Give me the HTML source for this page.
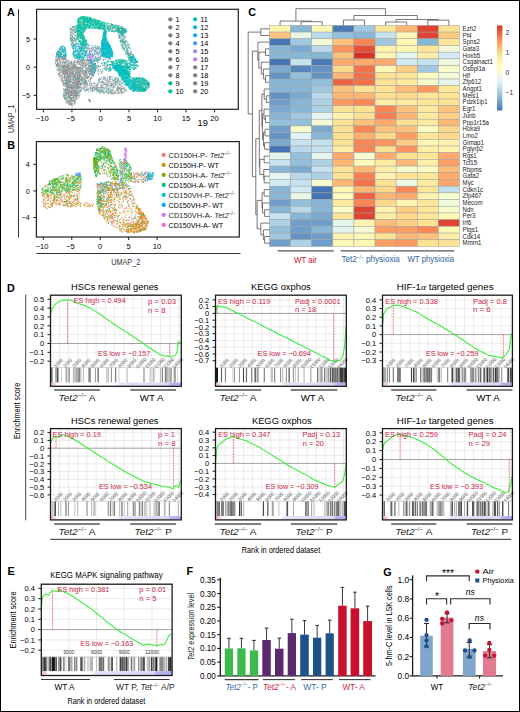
<!DOCTYPE html><html><head><meta charset="utf-8"><style>html,body{margin:0;padding:0;background:#fff;overflow:hidden}svg{display:block}text{font-family:"Liberation Sans",sans-serif}</style></head><body><svg width="520" height="712" viewBox="0 0 520 712"><rect x="0.50" y="0.50" width="519.00" height="711.00" fill="#fff" stroke="#000" stroke-width="1"/>
<text x="7.0" y="15.8" font-size="10.8" fill="#000" font-weight="bold">A</text>
<text x="7.3" y="149.2" font-size="10.8" fill="#000" font-weight="bold">B</text>
<text x="248.2" y="15.6" font-size="10.8" fill="#000" font-weight="bold">C</text>
<text x="7.0" y="291.8" font-size="10.8" fill="#000" font-weight="bold">D</text>
<text x="7.4" y="574.9" font-size="10.8" fill="#000" font-weight="bold">E</text>
<text x="186.4" y="574.7" font-size="10.8" fill="#000" font-weight="bold">F</text>
<text x="383.2" y="575.5" font-size="10.8" fill="#000" font-weight="bold">G</text>
<rect x="36.60" y="9.30" width="201.70" height="100.00" fill="none" stroke="#231f20" stroke-width="1.2"/>
<line x1="33.60" y1="39.00" x2="36.60" y2="39.00" stroke="#231f20" stroke-width="1"/>
<text x="30.0" y="41.6" font-size="7.2" text-anchor="end">5</text>
<line x1="33.60" y1="67.20" x2="36.60" y2="67.20" stroke="#231f20" stroke-width="1"/>
<text x="30.0" y="69.8" font-size="7.2" text-anchor="end">0</text>
<line x1="33.60" y1="95.30" x2="36.60" y2="95.30" stroke="#231f20" stroke-width="1"/>
<text x="30.0" y="97.9" font-size="7.2" text-anchor="end">−5</text>
<line x1="43.40" y1="109.30" x2="43.40" y2="112.30" stroke="#231f20" stroke-width="1"/>
<text x="42.2" y="121.3" font-size="7.6" text-anchor="middle">−10</text>
<line x1="71.93" y1="109.30" x2="71.93" y2="112.30" stroke="#231f20" stroke-width="1"/>
<text x="70.7" y="121.3" font-size="7.6" text-anchor="middle">−5</text>
<line x1="100.46" y1="109.30" x2="100.46" y2="112.30" stroke="#231f20" stroke-width="1"/>
<text x="100.5" y="121.3" font-size="7.6" text-anchor="middle">0</text>
<line x1="128.99" y1="109.30" x2="128.99" y2="112.30" stroke="#231f20" stroke-width="1"/>
<text x="129.0" y="121.3" font-size="7.6" text-anchor="middle">5</text>
<line x1="157.52" y1="109.30" x2="157.52" y2="112.30" stroke="#231f20" stroke-width="1"/>
<text x="157.5" y="121.3" font-size="7.6" text-anchor="middle">10</text>
<line x1="186.05" y1="109.30" x2="186.05" y2="112.30" stroke="#231f20" stroke-width="1"/>
<text x="186.1" y="121.3" font-size="7.6" text-anchor="middle">15</text>
<line x1="214.58" y1="109.30" x2="214.58" y2="112.30" stroke="#231f20" stroke-width="1"/>
<text x="214.6" y="121.3" font-size="7.6" text-anchor="middle">20</text>
<text x="197.6" y="125.9" font-size="9.2">19</text>
<line x1="18.50" y1="9.20" x2="18.50" y2="237.20" stroke="#333" stroke-width="1"/>
<text x="0.0" y="0.0" font-size="8.6" fill="#333" textLength="28.4" lengthAdjust="spacingAndGlyphs" transform="translate(14.3,133) rotate(-90)">UMAP_1</text>
<circle cx="170.3" cy="19.3" r="2.1" fill="#7f7f7f"/>
<text x="175.5" y="21.9" font-size="7.3">1</text>
<circle cx="170.3" cy="27.3" r="2.1" fill="#7f7f7f"/>
<text x="175.5" y="29.9" font-size="7.3">2</text>
<circle cx="170.3" cy="35.3" r="2.1" fill="#7f7f7f"/>
<text x="175.5" y="37.9" font-size="7.3">3</text>
<circle cx="170.3" cy="43.3" r="2.1" fill="#7f7f7f"/>
<text x="175.5" y="45.9" font-size="7.3">4</text>
<circle cx="170.3" cy="51.3" r="2.1" fill="#7f7f7f"/>
<text x="175.5" y="53.9" font-size="7.3">5</text>
<circle cx="170.3" cy="59.3" r="2.1" fill="#7f7f7f"/>
<text x="175.5" y="61.9" font-size="7.3">6</text>
<circle cx="170.3" cy="67.3" r="2.1" fill="#7f7f7f"/>
<text x="175.5" y="69.9" font-size="7.3">7</text>
<circle cx="170.3" cy="75.3" r="2.1" fill="#7f7f7f"/>
<text x="175.5" y="77.9" font-size="7.3">8</text>
<circle cx="170.3" cy="83.3" r="2.1" fill="#00BF7D"/>
<text x="175.5" y="85.9" font-size="7.3">9</text>
<circle cx="170.3" cy="91.3" r="2.1" fill="#00C1A3"/>
<text x="175.5" y="93.9" font-size="7.3">10</text>
<circle cx="195.1" cy="19.3" r="2.1" fill="#00BFC4"/>
<text x="200.3" y="21.9" font-size="7.3">11</text>
<circle cx="195.1" cy="27.3" r="2.1" fill="#00BAE0"/>
<text x="200.3" y="29.9" font-size="7.3">12</text>
<circle cx="195.1" cy="35.3" r="2.1" fill="#00B0F6"/>
<text x="200.3" y="37.9" font-size="7.3">13</text>
<circle cx="195.1" cy="43.3" r="2.1" fill="#35A2FF"/>
<text x="200.3" y="45.9" font-size="7.3">14</text>
<circle cx="195.1" cy="51.3" r="2.1" fill="#9590FF"/>
<text x="200.3" y="53.9" font-size="7.3">15</text>
<circle cx="195.1" cy="59.3" r="2.1" fill="#C77CFF"/>
<text x="200.3" y="61.9" font-size="7.3">16</text>
<circle cx="195.1" cy="67.3" r="2.1" fill="#7f7f7f"/>
<text x="200.3" y="69.9" font-size="7.3">17</text>
<circle cx="195.1" cy="75.3" r="2.1" fill="#7f7f7f"/>
<text x="200.3" y="77.9" font-size="7.3">18</text>
<circle cx="195.1" cy="83.3" r="2.1" fill="#7f7f7f"/>
<text x="200.3" y="85.9" font-size="7.3">19</text>
<circle cx="195.1" cy="91.3" r="2.1" fill="#7f7f7f"/>
<text x="200.3" y="93.9" font-size="7.3">20</text>
<rect x="36.40" y="141.60" width="202.90" height="95.40" fill="none" stroke="#231f20" stroke-width="1.2"/>
<line x1="33.40" y1="164.30" x2="36.40" y2="164.30" stroke="#231f20" stroke-width="1"/>
<text x="29.8" y="166.9" font-size="7.2" text-anchor="end">4</text>
<line x1="33.40" y1="190.90" x2="36.40" y2="190.90" stroke="#231f20" stroke-width="1"/>
<text x="29.8" y="193.5" font-size="7.2" text-anchor="end">0</text>
<line x1="33.40" y1="217.50" x2="36.40" y2="217.50" stroke="#231f20" stroke-width="1"/>
<text x="29.8" y="220.1" font-size="7.2" text-anchor="end">−4</text>
<line x1="43.30" y1="237.00" x2="43.30" y2="240.00" stroke="#231f20" stroke-width="1"/>
<text x="42.1" y="249.3" font-size="7.6" text-anchor="middle">−10</text>
<line x1="71.75" y1="237.00" x2="71.75" y2="240.00" stroke="#231f20" stroke-width="1"/>
<text x="70.5" y="249.3" font-size="7.6" text-anchor="middle">−5</text>
<line x1="100.20" y1="237.00" x2="100.20" y2="240.00" stroke="#231f20" stroke-width="1"/>
<text x="100.2" y="249.3" font-size="7.6" text-anchor="middle">0</text>
<line x1="128.65" y1="237.00" x2="128.65" y2="240.00" stroke="#231f20" stroke-width="1"/>
<text x="128.6" y="249.3" font-size="7.6" text-anchor="middle">5</text>
<line x1="157.10" y1="237.00" x2="157.10" y2="240.00" stroke="#231f20" stroke-width="1"/>
<text x="157.1" y="249.3" font-size="7.6" text-anchor="middle">10</text>
<line x1="36.30" y1="253.50" x2="240.50" y2="253.50" stroke="#333" stroke-width="1"/>
<text x="111.2" y="265.2" font-size="8.6" fill="#333" textLength="29" lengthAdjust="spacingAndGlyphs">UMAP_2</text>
<circle cx="163.7" cy="154.9" r="2.1" fill="#F8766D"/>
<text x="168.5" y="158.0" font-size="7.6" fill="#231f20" textLength="62.6" lengthAdjust="spacingAndGlyphs">CD150H-P- <tspan font-style="italic">Tet2</tspan><tspan font-size="4.8" dy="-3.0">−/−</tspan></text>
<circle cx="163.7" cy="164.9" r="2.1" fill="#CD9600"/>
<text x="168.5" y="168.0" font-size="7.6" textLength="50.4" lengthAdjust="spacingAndGlyphs">CD150H-P- WT</text>
<circle cx="163.7" cy="174.9" r="2.1" fill="#7CAE00"/>
<text x="168.5" y="178.0" font-size="7.6" fill="#231f20" textLength="63.0" lengthAdjust="spacingAndGlyphs">CD150H-A- <tspan font-style="italic">Tet2</tspan><tspan font-size="4.8" dy="-3.0">−/−</tspan></text>
<circle cx="163.7" cy="184.9" r="2.1" fill="#00BE67"/>
<text x="168.5" y="188.0" font-size="7.6" textLength="50.7" lengthAdjust="spacingAndGlyphs">CD150H-A- WT</text>
<circle cx="163.7" cy="194.9" r="2.1" fill="#00BFC4"/>
<text x="168.5" y="198.0" font-size="7.6" fill="#231f20" textLength="66.9" lengthAdjust="spacingAndGlyphs">CD150VH-P- <tspan font-style="italic">Tet2</tspan><tspan font-size="4.8" dy="-3.0">−/−</tspan></text>
<circle cx="163.7" cy="204.9" r="2.1" fill="#00A9FF"/>
<text x="168.5" y="208.0" font-size="7.6" textLength="54.9" lengthAdjust="spacingAndGlyphs">CD150VH-P- WT</text>
<circle cx="163.7" cy="214.9" r="2.1" fill="#C77CFF"/>
<text x="168.5" y="218.0" font-size="7.6" fill="#231f20" textLength="66.9" lengthAdjust="spacingAndGlyphs">CD150VH-A- <tspan font-style="italic">Tet2</tspan><tspan font-size="4.8" dy="-3.0">−/−</tspan></text>
<circle cx="163.7" cy="224.9" r="2.1" fill="#FF61CC"/>
<text x="168.5" y="228.0" font-size="7.6" textLength="54.6" lengthAdjust="spacingAndGlyphs">CD150VH-A- WT</text>
<rect x="269.50" y="25.40" width="21.11" height="6.70" fill="#fff3ad" stroke="#a0a0a0" stroke-width="0.5"/>
<rect x="290.61" y="25.40" width="21.11" height="6.70" fill="#87b6d6" stroke="#a0a0a0" stroke-width="0.5"/>
<rect x="311.72" y="25.40" width="21.11" height="6.70" fill="#fff8b4" stroke="#a0a0a0" stroke-width="0.5"/>
<rect x="332.83" y="25.40" width="21.11" height="6.70" fill="#4b7bb7" stroke="#a0a0a0" stroke-width="0.5"/>
<rect x="353.94" y="25.40" width="21.11" height="6.70" fill="#a0c9e1" stroke="#a0a0a0" stroke-width="0.5"/>
<rect x="375.05" y="25.40" width="21.11" height="6.70" fill="#fee699" stroke="#a0a0a0" stroke-width="0.5"/>
<rect x="396.16" y="25.40" width="21.11" height="6.70" fill="#fdb674" stroke="#a0a0a0" stroke-width="0.5"/>
<rect x="417.27" y="25.40" width="21.11" height="6.70" fill="#df4432" stroke="#a0a0a0" stroke-width="0.5"/>
<rect x="438.38" y="25.40" width="21.11" height="6.70" fill="#fee293" stroke="#a0a0a0" stroke-width="0.5"/>
<rect x="269.50" y="32.10" width="21.11" height="6.70" fill="#fdc27c" stroke="#a0a0a0" stroke-width="0.5"/>
<rect x="290.61" y="32.10" width="21.11" height="6.70" fill="#e9f7e7" stroke="#a0a0a0" stroke-width="0.5"/>
<rect x="311.72" y="32.10" width="21.11" height="6.70" fill="#b9d9ea" stroke="#a0a0a0" stroke-width="0.5"/>
<rect x="332.83" y="32.10" width="21.11" height="6.70" fill="#93c1dc" stroke="#a0a0a0" stroke-width="0.5"/>
<rect x="353.94" y="32.10" width="21.11" height="6.70" fill="#87b6d6" stroke="#a0a0a0" stroke-width="0.5"/>
<rect x="375.05" y="32.10" width="21.11" height="6.70" fill="#c6e2ee" stroke="#a0a0a0" stroke-width="0.5"/>
<rect x="396.16" y="32.10" width="21.11" height="6.70" fill="#fffab7" stroke="#a0a0a0" stroke-width="0.5"/>
<rect x="417.27" y="32.10" width="21.11" height="6.70" fill="#df4432" stroke="#a0a0a0" stroke-width="0.5"/>
<rect x="438.38" y="32.10" width="21.11" height="6.70" fill="#fecd84" stroke="#a0a0a0" stroke-width="0.5"/>
<rect x="269.50" y="38.80" width="21.11" height="6.70" fill="#4575b4" stroke="#a0a0a0" stroke-width="0.5"/>
<rect x="290.61" y="38.80" width="21.11" height="6.70" fill="#a0c9e1" stroke="#a0a0a0" stroke-width="0.5"/>
<rect x="311.72" y="38.80" width="21.11" height="6.70" fill="#f3fad5" stroke="#a0a0a0" stroke-width="0.5"/>
<rect x="332.83" y="38.80" width="21.11" height="6.70" fill="#fdc27c" stroke="#a0a0a0" stroke-width="0.5"/>
<rect x="353.94" y="38.80" width="21.11" height="6.70" fill="#f98655" stroke="#a0a0a0" stroke-width="0.5"/>
<rect x="375.05" y="38.80" width="21.11" height="6.70" fill="#a0c9e1" stroke="#a0a0a0" stroke-width="0.5"/>
<rect x="396.16" y="38.80" width="21.11" height="6.70" fill="#fff8b4" stroke="#a0a0a0" stroke-width="0.5"/>
<rect x="417.27" y="38.80" width="21.11" height="6.70" fill="#87b6d6" stroke="#a0a0a0" stroke-width="0.5"/>
<rect x="438.38" y="38.80" width="21.11" height="6.70" fill="#fee699" stroke="#a0a0a0" stroke-width="0.5"/>
<rect x="269.50" y="45.50" width="21.11" height="6.70" fill="#87b6d6" stroke="#a0a0a0" stroke-width="0.5"/>
<rect x="290.61" y="45.50" width="21.11" height="6.70" fill="#7baad0" stroke="#a0a0a0" stroke-width="0.5"/>
<rect x="311.72" y="45.50" width="21.11" height="6.70" fill="#b9d9ea" stroke="#a0a0a0" stroke-width="0.5"/>
<rect x="332.83" y="45.50" width="21.11" height="6.70" fill="#fc925d" stroke="#a0a0a0" stroke-width="0.5"/>
<rect x="353.94" y="45.50" width="21.11" height="6.70" fill="#e45139" stroke="#a0a0a0" stroke-width="0.5"/>
<rect x="375.05" y="45.50" width="21.11" height="6.70" fill="#fff3ad" stroke="#a0a0a0" stroke-width="0.5"/>
<rect x="396.16" y="45.50" width="21.11" height="6.70" fill="#fff8b4" stroke="#a0a0a0" stroke-width="0.5"/>
<rect x="417.27" y="45.50" width="21.11" height="6.70" fill="#fee699" stroke="#a0a0a0" stroke-width="0.5"/>
<rect x="438.38" y="45.50" width="21.11" height="6.70" fill="#f3fad5" stroke="#a0a0a0" stroke-width="0.5"/>
<rect x="269.50" y="52.20" width="21.11" height="6.70" fill="#87b6d6" stroke="#a0a0a0" stroke-width="0.5"/>
<rect x="290.61" y="52.20" width="21.11" height="6.70" fill="#87b6d6" stroke="#a0a0a0" stroke-width="0.5"/>
<rect x="311.72" y="52.20" width="21.11" height="6.70" fill="#87b6d6" stroke="#a0a0a0" stroke-width="0.5"/>
<rect x="332.83" y="52.20" width="21.11" height="6.70" fill="#fdc27c" stroke="#a0a0a0" stroke-width="0.5"/>
<rect x="353.94" y="52.20" width="21.11" height="6.70" fill="#d73027" stroke="#a0a0a0" stroke-width="0.5"/>
<rect x="375.05" y="52.20" width="21.11" height="6.70" fill="#fff8b4" stroke="#a0a0a0" stroke-width="0.5"/>
<rect x="396.16" y="52.20" width="21.11" height="6.70" fill="#e4f5f0" stroke="#a0a0a0" stroke-width="0.5"/>
<rect x="417.27" y="52.20" width="21.11" height="6.70" fill="#feefa7" stroke="#a0a0a0" stroke-width="0.5"/>
<rect x="438.38" y="52.20" width="21.11" height="6.70" fill="#d2eaf3" stroke="#a0a0a0" stroke-width="0.5"/>
<rect x="269.50" y="58.90" width="21.11" height="6.70" fill="#4575b4" stroke="#a0a0a0" stroke-width="0.5"/>
<rect x="290.61" y="58.90" width="21.11" height="6.70" fill="#c6e2ee" stroke="#a0a0a0" stroke-width="0.5"/>
<rect x="311.72" y="58.90" width="21.11" height="6.70" fill="#4b7bb7" stroke="#a0a0a0" stroke-width="0.5"/>
<rect x="332.83" y="58.90" width="21.11" height="6.70" fill="#fdaa6c" stroke="#a0a0a0" stroke-width="0.5"/>
<rect x="353.94" y="58.90" width="21.11" height="6.70" fill="#fdaa6c" stroke="#a0a0a0" stroke-width="0.5"/>
<rect x="375.05" y="58.90" width="21.11" height="6.70" fill="#fdaa6c" stroke="#a0a0a0" stroke-width="0.5"/>
<rect x="396.16" y="58.90" width="21.11" height="6.70" fill="#d2eaf3" stroke="#a0a0a0" stroke-width="0.5"/>
<rect x="417.27" y="58.90" width="21.11" height="6.70" fill="#c6e2ee" stroke="#a0a0a0" stroke-width="0.5"/>
<rect x="438.38" y="58.90" width="21.11" height="6.70" fill="#eef9de" stroke="#a0a0a0" stroke-width="0.5"/>
<rect x="269.50" y="65.60" width="21.11" height="6.70" fill="#7baad0" stroke="#a0a0a0" stroke-width="0.5"/>
<rect x="290.61" y="65.60" width="21.11" height="6.70" fill="#5786bd" stroke="#a0a0a0" stroke-width="0.5"/>
<rect x="311.72" y="65.60" width="21.11" height="6.70" fill="#6392c3" stroke="#a0a0a0" stroke-width="0.5"/>
<rect x="332.83" y="65.60" width="21.11" height="6.70" fill="#fed98b" stroke="#a0a0a0" stroke-width="0.5"/>
<rect x="353.94" y="65.60" width="21.11" height="6.70" fill="#f1724b" stroke="#a0a0a0" stroke-width="0.5"/>
<rect x="375.05" y="65.60" width="21.11" height="6.70" fill="#fff8b4" stroke="#a0a0a0" stroke-width="0.5"/>
<rect x="396.16" y="65.60" width="21.11" height="6.70" fill="#fecd84" stroke="#a0a0a0" stroke-width="0.5"/>
<rect x="417.27" y="65.60" width="21.11" height="6.70" fill="#a0c9e1" stroke="#a0a0a0" stroke-width="0.5"/>
<rect x="438.38" y="65.60" width="21.11" height="6.70" fill="#f8fccb" stroke="#a0a0a0" stroke-width="0.5"/>
<rect x="269.50" y="72.30" width="21.11" height="6.70" fill="#6392c3" stroke="#a0a0a0" stroke-width="0.5"/>
<rect x="290.61" y="72.30" width="21.11" height="6.70" fill="#93c1dc" stroke="#a0a0a0" stroke-width="0.5"/>
<rect x="311.72" y="72.30" width="21.11" height="6.70" fill="#6392c3" stroke="#a0a0a0" stroke-width="0.5"/>
<rect x="332.83" y="72.30" width="21.11" height="6.70" fill="#fdb674" stroke="#a0a0a0" stroke-width="0.5"/>
<rect x="353.94" y="72.30" width="21.11" height="6.70" fill="#f1724b" stroke="#a0a0a0" stroke-width="0.5"/>
<rect x="375.05" y="72.30" width="21.11" height="6.70" fill="#fee293" stroke="#a0a0a0" stroke-width="0.5"/>
<rect x="396.16" y="72.30" width="21.11" height="6.70" fill="#fee699" stroke="#a0a0a0" stroke-width="0.5"/>
<rect x="417.27" y="72.30" width="21.11" height="6.70" fill="#fdfec2" stroke="#a0a0a0" stroke-width="0.5"/>
<rect x="438.38" y="72.30" width="21.11" height="6.70" fill="#f3fad5" stroke="#a0a0a0" stroke-width="0.5"/>
<rect x="269.50" y="79.00" width="21.11" height="6.70" fill="#87b6d6" stroke="#a0a0a0" stroke-width="0.5"/>
<rect x="290.61" y="79.00" width="21.11" height="6.70" fill="#87b6d6" stroke="#a0a0a0" stroke-width="0.5"/>
<rect x="311.72" y="79.00" width="21.11" height="6.70" fill="#93c1dc" stroke="#a0a0a0" stroke-width="0.5"/>
<rect x="332.83" y="79.00" width="21.11" height="6.70" fill="#ec6543" stroke="#a0a0a0" stroke-width="0.5"/>
<rect x="353.94" y="79.00" width="21.11" height="6.70" fill="#f1724b" stroke="#a0a0a0" stroke-width="0.5"/>
<rect x="375.05" y="79.00" width="21.11" height="6.70" fill="#fee293" stroke="#a0a0a0" stroke-width="0.5"/>
<rect x="396.16" y="79.00" width="21.11" height="6.70" fill="#feeba0" stroke="#a0a0a0" stroke-width="0.5"/>
<rect x="417.27" y="79.00" width="21.11" height="6.70" fill="#f8fccb" stroke="#a0a0a0" stroke-width="0.5"/>
<rect x="438.38" y="79.00" width="21.11" height="6.70" fill="#e4f5f0" stroke="#a0a0a0" stroke-width="0.5"/>
<rect x="269.50" y="85.70" width="21.11" height="6.70" fill="#87b6d6" stroke="#a0a0a0" stroke-width="0.5"/>
<rect x="290.61" y="85.70" width="21.11" height="6.70" fill="#87b6d6" stroke="#a0a0a0" stroke-width="0.5"/>
<rect x="311.72" y="85.70" width="21.11" height="6.70" fill="#a0c9e1" stroke="#a0a0a0" stroke-width="0.5"/>
<rect x="332.83" y="85.70" width="21.11" height="6.70" fill="#fdc27c" stroke="#a0a0a0" stroke-width="0.5"/>
<rect x="353.94" y="85.70" width="21.11" height="6.70" fill="#fee293" stroke="#a0a0a0" stroke-width="0.5"/>
<rect x="375.05" y="85.70" width="21.11" height="6.70" fill="#fee293" stroke="#a0a0a0" stroke-width="0.5"/>
<rect x="396.16" y="85.70" width="21.11" height="6.70" fill="#fdbc78" stroke="#a0a0a0" stroke-width="0.5"/>
<rect x="417.27" y="85.70" width="21.11" height="6.70" fill="#fc9860" stroke="#a0a0a0" stroke-width="0.5"/>
<rect x="438.38" y="85.70" width="21.11" height="6.70" fill="#fee699" stroke="#a0a0a0" stroke-width="0.5"/>
<rect x="269.50" y="92.40" width="21.11" height="6.70" fill="#6392c3" stroke="#a0a0a0" stroke-width="0.5"/>
<rect x="290.61" y="92.40" width="21.11" height="6.70" fill="#7baad0" stroke="#a0a0a0" stroke-width="0.5"/>
<rect x="311.72" y="92.40" width="21.11" height="6.70" fill="#b9d9ea" stroke="#a0a0a0" stroke-width="0.5"/>
<rect x="332.83" y="92.40" width="21.11" height="6.70" fill="#fdb674" stroke="#a0a0a0" stroke-width="0.5"/>
<rect x="353.94" y="92.40" width="21.11" height="6.70" fill="#fdb674" stroke="#a0a0a0" stroke-width="0.5"/>
<rect x="375.05" y="92.40" width="21.11" height="6.70" fill="#fee293" stroke="#a0a0a0" stroke-width="0.5"/>
<rect x="396.16" y="92.40" width="21.11" height="6.70" fill="#fed98b" stroke="#a0a0a0" stroke-width="0.5"/>
<rect x="417.27" y="92.40" width="21.11" height="6.70" fill="#fee699" stroke="#a0a0a0" stroke-width="0.5"/>
<rect x="438.38" y="92.40" width="21.11" height="6.70" fill="#fee293" stroke="#a0a0a0" stroke-width="0.5"/>
<rect x="269.50" y="99.10" width="21.11" height="6.70" fill="#6f9eca" stroke="#a0a0a0" stroke-width="0.5"/>
<rect x="290.61" y="99.10" width="21.11" height="6.70" fill="#87b6d6" stroke="#a0a0a0" stroke-width="0.5"/>
<rect x="311.72" y="99.10" width="21.11" height="6.70" fill="#add1e5" stroke="#a0a0a0" stroke-width="0.5"/>
<rect x="332.83" y="99.10" width="21.11" height="6.70" fill="#fc9860" stroke="#a0a0a0" stroke-width="0.5"/>
<rect x="353.94" y="99.10" width="21.11" height="6.70" fill="#f98655" stroke="#a0a0a0" stroke-width="0.5"/>
<rect x="375.05" y="99.10" width="21.11" height="6.70" fill="#feefa7" stroke="#a0a0a0" stroke-width="0.5"/>
<rect x="396.16" y="99.10" width="21.11" height="6.70" fill="#feeba0" stroke="#a0a0a0" stroke-width="0.5"/>
<rect x="417.27" y="99.10" width="21.11" height="6.70" fill="#fee699" stroke="#a0a0a0" stroke-width="0.5"/>
<rect x="438.38" y="99.10" width="21.11" height="6.70" fill="#fee293" stroke="#a0a0a0" stroke-width="0.5"/>
<rect x="269.50" y="105.80" width="21.11" height="6.70" fill="#7baad0" stroke="#a0a0a0" stroke-width="0.5"/>
<rect x="290.61" y="105.80" width="21.11" height="6.70" fill="#87b6d6" stroke="#a0a0a0" stroke-width="0.5"/>
<rect x="311.72" y="105.80" width="21.11" height="6.70" fill="#add1e5" stroke="#a0a0a0" stroke-width="0.5"/>
<rect x="332.83" y="105.80" width="21.11" height="6.70" fill="#fee293" stroke="#a0a0a0" stroke-width="0.5"/>
<rect x="353.94" y="105.80" width="21.11" height="6.70" fill="#fee293" stroke="#a0a0a0" stroke-width="0.5"/>
<rect x="375.05" y="105.80" width="21.11" height="6.70" fill="#f98655" stroke="#a0a0a0" stroke-width="0.5"/>
<rect x="396.16" y="105.80" width="21.11" height="6.70" fill="#fdc27c" stroke="#a0a0a0" stroke-width="0.5"/>
<rect x="417.27" y="105.80" width="21.11" height="6.70" fill="#feeba0" stroke="#a0a0a0" stroke-width="0.5"/>
<rect x="438.38" y="105.80" width="21.11" height="6.70" fill="#fdc27c" stroke="#a0a0a0" stroke-width="0.5"/>
<rect x="269.50" y="112.50" width="21.11" height="6.70" fill="#87b6d6" stroke="#a0a0a0" stroke-width="0.5"/>
<rect x="290.61" y="112.50" width="21.11" height="6.70" fill="#a0c9e1" stroke="#a0a0a0" stroke-width="0.5"/>
<rect x="311.72" y="112.50" width="21.11" height="6.70" fill="#e4f5f0" stroke="#a0a0a0" stroke-width="0.5"/>
<rect x="332.83" y="112.50" width="21.11" height="6.70" fill="#fff3ad" stroke="#a0a0a0" stroke-width="0.5"/>
<rect x="353.94" y="112.50" width="21.11" height="6.70" fill="#fee293" stroke="#a0a0a0" stroke-width="0.5"/>
<rect x="375.05" y="112.50" width="21.11" height="6.70" fill="#f77f52" stroke="#a0a0a0" stroke-width="0.5"/>
<rect x="396.16" y="112.50" width="21.11" height="6.70" fill="#fdb674" stroke="#a0a0a0" stroke-width="0.5"/>
<rect x="417.27" y="112.50" width="21.11" height="6.70" fill="#feeba0" stroke="#a0a0a0" stroke-width="0.5"/>
<rect x="438.38" y="112.50" width="21.11" height="6.70" fill="#fecd84" stroke="#a0a0a0" stroke-width="0.5"/>
<rect x="269.50" y="119.20" width="21.11" height="6.70" fill="#93c1dc" stroke="#a0a0a0" stroke-width="0.5"/>
<rect x="290.61" y="119.20" width="21.11" height="6.70" fill="#93c1dc" stroke="#a0a0a0" stroke-width="0.5"/>
<rect x="311.72" y="119.20" width="21.11" height="6.70" fill="#f3fad5" stroke="#a0a0a0" stroke-width="0.5"/>
<rect x="332.83" y="119.20" width="21.11" height="6.70" fill="#fee293" stroke="#a0a0a0" stroke-width="0.5"/>
<rect x="353.94" y="119.20" width="21.11" height="6.70" fill="#fdc27c" stroke="#a0a0a0" stroke-width="0.5"/>
<rect x="375.05" y="119.20" width="21.11" height="6.70" fill="#fdaa6c" stroke="#a0a0a0" stroke-width="0.5"/>
<rect x="396.16" y="119.20" width="21.11" height="6.70" fill="#fee293" stroke="#a0a0a0" stroke-width="0.5"/>
<rect x="417.27" y="119.20" width="21.11" height="6.70" fill="#feeba0" stroke="#a0a0a0" stroke-width="0.5"/>
<rect x="438.38" y="119.20" width="21.11" height="6.70" fill="#fdb674" stroke="#a0a0a0" stroke-width="0.5"/>
<rect x="269.50" y="125.90" width="21.11" height="6.70" fill="#6f9eca" stroke="#a0a0a0" stroke-width="0.5"/>
<rect x="290.61" y="125.90" width="21.11" height="6.70" fill="#f8fccb" stroke="#a0a0a0" stroke-width="0.5"/>
<rect x="311.72" y="125.90" width="21.11" height="6.70" fill="#7baad0" stroke="#a0a0a0" stroke-width="0.5"/>
<rect x="332.83" y="125.90" width="21.11" height="6.70" fill="#fee293" stroke="#a0a0a0" stroke-width="0.5"/>
<rect x="353.94" y="125.90" width="21.11" height="6.70" fill="#f98655" stroke="#a0a0a0" stroke-width="0.5"/>
<rect x="375.05" y="125.90" width="21.11" height="6.70" fill="#fdc27c" stroke="#a0a0a0" stroke-width="0.5"/>
<rect x="396.16" y="125.90" width="21.11" height="6.70" fill="#fdc27c" stroke="#a0a0a0" stroke-width="0.5"/>
<rect x="417.27" y="125.90" width="21.11" height="6.70" fill="#fdfec2" stroke="#a0a0a0" stroke-width="0.5"/>
<rect x="438.38" y="125.90" width="21.11" height="6.70" fill="#fed98b" stroke="#a0a0a0" stroke-width="0.5"/>
<rect x="269.50" y="132.60" width="21.11" height="6.70" fill="#6392c3" stroke="#a0a0a0" stroke-width="0.5"/>
<rect x="290.61" y="132.60" width="21.11" height="6.70" fill="#dff2f8" stroke="#a0a0a0" stroke-width="0.5"/>
<rect x="311.72" y="132.60" width="21.11" height="6.70" fill="#87b6d6" stroke="#a0a0a0" stroke-width="0.5"/>
<rect x="332.83" y="132.60" width="21.11" height="6.70" fill="#fedf8f" stroke="#a0a0a0" stroke-width="0.5"/>
<rect x="353.94" y="132.60" width="21.11" height="6.70" fill="#fdb070" stroke="#a0a0a0" stroke-width="0.5"/>
<rect x="375.05" y="132.60" width="21.11" height="6.70" fill="#fed98b" stroke="#a0a0a0" stroke-width="0.5"/>
<rect x="396.16" y="132.60" width="21.11" height="6.70" fill="#fc9e64" stroke="#a0a0a0" stroke-width="0.5"/>
<rect x="417.27" y="132.60" width="21.11" height="6.70" fill="#fee699" stroke="#a0a0a0" stroke-width="0.5"/>
<rect x="438.38" y="132.60" width="21.11" height="6.70" fill="#fed98b" stroke="#a0a0a0" stroke-width="0.5"/>
<rect x="269.50" y="139.30" width="21.11" height="6.70" fill="#7baad0" stroke="#a0a0a0" stroke-width="0.5"/>
<rect x="290.61" y="139.30" width="21.11" height="6.70" fill="#c6e2ee" stroke="#a0a0a0" stroke-width="0.5"/>
<rect x="311.72" y="139.30" width="21.11" height="6.70" fill="#c6e2ee" stroke="#a0a0a0" stroke-width="0.5"/>
<rect x="332.83" y="139.30" width="21.11" height="6.70" fill="#fee293" stroke="#a0a0a0" stroke-width="0.5"/>
<rect x="353.94" y="139.30" width="21.11" height="6.70" fill="#f98655" stroke="#a0a0a0" stroke-width="0.5"/>
<rect x="375.05" y="139.30" width="21.11" height="6.70" fill="#fc925d" stroke="#a0a0a0" stroke-width="0.5"/>
<rect x="396.16" y="139.30" width="21.11" height="6.70" fill="#fecd84" stroke="#a0a0a0" stroke-width="0.5"/>
<rect x="417.27" y="139.30" width="21.11" height="6.70" fill="#fff8b4" stroke="#a0a0a0" stroke-width="0.5"/>
<rect x="438.38" y="139.30" width="21.11" height="6.70" fill="#fff3ad" stroke="#a0a0a0" stroke-width="0.5"/>
<rect x="269.50" y="146.00" width="21.11" height="6.70" fill="#4575b4" stroke="#a0a0a0" stroke-width="0.5"/>
<rect x="290.61" y="146.00" width="21.11" height="6.70" fill="#b9d9ea" stroke="#a0a0a0" stroke-width="0.5"/>
<rect x="311.72" y="146.00" width="21.11" height="6.70" fill="#c6e2ee" stroke="#a0a0a0" stroke-width="0.5"/>
<rect x="332.83" y="146.00" width="21.11" height="6.70" fill="#feefa7" stroke="#a0a0a0" stroke-width="0.5"/>
<rect x="353.94" y="146.00" width="21.11" height="6.70" fill="#f98655" stroke="#a0a0a0" stroke-width="0.5"/>
<rect x="375.05" y="146.00" width="21.11" height="6.70" fill="#fee293" stroke="#a0a0a0" stroke-width="0.5"/>
<rect x="396.16" y="146.00" width="21.11" height="6.70" fill="#fc925d" stroke="#a0a0a0" stroke-width="0.5"/>
<rect x="417.27" y="146.00" width="21.11" height="6.70" fill="#feefa7" stroke="#a0a0a0" stroke-width="0.5"/>
<rect x="438.38" y="146.00" width="21.11" height="6.70" fill="#fff3ad" stroke="#a0a0a0" stroke-width="0.5"/>
<rect x="269.50" y="152.70" width="21.11" height="6.70" fill="#e4f5f0" stroke="#a0a0a0" stroke-width="0.5"/>
<rect x="290.61" y="152.70" width="21.11" height="6.70" fill="#93c1dc" stroke="#a0a0a0" stroke-width="0.5"/>
<rect x="311.72" y="152.70" width="21.11" height="6.70" fill="#e4f5f0" stroke="#a0a0a0" stroke-width="0.5"/>
<rect x="332.83" y="152.70" width="21.11" height="6.70" fill="#fdaa6c" stroke="#a0a0a0" stroke-width="0.5"/>
<rect x="353.94" y="152.70" width="21.11" height="6.70" fill="#f6fbd0" stroke="#a0a0a0" stroke-width="0.5"/>
<rect x="375.05" y="152.70" width="21.11" height="6.70" fill="#fdaa6c" stroke="#a0a0a0" stroke-width="0.5"/>
<rect x="396.16" y="152.70" width="21.11" height="6.70" fill="#fee293" stroke="#a0a0a0" stroke-width="0.5"/>
<rect x="417.27" y="152.70" width="21.11" height="6.70" fill="#fee699" stroke="#a0a0a0" stroke-width="0.5"/>
<rect x="438.38" y="152.70" width="21.11" height="6.70" fill="#fdaa6c" stroke="#a0a0a0" stroke-width="0.5"/>
<rect x="269.50" y="159.40" width="21.11" height="6.70" fill="#c6e2ee" stroke="#a0a0a0" stroke-width="0.5"/>
<rect x="290.61" y="159.40" width="21.11" height="6.70" fill="#93c1dc" stroke="#a0a0a0" stroke-width="0.5"/>
<rect x="311.72" y="159.40" width="21.11" height="6.70" fill="#add1e5" stroke="#a0a0a0" stroke-width="0.5"/>
<rect x="332.83" y="159.40" width="21.11" height="6.70" fill="#fdb674" stroke="#a0a0a0" stroke-width="0.5"/>
<rect x="353.94" y="159.40" width="21.11" height="6.70" fill="#fffcbb" stroke="#a0a0a0" stroke-width="0.5"/>
<rect x="375.05" y="159.40" width="21.11" height="6.70" fill="#feeba0" stroke="#a0a0a0" stroke-width="0.5"/>
<rect x="396.16" y="159.40" width="21.11" height="6.70" fill="#fdb674" stroke="#a0a0a0" stroke-width="0.5"/>
<rect x="417.27" y="159.40" width="21.11" height="6.70" fill="#fff1aa" stroke="#a0a0a0" stroke-width="0.5"/>
<rect x="438.38" y="159.40" width="21.11" height="6.70" fill="#fc9e64" stroke="#a0a0a0" stroke-width="0.5"/>
<rect x="269.50" y="166.10" width="21.11" height="6.70" fill="#87b6d6" stroke="#a0a0a0" stroke-width="0.5"/>
<rect x="290.61" y="166.10" width="21.11" height="6.70" fill="#7baad0" stroke="#a0a0a0" stroke-width="0.5"/>
<rect x="311.72" y="166.10" width="21.11" height="6.70" fill="#c6e2ee" stroke="#a0a0a0" stroke-width="0.5"/>
<rect x="332.83" y="166.10" width="21.11" height="6.70" fill="#fee293" stroke="#a0a0a0" stroke-width="0.5"/>
<rect x="353.94" y="166.10" width="21.11" height="6.70" fill="#fdb674" stroke="#a0a0a0" stroke-width="0.5"/>
<rect x="375.05" y="166.10" width="21.11" height="6.70" fill="#feefa7" stroke="#a0a0a0" stroke-width="0.5"/>
<rect x="396.16" y="166.10" width="21.11" height="6.70" fill="#f8fccb" stroke="#a0a0a0" stroke-width="0.5"/>
<rect x="417.27" y="166.10" width="21.11" height="6.70" fill="#fdfec2" stroke="#a0a0a0" stroke-width="0.5"/>
<rect x="438.38" y="166.10" width="21.11" height="6.70" fill="#fdbc78" stroke="#a0a0a0" stroke-width="0.5"/>
<rect x="269.50" y="172.80" width="21.11" height="6.70" fill="#e4f5f0" stroke="#a0a0a0" stroke-width="0.5"/>
<rect x="290.61" y="172.80" width="21.11" height="6.70" fill="#b9d9ea" stroke="#a0a0a0" stroke-width="0.5"/>
<rect x="311.72" y="172.80" width="21.11" height="6.70" fill="#add1e5" stroke="#a0a0a0" stroke-width="0.5"/>
<rect x="332.83" y="172.80" width="21.11" height="6.70" fill="#fee293" stroke="#a0a0a0" stroke-width="0.5"/>
<rect x="353.94" y="172.80" width="21.11" height="6.70" fill="#f77f52" stroke="#a0a0a0" stroke-width="0.5"/>
<rect x="375.05" y="172.80" width="21.11" height="6.70" fill="#fff3ad" stroke="#a0a0a0" stroke-width="0.5"/>
<rect x="396.16" y="172.80" width="21.11" height="6.70" fill="#fee293" stroke="#a0a0a0" stroke-width="0.5"/>
<rect x="417.27" y="172.80" width="21.11" height="6.70" fill="#fee699" stroke="#a0a0a0" stroke-width="0.5"/>
<rect x="438.38" y="172.80" width="21.11" height="6.70" fill="#fdaa6c" stroke="#a0a0a0" stroke-width="0.5"/>
<rect x="269.50" y="179.50" width="21.11" height="6.70" fill="#d2eaf3" stroke="#a0a0a0" stroke-width="0.5"/>
<rect x="290.61" y="179.50" width="21.11" height="6.70" fill="#c6e2ee" stroke="#a0a0a0" stroke-width="0.5"/>
<rect x="311.72" y="179.50" width="21.11" height="6.70" fill="#f6fbd0" stroke="#a0a0a0" stroke-width="0.5"/>
<rect x="332.83" y="179.50" width="21.11" height="6.70" fill="#fdb674" stroke="#a0a0a0" stroke-width="0.5"/>
<rect x="353.94" y="179.50" width="21.11" height="6.70" fill="#f1724b" stroke="#a0a0a0" stroke-width="0.5"/>
<rect x="375.05" y="179.50" width="21.11" height="6.70" fill="#fee293" stroke="#a0a0a0" stroke-width="0.5"/>
<rect x="396.16" y="179.50" width="21.11" height="6.70" fill="#ecf8e2" stroke="#a0a0a0" stroke-width="0.5"/>
<rect x="417.27" y="179.50" width="21.11" height="6.70" fill="#feeba0" stroke="#a0a0a0" stroke-width="0.5"/>
<rect x="438.38" y="179.50" width="21.11" height="6.70" fill="#fda468" stroke="#a0a0a0" stroke-width="0.5"/>
<rect x="269.50" y="186.20" width="21.11" height="6.70" fill="#87b6d6" stroke="#a0a0a0" stroke-width="0.5"/>
<rect x="290.61" y="186.20" width="21.11" height="6.70" fill="#d2eaf3" stroke="#a0a0a0" stroke-width="0.5"/>
<rect x="311.72" y="186.20" width="21.11" height="6.70" fill="#4575b4" stroke="#a0a0a0" stroke-width="0.5"/>
<rect x="332.83" y="186.20" width="21.11" height="6.70" fill="#fff6b1" stroke="#a0a0a0" stroke-width="0.5"/>
<rect x="353.94" y="186.20" width="21.11" height="6.70" fill="#fdb674" stroke="#a0a0a0" stroke-width="0.5"/>
<rect x="375.05" y="186.20" width="21.11" height="6.70" fill="#fed98b" stroke="#a0a0a0" stroke-width="0.5"/>
<rect x="396.16" y="186.20" width="21.11" height="6.70" fill="#f98655" stroke="#a0a0a0" stroke-width="0.5"/>
<rect x="417.27" y="186.20" width="21.11" height="6.70" fill="#fee699" stroke="#a0a0a0" stroke-width="0.5"/>
<rect x="438.38" y="186.20" width="21.11" height="6.70" fill="#bfdeec" stroke="#a0a0a0" stroke-width="0.5"/>
<rect x="269.50" y="192.90" width="21.11" height="6.70" fill="#87b6d6" stroke="#a0a0a0" stroke-width="0.5"/>
<rect x="290.61" y="192.90" width="21.11" height="6.70" fill="#e9f7e7" stroke="#a0a0a0" stroke-width="0.5"/>
<rect x="311.72" y="192.90" width="21.11" height="6.70" fill="#4575b4" stroke="#a0a0a0" stroke-width="0.5"/>
<rect x="332.83" y="192.90" width="21.11" height="6.70" fill="#fffcbb" stroke="#a0a0a0" stroke-width="0.5"/>
<rect x="353.94" y="192.90" width="21.11" height="6.70" fill="#ec6543" stroke="#a0a0a0" stroke-width="0.5"/>
<rect x="375.05" y="192.90" width="21.11" height="6.70" fill="#fdb674" stroke="#a0a0a0" stroke-width="0.5"/>
<rect x="396.16" y="192.90" width="21.11" height="6.70" fill="#fdaa6c" stroke="#a0a0a0" stroke-width="0.5"/>
<rect x="417.27" y="192.90" width="21.11" height="6.70" fill="#fff3ad" stroke="#a0a0a0" stroke-width="0.5"/>
<rect x="438.38" y="192.90" width="21.11" height="6.70" fill="#f6fbd0" stroke="#a0a0a0" stroke-width="0.5"/>
<rect x="269.50" y="199.60" width="21.11" height="6.70" fill="#6f9eca" stroke="#a0a0a0" stroke-width="0.5"/>
<rect x="290.61" y="199.60" width="21.11" height="6.70" fill="#93c1dc" stroke="#a0a0a0" stroke-width="0.5"/>
<rect x="311.72" y="199.60" width="21.11" height="6.70" fill="#87b6d6" stroke="#a0a0a0" stroke-width="0.5"/>
<rect x="332.83" y="199.60" width="21.11" height="6.70" fill="#feeba0" stroke="#a0a0a0" stroke-width="0.5"/>
<rect x="353.94" y="199.60" width="21.11" height="6.70" fill="#f98655" stroke="#a0a0a0" stroke-width="0.5"/>
<rect x="375.05" y="199.60" width="21.11" height="6.70" fill="#fed98b" stroke="#a0a0a0" stroke-width="0.5"/>
<rect x="396.16" y="199.60" width="21.11" height="6.70" fill="#fff8b4" stroke="#a0a0a0" stroke-width="0.5"/>
<rect x="417.27" y="199.60" width="21.11" height="6.70" fill="#fee699" stroke="#a0a0a0" stroke-width="0.5"/>
<rect x="438.38" y="199.60" width="21.11" height="6.70" fill="#f1fad9" stroke="#a0a0a0" stroke-width="0.5"/>
<rect x="269.50" y="206.30" width="21.11" height="6.70" fill="#87b6d6" stroke="#a0a0a0" stroke-width="0.5"/>
<rect x="290.61" y="206.30" width="21.11" height="6.70" fill="#b9d9ea" stroke="#a0a0a0" stroke-width="0.5"/>
<rect x="311.72" y="206.30" width="21.11" height="6.70" fill="#87b6d6" stroke="#a0a0a0" stroke-width="0.5"/>
<rect x="332.83" y="206.30" width="21.11" height="6.70" fill="#fbfdc7" stroke="#a0a0a0" stroke-width="0.5"/>
<rect x="353.94" y="206.30" width="21.11" height="6.70" fill="#df4432" stroke="#a0a0a0" stroke-width="0.5"/>
<rect x="375.05" y="206.30" width="21.11" height="6.70" fill="#fff3ad" stroke="#a0a0a0" stroke-width="0.5"/>
<rect x="396.16" y="206.30" width="21.11" height="6.70" fill="#fecd84" stroke="#a0a0a0" stroke-width="0.5"/>
<rect x="417.27" y="206.30" width="21.11" height="6.70" fill="#fee699" stroke="#a0a0a0" stroke-width="0.5"/>
<rect x="438.38" y="206.30" width="21.11" height="6.70" fill="#f8fccb" stroke="#a0a0a0" stroke-width="0.5"/>
<rect x="269.50" y="213.00" width="21.11" height="6.70" fill="#c6e2ee" stroke="#a0a0a0" stroke-width="0.5"/>
<rect x="290.61" y="213.00" width="21.11" height="6.70" fill="#87b6d6" stroke="#a0a0a0" stroke-width="0.5"/>
<rect x="311.72" y="213.00" width="21.11" height="6.70" fill="#7baad0" stroke="#a0a0a0" stroke-width="0.5"/>
<rect x="332.83" y="213.00" width="21.11" height="6.70" fill="#fee699" stroke="#a0a0a0" stroke-width="0.5"/>
<rect x="353.94" y="213.00" width="21.11" height="6.70" fill="#df4432" stroke="#a0a0a0" stroke-width="0.5"/>
<rect x="375.05" y="213.00" width="21.11" height="6.70" fill="#feefa7" stroke="#a0a0a0" stroke-width="0.5"/>
<rect x="396.16" y="213.00" width="21.11" height="6.70" fill="#fed98b" stroke="#a0a0a0" stroke-width="0.5"/>
<rect x="417.27" y="213.00" width="21.11" height="6.70" fill="#fee699" stroke="#a0a0a0" stroke-width="0.5"/>
<rect x="438.38" y="213.00" width="21.11" height="6.70" fill="#fff8b4" stroke="#a0a0a0" stroke-width="0.5"/>
<rect x="269.50" y="219.70" width="21.11" height="6.70" fill="#add1e5" stroke="#a0a0a0" stroke-width="0.5"/>
<rect x="290.61" y="219.70" width="21.11" height="6.70" fill="#6f9eca" stroke="#a0a0a0" stroke-width="0.5"/>
<rect x="311.72" y="219.70" width="21.11" height="6.70" fill="#6f9eca" stroke="#a0a0a0" stroke-width="0.5"/>
<rect x="332.83" y="219.70" width="21.11" height="6.70" fill="#e7f6eb" stroke="#a0a0a0" stroke-width="0.5"/>
<rect x="353.94" y="219.70" width="21.11" height="6.70" fill="#fff3ad" stroke="#a0a0a0" stroke-width="0.5"/>
<rect x="375.05" y="219.70" width="21.11" height="6.70" fill="#fdbc78" stroke="#a0a0a0" stroke-width="0.5"/>
<rect x="396.16" y="219.70" width="21.11" height="6.70" fill="#fecd84" stroke="#a0a0a0" stroke-width="0.5"/>
<rect x="417.27" y="219.70" width="21.11" height="6.70" fill="#fee293" stroke="#a0a0a0" stroke-width="0.5"/>
<rect x="438.38" y="219.70" width="21.11" height="6.70" fill="#df4432" stroke="#a0a0a0" stroke-width="0.5"/>
<rect x="269.50" y="226.40" width="21.11" height="6.70" fill="#93c1dc" stroke="#a0a0a0" stroke-width="0.5"/>
<rect x="290.61" y="226.40" width="21.11" height="6.70" fill="#6f9eca" stroke="#a0a0a0" stroke-width="0.5"/>
<rect x="311.72" y="226.40" width="21.11" height="6.70" fill="#87b6d6" stroke="#a0a0a0" stroke-width="0.5"/>
<rect x="332.83" y="226.40" width="21.11" height="6.70" fill="#e4f5f0" stroke="#a0a0a0" stroke-width="0.5"/>
<rect x="353.94" y="226.40" width="21.11" height="6.70" fill="#f3fad5" stroke="#a0a0a0" stroke-width="0.5"/>
<rect x="375.05" y="226.40" width="21.11" height="6.70" fill="#fc9e64" stroke="#a0a0a0" stroke-width="0.5"/>
<rect x="396.16" y="226.40" width="21.11" height="6.70" fill="#fc9e64" stroke="#a0a0a0" stroke-width="0.5"/>
<rect x="417.27" y="226.40" width="21.11" height="6.70" fill="#f98655" stroke="#a0a0a0" stroke-width="0.5"/>
<rect x="438.38" y="226.40" width="21.11" height="6.70" fill="#fff8b4" stroke="#a0a0a0" stroke-width="0.5"/>
<rect x="269.50" y="233.10" width="21.11" height="6.70" fill="#a0c9e1" stroke="#a0a0a0" stroke-width="0.5"/>
<rect x="290.61" y="233.10" width="21.11" height="6.70" fill="#6392c3" stroke="#a0a0a0" stroke-width="0.5"/>
<rect x="311.72" y="233.10" width="21.11" height="6.70" fill="#6f9eca" stroke="#a0a0a0" stroke-width="0.5"/>
<rect x="332.83" y="233.10" width="21.11" height="6.70" fill="#fff3ad" stroke="#a0a0a0" stroke-width="0.5"/>
<rect x="353.94" y="233.10" width="21.11" height="6.70" fill="#fff8b4" stroke="#a0a0a0" stroke-width="0.5"/>
<rect x="375.05" y="233.10" width="21.11" height="6.70" fill="#fee293" stroke="#a0a0a0" stroke-width="0.5"/>
<rect x="396.16" y="233.10" width="21.11" height="6.70" fill="#fdb674" stroke="#a0a0a0" stroke-width="0.5"/>
<rect x="417.27" y="233.10" width="21.11" height="6.70" fill="#fdc27c" stroke="#a0a0a0" stroke-width="0.5"/>
<rect x="438.38" y="233.10" width="21.11" height="6.70" fill="#feefa7" stroke="#a0a0a0" stroke-width="0.5"/>
<rect x="269.50" y="239.80" width="21.11" height="6.70" fill="#6f9eca" stroke="#a0a0a0" stroke-width="0.5"/>
<rect x="290.61" y="239.80" width="21.11" height="6.70" fill="#add1e5" stroke="#a0a0a0" stroke-width="0.5"/>
<rect x="311.72" y="239.80" width="21.11" height="6.70" fill="#6f9eca" stroke="#a0a0a0" stroke-width="0.5"/>
<rect x="332.83" y="239.80" width="21.11" height="6.70" fill="#fffab7" stroke="#a0a0a0" stroke-width="0.5"/>
<rect x="353.94" y="239.80" width="21.11" height="6.70" fill="#fff8b4" stroke="#a0a0a0" stroke-width="0.5"/>
<rect x="375.05" y="239.80" width="21.11" height="6.70" fill="#fc9e64" stroke="#a0a0a0" stroke-width="0.5"/>
<rect x="396.16" y="239.80" width="21.11" height="6.70" fill="#fc9860" stroke="#a0a0a0" stroke-width="0.5"/>
<rect x="417.27" y="239.80" width="21.11" height="6.70" fill="#fee293" stroke="#a0a0a0" stroke-width="0.5"/>
<rect x="438.38" y="239.80" width="21.11" height="6.70" fill="#fee293" stroke="#a0a0a0" stroke-width="0.5"/>
<text x="462.6" y="30.8" font-size="6.9" fill="#1a1a1a" textLength="13.8225" lengthAdjust="spacingAndGlyphs">Ezh2</text>
<text x="462.6" y="37.5" font-size="6.9" fill="#1a1a1a" textLength="9.1083" lengthAdjust="spacingAndGlyphs">Pf4</text>
<text x="462.6" y="44.1" font-size="6.9" fill="#1a1a1a" textLength="17.1981" lengthAdjust="spacingAndGlyphs">Spns2</text>
<text x="462.6" y="50.9" font-size="6.9" fill="#1a1a1a" textLength="16.5191" lengthAdjust="spacingAndGlyphs">Gata3</text>
<text x="462.6" y="57.6" font-size="6.9" fill="#1a1a1a" textLength="17.537599999999998" lengthAdjust="spacingAndGlyphs">Hoxb5</text>
<text x="462.6" y="64.2" font-size="6.9" fill="#1a1a1a" textLength="30.3416" lengthAdjust="spacingAndGlyphs">Csgalnact1</text>
<text x="462.6" y="70.9" font-size="6.9" fill="#1a1a1a" textLength="22.5816" lengthAdjust="spacingAndGlyphs">Osbpl1a</text>
<text x="462.6" y="77.6" font-size="6.9" fill="#1a1a1a" textLength="7.410799999999999" lengthAdjust="spacingAndGlyphs">Hlf</text>
<text x="462.6" y="84.3" font-size="6.9" fill="#1a1a1a" textLength="18.8859" lengthAdjust="spacingAndGlyphs">Zfp612</text>
<text x="462.6" y="91.0" font-size="6.9" fill="#1a1a1a" textLength="19.2157" lengthAdjust="spacingAndGlyphs">Angpt1</text>
<text x="462.6" y="97.8" font-size="6.9" fill="#1a1a1a" textLength="16.169900000000002" lengthAdjust="spacingAndGlyphs">Meis1</text>
<text x="462.6" y="104.4" font-size="6.9" fill="#1a1a1a" textLength="24.9484" lengthAdjust="spacingAndGlyphs">Pdzk1ip1</text>
<text x="462.6" y="111.2" font-size="6.9" fill="#1a1a1a" textLength="12.803999999999998" lengthAdjust="spacingAndGlyphs">Egr1</text>
<text x="462.6" y="117.8" font-size="6.9" fill="#1a1a1a" textLength="13.1532" lengthAdjust="spacingAndGlyphs">Junb</text>
<text x="462.6" y="124.5" font-size="6.9" fill="#1a1a1a" textLength="26.296699999999998" lengthAdjust="spacingAndGlyphs">Ppp1r15a</text>
<text x="462.6" y="131.2" font-size="6.9" fill="#1a1a1a" textLength="17.537599999999998" lengthAdjust="spacingAndGlyphs">Hoxa9</text>
<text x="462.6" y="137.9" font-size="6.9" fill="#1a1a1a" textLength="15.1708" lengthAdjust="spacingAndGlyphs">Lmo2</text>
<text x="462.6" y="144.7" font-size="6.9" fill="#1a1a1a" textLength="21.2333" lengthAdjust="spacingAndGlyphs">Gimap1</text>
<text x="462.6" y="151.3" font-size="6.9" fill="#1a1a1a" textLength="20.564" lengthAdjust="spacingAndGlyphs">Pglyrp2</text>
<text x="462.6" y="158.0" font-size="6.9" fill="#1a1a1a" textLength="14.1523" lengthAdjust="spacingAndGlyphs">Rgs1</text>
<text x="462.6" y="164.8" font-size="6.9" fill="#1a1a1a" textLength="14.501499999999998" lengthAdjust="spacingAndGlyphs">Tcf15</text>
<text x="462.6" y="171.5" font-size="6.9" fill="#1a1a1a" textLength="19.206" lengthAdjust="spacingAndGlyphs">Rbpms</text>
<text x="462.6" y="178.2" font-size="6.9" fill="#1a1a1a" textLength="16.5191" lengthAdjust="spacingAndGlyphs">Gata2</text>
<text x="462.6" y="184.8" font-size="6.9" fill="#1a1a1a" textLength="11.1259" lengthAdjust="spacingAndGlyphs">Myc</text>
<text x="462.6" y="191.6" font-size="6.9" fill="#1a1a1a" textLength="20.564" lengthAdjust="spacingAndGlyphs">Cdkn1c</text>
<text x="462.6" y="198.2" font-size="6.9" fill="#1a1a1a" textLength="18.8859" lengthAdjust="spacingAndGlyphs">Zfp467</text>
<text x="462.6" y="205.0" font-size="6.9" fill="#1a1a1a" textLength="19.884999999999998" lengthAdjust="spacingAndGlyphs">Mecom</text>
<text x="462.6" y="211.7" font-size="6.9" fill="#1a1a1a" textLength="11.1259" lengthAdjust="spacingAndGlyphs">Ndn</text>
<text x="462.6" y="218.3" font-size="6.9" fill="#1a1a1a" textLength="12.803999999999998" lengthAdjust="spacingAndGlyphs">Per3</text>
<text x="462.6" y="225.1" font-size="6.9" fill="#1a1a1a" textLength="8.759099999999998" lengthAdjust="spacingAndGlyphs">Irf6</text>
<text x="462.6" y="231.8" font-size="6.9" fill="#1a1a1a" textLength="15.5006" lengthAdjust="spacingAndGlyphs">Ptgs1</text>
<text x="462.6" y="238.5" font-size="6.9" fill="#1a1a1a" textLength="17.537599999999998" lengthAdjust="spacingAndGlyphs">Cdk14</text>
<text x="462.6" y="245.2" font-size="6.9" fill="#1a1a1a" textLength="18.8665" lengthAdjust="spacingAndGlyphs">Mmrn1</text>
<defs><linearGradient id="lg" x1="0" y1="1" x2="0" y2="0"><stop offset="0.000" stop-color="#4575b4"/><stop offset="0.167" stop-color="#91bfdb"/><stop offset="0.333" stop-color="#e0f3f8"/><stop offset="0.500" stop-color="#ffffbf"/><stop offset="0.667" stop-color="#fee090"/><stop offset="0.833" stop-color="#fc8d59"/><stop offset="1.000" stop-color="#d73027"/></linearGradient></defs>
<rect x="497.00" y="25.50" width="5.40" height="85.00" fill="url(#lg)"/>
<text x="505.5" y="35.0" font-size="6.8" fill="#333">2</text>
<text x="505.5" y="55.0" font-size="6.8" fill="#333">1</text>
<text x="505.5" y="75.0" font-size="6.8" fill="#333">0</text>
<text x="505.5" y="95.4" font-size="6.8" fill="#333">−1</text>
<polyline fill="none" stroke="#555" stroke-width="0.8" points="301.2,25.4 301.2,21.7 322.3,21.7 322.3,25.4"/>
<polyline fill="none" stroke="#555" stroke-width="0.8" points="280.1,25.4 280.1,21.1 311.7,21.1 311.7,21.7"/>
<polyline fill="none" stroke="#555" stroke-width="0.8" points="343.4,25.4 343.4,20.0 364.5,20.0 364.5,25.4"/>
<polyline fill="none" stroke="#555" stroke-width="0.8" points="385.6,25.4 385.6,22.0 406.7,22.0 406.7,25.4"/>
<polyline fill="none" stroke="#555" stroke-width="0.8" points="427.8,25.4 427.8,20.2 448.9,20.2 448.9,25.4"/>
<polyline fill="none" stroke="#555" stroke-width="0.8" points="396.2,22.0 396.2,19.5 438.4,19.5 438.4,20.2"/>
<polyline fill="none" stroke="#555" stroke-width="0.8" points="353.9,20.0 353.9,15.5 417.3,15.5 417.3,19.5"/>
<polyline fill="none" stroke="#555" stroke-width="0.8" points="295.9,21.1 295.9,8.7 385.6,8.7 385.6,15.5"/>
<line x1="277.70" y1="250.80" x2="333.80" y2="250.80" stroke="#555" stroke-width="1.2"/>
<line x1="340.80" y1="250.80" x2="454.20" y2="250.80" stroke="#555" stroke-width="1.2"/>
<text x="294.0" y="263.3" font-size="8.6" fill="#c8102e" textLength="23" lengthAdjust="spacingAndGlyphs">WT air</text>
<text x="341.5" y="262.3" font-size="8.6" fill="#2f65a0" textLength="58.3" lengthAdjust="spacingAndGlyphs">Tet2<tspan font-size="5" dy="-3.2">−/−</tspan><tspan dy="3.2"> physioxia</tspan></text>
<text x="407.5" y="262.3" font-size="8.6" fill="#2f65a0" textLength="46.7" lengthAdjust="spacingAndGlyphs">WT physioxia</text>
<polyline fill="none" stroke="#555" stroke-width="0.8" points="269.5,28.8 260.8,28.8 260.8,35.5 269.5,35.5"/>
<polyline fill="none" stroke="#555" stroke-width="0.8" points="269.5,48.8 265.5,48.8 265.5,55.5 269.5,55.5"/>
<polyline fill="none" stroke="#555" stroke-width="0.8" points="269.5,75.7 265.5,75.7 265.5,82.3 269.5,82.3"/>
<polyline fill="none" stroke="#555" stroke-width="0.8" points="269.5,69.0 263.4,69.0 263.4,79.0 265.5,79.0"/>
<polyline fill="none" stroke="#555" stroke-width="0.8" points="269.5,62.2 261.3,62.2 261.3,74.0 263.4,74.0"/>
<polyline fill="none" stroke="#555" stroke-width="0.8" points="265.5,52.2 258.8,52.2 258.8,68.1 261.3,68.1"/>
<polyline fill="none" stroke="#555" stroke-width="0.8" points="269.5,42.1 257.9,42.1 257.9,60.2 258.8,60.2"/>
<polyline fill="none" stroke="#555" stroke-width="0.8" points="269.5,95.8 266.3,95.8 266.3,102.4 269.5,102.4"/>
<polyline fill="none" stroke="#555" stroke-width="0.8" points="269.5,89.0 264.2,89.0 264.2,99.1 266.3,99.1"/>
<polyline fill="none" stroke="#555" stroke-width="0.8" points="269.5,115.8 265.5,115.8 265.5,122.6 269.5,122.6"/>
<polyline fill="none" stroke="#555" stroke-width="0.8" points="269.5,109.2 264.0,109.2 264.0,119.2 265.5,119.2"/>
<polyline fill="none" stroke="#555" stroke-width="0.8" points="269.5,129.2 265.0,129.2 265.0,135.9 269.5,135.9"/>
<polyline fill="none" stroke="#555" stroke-width="0.8" points="269.5,142.7 264.6,142.7 264.6,149.3 269.5,149.3"/>
<polyline fill="none" stroke="#555" stroke-width="0.8" points="265.0,132.6 263.5,132.6 263.5,146.0 264.6,146.0"/>
<polyline fill="none" stroke="#555" stroke-width="0.8" points="264.0,114.2 262.4,114.2 262.4,139.3 263.5,139.3"/>
<polyline fill="none" stroke="#555" stroke-width="0.8" points="264.2,94.1 261.9,94.1 261.9,126.7 262.4,126.7"/>
<polyline fill="none" stroke="#555" stroke-width="0.8" points="269.5,156.1 264.2,156.1 264.2,162.8 269.5,162.8"/>
<polyline fill="none" stroke="#555" stroke-width="0.8" points="269.5,176.2 264.2,176.2 264.2,182.9 269.5,182.9"/>
<polyline fill="none" stroke="#555" stroke-width="0.8" points="269.5,169.5 263.8,169.5 263.8,179.5 264.2,179.5"/>
<polyline fill="none" stroke="#555" stroke-width="0.8" points="264.2,159.4 259.8,159.4 259.8,174.5 263.8,174.5"/>
<polyline fill="none" stroke="#555" stroke-width="0.8" points="261.9,110.4 259.3,110.4 259.3,166.9 259.8,166.9"/>
<polyline fill="none" stroke="#555" stroke-width="0.8" points="269.5,189.6 264.2,189.6 264.2,196.2 269.5,196.2"/>
<polyline fill="none" stroke="#555" stroke-width="0.8" points="269.5,209.7 264.6,209.7 264.6,216.4 269.5,216.4"/>
<polyline fill="none" stroke="#555" stroke-width="0.8" points="269.5,203.0 262.5,203.0 262.5,213.0 264.6,213.0"/>
<polyline fill="none" stroke="#555" stroke-width="0.8" points="264.2,192.9 262.1,192.9 262.1,208.0 262.5,208.0"/>
<polyline fill="none" stroke="#555" stroke-width="0.8" points="269.5,236.5 264.6,236.5 264.6,243.2 269.5,243.2"/>
<polyline fill="none" stroke="#555" stroke-width="0.8" points="269.5,229.8 263.4,229.8 263.4,239.8 264.6,239.8"/>
<polyline fill="none" stroke="#555" stroke-width="0.8" points="269.5,223.1 260.8,223.1 260.8,234.8 263.4,234.8"/>
<polyline fill="none" stroke="#555" stroke-width="0.8" points="262.1,200.4 257.1,200.4 257.1,228.9 260.8,228.9"/>
<polyline fill="none" stroke="#555" stroke-width="0.8" points="259.3,138.7 255.8,138.7 255.8,214.7 257.1,214.7"/>
<polyline fill="none" stroke="#555" stroke-width="0.8" points="257.9,51.2 252.4,51.2 252.4,176.7 255.8,176.7"/>
<polyline fill="none" stroke="#555" stroke-width="0.8" points="260.8,32.1 248.2,32.1 248.2,113.9 252.4,113.9"/>
<defs><linearGradient id="strip" x1="0" y1="0" x2="1" y2="0"><stop offset="0" stop-color="#f4b0bc"/><stop offset="0.035" stop-color="#f9d5dc"/><stop offset="0.05" stop-color="#ffffff"/><stop offset="0.5" stop-color="#ffffff"/><stop offset="0.53" stop-color="#e2e2fa"/><stop offset="0.9" stop-color="#d8d8f8"/><stop offset="0.92" stop-color="#b4b4f0"/><stop offset="1" stop-color="#a8a8ee"/></linearGradient></defs>
<path d="M59.40 295.2V367.6M68.60 295.2V367.6M77.80 295.2V367.6M87.00 295.2V367.6M96.20 295.2V367.6M105.40 295.2V367.6M114.60 295.2V367.6M123.80 295.2V367.6M133.00 295.2V367.6M142.20 295.2V367.6M151.40 295.2V367.6M160.60 295.2V367.6M169.80 295.2V367.6M179.00 295.2V367.6M50.5 299.25H181.3M50.5 308.10H181.3M50.5 316.95H181.3M50.5 325.80H181.3M50.5 334.65H181.3M50.5 352.35H181.3M50.5 361.20H181.3" stroke="#e3e3e3" stroke-width="0.7" fill="none"/>
<line x1="50.50" y1="343.50" x2="181.30" y2="343.50" stroke="#8c8c8c" stroke-width="0.8"/>
<line x1="52.48" y1="367.6" x2="52.48" y2="382.6" stroke="#555" stroke-width="0.7"/><line x1="52.30" y1="367.6" x2="52.30" y2="382.6" stroke="#bbb" stroke-width="0.8"/><line x1="58.17" y1="367.6" x2="58.17" y2="382.6" stroke="#777" stroke-width="0.5"/><line x1="56.37" y1="367.6" x2="56.37" y2="382.6" stroke="#aaa" stroke-width="0.8"/><line x1="57.68" y1="367.6" x2="57.68" y2="382.6" stroke="#333" stroke-width="1.0"/><line x1="55.90" y1="367.6" x2="55.90" y2="382.6" stroke="#777" stroke-width="0.9"/><line x1="61.40" y1="367.6" x2="61.40" y2="382.6" stroke="#999" stroke-width="0.5"/><line x1="51.25" y1="367.6" x2="51.25" y2="382.6" stroke="#333" stroke-width="0.8"/><line x1="58.55" y1="367.6" x2="58.55" y2="382.6" stroke="#aaa" stroke-width="1.0"/><line x1="51.32" y1="367.6" x2="51.32" y2="382.6" stroke="#777" stroke-width="0.8"/><line x1="78.91" y1="367.6" x2="78.91" y2="382.6" stroke="#777" stroke-width="0.7"/><line x1="66.16" y1="367.6" x2="66.16" y2="382.6" stroke="#777" stroke-width="0.8"/><line x1="79.14" y1="367.6" x2="79.14" y2="382.6" stroke="#333" stroke-width="0.8"/><line x1="77.08" y1="367.6" x2="77.08" y2="382.6" stroke="#555" stroke-width="0.6"/><line x1="73.33" y1="367.6" x2="73.33" y2="382.6" stroke="#888" stroke-width="0.5"/><line x1="75.38" y1="367.6" x2="75.38" y2="382.6" stroke="#aaa" stroke-width="0.9"/><line x1="76.94" y1="367.6" x2="76.94" y2="382.6" stroke="#777" stroke-width="0.7"/><line x1="67.11" y1="367.6" x2="67.11" y2="382.6" stroke="#bbb" stroke-width="0.9"/><line x1="69.08" y1="367.6" x2="69.08" y2="382.6" stroke="#333" stroke-width="0.8"/><line x1="66.37" y1="367.6" x2="66.37" y2="382.6" stroke="#aaa" stroke-width="0.8"/><line x1="73.97" y1="367.6" x2="73.97" y2="382.6" stroke="#999" stroke-width="0.9"/><line x1="97.65" y1="367.6" x2="97.65" y2="382.6" stroke="#999" stroke-width="0.5"/><line x1="88.78" y1="367.6" x2="88.78" y2="382.6" stroke="#555" stroke-width="0.6"/><line x1="90.42" y1="367.6" x2="90.42" y2="382.6" stroke="#aaa" stroke-width="0.7"/><line x1="89.79" y1="367.6" x2="89.79" y2="382.6" stroke="#333" stroke-width="0.8"/><line x1="80.87" y1="367.6" x2="80.87" y2="382.6" stroke="#aaa" stroke-width="1.0"/><line x1="83.41" y1="367.6" x2="83.41" y2="382.6" stroke="#777" stroke-width="0.5"/><line x1="95.41" y1="367.6" x2="95.41" y2="382.6" stroke="#777" stroke-width="0.8"/><line x1="90.28" y1="367.6" x2="90.28" y2="382.6" stroke="#999" stroke-width="0.8"/><line x1="98.20" y1="367.6" x2="98.20" y2="382.6" stroke="#333" stroke-width="0.8"/><line x1="115.67" y1="367.6" x2="115.67" y2="382.6" stroke="#666" stroke-width="0.9"/><line x1="115.55" y1="367.6" x2="115.55" y2="382.6" stroke="#777" stroke-width="0.8"/><line x1="118.99" y1="367.6" x2="118.99" y2="382.6" stroke="#bbb" stroke-width="0.7"/><line x1="111.40" y1="367.6" x2="111.40" y2="382.6" stroke="#777" stroke-width="0.9"/><line x1="108.27" y1="367.6" x2="108.27" y2="382.6" stroke="#999" stroke-width="0.8"/><line x1="106.92" y1="367.6" x2="106.92" y2="382.6" stroke="#999" stroke-width="0.8"/><line x1="143.99" y1="367.6" x2="143.99" y2="382.6" stroke="#777" stroke-width="1.0"/><line x1="127.09" y1="367.6" x2="127.09" y2="382.6" stroke="#666" stroke-width="0.5"/><line x1="151.94" y1="367.6" x2="151.94" y2="382.6" stroke="#888" stroke-width="0.5"/><line x1="153.67" y1="367.6" x2="153.67" y2="382.6" stroke="#555" stroke-width="0.5"/><line x1="154.72" y1="367.6" x2="154.72" y2="382.6" stroke="#bbb" stroke-width="0.5"/><line x1="150.17" y1="367.6" x2="150.17" y2="382.6" stroke="#888" stroke-width="0.6"/><line x1="165.64" y1="367.6" x2="165.64" y2="382.6" stroke="#666" stroke-width="0.7"/><line x1="166.10" y1="367.6" x2="166.10" y2="382.6" stroke="#666" stroke-width="0.6"/><line x1="165.36" y1="367.6" x2="165.36" y2="382.6" stroke="#666" stroke-width="1.0"/><line x1="165.73" y1="367.6" x2="165.73" y2="382.6" stroke="#888" stroke-width="0.8"/><line x1="174.76" y1="367.6" x2="174.76" y2="382.6" stroke="#bbb" stroke-width="0.8"/><line x1="162.40" y1="367.6" x2="162.40" y2="382.6" stroke="#888" stroke-width="0.8"/><line x1="167.21" y1="367.6" x2="167.21" y2="382.6" stroke="#777" stroke-width="0.7"/><line x1="162.28" y1="367.6" x2="162.28" y2="382.6" stroke="#777" stroke-width="0.9"/><line x1="169.06" y1="367.6" x2="169.06" y2="382.6" stroke="#333" stroke-width="0.6"/><line x1="160.38" y1="367.6" x2="160.38" y2="382.6" stroke="#666" stroke-width="0.5"/><line x1="175.10" y1="367.6" x2="175.10" y2="382.6" stroke="#666" stroke-width="0.8"/><line x1="174.80" y1="367.6" x2="174.80" y2="382.6" stroke="#aaa" stroke-width="0.9"/><line x1="177.48" y1="367.6" x2="177.48" y2="382.6" stroke="#bbb" stroke-width="0.6"/><line x1="171.00" y1="367.6" x2="171.00" y2="382.6" stroke="#333" stroke-width="0.8"/><line x1="174.17" y1="367.6" x2="174.17" y2="382.6" stroke="#999" stroke-width="1.0"/>
<line x1="50.50" y1="367.60" x2="181.30" y2="367.60" stroke="#bdbdbd" stroke-width="0.6"/>
<rect x="50.50" y="382.60" width="130.80" height="3.10" fill="url(#strip)"/>
<text font-size="4.7" fill="#4a4a4a" text-anchor="middle" transform="translate(59.40,364.20) rotate(-45)">1000</text>
<text font-size="4.7" fill="#4a4a4a" text-anchor="middle" transform="translate(68.60,364.20) rotate(-45)">2000</text>
<text font-size="4.7" fill="#4a4a4a" text-anchor="middle" transform="translate(77.80,364.20) rotate(-45)">3000</text>
<text font-size="4.7" fill="#4a4a4a" text-anchor="middle" transform="translate(87.00,364.20) rotate(-45)">4000</text>
<text font-size="4.7" fill="#4a4a4a" text-anchor="middle" transform="translate(96.20,364.20) rotate(-45)">5000</text>
<text font-size="4.7" fill="#4a4a4a" text-anchor="middle" transform="translate(105.40,364.20) rotate(-45)">6000</text>
<text font-size="4.7" fill="#4a4a4a" text-anchor="middle" transform="translate(114.60,364.20) rotate(-45)">7000</text>
<text font-size="4.7" fill="#4a4a4a" text-anchor="middle" transform="translate(123.80,364.20) rotate(-45)">8000</text>
<text font-size="4.7" fill="#4a4a4a" text-anchor="middle" transform="translate(133.00,364.20) rotate(-45)">9000</text>
<text font-size="4.7" fill="#4a4a4a" text-anchor="middle" transform="translate(142.20,364.20) rotate(-45)">10000</text>
<text font-size="4.7" fill="#4a4a4a" text-anchor="middle" transform="translate(151.40,364.20) rotate(-45)">11000</text>
<text font-size="4.7" fill="#4a4a4a" text-anchor="middle" transform="translate(160.60,364.20) rotate(-45)">12000</text>
<text font-size="4.7" fill="#4a4a4a" text-anchor="middle" transform="translate(169.80,364.20) rotate(-45)">13000</text>
<text font-size="4.7" fill="#4a4a4a" text-anchor="middle" transform="translate(179.00,364.20) rotate(-45)">14000</text>
<line x1="67.50" y1="343.50" x2="67.50" y2="300.20" stroke="#f0606e" stroke-width="0.8" stroke-dasharray="2,0.8"/>
<line x1="169.70" y1="343.50" x2="169.70" y2="357.00" stroke="#f0606e" stroke-width="0.8" stroke-dasharray="2,0.8"/>
<polyline points="50.60,313.50 51.40,310.50 52.70,307.50 54.70,304.80 56.50,303.20 58.80,301.40 60.13,300.91 61.47,300.87 62.80,300.30 64.37,300.04 65.93,300.19 67.50,300.00 69.07,300.05 70.63,300.36 72.20,300.70 73.58,301.62 74.95,301.97 76.33,302.86 77.70,303.50 79.23,303.82 80.77,304.15 82.30,304.50 83.85,305.20 85.40,305.76 86.95,306.75 88.50,307.30 90.04,307.98 91.58,308.90 93.12,309.67 94.66,310.64 96.20,311.60 97.54,312.52 98.88,313.70 100.21,314.43 101.55,315.28 102.89,316.31 104.23,317.59 105.56,318.15 106.90,319.30 108.27,320.28 109.63,321.09 111.00,322.14 112.37,322.92 113.73,324.00 115.10,324.83 116.47,325.82 117.83,326.85 119.20,327.60 120.57,328.49 121.93,329.15 123.30,329.97 124.67,331.22 126.03,331.87 127.40,332.60 128.77,333.79 130.13,334.48 131.50,335.30 132.87,336.36 134.23,337.38 135.60,338.07 136.97,339.06 138.33,340.24 139.70,340.87 141.07,342.11 142.43,342.77 143.80,343.90 145.35,345.01 146.90,346.04 148.45,347.17 150.00,348.00 151.67,349.25 153.33,350.20 155.00,351.30 156.37,352.17 157.73,353.15 159.10,354.30 160.40,354.69 161.70,355.05 163.00,355.24 164.30,355.80 165.85,355.98 167.40,355.80 170.00,356.90 172.60,356.30 175.20,355.30 176.70,353.20 177.80,347.00 178.30,341.80 179.80,342.30 180.90,343.40" fill="none" stroke="#33ee33" stroke-width="1.05" stroke-linejoin="round"/>
<rect x="50.50" y="295.20" width="130.80" height="91.10" fill="none" stroke="#1a1a1a" stroke-width="1.3"/>
<line x1="47.50" y1="299.25" x2="50.50" y2="299.25" stroke="#1a1a1a" stroke-width="1"/>
<text x="44.1" y="301.9" font-size="7.5" text-anchor="end">0.5</text>
<line x1="47.50" y1="308.10" x2="50.50" y2="308.10" stroke="#1a1a1a" stroke-width="1"/>
<text x="44.1" y="310.8" font-size="7.5" text-anchor="end">0.4</text>
<line x1="47.50" y1="316.95" x2="50.50" y2="316.95" stroke="#1a1a1a" stroke-width="1"/>
<text x="44.1" y="319.6" font-size="7.5" text-anchor="end">0.3</text>
<line x1="47.50" y1="325.80" x2="50.50" y2="325.80" stroke="#1a1a1a" stroke-width="1"/>
<text x="44.1" y="328.5" font-size="7.5" text-anchor="end">0.2</text>
<line x1="47.50" y1="334.65" x2="50.50" y2="334.65" stroke="#1a1a1a" stroke-width="1"/>
<text x="44.1" y="337.3" font-size="7.5" text-anchor="end">0.1</text>
<line x1="47.50" y1="343.50" x2="50.50" y2="343.50" stroke="#1a1a1a" stroke-width="1"/>
<text x="44.1" y="346.2" font-size="7.5" text-anchor="end">0</text>
<line x1="47.50" y1="352.35" x2="50.50" y2="352.35" stroke="#1a1a1a" stroke-width="1"/>
<text x="44.1" y="355.1" font-size="7.5" text-anchor="end">−0.1</text>
<line x1="47.50" y1="361.20" x2="50.50" y2="361.20" stroke="#1a1a1a" stroke-width="1"/>
<text x="44.1" y="363.9" font-size="7.5" text-anchor="end">−0.2</text>
<text x="73.7" y="302.9" font-size="7.3" fill="#cc2444" textLength="52" lengthAdjust="spacingAndGlyphs">ES high = 0.494</text>
<text x="150.3" y="356.0" font-size="7.3" text-anchor="end" fill="#cc2444" textLength="52.4" lengthAdjust="spacingAndGlyphs">ES low = −0.157</text>
<text x="148.1" y="304.2" font-size="7.3" fill="#cc2444" textLength="28" lengthAdjust="spacingAndGlyphs">p = 0.03</text>
<text x="148.1" y="312.7" font-size="7.3" fill="#cc2444" textLength="17.5" lengthAdjust="spacingAndGlyphs">n = 8</text>
<text x="71.0" y="289.6" font-size="9.2" textLength="87.5" lengthAdjust="spacingAndGlyphs">HSCs renewal genes</text>
<path d="M225.30 295.2V367.6M234.40 295.2V367.6M243.50 295.2V367.6M252.60 295.2V367.6M261.70 295.2V367.6M270.80 295.2V367.6M279.90 295.2V367.6M289.00 295.2V367.6M298.10 295.2V367.6M307.20 295.2V367.6M316.30 295.2V367.6M325.40 295.2V367.6M334.50 295.2V367.6M343.60 295.2V367.6M215.5 299.88H346.3M215.5 306.64H346.3M215.5 320.16H346.3M215.5 326.92H346.3M215.5 333.68H346.3M215.5 340.44H346.3M215.5 347.20H346.3M215.5 353.96H346.3M215.5 360.72H346.3" stroke="#e3e3e3" stroke-width="0.7" fill="none"/>
<line x1="215.50" y1="313.40" x2="346.30" y2="313.40" stroke="#8c8c8c" stroke-width="0.8"/>
<line x1="258.15" y1="367.6" x2="258.15" y2="382.6" stroke="#222" stroke-width="0.5"/><line x1="221.56" y1="367.6" x2="221.56" y2="382.6" stroke="#555" stroke-width="1.0"/><line x1="251.98" y1="367.6" x2="251.98" y2="382.6" stroke="#777" stroke-width="0.7"/><line x1="243.45" y1="367.6" x2="243.45" y2="382.6" stroke="#222" stroke-width="0.9"/><line x1="246.61" y1="367.6" x2="246.61" y2="382.6" stroke="#999" stroke-width="1.0"/><line x1="234.53" y1="367.6" x2="234.53" y2="382.6" stroke="#888" stroke-width="0.9"/><line x1="257.30" y1="367.6" x2="257.30" y2="382.6" stroke="#777" stroke-width="0.5"/><line x1="254.58" y1="367.6" x2="254.58" y2="382.6" stroke="#888" stroke-width="0.8"/><line x1="257.14" y1="367.6" x2="257.14" y2="382.6" stroke="#999" stroke-width="0.8"/><line x1="255.46" y1="367.6" x2="255.46" y2="382.6" stroke="#555" stroke-width="0.9"/><line x1="225.45" y1="367.6" x2="225.45" y2="382.6" stroke="#666" stroke-width="0.5"/><line x1="225.42" y1="367.6" x2="225.42" y2="382.6" stroke="#555" stroke-width="0.6"/><line x1="239.43" y1="367.6" x2="239.43" y2="382.6" stroke="#888" stroke-width="0.9"/><line x1="246.33" y1="367.6" x2="246.33" y2="382.6" stroke="#555" stroke-width="0.8"/><line x1="251.46" y1="367.6" x2="251.46" y2="382.6" stroke="#888" stroke-width="0.9"/><line x1="232.86" y1="367.6" x2="232.86" y2="382.6" stroke="#aaa" stroke-width="0.6"/><line x1="298.20" y1="367.6" x2="298.20" y2="382.6" stroke="#999" stroke-width="1.0"/><line x1="289.54" y1="367.6" x2="289.54" y2="382.6" stroke="#666" stroke-width="0.8"/><line x1="271.16" y1="367.6" x2="271.16" y2="382.6" stroke="#aaa" stroke-width="0.9"/><line x1="280.62" y1="367.6" x2="280.62" y2="382.6" stroke="#888" stroke-width="1.0"/><line x1="295.31" y1="367.6" x2="295.31" y2="382.6" stroke="#aaa" stroke-width="0.7"/><line x1="282.71" y1="367.6" x2="282.71" y2="382.6" stroke="#aaa" stroke-width="0.8"/><line x1="286.36" y1="367.6" x2="286.36" y2="382.6" stroke="#888" stroke-width="1.0"/><line x1="293.40" y1="367.6" x2="293.40" y2="382.6" stroke="#777" stroke-width="0.8"/><line x1="272.38" y1="367.6" x2="272.38" y2="382.6" stroke="#999" stroke-width="0.7"/><line x1="289.24" y1="367.6" x2="289.24" y2="382.6" stroke="#aaa" stroke-width="0.9"/><line x1="274.66" y1="367.6" x2="274.66" y2="382.6" stroke="#333" stroke-width="0.7"/><line x1="289.04" y1="367.6" x2="289.04" y2="382.6" stroke="#666" stroke-width="1.0"/><line x1="264.25" y1="367.6" x2="264.25" y2="382.6" stroke="#222" stroke-width="0.7"/><line x1="317.75" y1="367.6" x2="317.75" y2="382.6" stroke="#333" stroke-width="0.9"/><line x1="304.09" y1="367.6" x2="304.09" y2="382.6" stroke="#777" stroke-width="0.6"/><line x1="324.74" y1="367.6" x2="324.74" y2="382.6" stroke="#222" stroke-width="0.8"/><line x1="326.94" y1="367.6" x2="326.94" y2="382.6" stroke="#222" stroke-width="0.5"/><line x1="310.87" y1="367.6" x2="310.87" y2="382.6" stroke="#555" stroke-width="0.6"/><line x1="320.18" y1="367.6" x2="320.18" y2="382.6" stroke="#333" stroke-width="0.5"/><line x1="328.64" y1="367.6" x2="328.64" y2="382.6" stroke="#222" stroke-width="0.5"/><line x1="321.88" y1="367.6" x2="321.88" y2="382.6" stroke="#222" stroke-width="0.7"/><line x1="334.09" y1="367.6" x2="334.09" y2="382.6" stroke="#555" stroke-width="1.0"/><line x1="332.94" y1="367.6" x2="332.94" y2="382.6" stroke="#222" stroke-width="0.8"/><line x1="339.43" y1="367.6" x2="339.43" y2="382.6" stroke="#666" stroke-width="0.6"/><line x1="345.53" y1="367.6" x2="345.53" y2="382.6" stroke="#222" stroke-width="0.7"/><line x1="345.02" y1="367.6" x2="345.02" y2="382.6" stroke="#333" stroke-width="0.7"/><line x1="335.40" y1="367.6" x2="335.40" y2="382.6" stroke="#222" stroke-width="0.7"/><line x1="337.18" y1="367.6" x2="337.18" y2="382.6" stroke="#222" stroke-width="0.7"/><line x1="342.09" y1="367.6" x2="342.09" y2="382.6" stroke="#555" stroke-width="0.8"/><line x1="345.34" y1="367.6" x2="345.34" y2="382.6" stroke="#333" stroke-width="1.0"/><line x1="341.00" y1="367.6" x2="341.00" y2="382.6" stroke="#333" stroke-width="0.5"/><line x1="337.17" y1="367.6" x2="337.17" y2="382.6" stroke="#555" stroke-width="0.9"/><line x1="339.36" y1="367.6" x2="339.36" y2="382.6" stroke="#999" stroke-width="0.8"/><line x1="338.24" y1="367.6" x2="338.24" y2="382.6" stroke="#555" stroke-width="0.7"/><line x1="334.15" y1="367.6" x2="334.15" y2="382.6" stroke="#999" stroke-width="1.0"/><line x1="330.29" y1="367.6" x2="330.29" y2="382.6" stroke="#555" stroke-width="1.0"/><line x1="330.91" y1="367.6" x2="330.91" y2="382.6" stroke="#222" stroke-width="0.6"/><line x1="332.58" y1="367.6" x2="332.58" y2="382.6" stroke="#333" stroke-width="0.8"/><line x1="340.16" y1="367.6" x2="340.16" y2="382.6" stroke="#222" stroke-width="0.6"/><line x1="333.72" y1="367.6" x2="333.72" y2="382.6" stroke="#aaa" stroke-width="0.5"/><line x1="334.01" y1="367.6" x2="334.01" y2="382.6" stroke="#666" stroke-width="0.9"/><line x1="342.67" y1="367.6" x2="342.67" y2="382.6" stroke="#888" stroke-width="0.7"/><line x1="340.95" y1="367.6" x2="340.95" y2="382.6" stroke="#777" stroke-width="0.9"/><line x1="342.01" y1="367.6" x2="342.01" y2="382.6" stroke="#555" stroke-width="0.5"/><line x1="336.16" y1="367.6" x2="336.16" y2="382.6" stroke="#555" stroke-width="0.5"/>
<rect x="215.90" y="367.60" width="2.10" height="15.00" fill="#000" fill-opacity="0.9"/>
<rect x="340.00" y="367.60" width="6.00" height="15.00" fill="#000" fill-opacity="0.55"/>
<line x1="215.50" y1="367.60" x2="346.30" y2="367.60" stroke="#bdbdbd" stroke-width="0.6"/>
<rect x="215.50" y="382.60" width="130.80" height="3.10" fill="url(#strip)"/>
<text font-size="4.7" fill="#4a4a4a" text-anchor="middle" transform="translate(225.30,364.20) rotate(-45)">1000</text>
<text font-size="4.7" fill="#4a4a4a" text-anchor="middle" transform="translate(234.40,364.20) rotate(-45)">2000</text>
<text font-size="4.7" fill="#4a4a4a" text-anchor="middle" transform="translate(243.50,364.20) rotate(-45)">3000</text>
<text font-size="4.7" fill="#4a4a4a" text-anchor="middle" transform="translate(252.60,364.20) rotate(-45)">4000</text>
<text font-size="4.7" fill="#4a4a4a" text-anchor="middle" transform="translate(261.70,364.20) rotate(-45)">5000</text>
<text font-size="4.7" fill="#4a4a4a" text-anchor="middle" transform="translate(270.80,364.20) rotate(-45)">6000</text>
<text font-size="4.7" fill="#4a4a4a" text-anchor="middle" transform="translate(279.90,364.20) rotate(-45)">7000</text>
<text font-size="4.7" fill="#4a4a4a" text-anchor="middle" transform="translate(289.00,364.20) rotate(-45)">8000</text>
<text font-size="4.7" fill="#4a4a4a" text-anchor="middle" transform="translate(298.10,364.20) rotate(-45)">9000</text>
<text font-size="4.7" fill="#4a4a4a" text-anchor="middle" transform="translate(307.20,364.20) rotate(-45)">10000</text>
<text font-size="4.7" fill="#4a4a4a" text-anchor="middle" transform="translate(316.30,364.20) rotate(-45)">11000</text>
<text font-size="4.7" fill="#4a4a4a" text-anchor="middle" transform="translate(325.40,364.20) rotate(-45)">12000</text>
<text font-size="4.7" fill="#4a4a4a" text-anchor="middle" transform="translate(334.50,364.20) rotate(-45)">13000</text>
<text font-size="4.7" fill="#4a4a4a" text-anchor="middle" transform="translate(343.60,364.20) rotate(-45)">14000</text>
<line x1="217.30" y1="313.40" x2="217.30" y2="305.40" stroke="#f0606e" stroke-width="0.8" stroke-dasharray="2,0.8"/>
<line x1="333.60" y1="313.40" x2="333.60" y2="361.30" stroke="#f0606e" stroke-width="0.8" stroke-dasharray="2,0.8"/>
<polyline points="215.80,313.50 216.30,309.00 217.30,305.30 218.85,306.20 220.40,306.70 222.03,306.65 223.67,307.14 225.30,307.20 226.64,307.65 227.98,308.61 229.32,308.79 230.66,309.77 232.00,310.20 233.35,310.99 234.70,311.78 236.05,312.55 237.40,312.93 238.75,313.75 240.06,314.34 241.38,315.17 242.69,315.65 244.01,316.31 245.32,316.96 246.63,317.90 247.95,318.57 249.26,319.20 250.58,319.62 251.89,320.59 253.21,321.07 254.52,321.62 255.83,322.38 257.15,323.03 258.46,323.55 259.78,324.42 261.09,325.00 262.40,325.76 263.72,326.58 265.03,327.12 266.35,327.68 267.66,328.55 268.97,329.27 270.29,329.71 271.60,330.58 272.92,330.84 274.23,331.56 275.54,332.24 276.86,333.24 278.17,333.80 279.49,334.47 280.80,334.95 282.12,335.71 283.43,336.54 284.74,336.86 286.06,337.53 287.37,338.17 288.69,339.02 290.00,339.70 291.35,340.53 292.69,341.09 294.04,341.71 295.38,342.44 296.73,342.98 298.08,344.00 299.42,344.43 300.77,345.06 302.12,345.78 303.46,346.69 304.81,347.15 306.15,348.09 307.50,348.53 308.85,349.26 310.19,349.78 311.54,350.83 312.88,351.47 314.23,352.01 315.58,352.54 316.92,353.39 318.27,354.02 319.62,354.91 320.96,355.63 322.31,356.24 323.65,356.72 325.00,357.50 326.67,358.20 328.33,359.47 330.00,360.20 331.43,360.80 332.87,360.85 334.30,361.40 335.65,361.35 337.00,361.30 338.50,360.79 340.00,360.30 341.45,358.36 342.90,356.00 344.60,346.00 345.70,331.80 346.10,327.00" fill="none" stroke="#33ee33" stroke-width="1.05" stroke-linejoin="round"/>
<rect x="215.50" y="295.20" width="130.80" height="91.10" fill="none" stroke="#1a1a1a" stroke-width="1.3"/>
<line x1="212.50" y1="299.88" x2="215.50" y2="299.88" stroke="#1a1a1a" stroke-width="1"/>
<text x="209.1" y="302.6" font-size="7.5" text-anchor="end">0.2</text>
<line x1="212.50" y1="306.64" x2="215.50" y2="306.64" stroke="#1a1a1a" stroke-width="1"/>
<text x="209.1" y="309.3" font-size="7.5" text-anchor="end">0.1</text>
<line x1="212.50" y1="313.40" x2="215.50" y2="313.40" stroke="#1a1a1a" stroke-width="1"/>
<text x="209.1" y="316.1" font-size="7.5" text-anchor="end">0</text>
<line x1="212.50" y1="320.16" x2="215.50" y2="320.16" stroke="#1a1a1a" stroke-width="1"/>
<text x="209.1" y="322.9" font-size="7.5" text-anchor="end">−0.1</text>
<line x1="212.50" y1="326.92" x2="215.50" y2="326.92" stroke="#1a1a1a" stroke-width="1"/>
<text x="209.1" y="329.6" font-size="7.5" text-anchor="end">−0.2</text>
<line x1="212.50" y1="333.68" x2="215.50" y2="333.68" stroke="#1a1a1a" stroke-width="1"/>
<text x="209.1" y="336.4" font-size="7.5" text-anchor="end">−0.3</text>
<line x1="212.50" y1="340.44" x2="215.50" y2="340.44" stroke="#1a1a1a" stroke-width="1"/>
<text x="209.1" y="343.1" font-size="7.5" text-anchor="end">−0.4</text>
<line x1="212.50" y1="347.20" x2="215.50" y2="347.20" stroke="#1a1a1a" stroke-width="1"/>
<text x="209.1" y="349.9" font-size="7.5" text-anchor="end">−0.5</text>
<line x1="212.50" y1="353.96" x2="215.50" y2="353.96" stroke="#1a1a1a" stroke-width="1"/>
<text x="209.1" y="356.7" font-size="7.5" text-anchor="end">−0.6</text>
<line x1="212.50" y1="360.72" x2="215.50" y2="360.72" stroke="#1a1a1a" stroke-width="1"/>
<text x="209.1" y="363.4" font-size="7.5" text-anchor="end">−0.7</text>
<text x="217.9" y="304.0" font-size="7.3" fill="#cc2444" textLength="52.4" lengthAdjust="spacingAndGlyphs">ES high = 0.119</text>
<text x="310.8" y="356.1" font-size="7.3" text-anchor="end" fill="#cc2444" textLength="53.2" lengthAdjust="spacingAndGlyphs">ES low = −0.694</text>
<text x="294.9" y="303.9" font-size="7.3" fill="#cc2444" textLength="45.8" lengthAdjust="spacingAndGlyphs">Padj = 0.0001</text>
<text x="294.9" y="312.0" font-size="7.3" fill="#cc2444" textLength="21.5" lengthAdjust="spacingAndGlyphs">n = 18</text>
<text x="251.0" y="289.6" font-size="9.2" textLength="59.8" lengthAdjust="spacingAndGlyphs">KEGG oxphos</text>
<path d="M391.80 295.2V367.6M400.90 295.2V367.6M410.00 295.2V367.6M419.10 295.2V367.6M428.20 295.2V367.6M437.30 295.2V367.6M446.40 295.2V367.6M455.50 295.2V367.6M464.60 295.2V367.6M473.70 295.2V367.6M482.80 295.2V367.6M491.90 295.2V367.6M501.00 295.2V367.6M510.10 295.2V367.6M382.5 299.80H512.4M382.5 308.50H512.4M382.5 317.20H512.4M382.5 325.90H512.4M382.5 343.30H512.4M382.5 352.00H512.4M382.5 360.70H512.4" stroke="#e3e3e3" stroke-width="0.7" fill="none"/>
<line x1="382.50" y1="334.60" x2="512.40" y2="334.60" stroke="#8c8c8c" stroke-width="0.8"/>
<line x1="413.70" y1="367.6" x2="413.70" y2="382.6" stroke="#aaa" stroke-width="0.6"/><line x1="430.72" y1="367.6" x2="430.72" y2="382.6" stroke="#999" stroke-width="1.0"/><line x1="457.93" y1="367.6" x2="457.93" y2="382.6" stroke="#111" stroke-width="0.8"/><line x1="416.46" y1="367.6" x2="416.46" y2="382.6" stroke="#555" stroke-width="0.6"/><line x1="511.44" y1="367.6" x2="511.44" y2="382.6" stroke="#999" stroke-width="0.9"/><line x1="490.90" y1="367.6" x2="490.90" y2="382.6" stroke="#999" stroke-width="0.8"/><line x1="465.44" y1="367.6" x2="465.44" y2="382.6" stroke="#333" stroke-width="0.6"/><line x1="464.90" y1="367.6" x2="464.90" y2="382.6" stroke="#aaa" stroke-width="0.8"/><line x1="478.62" y1="367.6" x2="478.62" y2="382.6" stroke="#222" stroke-width="0.6"/><line x1="480.81" y1="367.6" x2="480.81" y2="382.6" stroke="#111" stroke-width="0.7"/><line x1="483.63" y1="367.6" x2="483.63" y2="382.6" stroke="#666" stroke-width="0.8"/><line x1="459.72" y1="367.6" x2="459.72" y2="382.6" stroke="#888" stroke-width="1.0"/><line x1="484.67" y1="367.6" x2="484.67" y2="382.6" stroke="#888" stroke-width="0.8"/><line x1="476.93" y1="367.6" x2="476.93" y2="382.6" stroke="#999" stroke-width="0.6"/><line x1="496.37" y1="367.6" x2="496.37" y2="382.6" stroke="#222" stroke-width="0.5"/><line x1="400.54" y1="367.6" x2="400.54" y2="382.6" stroke="#555" stroke-width="0.7"/><line x1="507.55" y1="367.6" x2="507.55" y2="382.6" stroke="#888" stroke-width="1.0"/><line x1="493.32" y1="367.6" x2="493.32" y2="382.6" stroke="#888" stroke-width="0.9"/><line x1="490.52" y1="367.6" x2="490.52" y2="382.6" stroke="#777" stroke-width="0.9"/><line x1="458.47" y1="367.6" x2="458.47" y2="382.6" stroke="#555" stroke-width="0.7"/><line x1="470.98" y1="367.6" x2="470.98" y2="382.6" stroke="#111" stroke-width="0.7"/><line x1="510.84" y1="367.6" x2="510.84" y2="382.6" stroke="#333" stroke-width="1.0"/><line x1="494.02" y1="367.6" x2="494.02" y2="382.6" stroke="#aaa" stroke-width="0.9"/><line x1="456.41" y1="367.6" x2="456.41" y2="382.6" stroke="#555" stroke-width="1.0"/><line x1="490.28" y1="367.6" x2="490.28" y2="382.6" stroke="#666" stroke-width="0.7"/><line x1="399.05" y1="367.6" x2="399.05" y2="382.6" stroke="#999" stroke-width="1.0"/><line x1="510.68" y1="367.6" x2="510.68" y2="382.6" stroke="#222" stroke-width="0.7"/><line x1="486.28" y1="367.6" x2="486.28" y2="382.6" stroke="#888" stroke-width="0.6"/><line x1="385.60" y1="367.6" x2="385.60" y2="382.6" stroke="#888" stroke-width="0.8"/><line x1="495.59" y1="367.6" x2="495.59" y2="382.6" stroke="#111" stroke-width="0.9"/><line x1="462.27" y1="367.6" x2="462.27" y2="382.6" stroke="#111" stroke-width="0.8"/><line x1="475.68" y1="367.6" x2="475.68" y2="382.6" stroke="#777" stroke-width="0.9"/><line x1="496.64" y1="367.6" x2="496.64" y2="382.6" stroke="#666" stroke-width="0.9"/><line x1="413.44" y1="367.6" x2="413.44" y2="382.6" stroke="#111" stroke-width="0.7"/><line x1="383.93" y1="367.6" x2="383.93" y2="382.6" stroke="#222" stroke-width="0.9"/><line x1="452.09" y1="367.6" x2="452.09" y2="382.6" stroke="#555" stroke-width="0.8"/><line x1="420.62" y1="367.6" x2="420.62" y2="382.6" stroke="#666" stroke-width="0.6"/><line x1="471.98" y1="367.6" x2="471.98" y2="382.6" stroke="#777" stroke-width="0.7"/><line x1="429.47" y1="367.6" x2="429.47" y2="382.6" stroke="#333" stroke-width="0.8"/><line x1="431.60" y1="367.6" x2="431.60" y2="382.6" stroke="#aaa" stroke-width="0.8"/><line x1="466.06" y1="367.6" x2="466.06" y2="382.6" stroke="#aaa" stroke-width="0.5"/><line x1="463.00" y1="367.6" x2="463.00" y2="382.6" stroke="#aaa" stroke-width="0.7"/><line x1="438.62" y1="367.6" x2="438.62" y2="382.6" stroke="#555" stroke-width="0.7"/><line x1="439.43" y1="367.6" x2="439.43" y2="382.6" stroke="#666" stroke-width="0.9"/><line x1="422.09" y1="367.6" x2="422.09" y2="382.6" stroke="#777" stroke-width="0.5"/><line x1="484.70" y1="367.6" x2="484.70" y2="382.6" stroke="#777" stroke-width="0.5"/><line x1="431.57" y1="367.6" x2="431.57" y2="382.6" stroke="#333" stroke-width="0.5"/><line x1="464.73" y1="367.6" x2="464.73" y2="382.6" stroke="#777" stroke-width="0.8"/><line x1="428.53" y1="367.6" x2="428.53" y2="382.6" stroke="#777" stroke-width="0.9"/><line x1="474.20" y1="367.6" x2="474.20" y2="382.6" stroke="#999" stroke-width="0.5"/><line x1="459.03" y1="367.6" x2="459.03" y2="382.6" stroke="#111" stroke-width="0.7"/><line x1="415.39" y1="367.6" x2="415.39" y2="382.6" stroke="#999" stroke-width="0.7"/><line x1="459.45" y1="367.6" x2="459.45" y2="382.6" stroke="#777" stroke-width="0.6"/><line x1="429.95" y1="367.6" x2="429.95" y2="382.6" stroke="#777" stroke-width="0.7"/><line x1="491.86" y1="367.6" x2="491.86" y2="382.6" stroke="#666" stroke-width="0.7"/><line x1="484.56" y1="367.6" x2="484.56" y2="382.6" stroke="#222" stroke-width="0.5"/><line x1="508.31" y1="367.6" x2="508.31" y2="382.6" stroke="#333" stroke-width="0.7"/><line x1="447.50" y1="367.6" x2="447.50" y2="382.6" stroke="#666" stroke-width="0.6"/><line x1="425.28" y1="367.6" x2="425.28" y2="382.6" stroke="#888" stroke-width="1.0"/><line x1="473.05" y1="367.6" x2="473.05" y2="382.6" stroke="#222" stroke-width="0.9"/><line x1="424.53" y1="367.6" x2="424.53" y2="382.6" stroke="#777" stroke-width="1.0"/><line x1="490.53" y1="367.6" x2="490.53" y2="382.6" stroke="#999" stroke-width="0.6"/><line x1="393.31" y1="367.6" x2="393.31" y2="382.6" stroke="#555" stroke-width="0.9"/><line x1="441.19" y1="367.6" x2="441.19" y2="382.6" stroke="#555" stroke-width="0.5"/><line x1="387.37" y1="367.6" x2="387.37" y2="382.6" stroke="#555" stroke-width="0.7"/><line x1="487.07" y1="367.6" x2="487.07" y2="382.6" stroke="#333" stroke-width="0.7"/><line x1="426.87" y1="367.6" x2="426.87" y2="382.6" stroke="#222" stroke-width="0.9"/><line x1="427.54" y1="367.6" x2="427.54" y2="382.6" stroke="#333" stroke-width="0.8"/><line x1="420.66" y1="367.6" x2="420.66" y2="382.6" stroke="#666" stroke-width="0.8"/><line x1="427.68" y1="367.6" x2="427.68" y2="382.6" stroke="#888" stroke-width="0.7"/><line x1="437.15" y1="367.6" x2="437.15" y2="382.6" stroke="#888" stroke-width="0.5"/><line x1="501.76" y1="367.6" x2="501.76" y2="382.6" stroke="#333" stroke-width="0.6"/><line x1="383.60" y1="367.6" x2="383.60" y2="382.6" stroke="#aaa" stroke-width="0.8"/><line x1="455.09" y1="367.6" x2="455.09" y2="382.6" stroke="#555" stroke-width="0.5"/><line x1="479.17" y1="367.6" x2="479.17" y2="382.6" stroke="#aaa" stroke-width="0.7"/><line x1="453.16" y1="367.6" x2="453.16" y2="382.6" stroke="#555" stroke-width="0.5"/><line x1="493.68" y1="367.6" x2="493.68" y2="382.6" stroke="#666" stroke-width="0.5"/><line x1="487.51" y1="367.6" x2="487.51" y2="382.6" stroke="#111" stroke-width="0.5"/><line x1="499.57" y1="367.6" x2="499.57" y2="382.6" stroke="#aaa" stroke-width="0.6"/><line x1="498.66" y1="367.6" x2="498.66" y2="382.6" stroke="#888" stroke-width="0.9"/><line x1="389.37" y1="367.6" x2="389.37" y2="382.6" stroke="#999" stroke-width="1.0"/><line x1="398.58" y1="367.6" x2="398.58" y2="382.6" stroke="#aaa" stroke-width="0.7"/><line x1="413.84" y1="367.6" x2="413.84" y2="382.6" stroke="#111" stroke-width="0.9"/><line x1="452.27" y1="367.6" x2="452.27" y2="382.6" stroke="#111" stroke-width="0.9"/><line x1="397.65" y1="367.6" x2="397.65" y2="382.6" stroke="#333" stroke-width="0.7"/><line x1="508.39" y1="367.6" x2="508.39" y2="382.6" stroke="#aaa" stroke-width="0.8"/><line x1="487.69" y1="367.6" x2="487.69" y2="382.6" stroke="#111" stroke-width="0.7"/><line x1="411.48" y1="367.6" x2="411.48" y2="382.6" stroke="#222" stroke-width="0.9"/><line x1="497.51" y1="367.6" x2="497.51" y2="382.6" stroke="#222" stroke-width="0.6"/><line x1="413.89" y1="367.6" x2="413.89" y2="382.6" stroke="#666" stroke-width="0.6"/><line x1="489.23" y1="367.6" x2="489.23" y2="382.6" stroke="#111" stroke-width="0.8"/><line x1="464.09" y1="367.6" x2="464.09" y2="382.6" stroke="#888" stroke-width="0.5"/><line x1="480.59" y1="367.6" x2="480.59" y2="382.6" stroke="#555" stroke-width="0.7"/><line x1="462.73" y1="367.6" x2="462.73" y2="382.6" stroke="#aaa" stroke-width="0.8"/><line x1="389.58" y1="367.6" x2="389.58" y2="382.6" stroke="#777" stroke-width="0.5"/><line x1="493.56" y1="367.6" x2="493.56" y2="382.6" stroke="#333" stroke-width="0.5"/><line x1="399.08" y1="367.6" x2="399.08" y2="382.6" stroke="#222" stroke-width="0.8"/><line x1="508.74" y1="367.6" x2="508.74" y2="382.6" stroke="#222" stroke-width="0.9"/><line x1="447.77" y1="367.6" x2="447.77" y2="382.6" stroke="#777" stroke-width="0.6"/><line x1="423.58" y1="367.6" x2="423.58" y2="382.6" stroke="#777" stroke-width="0.8"/>
<line x1="382.50" y1="367.60" x2="512.40" y2="367.60" stroke="#bdbdbd" stroke-width="0.6"/>
<rect x="382.50" y="382.60" width="129.90" height="3.10" fill="url(#strip)"/>
<text font-size="4.7" fill="#4a4a4a" text-anchor="middle" transform="translate(391.80,364.20) rotate(-45)">1000</text>
<text font-size="4.7" fill="#4a4a4a" text-anchor="middle" transform="translate(400.90,364.20) rotate(-45)">2000</text>
<text font-size="4.7" fill="#4a4a4a" text-anchor="middle" transform="translate(410.00,364.20) rotate(-45)">3000</text>
<text font-size="4.7" fill="#4a4a4a" text-anchor="middle" transform="translate(419.10,364.20) rotate(-45)">4000</text>
<text font-size="4.7" fill="#4a4a4a" text-anchor="middle" transform="translate(428.20,364.20) rotate(-45)">5000</text>
<text font-size="4.7" fill="#4a4a4a" text-anchor="middle" transform="translate(437.30,364.20) rotate(-45)">6000</text>
<text font-size="4.7" fill="#4a4a4a" text-anchor="middle" transform="translate(446.40,364.20) rotate(-45)">7000</text>
<text font-size="4.7" fill="#4a4a4a" text-anchor="middle" transform="translate(455.50,364.20) rotate(-45)">8000</text>
<text font-size="4.7" fill="#4a4a4a" text-anchor="middle" transform="translate(464.60,364.20) rotate(-45)">9000</text>
<text font-size="4.7" fill="#4a4a4a" text-anchor="middle" transform="translate(473.70,364.20) rotate(-45)">10000</text>
<text font-size="4.7" fill="#4a4a4a" text-anchor="middle" transform="translate(482.80,364.20) rotate(-45)">11000</text>
<text font-size="4.7" fill="#4a4a4a" text-anchor="middle" transform="translate(491.90,364.20) rotate(-45)">12000</text>
<text font-size="4.7" fill="#4a4a4a" text-anchor="middle" transform="translate(501.00,364.20) rotate(-45)">13000</text>
<text font-size="4.7" fill="#4a4a4a" text-anchor="middle" transform="translate(510.10,364.20) rotate(-45)">14000</text>
<line x1="393.30" y1="334.60" x2="393.30" y2="305.30" stroke="#f0606e" stroke-width="0.8" stroke-dasharray="2,0.8"/>
<line x1="503.40" y1="334.60" x2="503.40" y2="357.30" stroke="#f0606e" stroke-width="0.8" stroke-dasharray="2,0.8"/>
<polyline points="382.80,324.00 383.40,314.60 385.70,310.70 387.50,308.50 388.90,307.50 391.00,307.00 393.30,305.20 394.70,305.40 396.10,305.04 397.50,305.20 399.45,305.39 401.40,306.00 402.97,306.79 404.55,307.01 406.12,307.56 407.70,308.30 409.06,308.92 410.41,309.35 411.77,310.14 413.13,310.41 414.49,311.29 415.84,311.56 417.20,312.20 418.59,313.12 419.98,314.15 421.37,314.91 422.76,315.90 424.14,316.68 425.53,317.27 426.92,318.51 428.31,319.26 429.70,320.10 431.17,320.79 432.64,321.51 434.11,322.57 435.59,323.22 437.06,324.15 438.53,324.85 440.00,325.50 441.42,326.57 442.84,327.27 444.26,328.20 445.68,329.03 447.10,329.74 448.52,330.92 449.94,331.51 451.36,332.58 452.78,333.53 454.20,334.20 455.61,335.22 457.02,335.94 458.43,337.19 459.84,338.07 461.25,338.81 462.66,339.70 464.07,340.86 465.48,341.59 466.89,342.94 468.30,343.70 469.68,344.59 471.05,345.48 472.43,346.32 473.80,347.32 475.18,348.32 476.55,348.94 477.93,349.86 479.30,350.80 480.64,351.46 481.99,351.97 483.33,352.73 484.67,353.33 486.01,353.91 487.36,354.65 488.70,355.20 490.02,355.46 491.33,355.52 492.65,356.17 493.97,356.14 495.28,356.42 496.60,356.70 498.18,356.83 499.75,357.24 501.32,357.42 502.90,357.40 504.45,356.06 506.00,354.70 507.60,351.91 509.20,349.20 511.50,334.20 512.10,333.50" fill="none" stroke="#33ee33" stroke-width="1.05" stroke-linejoin="round"/>
<rect x="382.50" y="295.20" width="129.90" height="91.10" fill="none" stroke="#1a1a1a" stroke-width="1.3"/>
<line x1="379.50" y1="299.80" x2="382.50" y2="299.80" stroke="#1a1a1a" stroke-width="1"/>
<text x="376.1" y="302.5" font-size="7.5" text-anchor="end">0.4</text>
<line x1="379.50" y1="308.50" x2="382.50" y2="308.50" stroke="#1a1a1a" stroke-width="1"/>
<text x="376.1" y="311.2" font-size="7.5" text-anchor="end">0.3</text>
<line x1="379.50" y1="317.20" x2="382.50" y2="317.20" stroke="#1a1a1a" stroke-width="1"/>
<text x="376.1" y="319.9" font-size="7.5" text-anchor="end">0.2</text>
<line x1="379.50" y1="325.90" x2="382.50" y2="325.90" stroke="#1a1a1a" stroke-width="1"/>
<text x="376.1" y="328.6" font-size="7.5" text-anchor="end">0.1</text>
<line x1="379.50" y1="334.60" x2="382.50" y2="334.60" stroke="#1a1a1a" stroke-width="1"/>
<text x="376.1" y="337.3" font-size="7.5" text-anchor="end">0</text>
<line x1="379.50" y1="343.30" x2="382.50" y2="343.30" stroke="#1a1a1a" stroke-width="1"/>
<text x="376.1" y="346.0" font-size="7.5" text-anchor="end">−0.1</text>
<line x1="379.50" y1="352.00" x2="382.50" y2="352.00" stroke="#1a1a1a" stroke-width="1"/>
<text x="376.1" y="354.7" font-size="7.5" text-anchor="end">−0.2</text>
<line x1="379.50" y1="360.70" x2="382.50" y2="360.70" stroke="#1a1a1a" stroke-width="1"/>
<text x="376.1" y="363.4" font-size="7.5" text-anchor="end">−0.3</text>
<text x="385.3" y="304.1" font-size="7.3" fill="#cc2444" textLength="52.6" lengthAdjust="spacingAndGlyphs">ES high = 0.338</text>
<text x="478.5" y="356.0" font-size="7.3" text-anchor="end" fill="#cc2444" textLength="52.6" lengthAdjust="spacingAndGlyphs">ES low = −0.259</text>
<text x="473.0" y="304.1" font-size="7.3" fill="#cc2444" textLength="33.8" lengthAdjust="spacingAndGlyphs">Padj = 0.8</text>
<text x="473.0" y="312.2" font-size="7.3" fill="#cc2444" textLength="17.5" lengthAdjust="spacingAndGlyphs">n = 6</text>
<text x="396.7" y="289.6" font-size="9.2" textLength="96.8" lengthAdjust="spacingAndGlyphs">HIF-1<tspan font-family="Liberation Serif" font-style="italic">α</tspan> targeted genes</text>
<path d="M59.40 428.6V501.2M68.60 428.6V501.2M77.80 428.6V501.2M87.00 428.6V501.2M96.20 428.6V501.2M105.40 428.6V501.2M114.60 428.6V501.2M123.80 428.6V501.2M133.00 428.6V501.2M142.20 428.6V501.2M151.40 428.6V501.2M160.60 428.6V501.2M169.80 428.6V501.2M179.00 428.6V501.2M50.5 432.64H181.3M50.5 440.42H181.3M50.5 455.98H181.3M50.5 463.76H181.3M50.5 471.54H181.3M50.5 479.32H181.3M50.5 487.10H181.3M50.5 494.88H181.3" stroke="#e3e3e3" stroke-width="0.7" fill="none"/>
<line x1="50.50" y1="448.20" x2="181.30" y2="448.20" stroke="#8c8c8c" stroke-width="0.8"/>
<line x1="55.48" y1="501.2" x2="55.48" y2="516.1" stroke="#555" stroke-width="1.0"/><line x1="58.53" y1="501.2" x2="58.53" y2="516.1" stroke="#666" stroke-width="0.5"/><line x1="52.26" y1="501.2" x2="52.26" y2="516.1" stroke="#aaa" stroke-width="0.9"/><line x1="68.44" y1="501.2" x2="68.44" y2="516.1" stroke="#444" stroke-width="0.6"/><line x1="60.89" y1="501.2" x2="60.89" y2="516.1" stroke="#999" stroke-width="0.7"/><line x1="65.82" y1="501.2" x2="65.82" y2="516.1" stroke="#555" stroke-width="0.7"/><line x1="55.07" y1="501.2" x2="55.07" y2="516.1" stroke="#444" stroke-width="1.0"/><line x1="66.33" y1="501.2" x2="66.33" y2="516.1" stroke="#888" stroke-width="0.6"/><line x1="54.13" y1="501.2" x2="54.13" y2="516.1" stroke="#888" stroke-width="1.0"/><line x1="87.35" y1="501.2" x2="87.35" y2="516.1" stroke="#999" stroke-width="0.5"/><line x1="86.90" y1="501.2" x2="86.90" y2="516.1" stroke="#999" stroke-width="1.0"/><line x1="77.76" y1="501.2" x2="77.76" y2="516.1" stroke="#777" stroke-width="0.6"/><line x1="74.95" y1="501.2" x2="74.95" y2="516.1" stroke="#888" stroke-width="0.5"/><line x1="108.89" y1="501.2" x2="108.89" y2="516.1" stroke="#888" stroke-width="0.5"/><line x1="108.18" y1="501.2" x2="108.18" y2="516.1" stroke="#888" stroke-width="0.9"/><line x1="93.90" y1="501.2" x2="93.90" y2="516.1" stroke="#aaa" stroke-width="0.9"/><line x1="95.76" y1="501.2" x2="95.76" y2="516.1" stroke="#bbb" stroke-width="0.6"/><line x1="94.66" y1="501.2" x2="94.66" y2="516.1" stroke="#888" stroke-width="0.5"/><line x1="91.62" y1="501.2" x2="91.62" y2="516.1" stroke="#bbb" stroke-width="1.0"/><line x1="146.84" y1="501.2" x2="146.84" y2="516.1" stroke="#bbb" stroke-width="1.0"/><line x1="134.34" y1="501.2" x2="134.34" y2="516.1" stroke="#777" stroke-width="0.5"/><line x1="139.31" y1="501.2" x2="139.31" y2="516.1" stroke="#777" stroke-width="1.0"/><line x1="154.92" y1="501.2" x2="154.92" y2="516.1" stroke="#888" stroke-width="0.6"/><line x1="135.26" y1="501.2" x2="135.26" y2="516.1" stroke="#999" stroke-width="1.0"/><line x1="149.66" y1="501.2" x2="149.66" y2="516.1" stroke="#999" stroke-width="0.5"/><line x1="169.60" y1="501.2" x2="169.60" y2="516.1" stroke="#777" stroke-width="0.7"/><line x1="164.33" y1="501.2" x2="164.33" y2="516.1" stroke="#777" stroke-width="0.5"/><line x1="133.51" y1="501.2" x2="133.51" y2="516.1" stroke="#666" stroke-width="0.7"/><line x1="142.59" y1="501.2" x2="142.59" y2="516.1" stroke="#444" stroke-width="0.7"/><line x1="159.51" y1="501.2" x2="159.51" y2="516.1" stroke="#888" stroke-width="1.0"/><line x1="157.94" y1="501.2" x2="157.94" y2="516.1" stroke="#999" stroke-width="0.5"/><line x1="132.92" y1="501.2" x2="132.92" y2="516.1" stroke="#999" stroke-width="0.6"/><line x1="165.04" y1="501.2" x2="165.04" y2="516.1" stroke="#aaa" stroke-width="0.9"/><line x1="158.28" y1="501.2" x2="158.28" y2="516.1" stroke="#555" stroke-width="0.7"/><line x1="153.86" y1="501.2" x2="153.86" y2="516.1" stroke="#bbb" stroke-width="0.7"/><line x1="119.69" y1="501.2" x2="119.69" y2="516.1" stroke="#aaa" stroke-width="0.9"/><line x1="178.29" y1="501.2" x2="178.29" y2="516.1" stroke="#999" stroke-width="0.9"/><line x1="110.67" y1="501.2" x2="110.67" y2="516.1" stroke="#444" stroke-width="0.8"/><line x1="122.04" y1="501.2" x2="122.04" y2="516.1" stroke="#999" stroke-width="0.7"/><line x1="150.57" y1="501.2" x2="150.57" y2="516.1" stroke="#bbb" stroke-width="0.6"/><line x1="140.10" y1="501.2" x2="140.10" y2="516.1" stroke="#777" stroke-width="0.5"/><line x1="114.21" y1="501.2" x2="114.21" y2="516.1" stroke="#444" stroke-width="1.0"/><line x1="121.98" y1="501.2" x2="121.98" y2="516.1" stroke="#666" stroke-width="0.9"/><line x1="112.90" y1="501.2" x2="112.90" y2="516.1" stroke="#bbb" stroke-width="0.9"/><line x1="127.68" y1="501.2" x2="127.68" y2="516.1" stroke="#444" stroke-width="0.5"/><line x1="169.27" y1="501.2" x2="169.27" y2="516.1" stroke="#888" stroke-width="0.8"/><line x1="156.26" y1="501.2" x2="156.26" y2="516.1" stroke="#777" stroke-width="0.8"/><line x1="124.33" y1="501.2" x2="124.33" y2="516.1" stroke="#bbb" stroke-width="0.8"/><line x1="144.93" y1="501.2" x2="144.93" y2="516.1" stroke="#777" stroke-width="0.8"/><line x1="141.49" y1="501.2" x2="141.49" y2="516.1" stroke="#aaa" stroke-width="0.6"/>
<line x1="50.50" y1="501.20" x2="181.30" y2="501.20" stroke="#bdbdbd" stroke-width="0.6"/>
<rect x="50.50" y="516.10" width="130.80" height="3.20" fill="url(#strip)"/>
<text font-size="4.7" fill="#4a4a4a" text-anchor="middle" transform="translate(59.40,497.80) rotate(-45)">1000</text>
<text font-size="4.7" fill="#4a4a4a" text-anchor="middle" transform="translate(68.60,497.80) rotate(-45)">2000</text>
<text font-size="4.7" fill="#4a4a4a" text-anchor="middle" transform="translate(77.80,497.80) rotate(-45)">3000</text>
<text font-size="4.7" fill="#4a4a4a" text-anchor="middle" transform="translate(87.00,497.80) rotate(-45)">4000</text>
<text font-size="4.7" fill="#4a4a4a" text-anchor="middle" transform="translate(96.20,497.80) rotate(-45)">5000</text>
<text font-size="4.7" fill="#4a4a4a" text-anchor="middle" transform="translate(105.40,497.80) rotate(-45)">6000</text>
<text font-size="4.7" fill="#4a4a4a" text-anchor="middle" transform="translate(114.60,497.80) rotate(-45)">7000</text>
<text font-size="4.7" fill="#4a4a4a" text-anchor="middle" transform="translate(123.80,497.80) rotate(-45)">8000</text>
<text font-size="4.7" fill="#4a4a4a" text-anchor="middle" transform="translate(133.00,497.80) rotate(-45)">9000</text>
<text font-size="4.7" fill="#4a4a4a" text-anchor="middle" transform="translate(142.20,497.80) rotate(-45)">10000</text>
<text font-size="4.7" fill="#4a4a4a" text-anchor="middle" transform="translate(151.40,497.80) rotate(-45)">11000</text>
<text font-size="4.7" fill="#4a4a4a" text-anchor="middle" transform="translate(160.60,497.80) rotate(-45)">12000</text>
<text font-size="4.7" fill="#4a4a4a" text-anchor="middle" transform="translate(169.80,497.80) rotate(-45)">13000</text>
<text font-size="4.7" fill="#4a4a4a" text-anchor="middle" transform="translate(179.00,497.80) rotate(-45)">14000</text>
<line x1="56.00" y1="448.20" x2="56.00" y2="435.80" stroke="#f0606e" stroke-width="0.8" stroke-dasharray="2,0.8"/>
<line x1="173.50" y1="448.20" x2="173.50" y2="489.00" stroke="#f0606e" stroke-width="0.8" stroke-dasharray="2,0.8"/>
<polyline points="50.60,442.80 52.60,438.20 54.15,437.42 55.70,436.60 58.00,437.40 60.40,435.10 61.95,435.03 63.50,435.10 65.03,435.70 66.55,435.91 68.07,436.45 69.60,436.90 71.00,437.65 72.40,438.50 73.80,439.56 75.20,439.99 76.60,440.96 78.00,441.80 79.36,442.56 80.71,443.51 82.07,444.68 83.43,445.27 84.79,446.28 86.14,447.08 87.50,448.00 88.82,448.95 90.14,449.68 91.46,450.40 92.79,451.37 94.11,452.21 95.43,453.23 96.75,453.98 98.07,454.67 99.39,455.73 100.71,456.41 102.04,457.36 103.36,458.08 104.68,459.01 106.00,459.90 107.36,460.87 108.71,461.60 110.07,462.55 111.43,463.40 112.79,464.17 114.14,465.04 115.50,465.78 116.86,466.72 118.21,467.64 119.57,468.19 120.93,469.40 122.29,470.00 123.64,470.74 125.00,471.75 126.33,472.26 127.67,473.01 129.00,473.56 130.33,474.37 131.67,475.05 133.00,475.82 134.33,476.40 135.67,477.27 137.00,477.82 138.33,478.34 139.67,479.25 141.00,479.84 142.33,480.62 143.67,481.19 145.00,481.75 146.39,482.32 147.78,482.34 149.17,482.74 150.56,483.40 151.94,483.35 153.33,484.10 154.72,484.46 156.11,484.48 157.50,485.00 158.89,485.12 160.28,485.74 161.67,486.04 163.06,486.27 164.44,486.49 165.83,486.78 167.22,486.86 168.61,487.01 170.00,487.50 171.65,488.36 173.30,489.10 175.00,486.00 176.10,485.30 178.50,487.30 180.60,480.70" fill="none" stroke="#33ee33" stroke-width="1.05" stroke-linejoin="round"/>
<rect x="50.50" y="428.60" width="130.80" height="91.30" fill="none" stroke="#1a1a1a" stroke-width="1.3"/>
<line x1="47.50" y1="432.64" x2="50.50" y2="432.64" stroke="#1a1a1a" stroke-width="1"/>
<text x="44.1" y="435.3" font-size="7.5" text-anchor="end">0.2</text>
<line x1="47.50" y1="440.42" x2="50.50" y2="440.42" stroke="#1a1a1a" stroke-width="1"/>
<text x="44.1" y="443.1" font-size="7.5" text-anchor="end">0.1</text>
<line x1="47.50" y1="448.20" x2="50.50" y2="448.20" stroke="#1a1a1a" stroke-width="1"/>
<text x="44.1" y="450.9" font-size="7.5" text-anchor="end">0</text>
<line x1="47.50" y1="455.98" x2="50.50" y2="455.98" stroke="#1a1a1a" stroke-width="1"/>
<text x="44.1" y="458.7" font-size="7.5" text-anchor="end">−0.1</text>
<line x1="47.50" y1="463.76" x2="50.50" y2="463.76" stroke="#1a1a1a" stroke-width="1"/>
<text x="44.1" y="466.5" font-size="7.5" text-anchor="end">−0.2</text>
<line x1="47.50" y1="471.54" x2="50.50" y2="471.54" stroke="#1a1a1a" stroke-width="1"/>
<text x="44.1" y="474.2" font-size="7.5" text-anchor="end">−0.3</text>
<line x1="47.50" y1="479.32" x2="50.50" y2="479.32" stroke="#1a1a1a" stroke-width="1"/>
<text x="44.1" y="482.0" font-size="7.5" text-anchor="end">−0.4</text>
<line x1="47.50" y1="487.10" x2="50.50" y2="487.10" stroke="#1a1a1a" stroke-width="1"/>
<text x="44.1" y="489.8" font-size="7.5" text-anchor="end">−0.5</text>
<line x1="47.50" y1="494.88" x2="50.50" y2="494.88" stroke="#1a1a1a" stroke-width="1"/>
<text x="44.1" y="497.6" font-size="7.5" text-anchor="end">−0.6</text>
<text x="52.6" y="437.1" font-size="7.3" fill="#cc2444" textLength="48.3" lengthAdjust="spacingAndGlyphs">ES high = 0.19</text>
<text x="151.9" y="489.2" font-size="7.3" text-anchor="end" fill="#cc2444" textLength="52.9" lengthAdjust="spacingAndGlyphs">ES low = −0.534</text>
<text x="158.0" y="437.1" font-size="7.3" fill="#cc2444" textLength="17" lengthAdjust="spacingAndGlyphs">p = 1</text>
<text x="158.0" y="445.5" font-size="7.3" fill="#cc2444" textLength="17.5" lengthAdjust="spacingAndGlyphs">n = 8</text>
<text x="71.0" y="423.5" font-size="9.2" textLength="87.5" lengthAdjust="spacingAndGlyphs">HSCs renewal genes</text>
<path d="M225.30 428.6V501.2M234.40 428.6V501.2M243.50 428.6V501.2M252.60 428.6V501.2M261.70 428.6V501.2M270.80 428.6V501.2M279.90 428.6V501.2M289.00 428.6V501.2M298.10 428.6V501.2M307.20 428.6V501.2M316.30 428.6V501.2M325.40 428.6V501.2M334.50 428.6V501.2M343.60 428.6V501.2M215.5 432.20H346.3M215.5 440.00H346.3M215.5 447.80H346.3M215.5 455.60H346.3M215.5 471.20H346.3M215.5 479.00H346.3M215.5 486.80H346.3M215.5 494.60H346.3" stroke="#e3e3e3" stroke-width="0.7" fill="none"/>
<line x1="215.50" y1="463.40" x2="346.30" y2="463.40" stroke="#8c8c8c" stroke-width="0.8"/>
<line x1="228.46" y1="501.2" x2="228.46" y2="516.1" stroke="#777" stroke-width="1.0"/><line x1="234.85" y1="501.2" x2="234.85" y2="516.1" stroke="#aaa" stroke-width="0.5"/><line x1="232.81" y1="501.2" x2="232.81" y2="516.1" stroke="#555" stroke-width="1.0"/><line x1="217.04" y1="501.2" x2="217.04" y2="516.1" stroke="#444" stroke-width="0.5"/><line x1="223.44" y1="501.2" x2="223.44" y2="516.1" stroke="#555" stroke-width="0.8"/><line x1="226.88" y1="501.2" x2="226.88" y2="516.1" stroke="#555" stroke-width="0.5"/><line x1="230.62" y1="501.2" x2="230.62" y2="516.1" stroke="#888" stroke-width="0.7"/><line x1="219.64" y1="501.2" x2="219.64" y2="516.1" stroke="#888" stroke-width="0.6"/><line x1="231.24" y1="501.2" x2="231.24" y2="516.1" stroke="#333" stroke-width="0.6"/><line x1="228.36" y1="501.2" x2="228.36" y2="516.1" stroke="#999" stroke-width="0.6"/><line x1="218.64" y1="501.2" x2="218.64" y2="516.1" stroke="#222" stroke-width="0.6"/><line x1="231.47" y1="501.2" x2="231.47" y2="516.1" stroke="#444" stroke-width="0.6"/><line x1="221.79" y1="501.2" x2="221.79" y2="516.1" stroke="#555" stroke-width="0.9"/><line x1="233.52" y1="501.2" x2="233.52" y2="516.1" stroke="#555" stroke-width="0.6"/><line x1="234.82" y1="501.2" x2="234.82" y2="516.1" stroke="#555" stroke-width="0.8"/><line x1="221.98" y1="501.2" x2="221.98" y2="516.1" stroke="#777" stroke-width="0.8"/><line x1="219.32" y1="501.2" x2="219.32" y2="516.1" stroke="#444" stroke-width="0.7"/><line x1="217.30" y1="501.2" x2="217.30" y2="516.1" stroke="#666" stroke-width="0.9"/><line x1="227.72" y1="501.2" x2="227.72" y2="516.1" stroke="#777" stroke-width="0.5"/><line x1="222.20" y1="501.2" x2="222.20" y2="516.1" stroke="#666" stroke-width="0.8"/><line x1="229.93" y1="501.2" x2="229.93" y2="516.1" stroke="#444" stroke-width="0.8"/><line x1="225.45" y1="501.2" x2="225.45" y2="516.1" stroke="#444" stroke-width="0.5"/><line x1="239.59" y1="501.2" x2="239.59" y2="516.1" stroke="#222" stroke-width="1.0"/><line x1="241.01" y1="501.2" x2="241.01" y2="516.1" stroke="#888" stroke-width="0.5"/><line x1="243.69" y1="501.2" x2="243.69" y2="516.1" stroke="#888" stroke-width="0.7"/><line x1="241.27" y1="501.2" x2="241.27" y2="516.1" stroke="#222" stroke-width="0.8"/><line x1="263.54" y1="501.2" x2="263.54" y2="516.1" stroke="#444" stroke-width="0.9"/><line x1="293.52" y1="501.2" x2="293.52" y2="516.1" stroke="#555" stroke-width="0.5"/><line x1="286.94" y1="501.2" x2="286.94" y2="516.1" stroke="#999" stroke-width="0.7"/><line x1="278.91" y1="501.2" x2="278.91" y2="516.1" stroke="#aaa" stroke-width="0.7"/><line x1="287.59" y1="501.2" x2="287.59" y2="516.1" stroke="#333" stroke-width="0.9"/><line x1="286.70" y1="501.2" x2="286.70" y2="516.1" stroke="#777" stroke-width="0.7"/><line x1="263.21" y1="501.2" x2="263.21" y2="516.1" stroke="#333" stroke-width="0.6"/><line x1="273.24" y1="501.2" x2="273.24" y2="516.1" stroke="#777" stroke-width="0.6"/><line x1="273.22" y1="501.2" x2="273.22" y2="516.1" stroke="#aaa" stroke-width="0.5"/><line x1="272.31" y1="501.2" x2="272.31" y2="516.1" stroke="#777" stroke-width="0.7"/><line x1="267.86" y1="501.2" x2="267.86" y2="516.1" stroke="#333" stroke-width="1.0"/><line x1="307.98" y1="501.2" x2="307.98" y2="516.1" stroke="#666" stroke-width="0.8"/><line x1="308.23" y1="501.2" x2="308.23" y2="516.1" stroke="#222" stroke-width="0.5"/><line x1="324.73" y1="501.2" x2="324.73" y2="516.1" stroke="#aaa" stroke-width="0.8"/><line x1="305.64" y1="501.2" x2="305.64" y2="516.1" stroke="#777" stroke-width="0.7"/><line x1="314.11" y1="501.2" x2="314.11" y2="516.1" stroke="#888" stroke-width="0.6"/><line x1="306.11" y1="501.2" x2="306.11" y2="516.1" stroke="#222" stroke-width="0.8"/><line x1="311.68" y1="501.2" x2="311.68" y2="516.1" stroke="#555" stroke-width="0.6"/><line x1="345.61" y1="501.2" x2="345.61" y2="516.1" stroke="#444" stroke-width="1.0"/><line x1="343.83" y1="501.2" x2="343.83" y2="516.1" stroke="#888" stroke-width="0.5"/><line x1="328.55" y1="501.2" x2="328.55" y2="516.1" stroke="#777" stroke-width="0.6"/><line x1="326.23" y1="501.2" x2="326.23" y2="516.1" stroke="#888" stroke-width="0.7"/><line x1="327.97" y1="501.2" x2="327.97" y2="516.1" stroke="#444" stroke-width="0.9"/><line x1="334.52" y1="501.2" x2="334.52" y2="516.1" stroke="#999" stroke-width="1.0"/><line x1="340.32" y1="501.2" x2="340.32" y2="516.1" stroke="#999" stroke-width="0.7"/><line x1="331.11" y1="501.2" x2="331.11" y2="516.1" stroke="#888" stroke-width="0.6"/><line x1="327.36" y1="501.2" x2="327.36" y2="516.1" stroke="#aaa" stroke-width="0.6"/><line x1="338.17" y1="501.2" x2="338.17" y2="516.1" stroke="#999" stroke-width="0.7"/><line x1="328.78" y1="501.2" x2="328.78" y2="516.1" stroke="#999" stroke-width="0.7"/><line x1="335.82" y1="501.2" x2="335.82" y2="516.1" stroke="#aaa" stroke-width="0.9"/><line x1="332.59" y1="501.2" x2="332.59" y2="516.1" stroke="#777" stroke-width="1.0"/><line x1="337.34" y1="501.2" x2="337.34" y2="516.1" stroke="#222" stroke-width="0.7"/><line x1="332.63" y1="501.2" x2="332.63" y2="516.1" stroke="#666" stroke-width="0.8"/><line x1="330.56" y1="501.2" x2="330.56" y2="516.1" stroke="#666" stroke-width="0.7"/><line x1="338.64" y1="501.2" x2="338.64" y2="516.1" stroke="#222" stroke-width="0.8"/><line x1="336.49" y1="501.2" x2="336.49" y2="516.1" stroke="#666" stroke-width="0.7"/><line x1="339.10" y1="501.2" x2="339.10" y2="516.1" stroke="#999" stroke-width="0.7"/><line x1="342.15" y1="501.2" x2="342.15" y2="516.1" stroke="#777" stroke-width="0.7"/><line x1="330.75" y1="501.2" x2="330.75" y2="516.1" stroke="#777" stroke-width="1.0"/><line x1="344.69" y1="501.2" x2="344.69" y2="516.1" stroke="#888" stroke-width="0.7"/><line x1="344.37" y1="501.2" x2="344.37" y2="516.1" stroke="#444" stroke-width="1.0"/><line x1="334.45" y1="501.2" x2="334.45" y2="516.1" stroke="#777" stroke-width="0.7"/>
<line x1="215.50" y1="501.20" x2="346.30" y2="501.20" stroke="#bdbdbd" stroke-width="0.6"/>
<rect x="215.50" y="516.10" width="130.80" height="3.20" fill="url(#strip)"/>
<text font-size="4.7" fill="#4a4a4a" text-anchor="middle" transform="translate(225.30,497.80) rotate(-45)">1000</text>
<text font-size="4.7" fill="#4a4a4a" text-anchor="middle" transform="translate(234.40,497.80) rotate(-45)">2000</text>
<text font-size="4.7" fill="#4a4a4a" text-anchor="middle" transform="translate(243.50,497.80) rotate(-45)">3000</text>
<text font-size="4.7" fill="#4a4a4a" text-anchor="middle" transform="translate(252.60,497.80) rotate(-45)">4000</text>
<text font-size="4.7" fill="#4a4a4a" text-anchor="middle" transform="translate(261.70,497.80) rotate(-45)">5000</text>
<text font-size="4.7" fill="#4a4a4a" text-anchor="middle" transform="translate(270.80,497.80) rotate(-45)">6000</text>
<text font-size="4.7" fill="#4a4a4a" text-anchor="middle" transform="translate(279.90,497.80) rotate(-45)">7000</text>
<text font-size="4.7" fill="#4a4a4a" text-anchor="middle" transform="translate(289.00,497.80) rotate(-45)">8000</text>
<text font-size="4.7" fill="#4a4a4a" text-anchor="middle" transform="translate(298.10,497.80) rotate(-45)">9000</text>
<text font-size="4.7" fill="#4a4a4a" text-anchor="middle" transform="translate(307.20,497.80) rotate(-45)">10000</text>
<text font-size="4.7" fill="#4a4a4a" text-anchor="middle" transform="translate(316.30,497.80) rotate(-45)">11000</text>
<text font-size="4.7" fill="#4a4a4a" text-anchor="middle" transform="translate(325.40,497.80) rotate(-45)">12000</text>
<text font-size="4.7" fill="#4a4a4a" text-anchor="middle" transform="translate(334.50,497.80) rotate(-45)">13000</text>
<text font-size="4.7" fill="#4a4a4a" text-anchor="middle" transform="translate(343.60,497.80) rotate(-45)">14000</text>
<line x1="233.30" y1="463.40" x2="233.30" y2="436.80" stroke="#f0606e" stroke-width="0.8" stroke-dasharray="2,0.8"/>
<line x1="334.70" y1="463.40" x2="334.70" y2="487.30" stroke="#f0606e" stroke-width="0.8" stroke-dasharray="2,0.8"/>
<polyline points="215.60,462.90 216.60,450.50 218.20,445.10 219.75,443.87 221.30,442.80 222.83,441.75 224.37,440.47 225.90,439.00 227.30,438.70 228.70,438.17 230.10,437.73 231.50,436.86 232.90,436.60 234.80,437.06 236.70,437.40 238.25,438.09 239.80,439.00 241.35,439.48 242.90,439.72 244.45,440.15 246.00,440.50 247.38,441.21 248.76,441.91 250.13,442.71 251.51,443.47 252.89,443.88 254.27,444.77 255.64,445.49 257.02,445.96 258.40,446.70 259.77,447.39 261.13,448.41 262.50,449.38 263.87,450.13 265.23,450.84 266.60,451.92 267.97,452.61 269.33,453.71 270.70,454.40 272.11,455.13 273.52,456.19 274.94,456.97 276.35,458.11 277.76,458.62 279.18,459.82 280.59,460.49 282.00,461.40 283.65,462.49 285.30,463.70 286.69,464.34 288.08,465.24 289.47,466.20 290.86,467.00 292.25,467.74 293.64,468.37 295.03,468.97 296.42,469.86 297.81,470.70 299.20,471.40 300.60,472.08 302.00,473.16 303.40,473.54 304.80,474.37 306.20,475.13 307.60,475.89 309.00,476.62 310.40,477.47 311.80,478.30 313.20,479.32 314.60,479.90 315.98,480.52 317.36,481.15 318.73,481.63 320.11,482.15 321.49,482.93 322.87,483.60 324.24,483.92 325.62,484.77 327.00,485.30 328.54,485.57 330.08,486.18 331.62,486.44 333.16,486.74 334.70,487.30 336.25,485.79 337.80,484.60 339.37,483.70 340.93,482.55 342.50,481.50 344.80,473.70 345.90,464.50" fill="none" stroke="#33ee33" stroke-width="1.05" stroke-linejoin="round"/>
<rect x="215.50" y="428.60" width="130.80" height="91.30" fill="none" stroke="#1a1a1a" stroke-width="1.3"/>
<line x1="212.50" y1="432.20" x2="215.50" y2="432.20" stroke="#1a1a1a" stroke-width="1"/>
<text x="209.1" y="434.9" font-size="7.5" text-anchor="end">0.4</text>
<line x1="212.50" y1="440.00" x2="215.50" y2="440.00" stroke="#1a1a1a" stroke-width="1"/>
<text x="209.1" y="442.7" font-size="7.5" text-anchor="end">0.3</text>
<line x1="212.50" y1="447.80" x2="215.50" y2="447.80" stroke="#1a1a1a" stroke-width="1"/>
<text x="209.1" y="450.5" font-size="7.5" text-anchor="end">0.2</text>
<line x1="212.50" y1="455.60" x2="215.50" y2="455.60" stroke="#1a1a1a" stroke-width="1"/>
<text x="209.1" y="458.3" font-size="7.5" text-anchor="end">0.1</text>
<line x1="212.50" y1="463.40" x2="215.50" y2="463.40" stroke="#1a1a1a" stroke-width="1"/>
<text x="209.1" y="466.1" font-size="7.5" text-anchor="end">0</text>
<line x1="212.50" y1="471.20" x2="215.50" y2="471.20" stroke="#1a1a1a" stroke-width="1"/>
<text x="209.1" y="473.9" font-size="7.5" text-anchor="end">−0.1</text>
<line x1="212.50" y1="479.00" x2="215.50" y2="479.00" stroke="#1a1a1a" stroke-width="1"/>
<text x="209.1" y="481.7" font-size="7.5" text-anchor="end">−0.2</text>
<line x1="212.50" y1="486.80" x2="215.50" y2="486.80" stroke="#1a1a1a" stroke-width="1"/>
<text x="209.1" y="489.5" font-size="7.5" text-anchor="end">−0.3</text>
<line x1="212.50" y1="494.60" x2="215.50" y2="494.60" stroke="#1a1a1a" stroke-width="1"/>
<text x="209.1" y="497.3" font-size="7.5" text-anchor="end">−0.4</text>
<text x="218.2" y="437.1" font-size="7.3" fill="#cc2444" textLength="52.2" lengthAdjust="spacingAndGlyphs">ES high = 0.347</text>
<text x="318.5" y="489.2" font-size="7.3" text-anchor="end" fill="#cc2444" textLength="52.8" lengthAdjust="spacingAndGlyphs">ES low = −0.309</text>
<text x="302.6" y="437.1" font-size="7.3" fill="#cc2444" textLength="37.5" lengthAdjust="spacingAndGlyphs">Padj = 0.13</text>
<text x="302.6" y="445.5" font-size="7.3" fill="#cc2444" textLength="21.5" lengthAdjust="spacingAndGlyphs">n = 20</text>
<text x="251.9" y="423.5" font-size="9.2" textLength="59.8" lengthAdjust="spacingAndGlyphs">KEGG oxphos</text>
<path d="M391.80 428.6V501.2M400.90 428.6V501.2M410.00 428.6V501.2M419.10 428.6V501.2M428.20 428.6V501.2M437.30 428.6V501.2M446.40 428.6V501.2M455.50 428.6V501.2M464.60 428.6V501.2M473.70 428.6V501.2M482.80 428.6V501.2M491.90 428.6V501.2M501.00 428.6V501.2M510.10 428.6V501.2M382.5 432.80H512.4M382.5 441.70H512.4M382.5 450.60H512.4M382.5 468.40H512.4M382.5 477.30H512.4M382.5 486.20H512.4M382.5 495.10H512.4" stroke="#e3e3e3" stroke-width="0.7" fill="none"/>
<line x1="382.50" y1="459.50" x2="512.40" y2="459.50" stroke="#8c8c8c" stroke-width="0.8"/>
<line x1="432.19" y1="501.2" x2="432.19" y2="516.1" stroke="#333" stroke-width="0.8"/><line x1="430.26" y1="501.2" x2="430.26" y2="516.1" stroke="#222" stroke-width="0.5"/><line x1="392.03" y1="501.2" x2="392.03" y2="516.1" stroke="#999" stroke-width="1.0"/><line x1="406.14" y1="501.2" x2="406.14" y2="516.1" stroke="#222" stroke-width="0.7"/><line x1="413.31" y1="501.2" x2="413.31" y2="516.1" stroke="#555" stroke-width="1.0"/><line x1="437.10" y1="501.2" x2="437.10" y2="516.1" stroke="#aaa" stroke-width="0.9"/><line x1="425.29" y1="501.2" x2="425.29" y2="516.1" stroke="#555" stroke-width="0.9"/><line x1="417.32" y1="501.2" x2="417.32" y2="516.1" stroke="#666" stroke-width="1.0"/><line x1="432.81" y1="501.2" x2="432.81" y2="516.1" stroke="#333" stroke-width="0.8"/><line x1="403.81" y1="501.2" x2="403.81" y2="516.1" stroke="#333" stroke-width="0.7"/><line x1="432.62" y1="501.2" x2="432.62" y2="516.1" stroke="#666" stroke-width="0.8"/><line x1="426.38" y1="501.2" x2="426.38" y2="516.1" stroke="#555" stroke-width="1.0"/><line x1="422.36" y1="501.2" x2="422.36" y2="516.1" stroke="#666" stroke-width="0.5"/><line x1="441.99" y1="501.2" x2="441.99" y2="516.1" stroke="#555" stroke-width="1.0"/><line x1="439.59" y1="501.2" x2="439.59" y2="516.1" stroke="#999" stroke-width="0.6"/><line x1="414.91" y1="501.2" x2="414.91" y2="516.1" stroke="#aaa" stroke-width="0.5"/><line x1="422.28" y1="501.2" x2="422.28" y2="516.1" stroke="#555" stroke-width="0.9"/><line x1="409.64" y1="501.2" x2="409.64" y2="516.1" stroke="#777" stroke-width="0.9"/><line x1="390.41" y1="501.2" x2="390.41" y2="516.1" stroke="#aaa" stroke-width="1.0"/><line x1="415.57" y1="501.2" x2="415.57" y2="516.1" stroke="#333" stroke-width="0.9"/><line x1="424.09" y1="501.2" x2="424.09" y2="516.1" stroke="#666" stroke-width="1.0"/><line x1="395.17" y1="501.2" x2="395.17" y2="516.1" stroke="#999" stroke-width="0.6"/><line x1="391.56" y1="501.2" x2="391.56" y2="516.1" stroke="#555" stroke-width="1.0"/><line x1="415.37" y1="501.2" x2="415.37" y2="516.1" stroke="#555" stroke-width="0.6"/><line x1="384.06" y1="501.2" x2="384.06" y2="516.1" stroke="#777" stroke-width="0.9"/><line x1="439.08" y1="501.2" x2="439.08" y2="516.1" stroke="#666" stroke-width="0.7"/><line x1="406.40" y1="501.2" x2="406.40" y2="516.1" stroke="#888" stroke-width="0.7"/><line x1="390.86" y1="501.2" x2="390.86" y2="516.1" stroke="#999" stroke-width="0.5"/><line x1="394.49" y1="501.2" x2="394.49" y2="516.1" stroke="#888" stroke-width="0.5"/><line x1="443.82" y1="501.2" x2="443.82" y2="516.1" stroke="#555" stroke-width="0.5"/><line x1="438.32" y1="501.2" x2="438.32" y2="516.1" stroke="#999" stroke-width="0.8"/><line x1="431.60" y1="501.2" x2="431.60" y2="516.1" stroke="#888" stroke-width="0.5"/><line x1="415.03" y1="501.2" x2="415.03" y2="516.1" stroke="#999" stroke-width="0.7"/><line x1="426.75" y1="501.2" x2="426.75" y2="516.1" stroke="#888" stroke-width="0.5"/><line x1="394.91" y1="501.2" x2="394.91" y2="516.1" stroke="#666" stroke-width="0.8"/><line x1="413.24" y1="501.2" x2="413.24" y2="516.1" stroke="#444" stroke-width="0.5"/><line x1="384.36" y1="501.2" x2="384.36" y2="516.1" stroke="#333" stroke-width="0.7"/><line x1="419.54" y1="501.2" x2="419.54" y2="516.1" stroke="#777" stroke-width="0.6"/><line x1="398.89" y1="501.2" x2="398.89" y2="516.1" stroke="#999" stroke-width="0.7"/><line x1="440.51" y1="501.2" x2="440.51" y2="516.1" stroke="#666" stroke-width="0.8"/><line x1="440.47" y1="501.2" x2="440.47" y2="516.1" stroke="#888" stroke-width="0.9"/><line x1="413.10" y1="501.2" x2="413.10" y2="516.1" stroke="#999" stroke-width="1.0"/><line x1="412.67" y1="501.2" x2="412.67" y2="516.1" stroke="#444" stroke-width="1.0"/><line x1="406.40" y1="501.2" x2="406.40" y2="516.1" stroke="#666" stroke-width="1.0"/><line x1="432.89" y1="501.2" x2="432.89" y2="516.1" stroke="#777" stroke-width="0.7"/><line x1="423.87" y1="501.2" x2="423.87" y2="516.1" stroke="#888" stroke-width="1.0"/><line x1="420.39" y1="501.2" x2="420.39" y2="516.1" stroke="#777" stroke-width="1.0"/><line x1="407.69" y1="501.2" x2="407.69" y2="516.1" stroke="#999" stroke-width="1.0"/><line x1="499.19" y1="501.2" x2="499.19" y2="516.1" stroke="#666" stroke-width="0.9"/><line x1="450.38" y1="501.2" x2="450.38" y2="516.1" stroke="#999" stroke-width="0.5"/><line x1="461.32" y1="501.2" x2="461.32" y2="516.1" stroke="#333" stroke-width="1.0"/><line x1="494.55" y1="501.2" x2="494.55" y2="516.1" stroke="#777" stroke-width="0.8"/><line x1="502.92" y1="501.2" x2="502.92" y2="516.1" stroke="#222" stroke-width="0.6"/><line x1="459.57" y1="501.2" x2="459.57" y2="516.1" stroke="#666" stroke-width="0.9"/><line x1="450.92" y1="501.2" x2="450.92" y2="516.1" stroke="#aaa" stroke-width="0.8"/><line x1="454.70" y1="501.2" x2="454.70" y2="516.1" stroke="#555" stroke-width="0.5"/><line x1="473.00" y1="501.2" x2="473.00" y2="516.1" stroke="#444" stroke-width="1.0"/><line x1="488.79" y1="501.2" x2="488.79" y2="516.1" stroke="#777" stroke-width="0.6"/><line x1="452.34" y1="501.2" x2="452.34" y2="516.1" stroke="#333" stroke-width="1.0"/><line x1="456.54" y1="501.2" x2="456.54" y2="516.1" stroke="#999" stroke-width="0.8"/><line x1="494.89" y1="501.2" x2="494.89" y2="516.1" stroke="#333" stroke-width="1.0"/><line x1="451.91" y1="501.2" x2="451.91" y2="516.1" stroke="#aaa" stroke-width="0.6"/><line x1="488.23" y1="501.2" x2="488.23" y2="516.1" stroke="#333" stroke-width="0.6"/><line x1="488.32" y1="501.2" x2="488.32" y2="516.1" stroke="#666" stroke-width="1.0"/><line x1="478.02" y1="501.2" x2="478.02" y2="516.1" stroke="#222" stroke-width="1.0"/><line x1="458.50" y1="501.2" x2="458.50" y2="516.1" stroke="#555" stroke-width="0.8"/><line x1="479.71" y1="501.2" x2="479.71" y2="516.1" stroke="#999" stroke-width="0.8"/><line x1="484.63" y1="501.2" x2="484.63" y2="516.1" stroke="#999" stroke-width="1.0"/><line x1="485.92" y1="501.2" x2="485.92" y2="516.1" stroke="#666" stroke-width="0.7"/><line x1="467.74" y1="501.2" x2="467.74" y2="516.1" stroke="#222" stroke-width="0.5"/><line x1="481.15" y1="501.2" x2="481.15" y2="516.1" stroke="#666" stroke-width="0.7"/><line x1="467.00" y1="501.2" x2="467.00" y2="516.1" stroke="#999" stroke-width="0.8"/><line x1="477.54" y1="501.2" x2="477.54" y2="516.1" stroke="#777" stroke-width="0.5"/><line x1="494.25" y1="501.2" x2="494.25" y2="516.1" stroke="#555" stroke-width="0.9"/><line x1="489.59" y1="501.2" x2="489.59" y2="516.1" stroke="#aaa" stroke-width="1.0"/><line x1="452.03" y1="501.2" x2="452.03" y2="516.1" stroke="#444" stroke-width="0.7"/><line x1="472.97" y1="501.2" x2="472.97" y2="516.1" stroke="#222" stroke-width="1.0"/><line x1="497.44" y1="501.2" x2="497.44" y2="516.1" stroke="#555" stroke-width="1.0"/><line x1="476.85" y1="501.2" x2="476.85" y2="516.1" stroke="#333" stroke-width="0.6"/><line x1="495.35" y1="501.2" x2="495.35" y2="516.1" stroke="#333" stroke-width="0.8"/><line x1="483.92" y1="501.2" x2="483.92" y2="516.1" stroke="#999" stroke-width="1.0"/><line x1="480.66" y1="501.2" x2="480.66" y2="516.1" stroke="#333" stroke-width="0.6"/><line x1="454.59" y1="501.2" x2="454.59" y2="516.1" stroke="#aaa" stroke-width="0.5"/><line x1="461.51" y1="501.2" x2="461.51" y2="516.1" stroke="#444" stroke-width="0.6"/><line x1="467.47" y1="501.2" x2="467.47" y2="516.1" stroke="#444" stroke-width="0.9"/><line x1="485.24" y1="501.2" x2="485.24" y2="516.1" stroke="#888" stroke-width="0.6"/><line x1="508.59" y1="501.2" x2="508.59" y2="516.1" stroke="#444" stroke-width="0.8"/><line x1="492.83" y1="501.2" x2="492.83" y2="516.1" stroke="#777" stroke-width="0.6"/><line x1="484.78" y1="501.2" x2="484.78" y2="516.1" stroke="#222" stroke-width="0.9"/><line x1="473.97" y1="501.2" x2="473.97" y2="516.1" stroke="#777" stroke-width="0.8"/><line x1="482.63" y1="501.2" x2="482.63" y2="516.1" stroke="#222" stroke-width="0.8"/><line x1="502.38" y1="501.2" x2="502.38" y2="516.1" stroke="#aaa" stroke-width="0.9"/><line x1="502.70" y1="501.2" x2="502.70" y2="516.1" stroke="#444" stroke-width="1.0"/><line x1="464.49" y1="501.2" x2="464.49" y2="516.1" stroke="#aaa" stroke-width="1.0"/><line x1="473.08" y1="501.2" x2="473.08" y2="516.1" stroke="#444" stroke-width="0.6"/><line x1="460.18" y1="501.2" x2="460.18" y2="516.1" stroke="#444" stroke-width="0.8"/>
<line x1="382.50" y1="501.20" x2="512.40" y2="501.20" stroke="#bdbdbd" stroke-width="0.6"/>
<rect x="382.50" y="516.10" width="129.90" height="3.20" fill="url(#strip)"/>
<text font-size="4.7" fill="#4a4a4a" text-anchor="middle" transform="translate(391.80,497.80) rotate(-45)">1000</text>
<text font-size="4.7" fill="#4a4a4a" text-anchor="middle" transform="translate(400.90,497.80) rotate(-45)">2000</text>
<text font-size="4.7" fill="#4a4a4a" text-anchor="middle" transform="translate(410.00,497.80) rotate(-45)">3000</text>
<text font-size="4.7" fill="#4a4a4a" text-anchor="middle" transform="translate(419.10,497.80) rotate(-45)">4000</text>
<text font-size="4.7" fill="#4a4a4a" text-anchor="middle" transform="translate(428.20,497.80) rotate(-45)">5000</text>
<text font-size="4.7" fill="#4a4a4a" text-anchor="middle" transform="translate(437.30,497.80) rotate(-45)">6000</text>
<text font-size="4.7" fill="#4a4a4a" text-anchor="middle" transform="translate(446.40,497.80) rotate(-45)">7000</text>
<text font-size="4.7" fill="#4a4a4a" text-anchor="middle" transform="translate(455.50,497.80) rotate(-45)">8000</text>
<text font-size="4.7" fill="#4a4a4a" text-anchor="middle" transform="translate(464.60,497.80) rotate(-45)">9000</text>
<text font-size="4.7" fill="#4a4a4a" text-anchor="middle" transform="translate(473.70,497.80) rotate(-45)">10000</text>
<text font-size="4.7" fill="#4a4a4a" text-anchor="middle" transform="translate(482.80,497.80) rotate(-45)">11000</text>
<text font-size="4.7" fill="#4a4a4a" text-anchor="middle" transform="translate(491.90,497.80) rotate(-45)">12000</text>
<text font-size="4.7" fill="#4a4a4a" text-anchor="middle" transform="translate(501.00,497.80) rotate(-45)">13000</text>
<text font-size="4.7" fill="#4a4a4a" text-anchor="middle" transform="translate(510.10,497.80) rotate(-45)">14000</text>
<line x1="400.10" y1="459.50" x2="400.10" y2="434.90" stroke="#f0606e" stroke-width="0.8" stroke-dasharray="2,0.8"/>
<line x1="509.20" y1="459.50" x2="509.20" y2="493.00" stroke="#f0606e" stroke-width="0.8" stroke-dasharray="2,0.8"/>
<polyline points="382.60,450.50 383.50,445.50 384.50,443.00 386.50,441.50 388.00,440.17 389.50,439.25 392.00,437.00 394.50,435.50 397.00,434.60 399.50,434.25 401.25,434.71 403.00,435.00 404.33,435.18 405.67,435.65 407.00,436.00 408.50,436.58 410.00,437.13 411.50,437.48 413.00,438.00 414.30,438.50 415.60,438.79 416.90,439.47 418.20,439.94 419.50,440.50 420.80,441.36 422.10,441.92 423.40,442.71 424.70,443.27 426.00,444.00 427.50,444.86 429.00,446.15 430.50,447.14 432.00,448.00 433.33,448.95 434.67,449.82 436.00,451.01 437.33,452.00 438.67,453.12 440.00,454.00 441.40,455.34 442.80,456.60 444.20,457.93 445.60,459.15 447.00,460.50 448.43,461.32 449.86,462.34 451.29,463.74 452.71,464.71 454.14,465.48 455.57,466.76 457.00,467.60 458.43,468.56 459.86,469.33 461.29,470.61 462.71,471.44 464.14,472.54 465.57,473.38 467.00,474.25 468.43,474.82 469.86,475.80 471.29,476.63 472.71,477.43 474.14,477.93 475.57,478.76 477.00,479.50 478.43,480.27 479.86,480.71 481.29,481.69 482.71,482.34 484.14,482.69 485.57,483.61 487.00,484.25 488.50,484.95 490.00,485.64 491.50,486.58 493.00,487.30 494.30,488.05 495.60,488.40 496.90,488.75 498.20,489.46 499.50,490.00 501.25,490.87 503.00,491.50 504.38,492.20 505.75,492.50 508.25,491.75 510.75,484.25 512.10,476.00" fill="none" stroke="#33ee33" stroke-width="1.05" stroke-linejoin="round"/>
<rect x="382.50" y="428.60" width="129.90" height="91.30" fill="none" stroke="#1a1a1a" stroke-width="1.3"/>
<line x1="379.50" y1="432.80" x2="382.50" y2="432.80" stroke="#1a1a1a" stroke-width="1"/>
<text x="376.1" y="435.5" font-size="7.5" text-anchor="end">0.3</text>
<line x1="379.50" y1="441.70" x2="382.50" y2="441.70" stroke="#1a1a1a" stroke-width="1"/>
<text x="376.1" y="444.4" font-size="7.5" text-anchor="end">0.2</text>
<line x1="379.50" y1="450.60" x2="382.50" y2="450.60" stroke="#1a1a1a" stroke-width="1"/>
<text x="376.1" y="453.3" font-size="7.5" text-anchor="end">0.1</text>
<line x1="379.50" y1="459.50" x2="382.50" y2="459.50" stroke="#1a1a1a" stroke-width="1"/>
<text x="376.1" y="462.2" font-size="7.5" text-anchor="end">0</text>
<line x1="379.50" y1="468.40" x2="382.50" y2="468.40" stroke="#1a1a1a" stroke-width="1"/>
<text x="376.1" y="471.1" font-size="7.5" text-anchor="end">−0.1</text>
<line x1="379.50" y1="477.30" x2="382.50" y2="477.30" stroke="#1a1a1a" stroke-width="1"/>
<text x="376.1" y="480.0" font-size="7.5" text-anchor="end">−0.2</text>
<line x1="379.50" y1="486.20" x2="382.50" y2="486.20" stroke="#1a1a1a" stroke-width="1"/>
<text x="376.1" y="488.9" font-size="7.5" text-anchor="end">−0.3</text>
<line x1="379.50" y1="495.10" x2="382.50" y2="495.10" stroke="#1a1a1a" stroke-width="1"/>
<text x="376.1" y="497.8" font-size="7.5" text-anchor="end">−0.4</text>
<text x="385.1" y="437.4" font-size="7.3" fill="#cc2444" textLength="52.9" lengthAdjust="spacingAndGlyphs">ES high = 0.259</text>
<text x="483.0" y="489.2" font-size="7.3" text-anchor="end" fill="#cc2444" textLength="52.9" lengthAdjust="spacingAndGlyphs">ES low = −0.393</text>
<text x="468.6" y="437.1" font-size="7.3" fill="#cc2444" textLength="37.9" lengthAdjust="spacingAndGlyphs">Padj = 0.24</text>
<text x="468.6" y="445.5" font-size="7.3" fill="#cc2444" textLength="21.5" lengthAdjust="spacingAndGlyphs">n = 29</text>
<text x="396.7" y="423.5" font-size="9.2" textLength="96.8" lengthAdjust="spacingAndGlyphs">HIF-1<tspan font-family="Liberation Serif" font-style="italic">α</tspan> targeted genes</text>
<line x1="54.20" y1="390.00" x2="99.80" y2="390.00" stroke="#555" stroke-width="1.35"/>
<line x1="130.30" y1="390.00" x2="176.00" y2="390.00" stroke="#555" stroke-width="1.35"/>
<text x="77.0" y="400.9" font-size="9.8" fill="#231f20" text-anchor="middle" textLength="37.2" lengthAdjust="spacingAndGlyphs"><tspan font-style="italic">Tet2</tspan><tspan font-size="5.9" dy="-3.7">−/−</tspan><tspan dy="3.7"> A</tspan></text>
<text x="151.6" y="400.9" font-size="9.8" text-anchor="middle" textLength="23.5" lengthAdjust="spacingAndGlyphs">WT A</text>
<line x1="214.80" y1="390.00" x2="261.20" y2="390.00" stroke="#555" stroke-width="1.35"/>
<line x1="290.80" y1="390.00" x2="337.30" y2="390.00" stroke="#555" stroke-width="1.35"/>
<text x="238.0" y="400.9" font-size="9.8" fill="#231f20" text-anchor="middle" textLength="37.2" lengthAdjust="spacingAndGlyphs"><tspan font-style="italic">Tet2</tspan><tspan font-size="5.9" dy="-3.7">−/−</tspan><tspan dy="3.7"> A</tspan></text>
<text x="312.4" y="400.9" font-size="9.8" text-anchor="middle" textLength="23.5" lengthAdjust="spacingAndGlyphs">WT A</text>
<line x1="391.20" y1="390.00" x2="436.40" y2="390.00" stroke="#555" stroke-width="1.35"/>
<line x1="466.60" y1="390.00" x2="512.40" y2="390.00" stroke="#555" stroke-width="1.35"/>
<text x="413.8" y="400.9" font-size="9.8" fill="#231f20" text-anchor="middle" textLength="37.2" lengthAdjust="spacingAndGlyphs"><tspan font-style="italic">Tet2</tspan><tspan font-size="5.9" dy="-3.7">−/−</tspan><tspan dy="3.7"> A</tspan></text>
<text x="487.9" y="400.9" font-size="9.8" text-anchor="middle" textLength="23.5" lengthAdjust="spacingAndGlyphs">WT A</text>
<line x1="54.20" y1="524.00" x2="99.80" y2="524.00" stroke="#555" stroke-width="1.35"/>
<line x1="130.30" y1="524.00" x2="176.00" y2="524.00" stroke="#555" stroke-width="1.35"/>
<text x="77.0" y="534.7" font-size="9.8" fill="#231f20" text-anchor="middle" textLength="37.2" lengthAdjust="spacingAndGlyphs"><tspan font-style="italic">Tet2</tspan><tspan font-size="5.9" dy="-3.7">−/−</tspan><tspan dy="3.7"> A</tspan></text>
<text x="153.2" y="534.7" font-size="9.8" fill="#231f20" text-anchor="middle" textLength="37.2" lengthAdjust="spacingAndGlyphs"><tspan font-style="italic">Tet2</tspan><tspan font-size="5.9" dy="-3.7">−/−</tspan><tspan dy="3.7"> P</tspan></text>
<line x1="214.80" y1="524.00" x2="261.20" y2="524.00" stroke="#555" stroke-width="1.35"/>
<line x1="290.80" y1="524.00" x2="337.30" y2="524.00" stroke="#555" stroke-width="1.35"/>
<text x="238.0" y="534.7" font-size="9.8" fill="#231f20" text-anchor="middle" textLength="37.2" lengthAdjust="spacingAndGlyphs"><tspan font-style="italic">Tet2</tspan><tspan font-size="5.9" dy="-3.7">−/−</tspan><tspan dy="3.7"> A</tspan></text>
<text x="314.1" y="534.7" font-size="9.8" fill="#231f20" text-anchor="middle" textLength="37.2" lengthAdjust="spacingAndGlyphs"><tspan font-style="italic">Tet2</tspan><tspan font-size="5.9" dy="-3.7">−/−</tspan><tspan dy="3.7"> P</tspan></text>
<line x1="391.20" y1="524.00" x2="436.40" y2="524.00" stroke="#555" stroke-width="1.35"/>
<line x1="466.60" y1="524.00" x2="512.40" y2="524.00" stroke="#555" stroke-width="1.35"/>
<text x="413.8" y="534.7" font-size="9.8" fill="#231f20" text-anchor="middle" textLength="37.2" lengthAdjust="spacingAndGlyphs"><tspan font-style="italic">Tet2</tspan><tspan font-size="5.9" dy="-3.7">−/−</tspan><tspan dy="3.7"> A</tspan></text>
<text x="489.5" y="534.7" font-size="9.8" fill="#231f20" text-anchor="middle" textLength="37.2" lengthAdjust="spacingAndGlyphs"><tspan font-style="italic">Tet2</tspan><tspan font-size="5.9" dy="-3.7">−/−</tspan><tspan dy="3.7"> P</tspan></text>
<line x1="50.30" y1="539.30" x2="511.20" y2="539.30" stroke="#555" stroke-width="1.2"/>
<text x="241.7" y="552.9" font-size="9.6" textLength="78.5" lengthAdjust="spacingAndGlyphs">Rank in ordered dataset</text>
<line x1="25.70" y1="294.60" x2="25.70" y2="520.30" stroke="#444" stroke-width="1"/>
<text x="0.0" y="0.0" font-size="9.6" textLength="56.2" lengthAdjust="spacingAndGlyphs" transform="translate(20.4,439) rotate(-90)">Enrichment score</text>
<defs><linearGradient id="stripE" x1="0" y1="0" x2="1" y2="0"><stop offset="0" stop-color="#f4b0bc"/><stop offset="0.035" stop-color="#f9d5dc"/><stop offset="0.05" stop-color="#ffffff"/><stop offset="0.38" stop-color="#ffffff"/><stop offset="0.42" stop-color="#e2e2fa"/><stop offset="0.86" stop-color="#d8d8f8"/><stop offset="0.88" stop-color="#b4b4f0"/><stop offset="1" stop-color="#a8a8ee"/></linearGradient></defs>
<path d="M68.75 584.2V656.9M96.50 584.2V656.9M124.25 584.2V656.9M152.00 584.2V656.9M41.3 588.40H172.1M41.3 598.70H172.1M41.3 609.00H172.1M41.3 619.30H172.1M41.3 639.90H172.1M41.3 650.20H172.1" stroke="#e3e3e3" stroke-width="0.7" fill="none"/>
<line x1="41.30" y1="629.60" x2="172.10" y2="629.60" stroke="#8c8c8c" stroke-width="0.8"/>
<line x1="100.84" y1="656.9" x2="100.84" y2="671.2" stroke="#bbb" stroke-width="0.8"/><line x1="100.77" y1="656.9" x2="100.77" y2="671.2" stroke="#666" stroke-width="0.6"/><line x1="147.34" y1="656.9" x2="147.34" y2="671.2" stroke="#aaa" stroke-width="1.0"/><line x1="122.21" y1="656.9" x2="122.21" y2="671.2" stroke="#555" stroke-width="0.5"/><line x1="100.07" y1="656.9" x2="100.07" y2="671.2" stroke="#555" stroke-width="0.5"/><line x1="112.26" y1="656.9" x2="112.26" y2="671.2" stroke="#111" stroke-width="0.9"/><line x1="170.92" y1="656.9" x2="170.92" y2="671.2" stroke="#aaa" stroke-width="1.0"/><line x1="138.74" y1="656.9" x2="138.74" y2="671.2" stroke="#555" stroke-width="0.9"/><line x1="42.98" y1="656.9" x2="42.98" y2="671.2" stroke="#bbb" stroke-width="0.5"/><line x1="48.88" y1="656.9" x2="48.88" y2="671.2" stroke="#666" stroke-width="0.6"/><line x1="120.31" y1="656.9" x2="120.31" y2="671.2" stroke="#aaa" stroke-width="0.7"/><line x1="99.27" y1="656.9" x2="99.27" y2="671.2" stroke="#666" stroke-width="0.9"/><line x1="71.91" y1="656.9" x2="71.91" y2="671.2" stroke="#777" stroke-width="0.8"/><line x1="52.24" y1="656.9" x2="52.24" y2="671.2" stroke="#777" stroke-width="0.8"/><line x1="152.14" y1="656.9" x2="152.14" y2="671.2" stroke="#777" stroke-width="0.7"/><line x1="141.26" y1="656.9" x2="141.26" y2="671.2" stroke="#bbb" stroke-width="0.7"/><line x1="44.94" y1="656.9" x2="44.94" y2="671.2" stroke="#333" stroke-width="0.8"/><line x1="55.26" y1="656.9" x2="55.26" y2="671.2" stroke="#777" stroke-width="0.8"/><line x1="49.84" y1="656.9" x2="49.84" y2="671.2" stroke="#111" stroke-width="1.0"/><line x1="68.74" y1="656.9" x2="68.74" y2="671.2" stroke="#111" stroke-width="0.8"/><line x1="90.66" y1="656.9" x2="90.66" y2="671.2" stroke="#999" stroke-width="0.8"/><line x1="50.66" y1="656.9" x2="50.66" y2="671.2" stroke="#666" stroke-width="1.0"/><line x1="76.68" y1="656.9" x2="76.68" y2="671.2" stroke="#333" stroke-width="0.7"/><line x1="84.99" y1="656.9" x2="84.99" y2="671.2" stroke="#999" stroke-width="0.5"/><line x1="58.80" y1="656.9" x2="58.80" y2="671.2" stroke="#333" stroke-width="0.5"/><line x1="48.92" y1="656.9" x2="48.92" y2="671.2" stroke="#aaa" stroke-width="0.6"/><line x1="131.22" y1="656.9" x2="131.22" y2="671.2" stroke="#666" stroke-width="0.8"/><line x1="108.31" y1="656.9" x2="108.31" y2="671.2" stroke="#555" stroke-width="0.8"/><line x1="126.15" y1="656.9" x2="126.15" y2="671.2" stroke="#333" stroke-width="0.8"/><line x1="96.66" y1="656.9" x2="96.66" y2="671.2" stroke="#666" stroke-width="0.5"/><line x1="76.69" y1="656.9" x2="76.69" y2="671.2" stroke="#777" stroke-width="0.5"/><line x1="68.87" y1="656.9" x2="68.87" y2="671.2" stroke="#999" stroke-width="0.9"/><line x1="125.90" y1="656.9" x2="125.90" y2="671.2" stroke="#333" stroke-width="0.5"/><line x1="69.21" y1="656.9" x2="69.21" y2="671.2" stroke="#777" stroke-width="0.5"/><line x1="143.21" y1="656.9" x2="143.21" y2="671.2" stroke="#888" stroke-width="0.7"/><line x1="92.08" y1="656.9" x2="92.08" y2="671.2" stroke="#333" stroke-width="0.5"/><line x1="68.61" y1="656.9" x2="68.61" y2="671.2" stroke="#666" stroke-width="0.5"/><line x1="120.53" y1="656.9" x2="120.53" y2="671.2" stroke="#888" stroke-width="0.9"/><line x1="100.95" y1="656.9" x2="100.95" y2="671.2" stroke="#aaa" stroke-width="0.9"/><line x1="58.95" y1="656.9" x2="58.95" y2="671.2" stroke="#999" stroke-width="0.6"/><line x1="123.97" y1="656.9" x2="123.97" y2="671.2" stroke="#777" stroke-width="0.6"/><line x1="149.17" y1="656.9" x2="149.17" y2="671.2" stroke="#666" stroke-width="1.0"/><line x1="66.11" y1="656.9" x2="66.11" y2="671.2" stroke="#bbb" stroke-width="0.6"/><line x1="131.87" y1="656.9" x2="131.87" y2="671.2" stroke="#999" stroke-width="0.8"/><line x1="120.83" y1="656.9" x2="120.83" y2="671.2" stroke="#999" stroke-width="0.5"/><line x1="54.74" y1="656.9" x2="54.74" y2="671.2" stroke="#111" stroke-width="0.9"/><line x1="168.34" y1="656.9" x2="168.34" y2="671.2" stroke="#666" stroke-width="1.0"/><line x1="134.20" y1="656.9" x2="134.20" y2="671.2" stroke="#777" stroke-width="0.8"/><line x1="149.96" y1="656.9" x2="149.96" y2="671.2" stroke="#aaa" stroke-width="0.7"/><line x1="109.79" y1="656.9" x2="109.79" y2="671.2" stroke="#333" stroke-width="0.6"/><line x1="71.21" y1="656.9" x2="71.21" y2="671.2" stroke="#bbb" stroke-width="1.0"/><line x1="153.75" y1="656.9" x2="153.75" y2="671.2" stroke="#333" stroke-width="0.7"/><line x1="69.10" y1="656.9" x2="69.10" y2="671.2" stroke="#666" stroke-width="1.0"/><line x1="43.19" y1="656.9" x2="43.19" y2="671.2" stroke="#777" stroke-width="0.8"/><line x1="99.96" y1="656.9" x2="99.96" y2="671.2" stroke="#111" stroke-width="0.5"/><line x1="64.31" y1="656.9" x2="64.31" y2="671.2" stroke="#888" stroke-width="0.9"/><line x1="116.68" y1="656.9" x2="116.68" y2="671.2" stroke="#555" stroke-width="0.5"/><line x1="88.90" y1="656.9" x2="88.90" y2="671.2" stroke="#aaa" stroke-width="0.7"/><line x1="127.90" y1="656.9" x2="127.90" y2="671.2" stroke="#bbb" stroke-width="0.9"/><line x1="166.25" y1="656.9" x2="166.25" y2="671.2" stroke="#111" stroke-width="0.5"/><line x1="103.80" y1="656.9" x2="103.80" y2="671.2" stroke="#888" stroke-width="1.0"/><line x1="82.24" y1="656.9" x2="82.24" y2="671.2" stroke="#111" stroke-width="0.5"/><line x1="120.15" y1="656.9" x2="120.15" y2="671.2" stroke="#333" stroke-width="0.8"/><line x1="49.90" y1="656.9" x2="49.90" y2="671.2" stroke="#777" stroke-width="0.7"/><line x1="59.07" y1="656.9" x2="59.07" y2="671.2" stroke="#333" stroke-width="0.5"/><line x1="100.93" y1="656.9" x2="100.93" y2="671.2" stroke="#888" stroke-width="1.0"/><line x1="46.88" y1="656.9" x2="46.88" y2="671.2" stroke="#555" stroke-width="0.7"/><line x1="87.54" y1="656.9" x2="87.54" y2="671.2" stroke="#aaa" stroke-width="0.5"/><line x1="156.22" y1="656.9" x2="156.22" y2="671.2" stroke="#999" stroke-width="0.5"/><line x1="155.22" y1="656.9" x2="155.22" y2="671.2" stroke="#111" stroke-width="0.9"/><line x1="128.60" y1="656.9" x2="128.60" y2="671.2" stroke="#999" stroke-width="0.9"/><line x1="42.65" y1="656.9" x2="42.65" y2="671.2" stroke="#333" stroke-width="0.5"/><line x1="52.99" y1="656.9" x2="52.99" y2="671.2" stroke="#333" stroke-width="0.7"/><line x1="157.37" y1="656.9" x2="157.37" y2="671.2" stroke="#888" stroke-width="0.8"/><line x1="164.58" y1="656.9" x2="164.58" y2="671.2" stroke="#aaa" stroke-width="0.8"/><line x1="102.19" y1="656.9" x2="102.19" y2="671.2" stroke="#bbb" stroke-width="0.5"/><line x1="109.61" y1="656.9" x2="109.61" y2="671.2" stroke="#bbb" stroke-width="0.5"/><line x1="82.04" y1="656.9" x2="82.04" y2="671.2" stroke="#333" stroke-width="0.8"/><line x1="43.95" y1="656.9" x2="43.95" y2="671.2" stroke="#333" stroke-width="0.8"/><line x1="144.17" y1="656.9" x2="144.17" y2="671.2" stroke="#aaa" stroke-width="0.7"/><line x1="159.57" y1="656.9" x2="159.57" y2="671.2" stroke="#888" stroke-width="0.7"/><line x1="59.94" y1="656.9" x2="59.94" y2="671.2" stroke="#666" stroke-width="0.9"/><line x1="63.43" y1="656.9" x2="63.43" y2="671.2" stroke="#888" stroke-width="1.0"/><line x1="164.06" y1="656.9" x2="164.06" y2="671.2" stroke="#aaa" stroke-width="0.6"/><line x1="84.25" y1="656.9" x2="84.25" y2="671.2" stroke="#777" stroke-width="0.6"/><line x1="124.89" y1="656.9" x2="124.89" y2="671.2" stroke="#666" stroke-width="0.6"/><line x1="91.85" y1="656.9" x2="91.85" y2="671.2" stroke="#888" stroke-width="0.6"/><line x1="59.01" y1="656.9" x2="59.01" y2="671.2" stroke="#aaa" stroke-width="0.7"/><line x1="151.73" y1="656.9" x2="151.73" y2="671.2" stroke="#111" stroke-width="1.0"/><line x1="49.48" y1="656.9" x2="49.48" y2="671.2" stroke="#777" stroke-width="0.6"/><line x1="55.92" y1="656.9" x2="55.92" y2="671.2" stroke="#aaa" stroke-width="0.7"/><line x1="163.45" y1="656.9" x2="163.45" y2="671.2" stroke="#999" stroke-width="0.8"/><line x1="123.77" y1="656.9" x2="123.77" y2="671.2" stroke="#aaa" stroke-width="1.0"/><line x1="82.72" y1="656.9" x2="82.72" y2="671.2" stroke="#aaa" stroke-width="0.7"/><line x1="50.88" y1="656.9" x2="50.88" y2="671.2" stroke="#111" stroke-width="0.7"/><line x1="156.45" y1="656.9" x2="156.45" y2="671.2" stroke="#111" stroke-width="1.0"/><line x1="134.73" y1="656.9" x2="134.73" y2="671.2" stroke="#888" stroke-width="0.7"/><line x1="126.88" y1="656.9" x2="126.88" y2="671.2" stroke="#111" stroke-width="1.0"/><line x1="58.97" y1="656.9" x2="58.97" y2="671.2" stroke="#aaa" stroke-width="0.6"/><line x1="44.27" y1="656.9" x2="44.27" y2="671.2" stroke="#777" stroke-width="0.6"/><line x1="144.08" y1="656.9" x2="144.08" y2="671.2" stroke="#111" stroke-width="1.0"/><line x1="56.25" y1="656.9" x2="56.25" y2="671.2" stroke="#333" stroke-width="1.0"/><line x1="111.82" y1="656.9" x2="111.82" y2="671.2" stroke="#888" stroke-width="0.5"/><line x1="131.54" y1="656.9" x2="131.54" y2="671.2" stroke="#666" stroke-width="0.8"/><line x1="74.87" y1="656.9" x2="74.87" y2="671.2" stroke="#111" stroke-width="0.8"/><line x1="111.75" y1="656.9" x2="111.75" y2="671.2" stroke="#111" stroke-width="0.6"/><line x1="70.95" y1="656.9" x2="70.95" y2="671.2" stroke="#888" stroke-width="0.9"/><line x1="133.24" y1="656.9" x2="133.24" y2="671.2" stroke="#bbb" stroke-width="0.9"/><line x1="122.28" y1="656.9" x2="122.28" y2="671.2" stroke="#555" stroke-width="0.8"/><line x1="153.27" y1="656.9" x2="153.27" y2="671.2" stroke="#666" stroke-width="0.5"/>
<rect x="44.00" y="656.90" width="2.50" height="14.30" fill="#000" fill-opacity="0.55"/>
<rect x="52.00" y="656.90" width="2.50" height="14.30" fill="#000" fill-opacity="0.9"/>
<rect x="60.00" y="656.90" width="1.50" height="14.30" fill="#000" fill-opacity="0.6"/>
<rect x="80.00" y="656.90" width="2.00" height="14.30" fill="#000" fill-opacity="0.5"/>
<rect x="101.00" y="656.90" width="3.00" height="14.30" fill="#000" fill-opacity="0.35"/>
<rect x="120.00" y="656.90" width="5.00" height="14.30" fill="#000" fill-opacity="0.35"/>
<rect x="140.00" y="656.90" width="4.00" height="14.30" fill="#000" fill-opacity="0.35"/>
<rect x="160.00" y="656.90" width="3.00" height="14.30" fill="#000" fill-opacity="0.45"/>
<rect x="168.50" y="656.90" width="3.00" height="14.30" fill="#000" fill-opacity="0.75"/>
<line x1="41.30" y1="656.90" x2="172.10" y2="656.90" stroke="#bdbdbd" stroke-width="0.6"/>
<rect x="41.30" y="671.20" width="130.80" height="3.70" fill="url(#stripE)"/>
<text x="68.8" y="654.4" font-size="5.0" text-anchor="middle" fill="#333">3000</text>
<text x="96.5" y="654.4" font-size="5.0" text-anchor="middle" fill="#333">6000</text>
<text x="124.2" y="654.4" font-size="5.0" text-anchor="middle" fill="#333">9000</text>
<text x="152.0" y="654.4" font-size="5.0" text-anchor="middle" fill="#333">12000</text>
<line x1="52.50" y1="629.60" x2="52.50" y2="590.30" stroke="#f0606e" stroke-width="0.8" stroke-dasharray="2,0.8"/>
<line x1="156.90" y1="629.60" x2="156.90" y2="646.00" stroke="#f0606e" stroke-width="0.8" stroke-dasharray="2,0.8"/>
<polyline points="41.40,608.00 42.30,597.90 44.00,595.50 46.00,594.00 47.30,594.79 48.60,595.30 50.50,592.50 52.30,590.30 54.00,591.00 56.10,591.60 58.00,590.80 59.90,590.30 61.45,590.62 63.00,591.30 64.60,592.24 66.20,592.80 67.65,593.70 69.10,594.29 70.55,595.17 72.00,596.00 73.36,596.68 74.72,597.60 76.08,598.71 77.44,599.64 78.80,600.40 80.35,601.31 81.90,602.59 83.45,603.50 85.00,604.60 86.60,605.77 88.20,607.05 89.80,607.93 91.40,609.20 92.72,610.08 94.04,611.21 95.36,612.47 96.68,613.24 98.00,614.30 99.50,615.70 101.00,616.66 102.50,618.16 104.00,619.30 105.50,620.71 107.00,621.74 108.50,622.92 110.00,624.30 111.32,625.12 112.64,626.14 113.96,627.21 115.28,628.34 116.60,629.30 118.20,630.49 119.80,631.24 121.40,632.56 123.00,633.40 124.55,634.13 126.10,635.15 127.65,636.13 129.20,636.90 130.65,637.98 132.10,638.88 133.55,639.80 135.00,640.50 136.33,641.15 137.67,642.33 139.00,643.00 140.40,643.53 141.80,644.50 144.00,645.50 146.00,644.30 147.65,644.13 149.30,644.00 150.65,644.44 152.00,645.00 153.50,645.12 155.00,645.30 156.90,646.10 159.00,644.80 161.00,644.30 163.00,645.20 164.40,644.50 166.00,642.00 168.20,636.90 170.00,634.70 171.90,634.20" fill="none" stroke="#33ee33" stroke-width="1.05" stroke-linejoin="round"/>
<rect x="41.30" y="584.20" width="130.80" height="91.30" fill="none" stroke="#1a1a1a" stroke-width="1.3"/>
<line x1="38.30" y1="588.40" x2="41.30" y2="588.40" stroke="#1a1a1a" stroke-width="1"/>
<text x="34.9" y="591.1" font-size="7.5" text-anchor="end">0.4</text>
<line x1="38.30" y1="598.70" x2="41.30" y2="598.70" stroke="#1a1a1a" stroke-width="1"/>
<text x="34.9" y="601.4" font-size="7.5" text-anchor="end">0.3</text>
<line x1="38.30" y1="609.00" x2="41.30" y2="609.00" stroke="#1a1a1a" stroke-width="1"/>
<text x="34.9" y="611.7" font-size="7.5" text-anchor="end">0.2</text>
<line x1="38.30" y1="619.30" x2="41.30" y2="619.30" stroke="#1a1a1a" stroke-width="1"/>
<text x="34.9" y="622.0" font-size="7.5" text-anchor="end">0.1</text>
<line x1="38.30" y1="629.60" x2="41.30" y2="629.60" stroke="#1a1a1a" stroke-width="1"/>
<text x="34.9" y="632.3" font-size="7.5" text-anchor="end">0</text>
<line x1="38.30" y1="639.90" x2="41.30" y2="639.90" stroke="#1a1a1a" stroke-width="1"/>
<text x="34.9" y="642.6" font-size="7.5" text-anchor="end">−0.1</text>
<line x1="38.30" y1="650.20" x2="41.30" y2="650.20" stroke="#1a1a1a" stroke-width="1"/>
<text x="34.9" y="652.9" font-size="7.5" text-anchor="end">−0.2</text>
<text x="57.6" y="592.0" font-size="7.3" fill="#cc2444" textLength="51.6" lengthAdjust="spacingAndGlyphs">ES high = 0.381</text>
<text x="133.2" y="645.8" font-size="7.3" text-anchor="end" fill="#cc2444" textLength="52.9" lengthAdjust="spacingAndGlyphs">ES low = −0.163</text>
<text x="139.2" y="592.3" font-size="7.3" fill="#cc2444" textLength="27" lengthAdjust="spacingAndGlyphs">p = 0.01</text>
<text x="139.2" y="600.9" font-size="7.3" fill="#cc2444" textLength="17.5" lengthAdjust="spacingAndGlyphs">n = 5</text>
<text x="50.2" y="578.0" font-size="8.6" textLength="112.4" lengthAdjust="spacingAndGlyphs">KEGG MAPK signaling pathway</text>
<line x1="41.00" y1="679.50" x2="90.00" y2="679.50" stroke="#333" stroke-width="1.2"/>
<line x1="114.00" y1="679.50" x2="169.60" y2="679.50" stroke="#333" stroke-width="1.2"/>
<text x="54.6" y="689.7" font-size="8.4" textLength="20" lengthAdjust="spacingAndGlyphs">WT A</text>
<text x="116" y="689.8" font-size="8.4" fill="#231f20" textLength="58.7" lengthAdjust="spacingAndGlyphs">WT P, <tspan font-style="italic">Tet</tspan><tspan font-size="5" dy="-3">−/−</tspan><tspan dy="3"> A/P</tspan></text>
<text x="67.4" y="704.4" font-size="9.6" textLength="77.9" lengthAdjust="spacingAndGlyphs">Rank in ordered dataset</text>
<text x="0.0" y="0.0" font-size="9.6" textLength="57" lengthAdjust="spacingAndGlyphs" transform="translate(15.6,648.4) rotate(-90)">Enrichment score</text>
<line x1="220.30" y1="577.70" x2="220.30" y2="676.40" stroke="#1a1a1a" stroke-width="1.3"/>
<line x1="217.20" y1="675.90" x2="220.30" y2="675.90" stroke="#1a1a1a" stroke-width="1.1"/>
<text x="215.8" y="678.9" font-size="8.4" text-anchor="end" textLength="15.8" lengthAdjust="spacingAndGlyphs">0.00</text>
<line x1="217.20" y1="662.17" x2="220.30" y2="662.17" stroke="#1a1a1a" stroke-width="1.1"/>
<text x="215.8" y="665.2" font-size="8.4" text-anchor="end" textLength="15.8" lengthAdjust="spacingAndGlyphs">0.05</text>
<line x1="217.20" y1="648.44" x2="220.30" y2="648.44" stroke="#1a1a1a" stroke-width="1.1"/>
<text x="215.8" y="651.4" font-size="8.4" text-anchor="end" textLength="15.8" lengthAdjust="spacingAndGlyphs">0.10</text>
<line x1="217.20" y1="634.71" x2="220.30" y2="634.71" stroke="#1a1a1a" stroke-width="1.1"/>
<text x="215.8" y="637.7" font-size="8.4" text-anchor="end" textLength="15.8" lengthAdjust="spacingAndGlyphs">0.15</text>
<line x1="217.20" y1="620.98" x2="220.30" y2="620.98" stroke="#1a1a1a" stroke-width="1.1"/>
<text x="215.8" y="624.0" font-size="8.4" text-anchor="end" textLength="15.8" lengthAdjust="spacingAndGlyphs">0.20</text>
<line x1="217.20" y1="607.25" x2="220.30" y2="607.25" stroke="#1a1a1a" stroke-width="1.1"/>
<text x="215.8" y="610.2" font-size="8.4" text-anchor="end" textLength="15.8" lengthAdjust="spacingAndGlyphs">0.25</text>
<line x1="217.20" y1="593.52" x2="220.30" y2="593.52" stroke="#1a1a1a" stroke-width="1.1"/>
<text x="215.8" y="596.5" font-size="8.4" text-anchor="end" textLength="15.8" lengthAdjust="spacingAndGlyphs">0.30</text>
<line x1="217.20" y1="579.79" x2="220.30" y2="579.79" stroke="#1a1a1a" stroke-width="1.1"/>
<text x="215.8" y="582.8" font-size="8.4" text-anchor="end" textLength="15.8" lengthAdjust="spacingAndGlyphs">0.35</text>
<line x1="220.30" y1="675.90" x2="375.60" y2="675.90" stroke="#1a1a1a" stroke-width="1.3"/>
<line x1="228.95" y1="648.50" x2="228.95" y2="638.30" stroke="#3a3a3a" stroke-width="1.0"/>
<line x1="227.15" y1="638.30" x2="230.75" y2="638.30" stroke="#3a3a3a" stroke-width="1.1"/>
<rect x="224.80" y="648.50" width="8.30" height="27.40" fill="#3dba4c"/>
<line x1="241.45" y1="648.30" x2="241.45" y2="638.30" stroke="#3a3a3a" stroke-width="1.0"/>
<line x1="239.65" y1="638.30" x2="243.25" y2="638.30" stroke="#3a3a3a" stroke-width="1.1"/>
<rect x="237.30" y="648.30" width="8.30" height="27.60" fill="#3dba4c"/>
<line x1="253.95" y1="650.40" x2="253.95" y2="640.40" stroke="#3a3a3a" stroke-width="1.0"/>
<line x1="252.15" y1="640.40" x2="255.75" y2="640.40" stroke="#3a3a3a" stroke-width="1.1"/>
<rect x="249.80" y="650.40" width="8.30" height="25.50" fill="#3dba4c"/>
<line x1="266.55" y1="640.00" x2="266.55" y2="628.10" stroke="#3a3a3a" stroke-width="1.0"/>
<line x1="264.75" y1="628.10" x2="268.35" y2="628.10" stroke="#3a3a3a" stroke-width="1.1"/>
<rect x="262.30" y="640.00" width="8.50" height="35.90" fill="#5a2a6e"/>
<line x1="279.25" y1="648.70" x2="279.25" y2="638.10" stroke="#3a3a3a" stroke-width="1.0"/>
<line x1="277.45" y1="638.10" x2="281.05" y2="638.10" stroke="#3a3a3a" stroke-width="1.1"/>
<rect x="275.00" y="648.70" width="8.50" height="27.20" fill="#5a2a6e"/>
<line x1="291.85" y1="633.10" x2="291.85" y2="619.20" stroke="#3a3a3a" stroke-width="1.0"/>
<line x1="290.05" y1="619.20" x2="293.65" y2="619.20" stroke="#3a3a3a" stroke-width="1.1"/>
<rect x="287.70" y="633.10" width="8.30" height="42.80" fill="#5a2a6e"/>
<line x1="304.50" y1="634.60" x2="304.50" y2="620.60" stroke="#3a3a3a" stroke-width="1.0"/>
<line x1="302.70" y1="620.60" x2="306.30" y2="620.60" stroke="#3a3a3a" stroke-width="1.1"/>
<rect x="300.20" y="634.60" width="8.60" height="41.30" fill="#1d5189"/>
<line x1="317.15" y1="637.70" x2="317.15" y2="625.40" stroke="#3a3a3a" stroke-width="1.0"/>
<line x1="315.35" y1="625.40" x2="318.95" y2="625.40" stroke="#3a3a3a" stroke-width="1.1"/>
<rect x="313.00" y="637.70" width="8.30" height="38.20" fill="#1d5189"/>
<line x1="329.70" y1="633.30" x2="329.70" y2="620.20" stroke="#3a3a3a" stroke-width="1.0"/>
<line x1="327.90" y1="620.20" x2="331.50" y2="620.20" stroke="#3a3a3a" stroke-width="1.1"/>
<rect x="325.60" y="633.30" width="8.20" height="42.60" fill="#1d5189"/>
<line x1="342.45" y1="605.70" x2="342.45" y2="587.40" stroke="#3a3a3a" stroke-width="1.0"/>
<line x1="340.65" y1="587.40" x2="344.25" y2="587.40" stroke="#3a3a3a" stroke-width="1.1"/>
<rect x="338.20" y="605.70" width="8.50" height="70.20" fill="#c8102e"/>
<line x1="354.90" y1="608.30" x2="354.90" y2="592.20" stroke="#3a3a3a" stroke-width="1.0"/>
<line x1="353.10" y1="592.20" x2="356.70" y2="592.20" stroke="#3a3a3a" stroke-width="1.1"/>
<rect x="350.60" y="608.30" width="8.60" height="67.60" fill="#c8102e"/>
<line x1="367.60" y1="621.10" x2="367.60" y2="606.20" stroke="#3a3a3a" stroke-width="1.0"/>
<line x1="365.80" y1="606.20" x2="369.40" y2="606.20" stroke="#3a3a3a" stroke-width="1.1"/>
<rect x="363.20" y="621.10" width="8.80" height="54.80" fill="#c8102e"/>
<line x1="224.80" y1="679.60" x2="258.50" y2="679.60" stroke="#3a3a3a" stroke-width="1.1"/>
<line x1="263.00" y1="679.60" x2="295.00" y2="679.60" stroke="#3a3a3a" stroke-width="1.1"/>
<line x1="301.20" y1="679.60" x2="332.90" y2="679.60" stroke="#3a3a3a" stroke-width="1.1"/>
<line x1="339.00" y1="679.60" x2="370.50" y2="679.60" stroke="#3a3a3a" stroke-width="1.1"/>
<text x="225.4" y="689.6" font-size="8.4" fill="#3a6ea8" textLength="32.6" lengthAdjust="spacingAndGlyphs"><tspan font-style="italic">Tet2</tspan><tspan font-size="5.0" dy="-3.2">−/−</tspan><tspan dy="3.2">- P</tspan></text>
<text x="263.0" y="689.6" font-size="8.4" fill="#cc1f3e" textLength="33" lengthAdjust="spacingAndGlyphs"><tspan font-style="italic">Tet2</tspan><tspan font-size="5.0" dy="-3.2">−/−</tspan><tspan dy="3.2">- A</tspan></text>
<text x="303.2" y="689.6" font-size="8.4" fill="#3a6ea8" textLength="23.6" lengthAdjust="spacingAndGlyphs">WT- P</text>
<text x="342.4" y="689.6" font-size="8.4" fill="#cc1f3e" textLength="22.3" lengthAdjust="spacingAndGlyphs">WT- A</text>
<text font-size="9.4" fill="#231f20" transform="translate(194.2,660.4) rotate(-90)" textLength="67.5" lengthAdjust="spacingAndGlyphs"><tspan font-style="italic">Tet2</tspan> expression level</text>
<line x1="412.60" y1="575.40" x2="412.60" y2="676.40" stroke="#1a1a1a" stroke-width="1.3"/>
<line x1="409.60" y1="675.90" x2="412.60" y2="675.90" stroke="#1a1a1a" stroke-width="1.1"/>
<text x="409.2" y="678.9" font-size="8.4" text-anchor="end" textLength="11.6" lengthAdjust="spacingAndGlyphs">0.0</text>
<line x1="409.60" y1="656.66" x2="412.60" y2="656.66" stroke="#1a1a1a" stroke-width="1.1"/>
<text x="409.2" y="659.7" font-size="8.4" text-anchor="end" textLength="11.6" lengthAdjust="spacingAndGlyphs">0.2</text>
<line x1="409.60" y1="637.42" x2="412.60" y2="637.42" stroke="#1a1a1a" stroke-width="1.1"/>
<text x="409.2" y="640.4" font-size="8.4" text-anchor="end" textLength="11.6" lengthAdjust="spacingAndGlyphs">0.4</text>
<line x1="409.60" y1="618.18" x2="412.60" y2="618.18" stroke="#1a1a1a" stroke-width="1.1"/>
<text x="409.2" y="621.2" font-size="8.4" text-anchor="end" textLength="11.6" lengthAdjust="spacingAndGlyphs">0.6</text>
<line x1="409.60" y1="598.94" x2="412.60" y2="598.94" stroke="#1a1a1a" stroke-width="1.1"/>
<text x="409.2" y="601.9" font-size="8.4" text-anchor="end" textLength="11.6" lengthAdjust="spacingAndGlyphs">0.8</text>
<line x1="409.60" y1="579.70" x2="412.60" y2="579.70" stroke="#1a1a1a" stroke-width="1.1"/>
<text x="409.2" y="582.7" font-size="8.4" text-anchor="end" textLength="11.6" lengthAdjust="spacingAndGlyphs">1.0</text>
<line x1="412.60" y1="675.90" x2="503.00" y2="675.90" stroke="#1a1a1a" stroke-width="1.3"/>
<line x1="437.00" y1="675.90" x2="437.00" y2="678.60" stroke="#1a1a1a" stroke-width="1"/>
<line x1="479.60" y1="675.90" x2="479.60" y2="678.60" stroke="#1a1a1a" stroke-width="1"/>
<rect x="420.20" y="635.70" width="12.60" height="40.20" fill="#7fa7cc"/>
<line x1="426.50" y1="623.50" x2="426.50" y2="646.70" stroke="#2a2a2a" stroke-width="1.0"/>
<line x1="423.90" y1="623.50" x2="429.10" y2="623.50" stroke="#2a2a2a" stroke-width="1.1"/>
<line x1="423.90" y1="646.70" x2="429.10" y2="646.70" stroke="#2a2a2a" stroke-width="1.1"/>
<circle cx="426.5" cy="619.9" r="2.15" fill="#1d4f8c"/>
<circle cx="426.5" cy="635.1" r="2.15" fill="#1d4f8c"/>
<circle cx="426.5" cy="640.4" r="2.15" fill="#1d4f8c"/>
<circle cx="426.5" cy="646.3" r="2.15" fill="#1d4f8c"/>
<rect x="440.70" y="617.60" width="12.70" height="58.30" fill="#e27b91"/>
<line x1="447.05" y1="613.80" x2="447.05" y2="622.80" stroke="#2a2a2a" stroke-width="1.0"/>
<line x1="444.45" y1="613.80" x2="449.65" y2="613.80" stroke="#2a2a2a" stroke-width="1.1"/>
<line x1="444.45" y1="622.80" x2="449.65" y2="622.80" stroke="#2a2a2a" stroke-width="1.1"/>
<circle cx="447" cy="612.5" r="2.15" fill="#c8102e"/>
<circle cx="442.2" cy="618.8" r="2.15" fill="#c8102e"/>
<circle cx="451.3" cy="620.3" r="2.15" fill="#c8102e"/>
<circle cx="442.2" cy="623.5" r="2.15" fill="#c8102e"/>
<rect x="462.90" y="648.90" width="12.70" height="27.00" fill="#7fa7cc"/>
<line x1="469.25" y1="642.50" x2="469.25" y2="657.30" stroke="#2a2a2a" stroke-width="1.0"/>
<line x1="466.65" y1="642.50" x2="471.85" y2="642.50" stroke="#2a2a2a" stroke-width="1.1"/>
<line x1="466.65" y1="657.30" x2="471.85" y2="657.30" stroke="#2a2a2a" stroke-width="1.1"/>
<circle cx="469.7" cy="640.4" r="2.15" fill="#1d4f8c"/>
<circle cx="465" cy="650.5" r="2.15" fill="#1d4f8c"/>
<circle cx="474.5" cy="650.5" r="2.15" fill="#1d4f8c"/>
<circle cx="469.7" cy="656.9" r="2.15" fill="#1d4f8c"/>
<rect x="483.00" y="651.00" width="13.10" height="24.90" fill="#e27b91"/>
<line x1="489.55" y1="644.60" x2="489.55" y2="657.70" stroke="#2a2a2a" stroke-width="1.0"/>
<line x1="486.95" y1="644.60" x2="492.15" y2="644.60" stroke="#2a2a2a" stroke-width="1.1"/>
<line x1="486.95" y1="657.70" x2="492.15" y2="657.70" stroke="#2a2a2a" stroke-width="1.1"/>
<circle cx="489.3" cy="643" r="2.15" fill="#c8102e"/>
<circle cx="489.3" cy="649.9" r="2.15" fill="#c8102e"/>
<circle cx="485.1" cy="655.6" r="2.15" fill="#c8102e"/>
<circle cx="494.2" cy="655.6" r="2.15" fill="#c8102e"/>
<polyline points="426.5,581.1999999999999 426.5,575.9 469.2,575.9 469.2,581.1999999999999" fill="none" stroke="#2a2a2a" stroke-width="1.1"/>
<polyline points="426.5,604.4000000000001 426.5,598.7 446.6,598.7 446.6,604.4000000000001" fill="none" stroke="#2a2a2a" stroke-width="1.1"/>
<polyline points="450.6,604.4000000000001 450.6,598.7 490.0,598.7 490.0,604.4000000000001" fill="none" stroke="#2a2a2a" stroke-width="1.1"/>
<polyline points="469.2,629.4 469.2,623.5 490.0,623.5 490.0,629.4" fill="none" stroke="#2a2a2a" stroke-width="1.1"/>
<text x="448.0" y="577.0" font-size="10.5" text-anchor="middle" textLength="12" lengthAdjust="spacingAndGlyphs">***</text>
<text x="437.1" y="599.8" font-size="10.5" text-anchor="middle">*</text>
<text x="470.3" y="594.9" font-size="8.6" text-anchor="middle" font-style="italic">ns</text>
<text x="479.4" y="620.7" font-size="8.6" text-anchor="middle" font-style="italic">ns</text>
<circle cx="477.3" cy="571.6" r="2.2" fill="#c8102e"/>
<rect x="475.30" y="578.50" width="4.00" height="4.00" fill="#1d4f8c"/>
<text x="482.6" y="573.8" font-size="7.6" textLength="11.5" lengthAdjust="spacingAndGlyphs">Air</text>
<text x="482.6" y="582.6" font-size="7.6" textLength="31.1" lengthAdjust="spacingAndGlyphs">Physioxia</text>
<text x="437.0" y="689.6" font-size="8.4" text-anchor="middle" textLength="12.5" lengthAdjust="spacingAndGlyphs">WT</text>
<text x="468.0" y="689.6" font-size="8.4" fill="#231f20" textLength="24.5" lengthAdjust="spacingAndGlyphs"><tspan font-style="italic">Tet2</tspan><tspan font-size="5.0" dy="-3.2">−/−</tspan><tspan dy="3.2"></tspan></text>
<text x="0.0" y="0.0" font-size="8.6" textLength="80.4" lengthAdjust="spacingAndGlyphs" transform="translate(392,665.9) rotate(-90)">5-hm-C level in LSK cells</text>
<path d="M83.4 17.6h0M82.5 44.6h0M103.4 28.8h0M84.1 28.8h0M95.8 23.8h0M89.7 19.6h0M84.6 27.9h0M94.8 21.3h0M82.5 42.3h0M88.4 20.1h0M85.3 26.1h0M77.9 31.6h0M90.2 26.4h0M101.2 23.9h0M86.0 28.0h0M80.2 25.3h0M82.4 36.9h0M78.6 37.1h0M89.3 28.7h0M93.0 24.6h0M95.1 23.2h0M94.5 22.5h0M78.2 31.1h0M87.4 18.6h0M82.7 37.6h0M97.1 20.3h0M80.7 22.6h0M83.3 31.7h0M81.0 23.8h0M77.8 20.2h0M93.2 25.7h0M97.4 28.3h0M99.1 25.0h0M101.6 22.0h0M78.7 28.8h0M79.0 18.0h0M80.4 37.0h0M84.4 41.5h0M95.6 20.0h0M100.1 27.2h0M79.8 26.5h0M83.0 35.9h0M83.8 27.7h0M101.2 28.3h0M84.7 24.2h0M79.3 30.6h0M91.0 26.8h0M77.5 22.0h0M82.8 22.6h0M80.3 36.5h0M82.2 27.9h0M80.4 38.3h0M85.1 26.1h0M77.8 36.7h0M80.5 38.2h0M83.7 25.2h0M78.1 33.4h0M87.3 21.6h0M78.1 27.9h0M83.7 44.1h0M77.7 34.0h0M83.2 42.3h0M92.6 19.6h0M86.2 29.3h0M85.0 20.3h0M102.5 23.1h0M92.3 28.0h0M96.7 24.9h0M78.5 28.5h0M83.4 22.9h0M87.2 24.1h0M95.9 26.5h0M99.9 28.9h0M95.7 24.1h0M86.9 25.6h0M90.0 22.0h0M90.0 23.5h0M99.6 27.2h0M97.4 28.4h0M104.3 29.5h0M78.9 31.3h0M80.0 40.8h0M101.4 28.3h0M86.3 46.1h0M99.0 28.5h0M83.1 18.7h0M83.2 21.2h0M101.3 28.8h0M84.7 30.9h0M94.0 23.1h0M85.3 18.4h0M103.6 28.9h0M85.6 42.5h0M95.8 21.6h0M100.7 26.7h0M125.8 31.9h0M121.4 31.8h0M108.7 28.6h0M123.5 30.2h0M111.1 23.9h0M114.8 27.6h0M108.0 29.4h0M119.3 32.2h0M118.4 28.0h0M113.2 30.5h0M117.7 29.5h0M115.5 25.3h0M121.4 33.0h0M107.3 28.5h0M108.5 26.3h0M111.0 26.9h0M117.0 25.5h0M116.1 26.2h0M111.8 24.0h0M112.0 24.7h0M122.1 26.8h0M116.6 30.5h0M125.2 31.9h0M114.3 31.5h0M111.0 25.8h0M109.3 29.5h0M118.9 29.3h0M107.8 29.2h0M110.4 27.7h0M114.7 28.7h0M116.4 25.1h0M113.8 28.1h0M115.9 29.5h0M115.4 26.4h0M120.2 29.1h0M123.8 31.7h0M108.1 27.4h0M112.5 28.2h0M121.5 29.3h0M105.1 28.2h0M105.2 28.6h0M109.3 31.0h0M108.7 31.1h0M113.8 32.0h0M125.2 30.3h0M113.2 30.2h0M117.5 27.0h0M122.1 31.0h0M105.7 26.1h0M105.5 26.6h0M121.0 33.1h0M118.5 25.8h0M125.0 31.7h0M126.6 31.5h0M109.2 27.7h0M107.0 24.9h0M107.0 23.3h0M124.3 29.3h0M122.3 33.3h0M112.6 30.8h0M121.2 30.6h0M120.4 32.2h0M124.6 28.6h0M112.4 27.0h0M119.4 28.5h0M105.0 26.8h0M110.5 26.7h0M111.2 25.4h0M115.3 31.6h0M121.6 28.7h0M104.8 26.0h0M112.4 29.8h0M125.0 30.1h0M76.5 27.4h0M71.2 29.5h0M72.9 36.9h0M73.9 26.7h0M71.5 38.1h0M76.1 39.3h0M70.5 39.9h0M72.3 38.9h0M73.4 30.0h0M76.3 30.0h0M70.0 37.9h0M76.1 44.2h0M73.4 44.0h0M73.7 43.9h0M70.4 28.7h0M73.2 38.9h0M74.9 28.0h0M70.8 38.5h0M71.3 35.0h0M71.6 40.4h0M74.4 38.1h0M72.2 30.9h0M77.0 34.5h0M75.2 35.5h0M71.9 43.7h0M71.7 32.0h0M71.8 39.3h0M71.6 28.8h0M75.2 44.7h0M72.2 41.6h0M74.5 38.7h0M73.0 30.1h0M75.6 35.3h0M75.1 32.5h0M73.5 33.7h0M76.2 26.4h0M70.7 38.7h0M72.4 33.0h0M70.4 35.6h0M72.7 27.4h0M71.8 43.4h0M73.4 30.5h0M73.2 45.3h0M74.0 31.5h0M71.3 34.8h0M72.9 42.3h0M73.9 30.4h0M77.1 39.8h0M74.7 32.6h0M72.6 43.1h0M70.8 38.9h0M74.2 42.1h0M73.6 45.9h0M75.1 32.1h0M70.9 38.9h0M75.8 36.0h0M76.9 39.0h0M76.8 38.8h0M72.7 37.5h0M76.2 38.5h0M75.0 29.3h0M75.4 39.9h0M75.7 32.6h0M71.7 38.2h0M75.5 31.8h0M70.6 28.7h0M72.3 29.7h0M75.4 41.3h0M71.9 44.9h0M76.0 36.4h0M72.3 45.7h0M73.7 33.9h0M71.2 40.7h0M71.0 37.3h0M72.4 36.6h0M71.6 29.2h0M73.4 28.8h0M71.3 44.4h0M70.5 41.1h0M73.0 27.4h0M82.5 57.3h0M76.9 43.7h0M76.7 57.3h0M79.1 57.3h0M81.5 46.7h0M74.9 50.6h0M76.5 57.2h0M77.4 44.0h0M81.8 45.0h0M82.4 48.0h0M78.8 53.0h0M82.3 58.0h0M83.4 48.3h0M74.4 57.3h0M72.5 48.0h0M80.8 59.5h0M78.8 56.9h0M78.9 55.1h0M77.5 50.4h0M79.0 52.2h0M85.1 55.1h0M79.1 52.9h0M73.4 55.0h0M74.2 46.0h0M79.4 48.4h0M73.8 55.4h0M76.9 54.6h0M80.0 59.1h0M75.5 50.8h0M82.7 54.1h0M80.0 57.1h0M77.7 54.8h0M83.1 49.0h0M82.3 47.6h0M73.8 55.9h0M84.4 52.0h0M78.9 57.4h0M82.6 50.6h0M121.4 28.8h0M117.9 27.0h0M118.1 28.0h0M119.4 28.6h0M117.1 30.7h0M120.9 32.5h0M122.7 32.2h0M124.3 29.1h0M121.5 29.0h0M124.9 29.2h0M121.4 32.8h0M121.4 27.6h0M122.9 29.2h0M121.6 33.1h0M121.6 32.8h0M118.6 29.7h0M126.5 31.0h0M118.3 27.2h0M119.6 29.1h0M122.1 29.2h0M124.8 31.4h0M123.8 33.6h0M126.0 30.6h0M122.8 28.2h0M118.1 27.8h0M119.9 28.2h0M123.0 28.5h0M120.4 28.5h0M122.2 33.4h0M123.1 33.0h0M125.6 30.5h0M122.8 31.8h0M125.5 31.9h0M122.1 31.4h0M119.1 30.1h0M124.4 30.3h0M121.4 29.2h0M121.4 29.9h0M119.3 30.4h0M124.7 33.1h0M120.6 33.1h0M122.7 31.3h0M120.7 27.6h0M122.5 28.9h0M118.7 31.1h0M117.9 28.5h0M122.7 30.2h0M120.5 32.6h0M121.4 30.5h0M119.4 32.3h0M125.6 31.0h0M104.5 55.7h0M105.0 41.4h0M105.5 37.1h0M106.2 31.6h0M103.2 51.0h0M112.1 51.7h0M106.4 46.3h0M111.1 55.1h0M107.4 56.8h0M105.0 32.6h0M105.0 38.9h0M111.2 53.0h0M108.7 52.8h0M103.3 38.6h0M105.3 39.4h0M111.7 54.8h0M108.9 54.1h0M104.0 49.5h0M111.0 51.2h0M108.8 54.3h0M101.9 50.6h0M103.5 44.2h0M103.8 46.9h0M104.0 50.5h0M104.9 38.5h0M104.2 54.7h0M103.5 43.6h0M106.2 45.1h0M104.7 42.0h0M103.4 47.2h0M107.7 56.9h0M105.4 48.3h0M104.3 40.6h0M112.2 56.5h0M104.5 49.1h0M106.7 57.5h0M107.8 44.9h0M112.2 55.9h0M109.2 50.8h0M107.0 53.2h0M101.9 51.6h0M104.0 54.6h0M107.5 44.9h0M111.6 48.9h0M103.5 47.5h0M106.2 44.1h0M110.6 46.9h0M103.1 52.7h0M101.9 41.2h0M104.4 49.9h0M106.2 51.5h0M110.4 46.5h0M105.5 55.9h0M107.6 48.4h0M111.7 50.5h0M104.6 30.3h0M102.5 39.5h0M103.8 32.7h0M112.8 51.8h0M109.3 46.9h0M104.4 42.0h0M122.1 46.5h0M124.0 42.0h0M122.8 40.3h0M124.8 36.6h0M129.4 56.9h0M128.0 45.9h0M123.2 49.0h0M128.9 54.0h0M131.1 52.4h0M130.5 53.0h0M127.7 53.8h0M125.5 42.7h0M125.8 40.5h0M130.1 55.3h0M132.7 56.0h0M131.8 53.8h0M129.6 55.7h0M118.9 30.3h0M128.7 52.2h0M122.6 45.5h0M127.0 50.0h0M129.1 53.3h0M128.1 47.8h0M118.9 36.9h0M121.9 46.4h0M123.3 42.0h0M132.4 58.7h0M126.4 50.9h0M133.0 63.7h0M124.3 47.3h0M133.2 54.5h0M118.6 30.3h0M124.2 39.1h0M125.3 41.4h0M124.6 48.7h0M126.4 50.9h0M122.5 36.9h0M130.5 54.4h0M127.3 44.2h0M122.5 40.1h0M132.4 61.9h0M134.2 57.7h0M129.1 57.4h0M122.6 46.0h0M120.0 40.9h0M118.8 32.3h0M123.7 48.2h0M124.8 36.4h0M124.3 35.8h0M121.5 34.6h0M129.3 58.4h0M122.2 34.5h0M122.9 35.7h0M129.9 60.9h0M122.0 36.6h0M124.0 36.0h0M123.7 39.7h0M120.7 42.0h0M130.0 56.2h0M124.1 45.0h0M119.0 38.0h0M121.7 33.9h0M124.4 51.0h0M126.1 46.0h0M130.1 59.0h0M123.3 42.6h0M118.3 31.4h0M120.3 40.3h0M126.6 49.1h0M121.2 41.9h0M121.9 35.2h0M128.8 45.2h0M128.6 44.8h0M131.8 59.1h0M123.1 39.8h0M135.9 60.7h0M121.0 44.8h0M124.4 49.2h0M128.7 54.1h0M126.1 48.6h0M125.0 37.7h0M125.7 41.7h0M130.4 56.9h0M126.0 51.0h0M131.5 54.8h0M124.8 43.3h0M127.7 52.3h0M118.4 31.6h0M133.4 55.9h0M126.1 51.6h0M123.4 43.2h0M128.3 55.2h0M129.5 46.8h0M127.1 51.8h0M122.0 35.0h0M125.7 53.7h0M129.9 53.2h0M122.5 41.7h0M125.8 46.8h0M130.0 54.4h0M119.4 37.9h0M122.8 39.4h0M129.7 59.1h0M125.5 44.7h0M122.4 44.0h0M124.2 41.0h0M119.6 34.5h0M100.4 53.9h0M98.5 59.4h0M89.5 51.2h0M89.0 53.4h0M95.6 59.4h0M87.8 54.3h0M86.2 47.7h0M97.4 53.8h0M93.3 55.9h0M91.4 51.4h0M101.0 55.2h0M98.8 46.9h0M86.4 50.2h0M87.8 59.5h0M89.3 48.9h0M92.9 57.1h0M87.2 55.0h0M88.9 57.1h0M95.5 46.9h0M88.9 55.0h0M98.7 47.1h0M87.6 48.9h0M100.0 48.1h0M98.9 57.1h0M100.8 50.9h0M88.5 48.1h0M93.7 48.7h0M93.3 55.6h0M98.7 48.5h0M93.4 60.8h0M98.2 46.6h0M97.1 52.9h0M100.1 49.4h0M87.0 56.5h0M100.6 49.5h0M89.4 55.5h0M87.6 47.6h0M100.5 56.2h0M90.3 50.3h0M100.4 55.8h0M95.1 51.8h0M92.9 55.2h0M94.2 47.4h0M93.8 59.8h0M94.2 54.4h0M95.1 51.6h0M96.6 52.5h0M91.3 61.0h0M87.7 50.4h0M96.9 58.2h0M98.8 49.0h0M98.2 55.2h0M96.9 59.8h0M91.4 48.7h0M92.8 47.8h0M98.5 60.4h0M98.9 59.9h0M87.4 55.0h0M88.3 44.6h0M95.4 54.9h0M99.5 47.6h0M86.9 50.5h0M90.6 59.8h0M87.0 48.7h0M101.6 53.2h0M95.5 57.0h0M88.3 60.3h0M100.2 52.2h0M89.5 58.0h0M91.5 48.6h0M92.1 58.9h0M99.7 48.9h0M89.6 54.4h0M91.8 51.2h0M90.1 52.4h0M91.1 59.7h0M95.7 56.6h0M91.1 51.5h0M97.4 48.5h0M87.2 57.5h0M101.7 52.1h0M96.3 49.8h0M95.4 45.9h0M94.1 60.4h0M59.2 49.6h0M60.1 53.0h0M63.8 56.1h0M65.5 53.2h0M59.2 52.3h0M64.2 48.8h0M60.8 48.8h0M62.0 46.6h0M64.3 47.5h0M62.0 56.6h0M59.5 51.9h0M61.4 53.3h0M60.2 55.0h0M58.9 52.1h0M64.7 47.5h0M57.3 54.0h0M58.3 53.7h0M64.1 55.8h0M61.4 51.7h0M63.1 56.8h0M60.1 47.8h0M60.9 56.1h0M59.3 48.8h0M59.9 53.7h0M60.7 48.1h0M61.1 50.3h0M62.0 54.2h0M65.1 48.3h0M58.3 52.1h0M64.9 56.0h0M61.6 48.8h0M58.8 52.5h0M61.2 53.2h0M60.3 54.3h0M65.4 56.2h0M61.5 54.7h0M59.9 52.3h0M57.8 52.4h0M64.3 56.8h0M65.5 56.2h0M58.2 50.9h0M61.5 53.9h0M60.8 46.5h0M63.4 50.7h0M64.9 56.5h0M58.0 55.1h0M66.6 61.8h0M74.2 66.5h0M57.1 64.2h0M81.1 69.2h0M67.2 65.6h0M62.2 68.6h0M73.6 62.9h0M77.0 84.1h0M78.2 67.1h0M77.8 75.5h0M73.5 82.5h0M73.1 101.3h0M66.0 59.3h0M56.7 55.5h0M77.4 67.2h0M82.6 78.9h0M69.9 87.2h0M77.4 95.6h0M60.1 74.6h0M82.9 63.8h0M58.3 68.7h0M79.9 87.5h0M80.1 80.4h0M85.0 59.8h0M70.0 82.2h0M78.1 99.0h0M84.8 75.4h0M71.7 104.0h0M78.4 71.9h0M81.9 61.8h0M66.7 78.5h0M83.8 63.3h0M66.0 74.2h0M88.3 76.3h0M92.8 74.6h0M74.4 80.7h0M64.9 95.5h0M88.6 77.0h0M70.3 100.7h0M73.9 79.8h0M82.0 77.3h0M76.7 94.8h0M59.2 60.8h0M88.7 81.1h0M66.0 89.3h0M68.7 102.5h0M89.6 69.4h0M85.6 82.9h0M81.9 79.4h0M65.4 59.3h0M57.2 62.1h0M81.5 84.5h0M68.8 60.4h0M80.6 61.7h0M64.2 65.0h0M76.5 79.7h0M94.1 72.4h0M82.6 65.4h0M76.0 88.3h0M57.9 54.1h0M74.4 96.2h0M69.6 78.4h0M65.7 98.0h0M71.6 91.0h0M74.7 61.3h0M90.2 80.1h0M83.5 62.9h0M73.2 91.1h0M70.3 93.7h0M74.1 76.7h0M72.9 100.5h0M58.3 63.1h0M75.7 66.5h0M76.8 77.8h0M70.3 73.0h0M95.1 64.8h0M66.7 68.5h0M80.8 75.9h0M80.7 83.9h0M83.1 82.8h0M63.7 58.4h0M80.9 61.6h0M88.1 70.7h0M70.0 68.8h0M65.4 83.5h0M65.9 93.1h0M84.9 79.5h0M72.0 79.1h0M56.5 66.0h0M71.7 73.5h0M76.3 72.2h0M69.4 104.9h0M68.2 85.3h0M84.7 86.2h0M67.1 92.7h0M67.1 85.2h0M72.2 93.3h0M69.7 95.1h0M77.5 85.4h0M61.2 80.2h0M86.1 63.1h0M63.9 59.2h0M69.4 71.9h0M65.4 71.8h0M75.8 93.6h0M68.3 84.1h0M69.3 81.6h0M73.4 84.0h0M65.7 67.3h0M75.3 94.4h0M74.9 74.1h0M58.3 57.1h0M78.5 87.8h0M72.1 89.1h0M83.9 70.9h0M80.9 85.3h0M61.8 81.5h0M62.8 82.5h0M74.2 67.8h0M57.6 63.1h0M85.5 72.6h0M70.3 69.3h0M67.1 72.7h0M79.2 68.3h0M65.3 82.6h0M81.8 60.6h0M67.1 66.1h0M69.0 101.3h0M71.2 105.1h0M85.1 66.0h0M74.4 98.7h0M60.0 63.3h0M75.8 94.3h0M75.8 92.6h0M59.3 64.6h0M75.8 66.6h0M91.6 67.2h0M86.1 64.2h0M74.5 60.8h0M81.5 63.6h0M66.7 57.9h0M66.4 60.6h0M76.5 91.8h0M74.5 100.9h0M76.9 88.2h0M88.9 66.5h0M75.7 64.6h0M69.0 96.5h0M65.5 94.9h0M65.3 84.8h0M80.7 83.3h0M75.5 100.8h0M65.9 68.7h0M75.5 72.4h0M63.8 89.2h0M82.0 81.3h0M74.7 67.1h0M77.3 88.5h0M89.9 60.8h0M63.5 72.7h0M74.9 76.1h0M92.5 63.0h0M73.3 68.1h0M63.9 96.1h0M87.2 60.6h0M63.3 84.0h0M79.2 86.7h0M64.9 71.4h0M59.7 58.3h0M59.9 55.7h0M91.2 71.4h0M64.6 93.9h0M73.2 74.3h0M78.0 79.8h0M64.6 74.8h0M70.5 84.1h0M62.4 81.0h0M82.5 65.5h0M73.5 88.4h0M70.5 72.0h0M89.3 71.7h0M85.9 68.4h0M74.6 101.7h0M73.3 82.9h0M68.2 69.4h0M84.7 61.8h0M69.4 72.7h0M70.5 103.6h0M87.0 74.4h0M76.1 63.8h0M83.8 72.1h0M88.2 60.5h0M72.3 68.0h0M70.7 93.2h0M68.1 87.5h0M81.7 77.0h0M76.4 96.4h0M65.6 98.4h0M63.3 84.7h0M59.4 59.4h0M78.6 60.6h0M60.4 72.8h0M64.1 66.2h0M71.7 93.4h0M78.7 80.8h0M88.9 66.5h0M59.8 72.0h0M74.7 68.4h0M72.1 100.1h0M79.6 78.6h0M64.4 75.4h0M76.7 81.1h0M57.9 65.9h0M64.9 69.6h0M75.8 78.9h0M57.8 58.3h0M89.2 63.1h0M85.3 79.8h0M65.1 59.0h0M90.0 62.9h0M79.2 71.8h0M78.4 80.2h0M86.0 65.4h0M84.5 84.2h0M80.4 73.3h0M71.6 104.2h0M64.9 70.2h0M64.4 77.0h0M91.5 78.2h0M84.0 75.2h0M83.8 63.3h0M84.7 63.6h0M65.7 80.5h0M68.5 77.7h0M74.9 67.7h0M69.7 74.8h0M59.9 55.6h0M86.2 82.2h0M73.0 69.4h0M78.5 62.2h0M66.7 65.3h0M68.3 64.5h0M70.9 81.5h0M66.0 86.4h0M82.3 82.3h0M92.6 71.8h0M69.3 90.2h0M86.8 77.3h0M81.9 68.4h0M73.1 68.3h0M90.5 65.7h0M83.9 78.1h0M57.7 64.8h0M69.5 80.8h0M65.9 100.9h0M68.1 93.3h0M73.9 76.6h0M63.7 95.2h0M71.3 100.5h0M86.4 61.0h0M71.6 104.0h0M73.7 100.9h0M72.3 100.1h0M88.7 70.2h0M88.0 68.5h0M59.4 70.5h0M80.2 67.2h0M66.1 67.9h0M72.0 95.6h0M80.8 66.4h0M76.8 82.7h0M57.3 62.0h0M76.5 99.5h0M77.7 86.1h0M74.5 77.7h0M63.0 65.8h0M61.1 78.3h0M72.8 73.4h0M77.2 87.0h0M91.8 68.7h0M90.1 71.7h0M73.0 97.3h0M63.8 61.5h0M68.1 90.4h0M67.1 103.5h0M62.0 72.1h0M65.0 73.4h0M73.5 65.5h0M70.6 104.1h0M74.3 61.5h0M87.4 78.7h0M77.1 98.1h0M64.0 66.4h0M86.1 68.2h0M62.3 57.5h0M61.8 78.4h0M90.1 65.9h0M57.2 68.2h0M89.0 61.2h0M63.8 67.0h0M81.4 83.8h0M69.1 77.6h0M69.5 65.8h0M67.3 98.7h0M78.4 91.1h0M65.8 56.2h0M76.7 88.5h0M62.2 76.0h0M77.9 78.0h0M89.1 64.2h0M82.2 83.9h0M79.0 74.8h0M74.5 61.3h0M92.7 69.0h0M77.2 85.4h0M70.9 62.2h0M86.2 77.7h0M56.5 52.9h0M75.1 98.2h0M77.1 84.8h0M57.3 59.5h0M91.5 71.6h0M78.4 77.8h0M95.2 68.1h0M64.7 63.8h0M65.8 94.3h0M65.5 67.4h0M76.9 92.6h0M75.8 73.5h0M65.2 92.7h0M65.7 84.1h0M89.2 71.6h0M73.1 85.9h0M80.9 89.5h0M89.4 60.2h0M88.8 77.2h0M64.0 71.8h0M76.9 74.7h0M71.0 92.4h0M74.3 100.7h0M64.3 83.3h0M86.7 78.5h0M84.6 73.2h0M69.7 97.5h0M75.0 75.8h0M75.2 83.5h0M64.8 80.4h0M82.4 64.0h0M73.4 98.0h0M95.3 65.7h0M83.8 84.5h0M92.4 62.8h0M84.8 67.0h0M71.9 98.8h0M62.4 58.4h0M88.2 65.2h0M82.6 61.4h0M95.7 70.8h0M59.2 56.9h0M77.3 77.2h0M65.5 58.2h0M90.6 66.1h0M70.0 95.6h0M64.6 58.3h0M84.5 60.7h0M64.5 63.1h0M60.5 70.2h0M66.5 89.1h0M76.5 88.2h0M69.5 97.9h0M69.8 88.4h0M91.5 74.1h0M65.5 83.3h0M60.9 64.4h0M72.5 74.2h0M71.9 103.0h0M78.4 75.7h0M56.0 56.4h0M79.1 91.9h0M87.8 61.7h0M71.1 77.2h0M71.8 100.7h0M80.0 90.6h0M67.3 73.4h0M68.2 87.0h0M72.6 87.5h0M89.4 63.0h0M63.0 73.9h0M74.2 100.5h0M64.0 84.3h0M78.7 95.5h0M65.2 84.3h0M82.9 69.2h0M78.3 69.5h0M56.4 57.9h0M71.8 62.9h0M71.5 62.1h0M89.4 75.3h0M77.5 62.5h0M63.3 67.5h0M87.1 63.1h0M78.4 92.0h0M89.7 68.4h0M67.1 79.0h0M60.8 64.3h0M71.8 73.3h0M94.4 69.4h0M61.0 79.0h0M56.3 65.8h0M78.4 86.0h0M71.5 94.0h0M65.6 90.5h0M82.4 73.5h0M66.5 94.0h0M59.8 75.1h0M55.4 61.8h0M74.0 78.2h0M65.8 86.7h0M87.5 77.7h0M80.4 69.1h0M62.3 58.7h0M77.9 61.4h0M67.5 70.4h0M84.3 80.8h0M75.8 78.7h0M59.1 73.7h0M75.7 93.4h0M76.9 67.0h0M62.8 66.1h0M82.0 62.5h0M71.6 98.9h0M72.3 93.0h0M60.8 68.8h0M67.1 75.9h0M70.8 72.9h0M84.5 71.2h0M74.6 74.7h0M77.1 89.2h0M67.1 80.6h0M69.0 77.5h0M74.2 100.4h0M75.3 89.5h0M69.0 62.3h0M74.4 68.0h0M76.0 92.0h0M72.2 106.6h0M70.0 75.0h0M71.3 86.4h0M72.5 74.6h0M92.1 76.6h0M64.3 96.2h0M65.6 91.2h0M82.4 68.1h0M88.2 71.3h0M57.8 64.5h0M81.4 89.3h0M74.6 63.2h0M67.7 62.3h0M84.4 72.4h0M79.7 77.9h0M66.1 93.6h0M62.9 67.8h0M82.8 88.0h0M85.1 65.1h0M76.5 96.6h0M93.1 75.4h0M89.6 73.7h0M95.3 66.6h0M66.6 101.4h0M67.3 75.6h0M67.7 87.2h0M87.4 76.5h0M66.1 67.9h0M83.8 59.3h0M65.4 71.5h0M70.1 77.8h0M87.3 78.1h0M67.0 91.2h0M59.5 59.0h0M82.5 79.6h0M59.5 56.4h0M64.2 66.7h0M78.6 72.2h0M61.8 69.5h0M96.0 67.3h0M55.7 58.9h0M84.9 73.7h0M75.5 97.3h0M69.5 91.1h0M83.8 59.8h0M74.9 102.4h0M58.1 70.6h0M80.1 79.3h0M80.5 75.6h0M91.4 63.1h0M86.1 69.0h0M57.1 59.6h0M94.7 72.3h0M66.8 71.0h0M63.5 69.1h0M72.5 70.0h0M74.9 103.2h0M61.0 56.5h0M63.9 71.0h0M67.2 66.5h0M68.2 101.2h0M73.3 67.9h0M79.7 81.1h0M78.5 69.7h0M57.3 60.5h0M76.2 95.8h0M72.6 71.6h0M91.5 74.9h0M58.7 55.2h0M75.8 80.2h0M79.3 82.1h0M74.1 93.1h0M72.3 67.0h0M92.4 71.8h0M93.4 76.0h0M79.1 84.5h0M67.2 69.9h0M79.8 86.9h0M88.2 63.4h0M59.9 60.8h0M85.3 66.8h0M89.5 74.3h0M73.1 78.9h0M76.5 96.1h0M79.8 83.7h0M69.9 69.1h0M65.2 74.7h0M95.0 65.3h0M56.8 64.4h0M76.0 92.3h0M74.6 91.7h0M91.1 72.9h0M77.3 89.5h0M84.8 75.8h0M59.7 65.3h0M58.0 65.6h0M63.4 70.4h0M61.0 72.5h0M64.6 74.9h0M75.2 89.9h0M66.0 67.9h0M70.4 104.9h0M79.1 93.4h0M92.1 61.6h0M82.8 72.6h0M78.7 79.7h0M63.0 71.2h0M84.6 82.7h0M76.2 62.5h0M67.4 87.3h0M73.7 94.1h0M62.4 69.0h0M70.7 87.1h0M61.4 61.4h0M78.2 68.2h0M72.5 72.1h0M55.6 59.4h0M62.5 62.4h0M58.3 69.5h0M90.5 69.1h0M71.5 87.1h0M63.0 71.3h0M94.5 73.3h0M65.7 83.1h0M60.3 69.5h0M85.9 65.2h0M64.5 66.1h0M65.2 66.3h0M93.4 65.3h0M72.8 67.1h0M93.7 72.6h0M76.8 94.8h0M90.5 73.9h0M76.9 75.4h0M74.0 82.9h0M75.8 87.6h0M57.6 62.4h0M66.3 70.6h0M71.5 67.9h0M69.9 98.9h0M64.1 63.6h0M88.0 72.8h0M69.4 92.8h0M65.5 77.2h0M63.2 73.2h0M77.5 87.9h0M69.4 87.2h0M85.6 80.7h0M64.3 58.3h0M76.2 84.5h0M90.0 66.1h0M75.9 91.8h0M59.8 67.0h0M68.0 84.5h0M68.4 80.3h0M69.1 91.2h0M77.8 61.7h0M79.1 61.7h0M58.0 59.8h0M80.8 64.4h0M78.0 91.0h0M76.0 62.3h0M83.2 66.0h0M73.5 73.4h0M79.8 83.4h0M67.1 83.6h0M66.5 92.3h0M79.5 79.1h0M78.2 63.9h0M69.7 87.5h0M85.7 70.6h0M72.8 71.0h0M72.6 83.4h0M68.5 62.9h0M62.4 66.7h0M59.5 65.3h0M66.3 82.7h0M59.7 59.2h0M94.3 71.1h0M72.2 84.6h0M63.2 58.9h0M76.5 97.1h0M71.5 98.5h0M56.8 64.5h0M78.9 97.5h0M77.6 62.3h0M64.4 78.3h0M82.8 82.6h0M77.0 95.7h0M90.8 72.3h0M89.3 77.1h0M82.9 76.8h0M86.4 68.1h0M85.8 64.9h0M82.0 60.7h0M77.5 71.1h0M73.8 86.4h0M82.4 59.5h0M64.9 77.0h0M79.5 77.6h0M62.7 62.5h0M95.0 70.6h0M93.1 64.5h0M84.7 77.6h0M80.1 91.4h0M63.8 97.3h0M66.5 70.7h0M95.6 66.5h0M74.8 83.4h0M73.5 96.6h0M88.4 68.4h0M79.0 72.2h0M58.7 75.2h0M81.4 71.2h0M82.2 78.8h0M71.0 68.5h0M83.6 78.8h0M65.2 58.7h0M58.9 73.0h0M70.3 82.0h0M57.0 70.2h0M65.9 65.0h0M61.6 58.7h0M90.6 60.6h0M69.6 86.8h0M75.9 100.5h0M76.9 69.2h0M67.1 100.8h0M76.5 70.0h0M78.5 70.4h0M77.9 87.4h0M81.6 71.6h0M81.3 80.3h0M74.3 90.7h0M90.4 78.3h0M59.8 58.2h0M55.8 61.2h0M81.3 79.4h0M82.1 59.5h0M85.7 81.0h0M94.5 64.1h0M81.6 88.6h0M77.5 75.1h0M66.6 78.9h0M59.1 75.9h0M82.0 87.7h0M62.7 59.2h0M77.6 75.1h0M75.4 64.9h0M88.5 80.1h0M91.9 66.9h0M85.0 74.7h0M76.8 88.9h0M81.1 74.3h0M62.1 72.3h0M85.6 77.0h0M62.6 64.9h0M70.6 79.4h0M70.1 98.2h0M62.2 72.1h0M56.8 65.4h0M65.4 90.2h0M59.4 66.7h0M80.3 68.3h0M76.1 78.5h0M55.7 63.8h0M90.3 68.3h0M61.3 75.2h0M76.0 98.9h0M63.9 67.2h0M82.0 62.8h0M57.8 56.6h0M77.0 84.7h0M84.1 79.9h0M75.8 81.9h0M66.4 95.1h0M83.4 64.9h0M67.7 82.6h0M86.4 73.0h0M65.8 83.6h0M66.6 73.1h0M85.0 75.9h0M71.2 67.7h0M86.5 75.4h0M64.3 66.2h0M68.1 69.7h0M70.1 94.0h0M67.3 72.8h0M62.4 74.2h0M89.9 74.1h0M64.1 84.6h0M79.4 64.0h0M71.9 93.3h0M69.6 74.5h0M58.9 56.2h0M58.6 69.0h0M70.9 66.8h0M64.9 89.9h0M60.3 66.5h0M69.9 91.0h0M90.9 78.5h0M66.2 68.7h0M80.5 70.6h0M66.7 97.3h0M66.8 80.2h0M68.2 76.4h0M68.9 92.1h0M73.7 74.7h0M73.8 80.7h0M79.3 73.0h0M68.2 69.7h0M64.2 66.4h0M74.3 64.5h0M82.1 66.0h0M56.2 60.2h0M80.4 61.3h0M63.6 80.8h0M84.2 72.8h0M77.0 93.8h0M70.6 69.6h0M82.6 80.3h0M70.7 104.5h0M61.5 57.7h0M91.9 77.8h0M90.3 68.6h0M86.1 70.6h0M78.3 81.3h0M75.1 60.5h0M73.3 77.4h0M84.8 83.1h0M77.3 74.0h0M75.9 82.4h0M62.0 76.0h0M74.9 66.4h0M92.2 68.3h0M92.0 72.5h0M79.3 92.4h0M83.4 82.1h0M78.3 85.1h0M69.5 81.7h0M58.6 59.9h0M85.4 78.0h0M72.6 88.6h0M83.4 74.1h0M71.9 87.9h0M68.1 85.8h0M60.2 77.4h0M66.8 92.4h0M65.2 61.8h0M95.9 68.2h0M77.5 81.4h0M71.6 95.5h0M72.5 92.8h0M79.0 95.6h0M76.9 84.7h0M64.5 62.3h0M92.2 64.4h0M62.4 58.2h0M77.1 83.2h0M67.5 93.6h0M75.5 81.9h0M77.8 78.3h0M63.1 59.5h0M95.8 65.9h0M74.5 85.2h0M60.4 61.6h0M68.7 103.0h0M68.1 68.6h0M71.5 62.1h0M63.3 73.5h0M75.5 77.8h0M89.6 65.5h0M74.1 95.6h0M85.6 71.6h0M67.6 92.5h0M65.6 82.5h0M71.4 71.9h0M67.5 61.4h0M71.0 90.6h0M67.3 81.0h0M76.7 91.8h0M74.1 90.8h0M86.5 73.7h0M64.6 76.1h0M74.1 96.1h0M82.5 71.5h0M77.7 62.3h0M64.5 99.1h0M82.2 70.6h0M78.0 79.2h0M64.4 98.2h0M89.2 70.7h0M77.1 69.1h0M86.1 72.9h0M83.0 67.4h0M63.8 66.6h0M92.0 69.2h0M88.4 67.3h0M86.8 60.0h0M73.6 97.9h0M65.7 56.6h0M81.4 69.0h0M93.6 63.8h0M72.5 76.1h0M79.5 81.5h0M73.9 88.7h0M83.8 63.5h0M78.4 68.1h0M60.0 57.2h0M76.1 65.5h0M94.6 63.7h0M68.5 63.0h0M70.3 100.1h0M86.6 65.0h0M65.6 80.3h0M85.8 72.7h0M91.4 75.3h0M60.7 63.7h0M94.5 72.7h0M89.8 65.5h0M80.4 87.6h0M80.2 93.6h0M75.8 69.0h0M85.6 82.5h0M69.7 90.4h0M66.1 92.3h0M76.9 81.1h0M56.3 56.2h0M56.1 59.6h0M80.3 71.8h0M66.1 80.2h0M58.6 65.3h0M70.1 84.3h0M73.6 94.1h0M83.0 67.1h0M71.6 62.2h0M77.1 87.3h0M86.6 76.7h0M74.6 62.2h0M67.2 70.7h0M65.2 89.4h0M69.1 101.2h0M88.4 61.0h0M59.4 68.9h0M62.2 57.9h0M64.7 71.7h0M63.7 60.3h0M70.9 91.8h0M65.4 90.0h0M85.7 81.2h0M90.0 60.4h0M77.1 94.8h0M66.8 89.1h0M72.7 85.9h0M73.8 77.4h0M76.5 71.9h0M93.9 66.7h0M71.5 72.7h0M70.9 88.5h0M72.4 85.5h0M64.2 72.2h0M62.5 63.7h0M90.9 66.0h0M64.6 90.0h0M88.5 72.3h0M78.3 67.3h0M81.2 72.9h0M82.4 79.4h0M73.5 65.1h0M77.6 86.8h0M77.2 78.3h0M64.6 59.4h0M71.5 86.5h0M78.5 73.1h0M81.1 89.6h0M69.2 81.6h0M84.8 61.9h0M95.7 64.9h0M58.6 54.4h0M63.9 69.7h0M78.3 64.4h0M95.4 63.4h0M79.6 82.8h0M81.9 72.1h0M68.2 73.6h0M89.9 60.7h0M62.2 71.6h0M68.4 101.6h0M86.2 81.0h0M65.0 67.1h0M62.6 66.6h0M66.9 88.2h0M79.3 63.4h0M58.7 58.5h0M72.1 105.5h0M65.0 63.2h0M86.9 68.5h0M68.6 68.0h0M63.7 89.0h0M78.2 94.5h0M69.9 102.3h0M66.7 77.0h0M66.5 67.5h0M95.6 66.0h0M86.0 68.8h0M90.4 65.0h0M80.4 84.7h0M87.0 77.3h0M74.5 61.5h0M70.6 101.3h0M83.9 77.3h0M79.4 73.3h0M94.4 71.2h0M63.9 80.8h0M92.0 64.5h0M72.2 89.0h0M77.4 93.5h0M59.8 68.0h0M67.4 90.9h0M62.1 71.2h0M67.9 84.8h0M63.9 70.9h0M72.7 86.1h0M84.1 60.7h0M73.2 95.4h0M72.2 65.2h0M81.6 59.5h0M83.4 66.2h0M64.8 74.1h0M91.9 66.7h0M61.0 75.6h0M62.6 70.8h0M77.4 67.8h0M92.9 72.2h0M73.8 96.7h0M78.6 87.4h0M74.2 62.4h0M66.1 95.8h0M71.1 79.9h0M83.0 70.5h0M67.0 82.5h0M69.3 66.7h0M73.1 64.9h0M66.5 68.1h0M71.6 64.5h0M95.5 68.1h0M84.4 75.8h0M63.5 82.6h0M80.6 70.3h0M57.9 66.2h0M74.5 91.3h0M64.9 71.8h0M66.9 72.7h0M79.1 85.9h0M67.6 63.9h0M85.3 80.1h0M81.0 67.7h0M83.0 70.6h0M61.4 59.0h0M56.3 65.2h0M85.1 71.4h0M62.8 76.8h0M80.4 85.0h0M70.1 91.4h0M65.6 90.2h0M66.1 99.3h0M65.9 84.7h0M95.8 69.2h0M68.9 91.8h0M76.9 62.3h0M78.3 69.9h0M71.6 87.6h0M94.1 72.3h0M86.5 83.2h0M65.3 74.8h0M59.9 61.9h0M78.0 60.7h0M90.4 66.9h0M66.0 98.5h0M79.3 77.2h0M92.5 75.0h0M70.2 95.2h0M57.4 63.5h0M67.5 89.6h0M79.7 61.9h0M56.5 60.5h0M69.9 102.3h0M95.6 65.8h0M64.7 72.9h0M73.0 88.3h0M74.9 69.2h0M86.3 72.2h0M67.5 79.1h0M82.9 74.7h0M92.2 68.0h0M84.3 81.2h0M77.4 76.4h0M76.1 92.2h0M63.5 60.9h0M66.6 64.4h0M84.0 74.2h0M74.4 64.3h0M83.9 61.2h0M84.3 82.3h0M68.0 93.6h0M86.8 64.5h0M80.3 62.9h0M70.3 61.8h0M73.4 67.7h0M75.2 90.9h0M65.7 70.0h0M58.5 73.5h0M88.9 60.7h0M67.6 71.5h0M65.7 98.0h0M70.6 99.8h0M71.4 90.1h0M63.8 73.5h0M72.9 72.2h0M81.3 65.0h0M63.2 74.2h0M68.8 104.5h0M69.3 90.3h0M78.2 69.1h0M84.1 84.6h0M92.0 70.0h0M65.2 98.4h0M79.1 89.0h0M74.8 95.5h0M63.9 91.8h0M66.4 67.2h0M72.7 73.4h0M76.2 72.3h0M73.4 69.4h0M71.2 63.4h0M72.9 63.6h0M92.1 64.9h0M84.3 83.2h0M80.8 68.4h0M70.7 69.8h0M79.7 64.8h0M87.6 70.3h0M80.6 87.4h0M70.7 99.6h0M90.8 67.8h0M63.0 66.6h0M65.1 61.8h0M64.8 86.3h0M85.8 73.6h0M80.8 90.9h0M89.2 60.2h0M66.3 95.7h0M78.8 76.6h0M80.7 76.7h0M65.4 70.4h0M64.1 77.5h0M82.5 69.1h0M67.4 72.3h0M73.6 91.7h0M62.0 59.0h0M77.4 84.2h0M79.4 67.7h0M69.9 100.9h0M84.6 82.6h0M90.6 62.3h0M86.6 70.2h0M79.1 73.1h0M88.3 66.9h0M84.2 60.5h0M86.7 73.1h0M68.8 102.6h0M80.1 75.5h0M78.1 92.0h0M68.6 68.7h0M80.3 60.8h0M93.1 71.2h0M66.2 79.3h0M62.8 83.2h0M85.7 65.6h0M78.2 83.1h0M84.3 78.9h0M66.8 96.1h0M95.0 70.3h0M81.5 79.7h0M71.4 91.3h0M63.7 58.3h0M66.3 92.4h0M72.0 73.1h0M83.3 63.4h0M81.9 60.5h0M74.2 103.0h0M71.4 68.7h0M71.3 64.8h0M68.1 100.7h0M60.6 70.9h0M88.7 76.6h0M64.1 95.3h0M79.0 75.8h0M61.4 65.6h0M66.2 82.6h0M68.6 80.3h0M72.6 90.0h0M70.2 95.4h0M74.2 91.2h0M73.5 90.5h0M71.7 64.7h0M80.7 74.6h0M76.3 80.7h0M74.8 75.6h0M79.2 80.8h0M74.9 75.6h0M70.7 80.7h0M71.4 97.9h0M64.3 75.8h0M68.0 89.9h0M77.3 82.9h0M81.3 76.9h0M69.5 92.4h0M75.0 68.4h0M70.7 82.3h0M70.2 92.6h0M67.1 65.5h0M74.1 95.5h0M66.7 69.6h0M68.2 95.8h0M68.8 79.7h0M69.9 69.5h0M67.5 86.8h0M78.8 81.0h0M75.9 93.3h0M73.2 94.3h0M67.3 76.8h0M69.1 69.4h0M69.6 74.2h0M76.0 68.9h0M70.3 87.2h0M76.0 75.6h0M68.0 90.7h0M80.2 74.4h0M64.5 76.7h0M65.7 73.3h0M75.5 87.6h0M68.6 67.0h0M70.0 87.6h0M70.2 70.6h0M74.2 86.6h0M79.3 81.2h0M66.8 73.7h0M68.5 68.1h0M64.7 78.2h0M77.9 72.7h0M68.6 86.1h0M74.3 82.4h0M71.6 90.7h0M77.4 67.5h0M81.0 79.2h0M78.2 70.6h0M63.8 69.7h0M74.2 85.9h0M72.7 85.7h0M68.8 69.6h0M78.1 75.5h0M66.3 81.0h0M68.9 84.6h0M69.2 91.9h0M68.1 94.5h0M71.7 72.8h0M69.8 79.3h0M67.6 75.5h0M66.3 66.3h0M67.3 93.5h0M71.9 72.5h0M67.6 81.7h0M73.3 79.7h0M67.6 81.5h0M69.1 88.6h0M76.8 86.0h0M69.1 96.1h0M77.2 88.1h0M70.9 76.2h0M63.9 65.7h0M68.8 76.3h0M77.3 90.1h0M70.3 67.0h0M66.6 85.5h0M76.2 82.8h0M71.6 70.6h0M69.9 77.1h0M65.2 71.6h0M78.2 76.8h0M76.5 67.1h0M73.7 69.4h0M64.0 68.9h0M67.8 77.6h0M76.6 87.9h0M69.7 73.6h0M70.5 93.7h0M65.4 84.3h0M79.5 76.6h0M67.8 70.2h0M75.0 95.1h0M81.4 79.7h0M78.3 86.1h0M75.6 66.9h0M65.6 73.3h0M79.8 81.8h0M72.0 75.1h0M66.6 89.7h0M76.7 81.9h0M73.5 77.4h0M69.0 82.2h0M69.7 95.4h0M79.4 68.4h0M64.7 74.0h0M76.5 91.4h0M76.9 79.4h0M68.7 64.7h0M72.2 79.9h0M74.6 68.5h0M74.1 81.0h0M76.4 69.5h0M73.8 88.0h0M77.2 75.2h0M78.9 89.0h0M74.3 76.2h0M72.2 94.5h0M73.5 88.4h0M71.0 67.9h0M74.7 87.6h0M72.8 96.0h0M76.2 90.4h0M69.5 75.1h0M67.8 79.4h0M65.2 69.6h0M68.2 76.4h0M71.8 94.2h0M70.5 69.9h0M69.8 71.8h0M71.3 98.3h0M72.1 97.6h0M64.5 71.4h0M64.4 78.0h0M67.8 72.2h0M66.8 68.6h0M67.3 72.9h0M70.7 91.9h0M78.4 82.8h0M72.6 92.4h0M69.6 88.4h0M66.3 73.7h0M75.4 76.2h0M74.6 80.6h0M77.2 72.6h0M72.1 90.4h0M72.7 82.3h0M79.5 69.7h0M80.0 81.3h0M66.0 74.3h0M66.2 81.7h0M69.9 96.5h0M67.2 73.7h0M72.3 87.4h0M70.9 85.5h0M70.7 94.9h0M67.8 75.8h0M69.8 73.3h0M72.9 92.5h0M77.9 81.4h0M74.4 84.4h0M68.4 93.0h0M73.8 71.4h0M69.4 76.0h0M71.4 87.0h0M66.7 72.2h0M73.2 77.2h0M76.9 80.0h0M76.3 85.7h0M71.1 73.1h0M75.3 85.9h0M79.2 84.0h0M62.8 69.4h0M77.4 70.5h0M73.2 73.9h0M78.0 76.5h0M69.9 74.9h0M73.7 90.2h0M64.6 67.9h0M70.0 78.0h0M71.5 88.5h0M72.6 67.2h0M74.4 66.6h0M78.7 86.9h0M70.8 85.1h0M68.7 96.6h0M65.3 73.2h0M73.4 76.8h0M66.8 67.7h0M72.0 69.3h0M72.9 82.2h0M67.6 93.7h0M68.6 82.5h0M68.2 80.6h0M67.0 85.3h0M76.1 83.4h0M79.4 78.1h0M67.9 87.9h0M65.6 74.5h0M75.0 74.3h0M72.0 94.4h0M67.7 89.4h0M63.0 66.0h0M67.8 76.5h0M76.2 84.1h0M71.0 98.7h0M70.4 83.3h0M68.4 84.1h0M63.6 69.6h0M75.1 90.8h0M75.5 70.1h0M73.4 93.6h0M73.6 88.6h0M79.2 73.2h0M66.6 79.1h0M79.4 76.0h0M68.8 89.9h0M67.7 83.7h0M79.8 72.0h0M68.2 67.1h0M76.0 73.7h0M79.5 74.1h0M69.1 71.9h0M67.3 67.1h0M70.8 92.0h0M72.2 76.2h0M71.6 89.3h0M73.6 79.2h0M74.1 67.0h0M73.9 87.3h0M81.0 79.5h0M75.1 90.6h0M66.8 89.2h0M74.9 84.4h0M65.4 74.0h0M79.9 74.3h0M78.5 82.9h0M68.8 71.4h0M70.2 87.4h0M78.4 71.8h0M71.8 94.9h0M74.4 65.8h0M64.5 75.9h0M81.1 79.2h0M76.6 81.6h0M77.8 67.9h0M70.4 97.8h0M65.9 81.1h0M71.4 76.0h0M66.3 86.7h0M74.7 86.0h0M70.8 79.5h0M67.9 75.3h0M70.2 95.9h0M71.1 75.8h0M71.2 85.0h0M78.2 79.2h0M68.2 79.7h0M70.6 68.8h0M66.6 90.4h0M69.5 68.9h0M62.9 70.5h0M77.8 70.3h0M69.0 65.8h0M73.3 66.5h0M79.4 87.6h0M63.5 67.3h0M66.7 85.2h0M77.1 84.6h0M71.6 81.4h0M74.6 93.4h0M79.2 87.6h0M67.6 66.0h0M73.8 92.7h0M69.0 96.5h0M68.2 68.8h0M65.8 77.6h0M76.6 71.7h0M77.7 81.9h0M75.1 95.3h0M71.4 95.7h0M72.6 83.8h0M66.0 82.5h0M75.6 85.9h0M64.8 79.9h0M77.9 73.7h0M67.6 77.8h0M65.3 72.0h0M71.7 94.9h0M66.5 86.8h0M76.3 93.1h0M77.3 73.2h0M74.5 70.9h0M71.1 72.8h0M77.1 70.1h0M66.0 73.1h0M73.6 74.1h0M66.3 88.4h0M67.3 84.3h0M68.4 77.3h0M70.1 65.0h0M68.0 78.2h0M74.3 82.4h0M68.5 94.5h0M75.2 95.0h0M68.1 74.6h0M66.9 83.5h0M69.6 92.4h0M78.6 82.1h0M71.7 92.1h0M69.6 66.7h0M76.3 79.0h0M68.0 74.0h0M75.1 95.6h0M74.2 74.9h0M78.1 82.1h0M68.3 89.4h0M65.9 84.2h0M65.9 73.3h0M73.3 90.4h0M78.6 78.2h0M71.9 91.7h0M64.4 71.5h0M73.0 93.3h0M63.5 66.4h0M69.0 82.7h0M72.3 97.8h0M78.0 73.8h0M75.7 66.0h0M74.7 71.0h0M68.4 82.1h0M75.0 66.8h0M68.6 64.9h0M70.4 97.4h0M71.6 68.5h0M74.2 87.3h0M69.1 69.1h0M80.4 84.8h0M67.8 84.1h0M68.4 79.0h0M67.1 66.4h0M79.2 71.7h0M75.4 79.2h0M77.9 68.1h0M69.6 75.5h0M63.2 66.2h0M80.2 84.3h0M77.0 83.8h0M73.7 65.5h0M79.2 87.1h0M71.1 92.3h0M71.7 70.6h0M76.8 84.9h0M76.4 68.3h0M78.7 72.6h0M78.8 82.9h0M71.7 68.2h0M63.6 66.7h0M72.9 72.8h0M68.2 80.1h0M66.6 85.6h0M69.5 85.7h0M67.6 66.4h0M72.7 65.2h0M79.2 67.7h0M74.0 68.2h0M68.5 94.9h0M71.7 72.9h0M71.9 68.1h0M75.6 94.1h0M74.5 88.0h0M69.2 83.0h0M73.3 83.0h0M75.3 90.9h0M68.4 93.1h0M70.1 96.1h0M70.7 67.0h0M72.4 92.7h0M67.8 86.7h0M77.5 83.2h0M75.7 77.2h0M93.4 69.8h0M92.5 67.6h0M94.5 69.2h0M93.5 66.6h0M90.8 73.2h0M94.3 71.8h0M94.1 70.5h0M91.7 74.4h0M92.6 69.6h0M90.6 71.0h0M91.6 61.3h0M93.7 74.8h0M92.4 62.6h0M91.1 63.0h0M95.5 63.5h0M94.2 64.2h0M91.2 66.8h0M91.3 62.0h0M90.9 63.1h0M96.0 65.9h0M93.6 65.2h0M92.6 67.2h0M90.9 69.1h0M91.1 73.2h0M93.4 64.2h0M93.0 71.7h0M99.8 82.2h0M117.4 82.6h0M118.4 92.3h0M109.5 78.4h0M113.3 80.5h0M102.1 90.2h0M122.3 87.0h0M109.1 81.5h0M102.5 90.4h0M102.2 84.8h0M119.5 84.9h0M98.2 88.9h0M101.2 90.4h0M124.0 88.5h0M116.5 93.0h0M111.3 93.3h0M117.6 88.4h0M107.9 90.2h0M103.9 92.3h0M103.8 91.1h0M123.8 90.2h0M115.6 91.4h0M107.0 83.8h0M109.9 82.6h0M108.5 80.1h0M115.3 81.5h0M115.1 92.2h0M100.3 87.8h0M118.1 87.3h0M125.0 89.8h0M101.8 85.5h0M104.4 77.9h0M124.5 90.3h0M113.2 93.4h0M105.7 84.3h0M109.0 84.9h0M110.2 87.0h0M97.3 90.3h0M97.3 88.9h0M118.4 91.2h0M110.7 79.4h0M100.8 79.2h0M100.0 80.2h0M98.4 87.2h0M119.0 81.5h0M111.4 85.6h0M102.8 86.7h0M122.5 83.1h0M110.9 84.2h0M96.7 86.9h0M97.7 83.5h0M108.8 80.3h0M120.5 89.5h0M112.1 93.0h0M107.8 78.0h0M119.5 88.6h0M106.5 88.9h0M118.1 85.8h0M113.4 86.0h0M102.1 90.8h0M118.2 88.8h0M102.9 82.0h0M111.5 84.9h0M99.1 89.9h0M115.2 83.9h0M104.6 84.3h0M112.4 90.8h0M100.3 93.2h0M113.8 80.9h0M121.8 89.0h0M105.3 84.4h0M121.5 88.7h0M112.2 91.7h0M112.1 77.0h0M117.9 81.2h0M104.6 78.7h0M105.0 88.0h0M101.3 86.9h0M124.0 88.0h0M106.0 87.6h0M97.8 87.7h0M119.7 93.2h0M115.6 77.5h0M102.9 78.8h0M117.5 80.1h0M107.9 80.3h0M105.2 84.2h0M103.2 91.0h0M110.2 76.6h0M100.6 86.1h0M102.5 87.7h0M114.6 83.9h0M115.4 85.3h0M120.2 80.8h0M111.7 93.4h0M110.2 91.9h0M121.6 90.5h0M103.3 79.5h0M109.0 93.5h0M99.2 82.6h0M109.6 77.7h0M117.7 90.4h0M103.7 92.6h0M126.0 91.1h0M115.4 82.3h0M122.1 82.8h0M109.3 91.4h0M121.9 88.2h0M119.0 88.5h0M121.0 89.6h0M123.7 92.7h0M110.3 79.5h0M121.7 92.7h0M111.6 83.8h0M105.8 82.5h0M107.3 83.8h0M111.5 92.2h0M121.3 81.7h0M121.0 89.2h0M120.2 85.9h0M99.4 87.5h0M117.6 84.3h0M117.6 87.2h0M117.0 89.6h0M100.1 82.3h0M96.7 88.3h0M102.5 81.9h0M122.9 83.5h0M103.2 81.8h0M121.8 86.3h0M112.9 88.8h0M116.8 78.1h0M119.4 81.1h0M109.6 77.6h0M125.0 91.9h0M113.0 83.0h0M110.7 85.9h0M112.5 87.2h0M122.1 91.5h0M108.4 91.1h0M106.8 92.0h0M116.3 84.3h0M109.8 78.9h0M101.4 87.6h0M104.2 92.2h0M116.3 81.4h0M98.5 89.7h0M121.5 93.3h0M101.4 77.4h0M103.4 76.7h0M114.0 93.1h0M121.0 84.0h0M120.5 87.8h0M98.5 79.2h0M120.5 91.8h0M102.3 90.7h0M111.7 90.9h0M117.0 89.4h0M106.0 85.8h0M108.3 81.5h0M100.0 82.3h0M100.6 78.9h0M114.1 86.0h0M110.8 81.7h0M104.0 82.9h0M99.5 92.4h0M98.3 91.2h0M118.6 79.8h0M115.1 83.3h0M108.0 88.1h0M122.1 92.5h0M109.6 88.8h0M116.7 90.3h0M110.6 91.5h0M116.7 88.3h0M104.9 89.6h0M112.4 80.6h0M116.2 78.9h0M108.1 88.5h0M114.4 93.4h0M100.3 78.9h0M112.5 84.0h0M108.4 83.0h0M118.3 92.2h0M106.4 92.7h0M120.1 90.1h0M115.2 80.9h0M98.0 84.4h0M118.2 79.0h0M102.3 81.9h0M118.5 93.0h0M115.3 81.5h0M105.8 80.0h0M117.9 89.1h0M119.3 87.5h0M124.2 87.8h0M112.7 79.8h0M112.0 93.6h0M103.6 83.0h0M103.4 87.5h0M117.9 86.8h0M110.0 92.7h0M117.3 90.4h0M126.9 90.7h0M106.7 80.5h0M110.5 90.5h0M107.6 83.0h0M99.0 89.4h0M106.7 85.7h0M101.4 84.9h0M112.9 89.4h0M122.7 88.5h0M113.7 82.8h0M107.2 85.6h0M117.9 93.8h0M102.9 88.5h0M113.7 93.8h0M111.0 86.6h0M121.6 89.8h0M101.0 91.3h0M90.7 87.0h0M92.2 90.3h0M93.0 87.9h0M90.7 81.5h0M92.0 85.8h0M97.3 90.3h0M91.7 83.7h0M97.5 90.9h0M93.9 90.6h0M91.8 89.0h0M96.0 89.5h0M83.7 90.2h0M87.3 85.4h0M87.4 84.9h0M92.8 87.6h0M96.4 87.8h0M89.2 88.4h0M89.7 85.5h0M85.7 90.9h0M86.4 89.3h0M92.5 90.9h0M87.2 89.6h0M84.3 87.7h0M96.2 89.8h0M89.5 84.0h0M94.2 87.7h0M93.1 84.0h0M95.8 88.0h0M93.3 87.2h0M87.5 89.9h0M92.3 89.7h0M84.2 86.3h0M92.5 90.8h0M86.2 83.9h0M94.4 88.8h0M96.1 87.2h0M85.9 91.0h0M95.0 83.3h0M91.2 86.4h0M87.1 83.2h0M84.9 84.8h0M86.4 83.1h0M94.3 88.0h0M86.9 84.7h0M94.2 90.4h0M85.2 90.2h0M93.1 87.5h0M89.9 83.5h0M93.9 82.9h0M88.3 90.5h0M87.0 84.6h0M96.8 85.2h0M94.4 85.6h0M86.7 90.1h0M95.1 88.2h0M84.3 90.2h0M96.9 84.5h0M91.9 84.6h0M85.4 86.5h0M87.7 89.7h0M90.8 88.4h0M107.0 68.1h0M108.6 69.0h0M103.9 68.6h0M107.4 64.2h0M105.9 67.3h0M110.8 70.5h0M110.4 67.9h0M111.4 65.4h0M111.8 64.3h0M107.2 65.3h0M105.7 69.6h0M111.2 69.9h0M103.7 65.1h0M104.6 68.6h0M110.0 65.3h0M107.6 67.1h0M104.7 65.0h0M109.8 70.2h0M112.6 67.3h0M110.9 65.1h0M110.1 68.6h0M110.3 67.7h0M108.3 64.8h0M98.3 74.2h0M100.4 66.3h0M101.8 73.5h0M97.8 67.1h0M98.7 70.5h0M97.9 67.4h0M100.6 66.6h0M102.4 71.3h0M97.4 69.0h0M101.3 73.0h0M98.4 69.5h0M97.9 65.8h0M102.5 65.4h0M98.4 65.2h0M101.4 63.3h0M101.1 71.4h0M98.1 73.6h0M120.8 61.5h0M126.6 70.6h0M123.1 60.0h0M129.3 73.7h0M123.5 70.6h0M128.1 66.1h0M122.0 68.9h0M118.9 70.0h0M124.2 62.9h0M129.7 67.1h0M128.5 73.6h0M123.0 73.6h0M129.5 67.4h0M122.1 66.7h0M120.7 64.9h0M120.2 59.4h0M125.5 74.2h0M117.7 63.1h0M123.7 63.7h0M122.4 59.7h0M123.6 69.7h0M122.5 67.5h0M117.2 70.5h0M120.0 66.8h0M123.2 72.6h0M127.3 68.6h0M121.8 61.5h0M116.3 63.1h0M121.3 65.9h0M116.6 66.4h0M121.4 62.2h0M117.9 70.6h0M126.2 67.7h0M127.1 72.9h0M113.9 66.5h0M117.8 62.3h0M125.9 63.2h0M112.6 64.2h0M123.0 66.0h0M117.9 65.1h0M114.1 63.6h0M120.2 64.2h0M127.1 61.0h0M123.0 65.1h0M120.9 66.6h0M122.6 59.9h0M114.0 66.0h0M129.1 67.6h0M117.7 69.0h0M127.1 67.3h0M125.6 73.1h0M124.3 60.8h0M127.4 71.4h0M120.6 61.8h0M116.4 66.6h0M123.8 70.6h0M125.5 70.3h0M121.9 67.0h0M112.6 65.3h0M128.0 65.4h0M127.6 64.6h0M115.3 65.4h0M118.2 69.8h0M119.1 69.6h0M128.0 63.6h0M124.8 72.8h0M127.1 72.5h0M113.2 63.8h0M119.0 65.1h0M122.9 67.2h0M117.6 68.7h0M132.8 57.3h0M133.7 62.7h0M137.0 62.0h0M134.4 66.5h0M137.9 66.6h0M129.2 60.3h0M131.5 64.5h0M131.6 67.6h0M135.0 59.6h0M134.1 64.9h0M134.8 61.6h0M135.0 60.1h0M136.6 64.6h0M135.3 65.4h0M134.2 59.2h0M132.5 65.5h0M134.5 64.0h0M131.5 57.6h0M118.8 68.7h0M124.6 72.7h0M122.5 76.9h0M123.2 75.6h0M121.3 70.6h0M120.1 66.6h0M124.8 74.7h0M125.6 72.7h0M126.3 70.9h0M125.1 69.3h0M126.3 79.7h0M126.2 71.6h0M122.9 72.3h0M116.0 67.0h0M125.9 76.3h0M117.7 69.4h0M130.0 76.2h0M126.9 70.5h0M133.3 88.8h0M122.7 69.9h0M133.0 90.5h0M135.6 86.1h0M117.4 66.5h0M121.3 76.5h0M130.9 81.4h0M131.8 86.1h0M118.6 70.1h0M123.5 77.8h0M126.3 73.6h0M127.0 81.7h0M121.1 73.2h0M129.8 81.7h0M120.6 68.0h0M124.0 77.2h0M129.2 85.3h0M118.7 66.7h0M132.4 86.5h0M115.2 68.3h0M128.4 79.6h0M120.4 74.4h0M125.9 73.9h0M118.4 66.6h0M133.4 90.7h0M132.3 85.7h0M121.4 78.7h0M127.5 83.6h0M120.2 68.1h0M133.8 83.8h0M126.5 77.5h0M131.8 87.9h0M126.6 82.4h0M129.9 86.8h0M130.5 80.7h0M130.1 77.6h0M133.9 88.5h0M131.6 83.3h0M121.5 72.2h0M122.9 69.9h0M124.4 80.6h0M120.8 72.4h0M132.5 88.0h0M132.3 87.1h0M129.0 86.9h0M116.8 68.5h0M120.6 70.1h0M143.7 78.4h0M135.1 83.8h0M144.3 90.9h0M148.9 84.1h0M138.9 91.7h0M144.5 88.1h0M148.6 87.7h0M144.1 83.4h0M139.9 87.4h0M143.1 87.6h0M134.5 79.9h0M134.6 88.6h0M143.6 80.4h0M139.3 88.4h0M137.1 85.4h0M138.3 84.2h0M133.9 78.2h0M133.8 87.9h0M137.1 80.4h0M145.8 90.0h0M142.6 80.3h0M145.7 88.2h0M138.3 89.5h0M144.6 80.9h0M144.3 81.0h0M145.5 89.2h0M135.5 86.3h0M140.2 87.5h0M145.9 85.1h0M149.0 85.1h0M140.0 87.9h0M144.5 90.6h0M132.4 78.3h0M138.4 87.9h0M141.5 83.0h0M141.5 89.4h0M141.3 85.6h0M143.4 89.6h0M140.7 78.3h0M136.3 82.2h0M148.4 84.4h0M141.1 85.7h0M138.9 91.3h0M148.4 83.7h0M137.8 80.6h0M140.8 82.7h0M137.3 84.9h0M142.0 87.6h0M136.3 81.7h0M140.1 85.1h0M142.4 81.7h0M147.1 83.3h0M147.0 84.8h0M140.8 91.6h0M137.2 80.6h0M148.9 85.8h0M138.4 84.0h0M146.3 89.7h0M134.3 79.5h0M134.8 83.7h0M138.5 82.4h0M136.3 87.3h0M140.1 81.3h0M139.3 89.9h0M148.3 84.4h0M140.0 79.0h0M144.9 83.8h0M144.5 89.0h0M147.5 82.2h0M145.9 80.3h0M136.1 90.1h0M139.1 77.2h0M136.4 82.0h0M144.7 88.6h0M147.4 83.1h0M141.9 89.5h0M139.9 79.4h0M138.3 84.4h0M141.6 78.2h0M138.0 90.8h0M136.1 87.2h0M146.9 80.7h0M145.1 89.3h0M136.1 87.7h0M144.3 82.5h0M135.9 84.0h0M135.7 86.0h0M133.8 81.7h0M143.3 89.7h0M134.1 85.5h0M132.1 78.1h0M145.1 85.0h0M145.9 88.2h0M144.8 88.7h0M147.6 86.8h0M144.9 80.3h0M135.6 84.9h0M141.7 78.9h0M136.9 81.9h0M143.7 91.4h0M134.3 88.3h0M143.7 88.4h0M141.2 90.9h0M142.2 91.3h0M145.2 89.1h0M138.8 86.5h0M136.8 86.8h0M138.1 88.9h0M146.7 87.6h0M141.5 86.6h0M147.7 84.5h0M138.3 87.1h0M138.1 90.8h0M144.3 89.1h0M140.0 89.1h0M143.3 89.5h0M139.1 77.8h0M138.5 85.0h0M140.1 86.8h0M141.2 88.4h0M137.9 78.7h0M143.4 82.5h0M146.2 82.7h0M137.0 87.3h0M144.3 84.2h0M140.6 88.0h0M139.7 82.8h0M146.1 85.0h0M141.9 84.0h0M133.5 78.9h0M139.5 81.8h0M145.9 80.1h0M137.1 91.1h0M138.7 81.5h0M136.8 79.2h0M145.6 90.1h0M146.4 89.7h0M138.5 84.5h0M138.4 83.2h0M133.7 83.8h0M137.6 78.3h0M141.5 88.0h0M97.7 62.3h0M103.8 60.5h0M107.5 61.6h0M103.9 62.3h0M110.9 58.9h0M108.7 61.6h0M103.1 57.1h0M98.8 60.2h0M110.7 59.2h0M100.1 58.8h0M102.1 63.0h0M103.5 59.5h0M100.2 58.6h0M108.7 59.1h0M110.8 61.2h0M104.8 62.6h0M97.8 59.3h0M99.5 58.3h0M98.4 59.7h0M109.0 58.7h0M105.0 58.5h0M108.0 62.0h0M108.5 58.4h0M90.2 101.0h0M89.5 100.8h0M89.3 100.5h0M90.5 101.4h0M88.7 99.4h0M89.8 101.8h0M89.7 100.2h0M90.3 101.1h0M89.1 100.2h0M89.3 99.4h0" stroke="#808080" stroke-width="0.75" stroke-linecap="square" fill="none"/>
<path d="M121.9 30.2h0M117.7 29.7h0M120.4 31.2h0M105.4 27.0h0M111.8 24.6h0M121.0 32.1h0M122.1 26.7h0M112.2 26.3h0M115.0 32.0h0M104.7 29.2h0M104.0 27.6h0M112.9 27.0h0M112.0 25.5h0M104.9 26.3h0M125.6 32.4h0M112.2 31.0h0M120.6 26.5h0M117.1 27.8h0M121.5 29.7h0M111.4 31.3h0M115.2 25.4h0M119.2 32.6h0M113.0 27.6h0M118.0 32.6h0M72.0 34.3h0M73.9 39.0h0M70.5 37.6h0M76.3 41.9h0M76.2 38.7h0M72.1 29.7h0M70.8 38.5h0M76.7 36.8h0M75.5 25.9h0M72.3 42.2h0M70.7 33.6h0M72.6 43.2h0M74.6 37.3h0M74.9 39.0h0M75.6 29.3h0M71.1 37.0h0M70.1 37.5h0M74.6 38.6h0M71.2 33.2h0M73.9 26.5h0M72.8 41.2h0M74.7 30.8h0M76.5 28.5h0M71.1 31.0h0M75.9 44.5h0M76.9 28.1h0M73.2 33.8h0M74.6 29.0h0M76.3 41.9h0M76.6 40.1h0M75.2 43.9h0M75.0 25.9h0M71.7 32.1h0M73.5 44.6h0M72.8 27.6h0M70.5 32.9h0M74.1 31.0h0M75.3 40.6h0M76.2 37.6h0M76.6 38.6h0M75.4 31.3h0M72.4 26.5h0M75.4 26.2h0M72.0 31.7h0M74.9 30.5h0M71.1 42.7h0M74.2 27.6h0M71.1 34.9h0M76.6 29.2h0M75.0 40.8h0M76.8 27.1h0M73.8 29.1h0M76.9 36.5h0M74.2 45.4h0M73.3 33.9h0M127.1 41.8h0M126.9 42.3h0M127.5 53.1h0M124.8 43.3h0M121.1 39.5h0M126.4 53.3h0M134.2 62.8h0M134.2 61.7h0M131.9 61.8h0M118.7 33.0h0M135.6 61.1h0M119.5 37.5h0M128.0 52.0h0M119.5 35.9h0M124.9 36.5h0M127.1 45.4h0M126.1 41.5h0M127.3 51.0h0M128.2 47.9h0M128.2 47.4h0M122.7 39.6h0M124.3 48.8h0M134.6 62.8h0M122.0 32.6h0M121.3 37.6h0M120.2 37.9h0M132.3 61.2h0M124.1 43.3h0M127.4 50.6h0M131.5 52.7h0M126.1 54.4h0M124.6 42.6h0M124.1 44.3h0M132.0 57.8h0M124.4 46.7h0M131.4 54.4h0M133.6 56.7h0M131.4 61.1h0M125.7 47.9h0M122.8 37.2h0M128.6 59.0h0M128.8 47.7h0M126.0 52.2h0M126.6 50.8h0M129.8 47.8h0M134.8 62.4h0M130.4 59.2h0M132.9 62.4h0M134.2 55.6h0M120.6 37.7h0M127.3 51.3h0M100.4 50.1h0M88.8 44.9h0M90.8 58.8h0M90.9 49.7h0M100.4 57.2h0M97.9 49.6h0M97.0 47.2h0M88.5 59.6h0M95.3 50.3h0M93.9 55.7h0M88.9 57.6h0M95.6 48.7h0M89.5 50.6h0M101.1 56.6h0M93.5 56.8h0M97.6 53.4h0M96.0 60.8h0M97.3 57.8h0M97.6 54.1h0M96.0 49.7h0M89.6 50.8h0M94.8 61.1h0M94.6 60.9h0M101.1 53.1h0M92.0 55.5h0M88.2 47.1h0M89.2 60.9h0M98.9 54.2h0M91.0 54.6h0M91.7 60.2h0M100.6 54.4h0M86.7 51.6h0M90.6 57.8h0M99.1 52.1h0M89.2 57.8h0M92.1 49.9h0M97.7 48.4h0M88.0 55.3h0M96.6 49.4h0M96.6 60.6h0M93.7 55.6h0M91.0 48.5h0M88.3 45.0h0M75.3 75.0h0M79.7 90.7h0M56.7 59.5h0M72.6 85.6h0M70.5 86.9h0M59.2 67.6h0M64.0 80.3h0M72.6 68.2h0M72.2 84.5h0M73.7 94.4h0M66.2 62.4h0M72.5 80.7h0M64.3 57.4h0M64.3 92.4h0M69.0 91.1h0M95.8 66.8h0M79.4 72.1h0M92.3 74.9h0M78.4 62.6h0M83.1 83.7h0M81.6 59.7h0M89.3 68.6h0M67.2 89.6h0M60.0 76.5h0M71.5 73.1h0M70.4 84.3h0M69.0 94.0h0M68.2 74.4h0M62.6 71.4h0M73.5 81.6h0M71.4 66.7h0M69.6 85.6h0M69.7 90.2h0M84.6 84.8h0M73.2 101.9h0M65.1 57.9h0M81.7 68.4h0M88.8 62.1h0M59.7 65.1h0M65.1 91.2h0M65.7 101.3h0M68.2 102.1h0M79.9 82.2h0M76.0 97.2h0M56.4 53.8h0M87.3 76.6h0M63.3 69.2h0M80.3 89.6h0M91.8 68.9h0M69.7 103.6h0M79.2 80.0h0M71.3 76.0h0M77.9 88.7h0M80.2 86.2h0M71.1 73.1h0M94.5 66.5h0M71.0 75.4h0M68.3 70.6h0M65.1 76.8h0M76.2 69.3h0M69.2 97.1h0M66.0 82.0h0M76.1 98.8h0M57.2 68.9h0M70.6 94.7h0M59.2 65.7h0M80.6 79.5h0M67.4 69.5h0M72.0 72.5h0M66.9 67.1h0M76.4 75.3h0M70.4 62.8h0M80.5 64.6h0M70.0 76.9h0M58.8 67.5h0M68.0 88.8h0M66.1 63.5h0M65.7 99.9h0M74.7 98.0h0M93.9 64.6h0M71.5 102.2h0M61.0 70.2h0M65.6 91.6h0M70.0 66.2h0M71.9 85.4h0M70.2 65.5h0M55.2 63.3h0M74.7 87.3h0M65.9 58.6h0M81.7 84.0h0M67.9 78.9h0M71.1 68.1h0M71.2 67.4h0M79.4 96.7h0M58.6 63.2h0M72.1 98.1h0M72.5 80.1h0M80.9 71.8h0M86.7 68.8h0M93.4 67.9h0M70.3 81.4h0M69.6 77.4h0M79.4 82.3h0M72.2 98.1h0M84.0 80.4h0M68.5 98.6h0M88.3 62.9h0M72.2 69.0h0M69.2 84.0h0M70.6 102.6h0M67.4 68.5h0M58.0 60.0h0M81.8 59.8h0M67.5 77.9h0M73.7 78.5h0M82.6 69.6h0M68.5 65.6h0M62.6 58.9h0M59.3 59.4h0M83.0 71.7h0M94.6 71.0h0M94.1 64.1h0M61.5 76.5h0M68.6 95.2h0M74.7 103.8h0M68.6 71.1h0M75.0 88.7h0M65.0 82.9h0M87.6 64.5h0M76.2 97.7h0M73.4 99.6h0M77.4 75.7h0M66.0 63.2h0M78.9 70.5h0M94.2 67.2h0M64.0 67.5h0M75.0 62.7h0M94.9 64.0h0M73.5 95.8h0M69.4 63.0h0M72.7 94.3h0M92.4 61.4h0M64.0 89.4h0M69.0 92.5h0M76.1 70.8h0M73.6 72.6h0M77.5 96.6h0M80.6 77.5h0M63.5 85.7h0M62.6 59.1h0M62.0 58.5h0M67.6 69.8h0M66.1 84.4h0M90.6 69.2h0M76.2 83.9h0M66.6 89.0h0M71.9 76.4h0M68.0 82.2h0M64.0 89.5h0M62.6 61.7h0M67.7 76.0h0M95.9 68.5h0M84.5 61.2h0M89.3 80.0h0M74.9 92.4h0M74.8 65.4h0M73.1 73.4h0M85.7 62.3h0M83.1 81.7h0M69.0 86.1h0M75.4 64.9h0M66.0 58.9h0M74.4 75.8h0M79.0 64.4h0M90.9 68.1h0M82.3 80.1h0M83.6 87.3h0M90.8 78.3h0M72.5 64.1h0M78.5 69.2h0M75.0 86.0h0M68.7 73.4h0M69.6 104.0h0M68.2 85.0h0M79.2 84.3h0M86.1 67.0h0M64.5 74.1h0M61.7 79.7h0M69.6 62.9h0M79.9 62.3h0M64.7 76.7h0M80.4 90.9h0M93.8 70.3h0M73.4 96.1h0M65.2 79.8h0M64.4 56.7h0M78.0 61.0h0M63.4 67.4h0M65.1 60.0h0M70.1 67.7h0M85.0 83.6h0M64.4 75.6h0M89.5 73.3h0M59.8 66.6h0M92.7 73.4h0M65.4 72.6h0M83.4 66.7h0M85.5 72.9h0M59.6 69.6h0M74.1 76.6h0M59.5 73.1h0M86.4 80.5h0M72.3 70.6h0M81.2 76.6h0M57.8 61.1h0M78.5 93.6h0M75.3 65.7h0M66.4 74.5h0M70.8 78.7h0M78.5 92.5h0M67.8 100.1h0M90.4 79.4h0M69.9 69.5h0M78.1 83.2h0M81.2 78.7h0M64.2 89.2h0M72.4 104.4h0M71.8 67.6h0M67.8 69.1h0M64.8 67.9h0M68.4 66.9h0M61.6 68.1h0M67.8 97.1h0M79.7 91.2h0M62.0 78.3h0M73.2 92.7h0M93.6 69.6h0M69.7 68.6h0M56.9 57.6h0M73.3 92.9h0M92.5 61.6h0M66.8 96.1h0M80.0 87.7h0M58.6 66.3h0M73.3 69.5h0M78.2 84.0h0M66.4 102.3h0M83.7 66.0h0M79.6 63.1h0M76.1 79.8h0M66.2 86.2h0M74.0 104.5h0M77.6 91.4h0M87.5 75.8h0M72.3 61.9h0M69.5 95.2h0M72.0 70.9h0M60.5 61.7h0M74.5 92.7h0M91.7 70.9h0M74.5 83.7h0M92.3 72.0h0M57.6 62.9h0M65.7 92.5h0M73.6 75.4h0M80.3 90.3h0M71.5 92.3h0M86.4 77.6h0M95.5 64.0h0M71.0 75.8h0M92.7 65.0h0M70.7 77.6h0M59.2 74.2h0M72.7 76.5h0M85.9 59.9h0M75.5 78.3h0M64.6 76.6h0M75.0 96.8h0M92.2 76.6h0M84.6 84.4h0M76.1 70.8h0M73.4 83.0h0M65.1 68.7h0M76.5 87.8h0M72.4 63.3h0M62.3 67.9h0M68.4 80.3h0M78.1 67.9h0M61.7 66.9h0M86.3 74.3h0M72.0 68.8h0M70.1 80.3h0M87.1 81.3h0M90.5 77.7h0M64.4 85.8h0M85.4 68.1h0M62.6 79.8h0M77.1 68.5h0M77.4 76.0h0M57.6 63.9h0M91.2 74.3h0M73.8 99.6h0M71.3 101.7h0M67.8 98.8h0M87.8 77.5h0M86.8 71.4h0M68.7 103.7h0M89.1 70.3h0M78.0 80.3h0M68.9 96.5h0M64.1 92.5h0M71.5 61.4h0M77.7 60.4h0M73.9 67.8h0M66.0 82.7h0M91.3 63.2h0M61.6 61.2h0M75.5 86.3h0M88.2 69.8h0M63.4 62.5h0M73.4 85.6h0M85.8 59.4h0M85.0 73.9h0M83.0 77.9h0M89.0 77.8h0M79.0 64.3h0M65.4 82.6h0M89.5 63.7h0M65.3 68.0h0M87.1 71.2h0M69.4 104.2h0M74.7 68.1h0M66.8 60.8h0M64.5 72.0h0M67.7 91.9h0M78.0 80.2h0M56.9 61.7h0M70.1 92.6h0M76.4 75.4h0M64.4 91.8h0M68.4 79.7h0M92.8 74.4h0M63.8 88.6h0M59.2 55.8h0M82.1 71.7h0M77.3 74.7h0M75.5 94.5h0M94.4 72.0h0M63.8 71.0h0M59.1 74.8h0M70.6 72.5h0M73.8 85.8h0M81.9 77.8h0M68.3 78.0h0M86.5 65.9h0M66.4 74.0h0M73.5 91.2h0M67.3 94.1h0M83.3 75.8h0M75.7 74.2h0M59.5 61.4h0M64.0 78.3h0M65.9 65.4h0M63.6 92.0h0M92.8 66.9h0M69.1 60.6h0M62.9 71.8h0M66.4 68.6h0M88.9 68.1h0M74.7 75.8h0M78.5 73.2h0M84.3 84.7h0M69.2 75.6h0M79.0 71.4h0M68.9 66.2h0M64.5 80.8h0M65.2 78.7h0M79.1 70.3h0M90.5 79.5h0M80.2 77.5h0M60.1 76.6h0M80.9 64.9h0M67.5 79.5h0M63.8 64.0h0M72.9 92.7h0M84.0 85.0h0M62.6 65.9h0M71.0 84.6h0M91.5 61.5h0M73.7 78.0h0M89.1 66.9h0M91.9 68.4h0M74.2 103.6h0M59.2 66.5h0M76.3 70.4h0M72.3 68.4h0M86.7 63.2h0M73.9 89.9h0M57.6 62.8h0M77.4 96.3h0M75.0 86.9h0M84.8 63.8h0M86.5 81.3h0M75.1 89.5h0M62.6 67.7h0M67.9 89.6h0M65.0 73.3h0M63.3 85.5h0M76.9 79.1h0M58.6 56.6h0M82.7 67.9h0M81.0 82.5h0M83.0 68.8h0M79.9 74.3h0M83.3 72.0h0M82.0 86.4h0M85.7 75.6h0M58.2 70.6h0M82.1 88.9h0M85.9 83.7h0M89.2 60.9h0M62.8 69.5h0M79.4 76.2h0M83.7 63.8h0M74.2 78.4h0M60.4 71.1h0M75.7 100.0h0M87.1 74.9h0M76.9 76.3h0M75.8 94.7h0M67.2 94.0h0M68.3 87.4h0M59.9 67.3h0M76.9 88.6h0M72.9 72.3h0M71.4 83.4h0M74.6 76.2h0M76.0 96.9h0M77.6 61.1h0M82.5 83.2h0M75.0 94.9h0M78.0 80.9h0M89.1 71.4h0M73.6 101.2h0M66.4 101.8h0M61.0 71.2h0M76.4 93.9h0M63.8 58.1h0M73.7 67.8h0M67.1 97.9h0M86.4 81.3h0M64.9 74.5h0M89.1 65.2h0M72.3 80.5h0M86.3 84.4h0M89.2 68.1h0M70.0 69.1h0M74.8 68.7h0M86.5 76.0h0M64.2 94.0h0M91.7 66.2h0M94.0 74.3h0M69.5 75.7h0M65.3 80.6h0M80.3 85.0h0M67.1 102.5h0M75.4 89.8h0M57.2 57.7h0M73.5 67.7h0M63.9 57.6h0M65.2 58.0h0M90.5 65.4h0M64.5 73.5h0M61.2 56.9h0M71.7 86.2h0M56.4 55.4h0M81.7 66.0h0M67.3 78.1h0M75.7 102.5h0M60.0 58.5h0M79.4 76.9h0M60.8 65.6h0M94.2 72.8h0M55.0 63.1h0M78.0 88.4h0M59.2 70.1h0M59.8 66.0h0M66.9 99.1h0M77.2 88.6h0M68.2 95.3h0M84.7 83.8h0M86.3 71.6h0M90.1 68.0h0M75.2 80.6h0M74.7 88.2h0M87.6 73.6h0M74.9 94.5h0M77.3 69.6h0M59.1 63.9h0M66.3 74.6h0M62.5 70.5h0M66.4 101.9h0M83.5 81.8h0M83.2 72.4h0M66.0 65.9h0M64.1 94.3h0M65.1 62.2h0M65.4 75.6h0M80.4 75.8h0M70.4 96.5h0M95.5 65.1h0M87.3 68.4h0M80.4 65.8h0M80.0 74.9h0M63.8 96.1h0M94.3 72.7h0M72.7 94.5h0M61.3 59.7h0M67.4 98.3h0M75.6 97.9h0M76.9 97.9h0M71.3 63.5h0M77.9 90.1h0M58.3 65.5h0M68.9 80.2h0M56.1 66.7h0M62.5 79.1h0M83.3 64.2h0M72.3 92.1h0M76.8 67.8h0M75.6 84.6h0M67.4 67.8h0M91.8 74.6h0M66.6 76.4h0M67.5 86.2h0M64.8 96.6h0M69.4 63.2h0M95.1 65.1h0M73.1 88.1h0M68.8 91.9h0M80.0 60.0h0M71.5 99.3h0M78.4 60.0h0M65.5 64.7h0M61.9 78.7h0M78.0 75.7h0M58.7 55.6h0M66.5 59.5h0M76.4 97.9h0M65.5 74.1h0M82.5 62.0h0M77.7 70.4h0M79.1 84.0h0M57.1 53.9h0M68.3 96.3h0M77.5 71.2h0M82.6 72.7h0M85.0 69.6h0M69.1 82.2h0M63.2 81.2h0M72.4 102.0h0M68.7 98.3h0M64.7 84.2h0M70.3 77.0h0M86.5 63.4h0M72.7 103.4h0M67.8 81.1h0M84.9 64.8h0M83.4 72.8h0M87.1 67.3h0M67.6 74.7h0M78.1 78.3h0M62.0 63.1h0M61.7 67.5h0M58.7 71.1h0M87.8 69.0h0M65.6 84.1h0M79.3 73.5h0M71.9 73.4h0M67.5 80.7h0M65.6 74.0h0M72.2 86.3h0M78.7 87.4h0M71.2 71.3h0M67.7 79.0h0M71.6 74.8h0M72.5 74.3h0M74.9 92.6h0M69.4 72.1h0M70.7 86.0h0M79.4 87.6h0M77.2 73.8h0M67.4 78.7h0M77.7 79.2h0M67.4 74.0h0M69.9 72.3h0M69.9 72.1h0M70.8 77.5h0M71.4 74.8h0M74.7 73.9h0M75.4 66.7h0M72.0 93.4h0M72.0 80.3h0M65.9 80.3h0M72.7 69.8h0M69.4 82.4h0M67.5 82.2h0M69.7 95.6h0M65.4 75.9h0M67.2 67.6h0M67.2 65.6h0M73.2 94.7h0M69.8 70.8h0M64.4 73.6h0M72.1 89.1h0M71.2 68.6h0M72.0 76.2h0M73.0 77.6h0M71.8 94.1h0M69.7 93.4h0M70.7 94.0h0M66.7 70.1h0M71.8 64.3h0M70.2 71.1h0M67.8 84.3h0M76.9 81.5h0M73.0 72.8h0M77.3 68.8h0M69.9 77.2h0M73.4 65.9h0M67.8 85.2h0M71.6 90.6h0M117.2 93.7h0M99.1 89.7h0M101.4 86.7h0M119.8 90.4h0M108.4 90.6h0M106.7 91.2h0M104.4 77.7h0M104.9 82.3h0M122.8 91.9h0M117.5 89.9h0M106.7 81.9h0M119.1 82.6h0M121.7 86.4h0M101.4 86.5h0M110.1 90.3h0M113.7 91.2h0M120.4 84.8h0M112.2 87.3h0M115.2 92.5h0M103.8 83.0h0M110.9 85.4h0M102.2 83.7h0M114.5 81.0h0M97.7 86.1h0M100.0 89.7h0M109.1 85.8h0M111.0 85.0h0M99.8 79.3h0M108.0 85.2h0M115.0 87.2h0M114.0 92.8h0M97.4 86.4h0M98.6 81.0h0M101.9 92.9h0M115.1 77.8h0M100.7 93.1h0M112.8 93.9h0M99.4 89.6h0M99.9 78.0h0M123.0 88.1h0M99.1 80.7h0M118.0 87.9h0M121.8 90.4h0M118.9 89.6h0M120.8 88.8h0M111.8 77.0h0M109.7 76.1h0M101.4 85.5h0M117.9 88.5h0M102.6 91.2h0M98.9 80.1h0M114.0 87.4h0M102.6 91.6h0M101.8 88.9h0M115.9 78.7h0M104.2 88.1h0M120.4 81.8h0M101.7 90.1h0M124.0 88.4h0M100.4 90.5h0M118.4 78.5h0M102.9 92.7h0M113.6 83.6h0M109.8 88.0h0M122.6 92.8h0M122.7 91.9h0M107.1 84.8h0M100.4 91.5h0M103.8 76.6h0M106.4 86.7h0M112.2 85.1h0M118.7 87.6h0M108.7 90.1h0M96.8 87.1h0M118.3 78.5h0M100.7 91.9h0M107.6 79.0h0M124.1 85.5h0M106.8 84.2h0M117.2 81.8h0M116.4 91.1h0M108.9 80.8h0M114.6 87.3h0M103.9 88.0h0M112.4 80.0h0M115.4 84.4h0M119.9 84.9h0M107.4 76.8h0M104.9 89.1h0M119.5 81.7h0M101.8 81.5h0M109.7 79.4h0M118.2 89.3h0M115.8 82.0h0M107.9 81.7h0M106.7 90.4h0M110.2 81.5h0M109.9 92.8h0M113.5 82.7h0M107.7 92.5h0M108.9 89.7h0M119.2 89.0h0M98.9 88.0h0M104.6 92.7h0M126.0 90.0h0M113.9 78.1h0M102.2 88.1h0M112.0 77.9h0M112.7 92.9h0M109.8 83.1h0M109.5 91.6h0M117.9 78.1h0M99.3 90.3h0M102.1 85.2h0M119.6 93.5h0M102.3 80.6h0M111.1 91.1h0M115.2 85.4h0M100.8 85.5h0M114.5 87.8h0M118.3 79.7h0M108.0 93.3h0M114.2 86.1h0M99.0 89.7h0M105.9 78.8h0M101.3 82.3h0M105.3 80.0h0M113.4 85.0h0M111.9 88.1h0M104.7 79.2h0M114.7 87.1h0M110.9 89.6h0M119.3 92.9h0M97.9 92.2h0M118.7 83.4h0M90.8 86.9h0M97.8 91.0h0M87.1 82.3h0M97.2 89.6h0M85.0 89.3h0M86.6 84.1h0M93.4 90.7h0M90.2 89.2h0M92.3 91.4h0M94.7 86.7h0M89.9 84.3h0M84.1 83.8h0M86.5 88.6h0M84.0 85.1h0M94.3 87.9h0M86.1 84.5h0M96.1 85.6h0M90.6 90.0h0M91.1 83.1h0M85.2 90.3h0M88.5 90.0h0M87.1 83.6h0M90.2 87.3h0M88.0 85.3h0M92.1 87.9h0M90.5 86.5h0M90.8 89.4h0M93.8 86.9h0M89.4 84.6h0M93.3 89.1h0M97.0 92.1h0M86.7 86.1h0M92.6 87.8h0M95.2 89.2h0M87.9 88.2h0M89.6 83.2h0M96.1 87.1h0M95.1 85.4h0M91.0 83.1h0M89.8 90.0h0M89.6 82.3h0M90.5 88.5h0M91.2 85.0h0M96.4 85.8h0M92.4 86.2h0M88.9 92.2h0M88.9 88.2h0M85.8 90.8h0M93.7 83.2h0M95.7 89.2h0M95.7 83.5h0M97.2 87.9h0M84.8 85.9h0M100.0 66.2h0M99.4 71.9h0M103.1 70.6h0M102.6 71.9h0M99.0 67.7h0M101.3 65.2h0M102.6 72.2h0M101.6 72.0h0" stroke="#a6a6a6" stroke-width="0.75" stroke-linecap="square" fill="none"/>
<path d="M81.5 37.5h0M90.2 22.9h0M87.1 21.1h0M83.1 35.0h0M78.8 41.3h0M81.5 18.4h0M82.8 42.0h0M77.6 34.5h0M98.0 21.7h0M79.1 18.6h0M83.8 37.9h0M85.3 45.3h0M95.7 22.4h0M82.2 28.7h0M86.7 25.4h0M78.9 32.0h0M78.0 31.5h0M94.3 21.6h0M95.7 23.0h0M77.3 27.1h0M81.9 32.9h0M83.2 38.8h0M89.7 28.3h0M87.3 24.0h0M79.1 25.8h0M82.7 31.6h0M80.9 18.1h0M103.5 27.8h0M83.1 34.3h0M80.2 28.7h0M79.3 23.7h0M79.6 22.6h0M81.5 26.8h0M95.0 28.3h0M85.9 40.6h0M100.9 26.6h0M87.3 24.9h0M81.6 28.4h0M84.5 24.5h0M79.5 30.2h0M80.2 27.0h0M82.9 17.1h0M81.8 33.9h0M94.1 21.5h0M98.6 22.0h0M92.1 20.0h0M85.5 20.6h0M102.5 24.4h0M96.9 24.4h0M82.6 32.8h0M98.9 23.3h0M81.7 34.6h0M90.1 18.9h0M99.0 28.9h0M82.2 27.4h0M97.7 20.8h0M82.7 21.5h0M78.4 34.7h0M93.2 26.0h0M93.0 24.6h0M96.8 20.4h0M84.1 37.6h0M81.3 30.9h0M84.2 17.5h0M99.0 21.1h0M83.8 30.7h0M78.8 26.6h0M86.5 21.7h0M98.7 27.8h0M85.3 19.8h0M93.8 20.4h0M101.8 22.4h0M96.7 24.3h0M89.4 25.7h0M80.6 43.9h0M89.6 18.7h0M99.1 27.0h0M80.3 30.0h0M82.6 36.9h0M89.8 19.3h0M82.9 40.5h0M89.1 27.2h0M103.5 27.7h0M81.9 27.6h0M95.3 26.7h0M86.4 41.3h0M83.9 24.5h0M86.8 21.6h0M78.6 20.5h0M82.5 28.3h0M79.9 21.2h0M81.2 43.8h0M84.3 17.2h0M83.0 38.3h0M89.2 21.7h0M77.7 22.5h0M82.5 38.8h0M80.0 40.7h0M80.4 42.9h0M96.3 20.6h0M81.7 42.0h0M89.3 25.9h0M78.9 27.8h0M80.5 21.6h0M83.9 21.7h0M77.6 35.1h0M83.6 28.3h0M84.2 42.5h0M94.8 19.8h0M104.4 24.4h0M80.3 17.7h0M97.7 27.8h0M93.5 22.7h0M89.6 17.8h0M82.6 19.1h0M95.1 28.6h0M102.7 24.5h0M83.0 32.4h0M85.7 27.1h0M85.8 40.4h0M80.9 35.5h0M87.7 44.1h0M97.8 27.7h0M78.9 30.8h0M86.9 22.8h0M90.5 17.8h0M97.9 27.6h0M78.1 38.9h0M83.3 19.1h0M89.6 23.0h0M77.4 32.2h0M79.4 41.7h0M99.2 24.2h0M80.9 19.0h0M77.6 31.5h0M83.8 28.1h0M82.7 28.5h0M77.5 25.3h0M80.1 42.2h0M93.8 28.0h0M79.6 20.6h0M85.1 24.6h0M83.7 21.0h0M84.0 23.3h0M79.2 18.7h0M94.2 22.9h0M82.0 37.0h0M80.6 17.9h0M78.8 24.6h0M83.0 29.4h0M89.5 25.8h0M89.8 23.6h0M92.3 22.2h0M84.9 26.5h0M78.3 31.1h0M104.3 24.2h0M89.3 25.3h0M88.3 19.8h0M78.2 37.1h0M82.9 16.7h0M85.0 19.9h0M84.6 17.9h0M98.3 23.3h0M84.4 42.8h0M78.7 34.6h0M87.8 17.3h0M84.2 28.9h0M102.7 22.8h0M90.3 17.8h0M83.8 25.7h0M85.6 28.8h0M82.0 22.2h0M82.4 18.4h0M98.8 26.3h0M94.8 19.4h0M85.2 46.5h0M80.8 32.5h0M89.1 19.2h0M84.6 24.9h0M88.4 24.8h0M87.2 26.3h0M80.3 33.8h0M83.6 45.5h0M87.9 19.0h0M86.3 25.0h0M80.2 34.0h0M77.9 29.2h0M97.3 24.2h0M78.1 29.3h0M86.3 18.1h0M83.1 19.8h0M79.4 31.7h0M81.7 24.2h0M84.4 38.3h0M101.8 25.7h0M79.7 42.1h0M87.1 44.6h0M80.5 19.0h0M81.1 35.3h0M82.1 32.4h0M84.5 21.7h0M86.0 26.9h0M79.4 25.7h0M100.1 22.9h0M90.0 19.1h0M95.3 27.0h0M80.1 38.1h0M78.0 22.1h0M81.0 27.9h0M97.6 20.5h0M84.6 28.9h0M80.5 41.1h0M83.8 31.1h0M79.0 26.6h0M86.2 44.4h0M94.4 24.9h0M79.9 36.0h0M78.0 30.2h0M90.0 18.3h0M78.6 24.1h0M81.1 29.6h0M77.8 20.8h0M79.2 24.8h0M81.2 34.3h0M82.2 44.2h0M80.7 26.3h0M77.8 36.9h0M77.5 37.2h0M84.8 41.2h0M87.6 24.9h0M84.5 17.0h0M84.6 39.1h0M81.6 24.0h0M86.5 28.5h0M97.9 22.2h0M94.0 19.2h0M86.5 19.5h0M79.9 40.8h0M84.1 16.4h0M80.6 37.3h0M84.0 22.3h0M82.7 38.5h0M82.7 23.6h0M79.2 22.1h0M84.6 22.6h0M78.3 25.3h0M77.5 27.4h0M89.1 28.3h0M89.8 18.1h0M82.7 42.3h0M79.9 18.5h0M78.9 30.8h0M88.3 19.6h0M84.7 43.5h0M100.3 28.7h0M81.8 44.3h0M81.7 43.5h0M101.1 23.6h0M92.5 19.9h0M91.5 23.7h0M83.2 35.6h0M99.8 27.6h0M80.3 20.3h0M99.3 24.4h0M78.5 18.7h0M96.4 24.4h0M90.2 18.5h0M82.3 43.5h0M84.8 16.9h0M91.7 22.2h0M83.4 37.6h0M79.2 31.0h0M82.2 39.9h0M86.9 18.9h0M115.6 30.5h0M119.4 32.1h0M112.7 31.3h0M112.9 24.5h0M109.5 28.5h0M111.0 24.7h0M116.9 31.0h0M105.6 29.6h0M116.4 29.1h0M106.9 24.1h0M112.6 27.2h0M119.5 26.8h0" stroke="#00BF7D" stroke-width="0.75" stroke-linecap="square" fill="none"/>
<path d="M90.9 23.5h0M78.9 40.7h0M83.5 40.3h0M88.3 27.5h0M87.6 17.1h0M94.1 21.8h0M86.6 44.8h0M93.4 25.7h0M84.1 25.2h0M81.7 18.4h0M83.9 45.7h0M100.4 25.8h0M84.6 39.9h0M79.6 19.2h0M95.0 20.2h0M83.0 21.4h0M77.2 30.5h0M84.0 37.7h0M78.2 28.2h0M101.8 25.4h0M79.7 34.8h0M103.9 27.2h0M91.2 28.3h0M83.2 17.8h0M83.5 28.1h0M79.3 31.0h0M85.6 25.9h0M81.0 33.3h0M96.4 22.6h0M84.2 45.5h0M84.0 42.3h0M94.0 24.9h0M87.6 24.7h0M83.6 16.5h0M79.6 25.8h0M101.6 27.7h0M77.5 34.2h0M97.9 22.1h0M99.0 26.7h0M82.2 24.6h0M95.0 21.2h0M79.2 41.7h0M78.1 27.1h0M87.0 18.8h0M87.0 20.3h0M77.7 36.7h0M91.1 20.1h0M94.9 24.1h0M104.3 27.9h0M90.3 18.0h0M81.0 41.8h0M95.8 25.4h0M83.0 37.4h0M94.9 27.6h0M94.5 27.5h0M83.1 40.5h0M79.4 31.3h0M99.0 26.3h0M82.9 17.8h0M83.1 19.7h0M82.6 37.8h0M82.0 44.7h0M78.5 25.1h0M81.1 25.8h0M92.3 27.5h0M90.6 25.6h0M82.1 44.3h0M82.5 17.3h0M83.3 36.3h0M85.1 20.3h0M78.3 35.8h0M91.0 25.4h0M86.5 45.0h0M84.7 40.4h0M86.4 21.4h0M85.5 24.1h0M97.1 23.8h0M97.6 22.0h0M98.0 23.2h0M88.3 25.9h0M80.2 32.7h0M79.2 22.5h0M83.5 29.5h0M84.2 37.6h0M77.4 25.3h0M78.6 27.4h0M83.4 22.0h0M93.5 21.5h0M78.2 21.4h0M82.6 32.1h0M80.1 26.6h0M83.9 27.3h0M85.8 19.4h0M96.5 24.4h0M84.5 40.7h0M98.4 28.0h0M97.8 25.0h0M103.7 26.4h0M84.1 40.3h0M82.5 35.6h0M88.4 23.3h0M102.5 24.9h0M99.9 23.8h0M87.5 26.9h0M77.7 32.9h0M78.4 39.1h0M81.6 17.4h0M100.3 28.2h0M98.8 26.9h0M98.6 24.0h0M83.7 36.7h0M81.5 32.6h0M84.1 44.5h0M80.6 27.0h0M103.3 25.5h0M82.7 41.5h0M100.3 26.8h0M101.1 24.5h0M85.7 21.1h0M81.1 43.1h0M103.9 29.4h0M102.7 25.0h0M77.6 36.5h0M81.6 38.4h0M79.0 35.2h0M81.9 27.3h0M81.2 33.2h0M79.8 27.1h0M84.8 27.8h0M90.2 26.3h0M78.7 25.7h0M82.4 35.2h0M83.4 45.6h0M99.1 25.5h0M104.4 26.7h0M83.8 32.3h0M89.3 27.3h0M85.0 24.6h0M89.8 19.4h0M80.0 26.3h0M84.8 23.1h0M77.9 38.3h0M99.2 28.7h0M93.2 19.1h0M86.7 23.1h0M83.7 32.0h0M94.2 23.4h0M89.3 18.8h0M80.2 34.8h0M79.7 32.3h0M83.3 44.5h0M97.7 22.5h0M79.3 26.6h0M85.2 40.7h0M98.2 23.6h0M79.4 41.5h0M98.7 24.2h0M99.8 26.9h0M79.9 41.9h0M82.0 17.0h0M78.2 33.2h0M92.5 22.3h0M78.6 31.7h0M103.5 25.3h0M98.1 21.0h0M82.1 42.7h0M99.6 23.1h0M93.9 20.4h0M82.0 38.2h0M87.5 20.4h0M89.4 20.3h0M99.5 22.2h0M78.8 30.2h0M102.2 22.5h0M81.5 35.9h0M96.6 21.2h0M90.0 18.2h0M81.4 28.6h0M81.4 21.8h0M78.3 21.5h0M90.7 25.1h0M87.4 20.7h0M104.2 22.5h0M78.8 38.0h0M83.0 39.8h0M91.3 27.4h0M87.8 26.2h0M83.2 35.9h0M83.3 26.4h0M80.1 37.2h0M77.2 34.2h0M93.3 26.0h0M84.5 18.5h0M82.8 33.0h0M84.8 41.7h0M95.2 24.8h0M84.8 39.4h0M89.0 17.9h0M82.1 18.6h0M83.0 19.7h0M99.8 21.2h0M89.4 19.9h0M81.0 30.9h0M96.0 22.2h0M95.7 24.3h0M82.1 30.6h0M84.2 41.4h0M77.6 37.6h0M88.7 21.0h0M79.7 33.6h0M79.2 30.5h0M80.4 32.0h0M95.9 26.1h0M80.6 42.6h0M77.9 19.8h0M87.7 21.1h0M83.4 41.3h0M99.8 20.9h0M96.1 23.3h0M90.6 21.6h0M77.6 27.2h0M79.2 41.0h0M86.3 27.6h0M85.0 30.3h0M79.9 27.3h0M85.8 26.6h0M84.7 25.0h0M90.9 17.9h0M77.7 27.7h0M78.3 25.8h0M80.5 22.1h0M85.3 26.9h0M90.9 24.2h0M102.6 27.0h0M104.0 25.6h0M88.5 21.9h0M79.6 39.9h0M85.0 44.7h0M84.0 18.7h0M81.9 28.8h0M87.6 21.8h0M80.7 34.9h0M102.3 29.0h0M79.4 26.2h0M77.5 26.0h0M81.6 33.8h0M95.3 22.5h0M84.5 46.0h0M89.6 21.7h0M84.8 39.8h0M93.0 24.5h0M89.4 25.3h0M83.1 38.3h0M80.0 21.1h0M81.8 25.0h0M77.3 28.6h0M85.7 20.1h0M82.6 38.8h0M79.3 33.3h0M93.8 26.5h0M84.9 26.2h0M86.5 45.9h0M87.0 43.7h0M87.7 22.5h0M80.1 34.0h0M85.8 42.5h0M78.1 37.0h0M78.7 36.2h0M85.7 22.2h0M89.7 26.7h0M83.1 42.7h0M90.2 26.9h0M100.1 21.2h0M103.6 28.5h0M93.2 18.5h0M89.0 22.3h0M102.7 25.2h0M85.8 22.4h0M92.3 23.7h0M84.3 31.1h0M84.8 27.8h0M89.8 19.0h0M85.1 44.1h0M99.7 26.0h0M84.2 18.3h0M78.5 23.0h0M100.0 27.5h0M102.5 23.5h0M80.8 41.1h0M93.1 22.4h0M95.3 19.7h0M98.9 22.9h0M83.1 29.6h0M91.4 24.6h0M82.7 27.2h0M80.4 36.2h0M84.8 43.8h0M80.0 35.4h0M84.1 16.8h0M90.8 22.8h0M82.0 37.6h0M94.9 19.7h0M82.8 19.9h0M96.3 25.0h0M79.5 25.9h0M86.0 41.8h0M81.3 17.9h0M87.7 22.4h0M92.4 24.5h0M91.6 20.7h0M84.5 19.7h0M98.5 26.7h0M96.1 20.1h0M87.9 22.0h0M97.3 26.5h0M80.8 27.2h0M92.2 24.1h0M88.3 21.4h0M84.3 24.4h0M77.2 27.3h0M82.2 23.5h0M86.6 17.1h0M81.5 19.9h0M82.1 25.1h0M79.2 26.0h0M97.8 23.9h0M98.8 23.1h0M103.0 23.1h0M99.5 27.2h0M95.4 22.0h0M79.6 29.0h0M90.4 20.1h0M81.5 44.9h0M79.5 26.0h0M86.0 24.8h0M86.3 18.5h0M78.4 34.6h0M77.7 26.0h0M84.4 45.6h0M90.6 27.2h0M85.9 20.1h0M87.5 26.1h0M96.2 24.2h0M80.2 25.1h0M85.2 24.6h0M83.3 21.5h0M97.0 26.8h0M83.5 43.8h0M83.0 28.5h0M93.2 20.4h0M90.7 19.8h0M102.2 29.1h0M81.3 16.6h0M80.8 27.7h0M84.4 22.4h0M87.4 19.4h0M103.6 28.4h0M97.1 24.4h0M85.9 41.2h0M80.8 42.9h0M90.8 20.1h0M102.6 23.6h0M80.8 31.9h0M102.2 24.4h0M80.3 35.2h0M87.2 22.3h0M79.2 26.8h0M100.9 24.0h0M96.5 25.5h0M84.8 30.8h0M84.1 30.1h0M99.3 20.9h0M82.3 21.6h0M99.5 27.3h0M88.0 28.6h0M83.2 46.1h0M97.0 23.7h0M79.8 40.6h0M83.0 25.9h0M78.1 35.9h0M82.0 45.1h0M81.0 35.6h0M79.4 37.1h0M77.7 24.5h0M83.0 29.9h0M94.0 25.7h0M77.3 32.6h0M79.1 41.6h0M77.1 34.6h0M86.0 44.2h0M94.8 26.5h0M91.5 24.9h0M98.0 28.9h0M102.4 28.4h0M102.9 22.6h0M83.1 39.7h0M88.5 21.8h0M101.6 21.8h0M81.3 27.5h0M85.6 45.5h0M77.2 23.3h0M98.0 27.8h0M86.0 16.9h0M92.2 26.9h0M89.3 23.5h0M80.7 29.0h0M86.1 17.5h0M88.0 17.4h0M78.7 17.8h0M80.4 33.2h0M99.7 23.8h0M98.1 25.9h0M82.9 24.3h0M81.8 16.8h0M101.3 22.1h0M84.7 21.0h0M82.7 36.3h0M81.1 19.3h0M80.7 35.6h0M96.5 22.6h0M81.6 34.0h0M79.5 34.4h0M86.1 40.5h0M92.6 27.5h0M99.6 25.4h0M86.8 25.3h0M79.9 23.9h0M77.6 33.0h0M86.1 27.2h0M77.9 19.8h0M92.4 25.4h0M99.8 20.9h0M82.3 25.9h0M90.0 19.4h0M81.1 23.9h0M80.9 32.0h0M80.0 21.7h0M89.3 19.4h0M84.2 19.8h0M78.8 27.0h0M77.5 20.6h0M83.7 35.1h0M102.3 26.2h0M83.7 24.9h0M78.4 30.1h0M78.3 19.4h0M81.0 29.5h0M90.8 21.1h0M92.1 22.1h0M87.4 24.9h0M85.8 43.4h0M97.0 28.8h0M98.3 27.5h0M89.5 28.6h0M80.1 31.7h0M89.2 18.7h0M80.7 26.9h0M82.9 22.7h0M96.2 27.6h0M77.2 28.0h0M101.8 23.7h0M88.2 24.4h0M103.2 26.1h0M80.3 24.2h0M101.3 25.7h0M88.3 17.1h0M78.1 25.5h0M79.5 27.5h0M86.4 17.8h0M80.1 30.0h0M95.7 23.8h0M86.0 40.1h0M88.4 19.7h0M94.9 19.4h0M85.3 17.1h0M82.6 32.3h0M81.0 36.2h0M86.9 19.7h0M78.8 35.9h0M84.3 28.8h0M80.3 26.5h0M94.2 27.8h0M82.0 36.5h0M84.5 25.3h0M104.4 29.3h0M81.4 30.3h0M86.3 20.2h0M91.8 20.9h0M91.1 23.2h0M93.4 22.0h0M84.2 45.5h0M88.3 25.7h0M96.7 25.8h0M100.8 22.7h0M79.1 30.7h0M84.4 21.9h0M79.8 28.7h0M97.7 20.7h0M91.6 19.1h0M92.0 20.4h0M80.4 24.3h0M81.1 32.8h0M84.5 27.9h0M88.2 26.2h0M77.4 29.2h0M98.1 20.5h0M77.8 35.2h0M78.1 21.4h0M102.6 29.0h0M89.4 22.7h0M92.5 22.4h0M99.5 28.6h0M78.6 23.0h0M79.0 25.6h0M82.1 39.6h0M90.2 24.1h0M83.9 18.6h0M87.0 20.4h0M84.2 20.8h0M79.8 20.0h0M90.9 18.4h0M79.7 26.7h0M86.4 45.6h0M81.6 31.3h0M81.3 39.1h0M78.5 28.2h0M91.3 21.1h0M82.2 30.4h0M84.7 38.2h0M89.8 20.5h0M78.3 25.4h0M83.2 34.8h0M92.1 20.9h0M99.8 26.9h0M89.4 27.6h0M84.8 30.9h0M91.2 21.6h0M103.5 22.6h0M78.4 30.9h0M79.8 34.0h0M88.8 25.3h0M80.1 42.9h0M84.3 36.8h0M98.5 21.5h0M89.1 21.2h0M77.3 29.2h0M83.2 20.8h0M84.3 23.7h0M97.0 23.3h0M94.8 22.2h0M79.6 26.7h0M77.7 25.0h0M96.9 20.2h0M89.7 23.8h0M90.9 19.3h0M87.7 26.9h0M88.5 21.8h0M93.8 24.5h0M87.4 21.9h0M84.9 43.2h0M102.4 26.6h0M100.8 25.4h0M95.2 20.8h0M78.8 26.2h0M93.6 25.7h0M82.3 42.6h0M93.4 20.7h0M101.2 23.6h0M77.5 33.8h0M86.4 17.8h0M122.1 28.7h0M115.1 28.0h0M121.6 30.5h0M119.9 31.1h0M113.7 28.2h0M125.3 31.2h0M108.2 26.5h0M120.9 31.6h0M108.6 30.6h0M119.9 32.4h0M115.1 26.2h0M107.5 27.5h0M108.7 30.3h0M109.8 26.8h0M113.3 25.2h0M122.0 32.7h0M122.1 33.4h0M123.6 32.2h0M107.9 30.0h0M117.3 25.4h0M108.0 27.3h0M104.3 29.8h0M114.5 26.3h0M104.7 24.6h0M125.9 28.8h0M104.9 23.8h0M112.1 24.8h0M113.8 25.0h0M104.1 22.4h0M111.0 31.4h0M106.9 27.4h0M106.1 25.2h0M115.1 29.9h0M116.9 28.2h0M116.9 31.5h0M112.7 25.7h0M107.5 26.9h0M122.7 32.6h0M113.0 26.9h0M104.2 27.6h0M116.9 27.4h0M105.3 30.2h0M104.1 25.0h0M111.3 29.2h0M119.7 31.8h0M123.3 30.0h0M109.0 23.4h0M121.0 31.5h0M107.7 30.1h0M104.1 26.7h0M104.9 27.6h0M117.8 28.2h0M110.5 29.0h0M104.1 25.9h0M115.9 28.0h0M105.0 23.5h0M109.3 30.8h0M124.5 29.3h0M104.8 30.2h0M123.6 27.2h0M116.9 28.2h0M113.3 27.2h0M125.3 28.9h0M113.4 26.1h0M123.0 29.0h0M105.5 30.5h0M114.9 27.3h0M115.1 31.3h0M111.2 24.2h0M107.7 25.0h0M110.2 29.2h0M122.5 28.1h0M110.7 27.5h0M111.7 31.2h0M121.9 32.7h0M121.3 32.9h0M117.1 31.9h0M113.9 31.5h0M112.5 27.8h0M121.6 26.4h0M109.5 30.3h0M117.9 30.2h0M111.8 28.4h0M109.4 25.0h0M109.1 23.4h0M110.6 28.7h0M118.8 25.8h0M116.9 31.4h0M124.4 32.5h0M105.4 25.5h0M107.2 28.6h0M118.8 32.4h0M104.0 26.6h0M107.5 26.3h0M110.6 26.7h0M120.7 31.8h0M121.1 33.2h0M106.8 22.9h0M117.8 28.5h0M104.7 22.9h0M112.8 30.8h0M118.5 27.6h0M107.8 27.7h0M108.1 25.3h0M110.1 25.8h0M118.5 27.1h0M104.1 29.0h0M126.0 31.5h0M118.9 32.3h0M115.6 27.0h0M121.9 30.6h0M118.0 26.4h0M117.3 30.3h0M118.3 29.9h0M119.3 28.9h0M111.7 30.5h0M121.3 27.9h0M123.2 30.0h0M73.8 40.5h0M70.5 28.6h0M74.1 38.5h0M71.1 45.1h0M76.4 32.1h0M75.9 43.5h0M76.8 25.8h0M72.6 39.4h0M76.3 30.6h0M71.6 41.2h0M77.3 39.3h0M76.1 27.5h0M70.1 32.5h0M70.4 27.2h0M70.9 39.4h0M73.6 44.8h0M75.2 41.0h0M73.0 40.9h0M70.0 35.4h0M73.8 26.9h0M73.6 37.6h0M75.8 29.1h0M74.6 40.0h0M76.7 39.7h0M72.6 40.5h0M73.6 43.0h0M76.7 31.3h0M70.8 35.4h0M72.7 35.5h0M76.2 31.5h0M70.0 29.8h0M72.2 32.4h0M75.0 26.8h0M72.5 26.6h0M70.4 31.0h0M75.6 49.6h0M75.1 51.4h0M74.7 57.7h0M82.7 48.7h0M83.5 49.6h0M76.8 49.1h0M78.9 54.5h0M80.8 49.7h0M79.4 49.3h0M77.6 43.7h0M77.7 56.8h0M84.1 50.3h0M83.4 58.5h0M78.5 50.6h0M77.2 56.3h0M80.5 50.4h0M75.3 55.0h0M74.8 44.8h0M81.7 45.4h0M79.5 55.9h0M85.0 52.8h0M84.4 47.0h0M78.7 54.9h0M79.9 58.0h0M75.7 55.4h0M81.1 51.0h0M80.3 56.8h0M79.4 44.6h0M77.3 51.4h0M81.4 56.2h0M85.9 51.7h0M77.8 58.8h0M78.4 54.3h0M80.4 44.7h0M75.6 44.6h0M80.6 50.2h0M78.7 57.9h0M79.7 59.4h0M85.3 55.6h0M79.9 56.6h0M80.7 55.2h0M80.5 56.9h0M80.2 55.6h0M81.2 49.9h0M72.6 53.2h0M81.8 44.9h0M79.4 53.9h0M86.2 51.8h0M78.2 45.4h0M80.5 47.2h0M84.9 47.9h0M81.9 49.3h0M82.5 56.7h0M85.8 52.1h0M82.6 57.9h0M78.8 57.9h0M75.2 52.0h0M85.0 56.9h0M77.7 46.1h0M77.2 54.8h0M83.6 54.7h0M78.6 55.3h0M76.7 52.6h0M80.9 47.0h0M73.3 48.6h0M77.9 54.3h0M84.8 55.3h0M81.9 56.0h0M79.4 57.5h0M74.3 53.4h0M78.7 53.7h0M78.8 58.6h0M84.5 48.7h0M73.6 56.3h0M78.3 48.8h0M79.3 47.1h0M78.2 46.5h0M85.4 47.8h0M77.6 57.0h0M74.9 48.1h0M75.3 55.1h0M76.9 55.3h0M82.8 52.0h0M85.4 54.4h0M81.7 58.1h0M84.8 55.8h0M75.0 47.0h0M83.4 58.6h0M77.6 57.9h0M75.8 54.9h0M72.7 53.9h0M73.9 56.3h0M77.1 52.8h0M86.7 52.6h0M75.0 46.1h0M79.3 55.6h0M76.1 58.0h0M73.5 53.4h0M80.3 51.1h0M82.2 53.7h0M73.8 54.9h0M78.1 57.4h0M73.5 48.5h0M79.6 56.9h0M75.9 55.3h0M83.2 57.6h0M76.9 55.1h0M80.4 57.8h0M76.2 50.5h0M79.0 50.8h0M74.7 53.1h0M84.6 51.2h0M73.8 51.5h0M81.3 53.2h0M80.5 50.0h0M76.4 46.7h0M83.4 52.8h0M83.9 56.8h0M85.4 54.9h0M80.1 48.4h0M81.8 51.4h0M79.7 56.6h0M81.6 46.8h0M79.0 46.7h0M82.8 55.9h0M85.5 53.5h0M75.9 46.9h0M81.2 47.4h0M79.9 55.4h0M83.2 51.9h0M75.1 48.7h0M86.3 52.8h0M75.1 55.7h0M74.0 50.9h0M75.6 51.2h0M82.7 54.1h0M84.3 50.0h0M84.8 47.1h0M80.8 51.3h0M78.1 55.7h0M77.1 52.2h0M73.6 47.1h0M76.6 54.2h0M78.9 54.6h0M75.1 46.8h0M80.2 50.2h0M76.9 50.4h0M74.2 55.3h0M73.7 55.2h0M80.3 51.0h0M73.9 46.4h0M82.8 49.2h0M83.2 57.3h0M75.2 45.6h0M84.6 45.1h0M81.0 52.4h0M79.1 56.3h0M84.2 50.6h0M80.9 56.9h0M83.1 53.7h0M80.8 55.2h0M72.7 48.2h0M76.3 56.5h0M84.2 51.4h0M81.2 54.6h0M77.4 57.1h0M81.7 53.6h0M79.6 48.6h0M83.0 45.3h0M81.2 45.8h0M80.7 46.9h0M77.9 50.6h0M79.7 52.1h0M81.2 48.4h0M75.2 52.0h0M77.1 51.8h0M83.4 57.5h0M76.1 58.7h0M84.3 54.8h0M76.4 57.8h0M86.6 52.2h0M78.0 43.4h0M73.2 54.3h0M77.6 57.6h0M73.7 49.1h0M77.6 57.3h0M85.1 48.1h0M84.3 55.6h0M85.2 55.6h0M76.4 46.4h0M81.8 48.6h0M82.9 45.7h0M79.7 48.5h0M85.8 55.6h0M83.2 47.5h0M75.1 45.1h0M85.5 52.4h0M82.8 57.1h0M72.5 46.2h0M78.4 51.6h0M117.8 30.2h0M124.5 31.5h0M119.9 31.7h0M117.7 30.6h0M125.2 30.8h0M123.1 30.3h0M121.2 32.5h0M121.8 30.0h0M121.0 31.7h0M123.8 30.2h0M123.3 29.5h0M117.6 29.5h0M120.9 28.3h0M125.7 32.9h0M124.0 30.9h0M118.5 30.1h0M125.7 32.7h0M120.0 28.5h0M117.8 30.3h0M126.1 31.5h0M117.8 30.5h0M123.3 33.5h0M119.0 29.1h0M122.5 30.1h0M121.7 31.5h0M125.4 32.1h0M104.0 48.5h0M106.1 47.9h0M106.4 31.7h0M105.2 49.4h0M104.9 43.0h0M104.1 55.9h0M103.9 53.2h0M103.6 51.3h0M110.0 51.3h0M104.6 43.8h0M104.8 50.5h0M102.0 43.1h0M104.6 39.0h0M111.4 50.3h0M102.0 50.5h0M101.4 50.5h0M109.9 55.4h0M105.8 36.7h0M106.0 51.7h0M105.3 34.3h0M103.1 44.9h0M106.3 45.1h0M102.7 40.4h0M104.0 51.7h0M111.0 48.4h0M102.8 43.3h0M107.8 44.8h0M108.4 45.9h0M106.4 53.9h0M105.7 35.4h0M110.8 47.4h0M102.9 41.1h0M105.8 32.7h0M102.6 44.3h0M104.3 33.0h0M103.8 47.1h0M109.2 56.5h0M104.5 36.6h0M103.9 31.8h0M108.6 51.0h0M102.8 43.3h0M104.6 44.9h0M109.4 45.1h0M108.8 45.8h0M103.6 35.2h0M109.8 46.7h0M105.9 42.6h0M104.8 54.0h0M111.9 53.9h0M105.2 48.1h0M112.6 55.5h0M106.7 31.5h0M103.5 33.9h0M111.2 49.3h0M104.0 56.6h0M103.8 51.6h0M108.2 52.5h0M103.9 37.4h0M108.8 55.3h0M104.5 32.3h0M110.4 46.6h0M104.2 55.1h0M111.4 54.4h0M105.3 34.8h0M106.8 49.9h0M103.0 38.3h0M103.9 45.5h0M106.8 46.8h0M105.0 53.6h0M102.7 48.0h0M102.5 42.7h0M108.2 45.1h0M103.7 41.5h0M105.3 42.0h0M102.8 44.2h0M103.6 35.2h0M109.5 46.7h0M104.8 47.8h0M104.7 43.6h0M108.4 46.8h0M105.8 34.6h0M102.0 55.5h0M102.3 54.8h0M126.6 46.1h0M119.1 37.9h0M119.6 36.2h0M127.5 49.0h0M123.2 49.1h0M124.8 43.0h0M128.5 55.4h0M118.6 33.8h0M120.6 41.8h0M135.5 59.0h0M132.3 56.9h0M126.1 40.9h0M122.0 35.4h0M122.6 39.2h0M133.3 56.4h0M135.7 60.2h0M124.0 49.9h0M131.5 59.7h0M127.3 50.1h0M121.7 40.6h0M119.1 36.3h0M128.4 54.8h0M128.6 53.7h0M131.8 56.8h0M132.6 54.3h0M122.9 42.5h0M123.2 41.7h0M131.4 61.2h0M125.8 45.0h0M123.5 34.0h0M120.9 32.7h0M132.1 59.8h0M127.1 52.4h0M122.7 39.9h0M119.3 32.2h0M127.3 53.7h0M128.3 50.7h0M129.8 55.5h0M129.9 59.2h0M123.0 34.9h0M126.6 47.6h0M123.3 38.0h0M121.4 32.5h0M120.7 35.5h0M127.1 48.7h0M122.9 48.2h0M121.0 40.3h0M127.8 53.8h0M130.4 48.8h0M121.8 45.2h0M128.6 48.1h0M129.0 58.5h0M134.5 58.1h0M122.5 40.7h0M123.7 44.9h0M93.0 56.0h0M95.3 50.7h0M95.4 60.5h0M97.5 46.5h0M94.8 53.4h0M90.1 53.1h0M90.4 54.4h0M95.3 51.1h0M93.3 49.6h0M86.9 48.5h0M91.0 61.6h0M91.1 45.5h0M89.6 52.1h0M96.7 60.2h0M96.9 61.0h0M94.1 50.1h0M94.1 52.8h0M89.3 54.8h0M88.3 60.0h0M90.1 60.5h0M96.0 50.4h0M87.1 52.8h0M99.6 58.7h0M96.7 58.2h0M91.2 60.7h0M91.4 47.3h0M89.5 60.2h0M94.2 59.6h0M96.4 54.1h0M94.5 61.5h0M95.8 47.6h0M97.4 53.9h0M58.0 50.5h0M65.7 52.2h0M64.2 55.8h0M61.9 56.5h0M64.9 50.3h0M60.4 49.5h0M65.7 55.0h0M65.7 56.0h0M61.3 53.3h0M58.1 51.6h0M57.4 56.8h0M64.0 49.2h0M62.9 49.9h0M58.4 52.7h0M64.4 50.1h0M65.3 53.3h0M58.1 53.4h0M64.0 49.9h0M62.0 49.8h0M57.8 55.3h0M63.8 55.7h0M62.2 52.5h0M63.2 51.7h0M63.6 55.2h0M57.1 54.3h0M64.7 54.3h0M58.7 56.6h0M62.1 49.3h0M58.9 56.0h0M60.1 57.0h0M61.6 50.0h0M58.5 57.0h0M63.4 55.8h0M65.2 48.9h0M56.7 53.6h0M64.2 49.2h0M60.5 55.2h0M63.3 51.8h0M57.1 54.2h0M66.2 55.3h0M58.2 55.4h0M64.7 50.9h0M60.8 53.7h0M59.2 53.6h0M65.7 54.2h0M60.8 52.8h0M64.5 50.0h0M64.9 50.0h0M59.9 55.2h0M66.4 55.5h0M60.8 49.8h0M66.2 53.2h0M63.7 51.4h0M63.0 50.6h0M64.0 46.2h0M65.1 54.8h0M59.3 52.8h0M61.0 47.1h0M63.0 45.9h0M63.4 55.8h0M65.0 55.4h0M61.4 51.6h0M59.4 49.7h0M57.4 51.9h0M58.4 52.1h0M63.6 52.9h0M62.0 50.4h0M62.0 47.4h0M62.3 46.6h0M62.7 49.4h0M62.8 54.6h0M63.8 52.4h0M60.5 54.9h0M64.0 54.2h0M65.4 52.7h0M59.1 56.9h0M65.8 51.2h0M65.0 51.4h0M64.4 56.6h0M59.7 51.1h0M64.5 49.3h0M64.8 56.0h0M65.6 54.5h0M57.1 54.5h0M61.1 51.4h0M64.1 55.5h0M60.7 52.9h0M56.6 54.2h0M65.9 53.6h0M63.5 70.6h0M80.6 68.5h0M88.7 65.4h0M66.7 93.0h0M64.9 69.2h0M71.8 98.5h0M58.3 73.9h0M75.3 86.1h0M65.2 91.0h0M81.5 77.9h0M89.6 73.5h0M63.6 96.3h0M73.2 78.7h0M81.3 60.2h0M84.5 80.1h0M88.5 66.6h0M69.0 65.2h0M71.5 63.6h0M85.1 71.0h0M69.8 98.3h0M68.3 96.7h0M69.2 90.3h0M81.6 80.6h0M91.5 70.4h0M70.4 78.3h0M85.8 81.0h0M57.2 65.7h0M70.1 75.6h0M62.1 80.5h0M73.8 90.6h0M100.7 88.6h0M113.6 90.7h0M116.3 81.1h0M121.7 84.2h0M118.2 79.2h0M118.9 83.7h0M117.8 80.5h0M116.1 83.2h0M98.2 83.7h0M116.6 81.8h0M108.1 89.3h0M107.9 93.6h0M115.6 79.4h0M97.9 81.2h0M106.2 91.6h0M126.0 89.3h0M120.3 91.4h0M125.0 89.3h0M106.3 88.1h0M111.6 89.7h0M109.7 70.1h0M113.4 68.1h0M110.2 67.8h0M110.5 69.3h0M109.4 64.4h0M110.1 69.4h0M111.2 61.6h0M108.2 65.0h0M110.2 71.7h0M104.9 68.7h0M105.1 68.4h0M104.6 63.0h0M109.1 67.9h0M107.1 69.3h0M110.0 64.7h0M112.7 65.5h0M104.9 65.0h0M106.0 68.9h0M110.5 65.3h0M106.1 67.3h0M108.9 61.8h0M106.3 70.5h0M104.5 62.7h0M108.5 71.3h0M109.2 64.6h0M113.2 68.2h0M106.5 65.9h0M108.6 68.9h0M104.9 63.2h0M106.3 69.3h0M109.6 67.8h0M108.6 69.1h0M110.7 68.5h0M127.1 63.2h0M111.5 62.0h0M127.0 74.1h0M126.4 71.5h0M115.4 63.5h0M126.0 70.9h0M116.1 69.3h0M122.6 61.8h0M119.7 61.5h0M118.4 69.8h0M129.3 67.6h0M128.3 74.5h0M127.8 63.6h0M125.5 66.6h0M122.9 68.7h0M121.9 67.8h0M122.3 59.9h0M124.6 66.5h0M118.2 71.1h0M123.3 67.0h0M111.7 61.9h0M113.9 62.1h0M123.7 73.5h0M116.3 60.3h0M113.1 61.7h0M125.5 63.8h0M128.1 67.6h0M114.4 65.4h0M116.8 63.3h0M119.6 67.3h0M130.2 69.7h0M125.1 61.7h0M124.3 62.0h0M120.7 68.2h0M116.5 70.9h0M116.4 60.0h0M125.9 60.9h0M112.4 65.3h0M115.6 63.6h0M123.6 74.0h0M119.9 60.5h0M118.3 67.3h0M120.5 61.5h0M125.9 68.2h0M124.4 74.1h0M126.4 69.0h0M118.6 59.6h0M126.5 62.2h0M118.9 65.3h0M125.8 70.3h0M125.8 65.1h0M127.9 74.5h0M126.6 64.0h0M117.5 62.9h0M128.8 69.5h0M113.3 65.7h0M120.2 64.9h0M116.3 69.6h0M118.4 68.5h0M122.7 60.6h0M127.8 67.2h0M127.7 67.7h0M114.7 65.1h0M125.5 70.6h0M121.5 67.9h0M118.9 72.0h0M113.7 62.5h0M121.1 60.4h0M119.7 64.4h0M117.2 60.8h0M119.2 72.3h0M122.2 63.3h0M122.5 61.5h0M125.2 61.7h0M121.0 67.9h0M112.0 61.9h0M126.8 64.6h0M119.2 64.9h0M118.9 62.0h0M127.7 64.8h0M127.7 67.5h0M119.9 71.7h0M124.6 74.2h0M125.4 74.3h0M118.1 66.1h0M112.2 64.6h0M117.8 62.7h0M126.4 66.4h0M116.3 64.6h0M125.8 65.6h0M121.4 61.7h0M117.4 68.4h0M115.8 65.4h0M130.0 69.8h0M117.0 67.3h0M119.7 69.0h0M125.2 60.3h0M127.6 66.2h0M117.8 63.6h0M118.4 60.8h0M119.0 71.7h0M113.2 62.8h0M113.5 61.0h0M127.4 74.1h0M128.2 73.7h0M118.1 59.9h0M114.6 64.1h0M111.9 61.9h0M117.7 60.3h0M128.7 72.0h0M117.2 65.2h0M130.3 71.8h0M126.0 73.0h0M126.3 72.8h0M114.9 65.3h0M117.0 70.0h0M129.8 74.2h0M116.4 70.5h0M117.0 62.8h0M116.6 70.1h0M119.9 61.9h0M122.8 65.7h0M115.9 60.3h0M127.5 73.0h0M114.1 67.2h0M126.6 64.4h0M124.1 70.8h0M118.2 70.6h0M124.5 61.4h0M126.6 67.1h0M121.0 63.3h0M122.8 68.2h0M113.1 63.1h0M123.7 66.5h0M124.0 60.9h0M118.9 62.6h0M130.6 69.1h0M124.2 67.0h0M129.7 71.7h0M121.5 61.2h0M119.9 67.3h0M124.6 64.2h0M119.7 63.3h0M126.6 73.1h0M118.2 65.4h0M122.8 66.9h0M123.3 72.1h0M127.4 72.9h0M126.2 66.9h0M123.2 68.1h0M113.6 66.3h0M129.7 71.4h0M117.5 67.6h0M123.5 61.1h0M129.1 72.5h0M122.5 70.6h0M119.3 61.7h0M118.3 65.9h0M120.8 60.3h0M122.0 61.7h0M129.8 70.0h0M119.5 62.6h0M115.0 62.0h0M113.9 68.3h0M115.1 67.7h0M116.2 70.3h0M126.0 67.4h0M116.2 65.0h0M124.9 66.8h0M119.0 60.4h0M128.6 67.5h0M123.2 71.1h0M118.0 62.2h0M126.5 73.4h0M116.9 65.9h0M123.9 69.9h0M119.4 60.7h0M122.3 73.6h0M123.6 63.5h0M125.4 69.1h0M121.9 67.2h0M122.1 59.6h0M125.5 70.0h0M129.2 72.3h0M115.3 68.0h0M117.0 70.3h0M118.3 66.6h0M113.0 65.0h0M125.8 72.6h0M125.2 63.3h0M127.8 66.8h0M112.1 64.0h0M124.3 66.3h0M123.1 62.6h0M115.3 68.1h0M128.3 69.7h0M127.2 66.6h0M127.9 68.3h0M128.7 63.6h0M120.1 59.3h0M127.7 66.9h0M121.3 72.3h0M116.4 61.6h0M111.6 62.3h0M115.2 65.3h0M123.5 69.4h0M122.7 71.7h0M115.8 60.9h0M126.2 64.0h0M126.8 67.3h0M121.5 73.1h0M114.9 69.1h0M130.1 66.4h0M120.6 69.4h0M126.2 65.2h0M129.0 67.0h0M126.1 73.4h0M113.6 63.1h0M121.1 70.1h0M116.6 68.1h0M125.0 71.3h0M123.7 66.6h0M123.5 72.3h0M121.3 66.4h0M130.7 69.3h0M126.2 72.6h0M118.8 67.9h0M121.5 65.6h0M116.7 67.5h0M124.2 69.6h0M122.9 61.6h0M120.2 62.9h0M114.3 68.8h0M121.5 71.9h0M117.2 62.5h0M120.6 71.0h0M112.7 62.3h0M128.6 66.5h0M117.3 62.3h0M126.5 71.7h0M127.8 69.7h0M121.1 62.7h0M112.4 63.9h0M124.7 65.0h0M112.7 65.7h0M128.1 68.6h0M129.4 74.6h0M114.4 70.1h0M121.0 69.9h0M119.7 61.7h0M119.0 65.6h0M120.6 63.6h0M128.5 67.4h0M116.2 64.3h0M117.9 66.7h0M129.1 74.2h0M118.8 67.0h0M120.2 60.9h0M115.7 70.5h0M119.8 64.3h0M126.7 60.7h0M127.5 65.6h0M126.6 68.8h0M113.3 64.3h0M126.5 64.5h0M129.0 69.2h0M113.5 68.4h0M116.9 62.4h0M122.7 67.1h0M125.9 71.2h0M128.8 65.9h0M120.4 61.6h0M118.1 67.9h0M119.4 67.0h0M113.2 66.4h0M126.4 66.8h0M135.5 67.7h0M134.9 59.1h0M135.8 62.0h0M136.3 61.6h0M134.3 58.8h0M130.3 59.3h0M133.7 65.5h0M133.1 68.7h0M135.8 60.3h0M134.5 60.1h0M137.6 62.3h0M135.1 68.3h0M134.0 64.4h0M130.3 65.2h0M131.9 60.1h0M134.0 62.4h0M133.6 57.1h0M136.2 66.4h0M130.3 57.4h0M134.9 67.8h0M130.3 59.3h0M132.1 57.7h0M135.1 68.5h0M133.7 68.7h0M133.9 62.1h0M135.3 62.9h0M136.4 65.2h0M135.5 65.4h0M116.5 66.6h0M120.8 67.3h0M120.3 72.7h0M124.6 73.8h0M125.8 69.5h0M124.3 67.5h0M128.1 72.2h0M123.8 71.8h0M122.8 68.9h0M128.9 75.4h0M122.0 67.3h0M120.0 74.5h0M122.5 74.9h0M126.0 71.7h0M121.6 74.8h0M119.8 66.5h0M129.2 76.0h0M120.1 72.9h0M126.9 78.6h0M127.8 73.5h0M120.6 67.7h0M119.5 67.4h0M124.8 78.2h0M124.9 73.8h0M127.1 73.3h0M126.3 78.1h0M123.1 75.1h0M126.2 68.7h0M116.5 65.5h0M129.6 75.9h0M127.7 71.4h0M123.2 77.4h0M117.9 65.6h0M115.6 65.7h0M115.3 65.7h0M122.4 68.1h0M126.7 75.3h0M121.3 71.1h0M124.8 68.7h0M124.5 69.8h0M122.7 69.3h0M129.2 74.5h0M126.5 71.3h0M122.8 74.1h0M124.0 76.6h0M123.7 76.5h0M120.2 65.6h0M127.3 78.0h0M117.0 67.9h0M121.4 71.2h0M129.1 74.0h0M127.2 77.2h0M129.3 75.0h0M130.0 76.9h0M130.0 76.6h0M122.4 68.6h0M117.8 67.8h0M124.7 74.8h0M117.4 67.5h0M115.2 69.4h0M113.6 67.2h0M130.3 76.7h0M125.7 77.6h0M128.3 74.0h0M120.6 73.6h0M123.7 73.6h0M128.0 78.2h0M122.0 71.6h0M116.9 67.2h0M121.7 72.3h0M126.0 72.5h0M114.2 68.0h0M125.8 73.6h0M124.7 70.6h0M116.4 70.8h0M124.2 69.8h0M120.9 72.4h0M117.8 68.8h0M116.9 67.2h0M128.2 72.2h0M115.2 68.6h0M126.8 77.7h0M134.6 91.0h0M127.2 75.0h0M133.3 83.4h0M128.3 80.9h0M123.5 71.3h0M123.9 79.7h0M121.0 76.5h0M124.8 73.9h0M126.2 72.8h0M134.0 90.7h0M128.3 78.5h0M129.8 81.6h0M129.6 89.2h0M130.2 78.9h0M124.4 82.6h0M132.4 85.5h0M131.5 80.8h0M135.2 88.4h0M118.9 72.8h0M135.1 86.4h0M121.3 68.3h0M123.6 82.1h0M127.9 81.7h0M121.5 71.3h0M128.2 76.9h0M120.7 68.1h0M125.0 77.1h0M131.3 89.2h0M132.0 85.0h0M126.2 77.5h0M121.0 71.2h0M130.9 86.4h0M123.1 74.3h0M130.0 84.0h0M124.0 81.6h0M133.4 86.5h0M118.3 67.4h0M132.1 81.3h0M120.9 72.7h0M128.4 81.9h0M130.4 83.4h0M129.9 80.8h0M127.8 77.4h0M135.2 85.9h0M118.5 72.5h0M121.0 74.3h0M122.9 71.3h0M126.0 72.1h0M128.1 84.2h0M130.6 79.6h0M121.1 76.0h0M123.0 79.4h0M126.4 85.6h0M119.7 75.1h0M127.7 79.0h0M128.6 75.6h0M128.1 80.9h0M123.4 78.8h0M131.6 80.1h0M123.1 79.3h0M128.8 81.6h0M128.4 79.6h0M126.6 84.4h0M119.7 74.2h0M123.9 69.9h0M131.6 85.8h0M121.5 71.6h0M122.3 75.6h0M123.5 80.3h0M116.3 67.5h0M121.4 67.5h0M127.1 78.8h0M133.8 84.1h0M128.1 76.7h0M147.7 88.2h0M147.6 85.7h0M136.0 86.3h0M149.1 83.6h0M134.9 88.2h0M137.3 85.2h0M137.7 80.4h0M138.7 79.5h0M145.9 87.0h0M138.9 79.9h0M147.5 83.5h0M139.2 84.8h0M145.2 84.6h0M136.6 79.4h0M138.3 78.4h0M143.7 78.8h0M133.9 84.6h0M139.6 80.3h0M135.2 79.9h0M141.0 89.6h0M149.0 85.4h0M132.4 78.6h0M143.7 89.1h0M147.7 83.2h0M136.7 84.8h0M144.1 86.3h0M143.0 84.9h0M133.7 84.4h0M140.1 90.8h0M140.9 81.1h0M142.1 86.1h0M133.7 80.3h0M142.7 83.5h0M142.2 89.1h0M143.2 89.0h0M136.4 90.3h0M141.4 83.0h0M139.6 90.8h0M136.4 79.8h0M134.8 78.7h0M142.4 81.8h0M144.2 85.3h0M140.4 91.5h0M145.7 90.2h0M147.6 83.8h0M148.8 85.8h0M138.6 81.8h0M133.5 79.2h0M139.6 86.6h0M140.8 90.5h0M140.7 90.2h0M132.9 86.9h0M133.2 85.7h0M141.0 82.2h0M144.1 90.5h0M133.8 83.7h0M144.4 89.7h0M134.7 80.4h0M135.4 79.4h0M141.4 89.7h0M145.1 83.5h0M141.3 82.0h0M134.9 84.1h0M136.5 77.9h0M148.7 87.0h0M143.4 88.0h0M133.4 86.1h0M139.5 88.1h0M138.2 78.6h0M142.7 89.7h0M144.2 91.2h0M134.9 84.1h0M132.9 81.0h0M141.9 81.0h0M139.2 84.2h0M145.1 89.1h0M139.2 88.1h0M147.5 83.2h0M141.1 87.3h0M138.3 82.0h0M138.5 78.7h0M133.8 84.4h0M141.5 87.7h0M140.1 85.6h0M142.7 84.5h0M135.1 87.9h0M135.4 80.0h0M132.9 85.4h0M140.3 79.7h0M136.4 84.8h0M137.7 88.6h0M133.1 85.6h0M143.9 83.9h0M138.7 91.3h0M142.0 88.9h0M139.1 87.2h0M134.8 81.2h0M143.6 86.3h0M148.5 87.9h0M144.1 81.2h0M137.9 88.4h0M144.5 79.2h0M140.7 83.4h0M141.3 83.7h0M133.7 84.7h0M141.9 90.3h0M143.6 81.2h0M134.2 82.6h0M138.3 83.9h0M137.6 83.8h0M134.1 82.1h0M142.3 86.0h0M143.2 88.5h0M136.8 87.8h0M134.5 88.9h0M141.5 79.9h0M147.9 85.3h0M139.8 82.1h0M134.6 82.9h0M137.6 89.0h0M134.0 82.7h0M141.6 88.0h0M143.1 88.5h0M133.6 82.6h0M141.7 81.2h0M143.9 81.0h0M142.9 84.6h0M140.3 84.9h0M137.6 88.7h0M143.2 83.1h0M140.5 81.6h0M143.7 79.3h0M138.5 81.3h0M143.2 89.8h0M135.2 86.4h0M135.1 85.3h0M145.7 90.0h0M149.1 85.7h0M146.3 87.9h0M133.9 87.0h0M140.6 87.1h0M148.3 81.7h0M137.2 87.3h0M142.4 86.6h0M147.0 80.8h0M143.5 83.7h0M135.8 78.9h0M142.7 79.4h0M141.5 84.2h0M138.7 77.6h0M144.7 79.8h0M139.0 89.9h0M136.1 79.8h0M146.4 83.7h0M148.8 85.1h0M146.4 87.6h0M148.4 86.1h0M149.0 84.0h0M135.2 77.9h0M133.1 81.0h0M142.0 84.1h0M141.3 89.4h0M135.9 89.9h0M140.1 87.8h0M143.2 91.0h0M147.9 84.8h0M142.7 78.4h0M145.8 83.6h0M146.7 81.2h0M141.6 81.1h0M140.1 87.5h0M142.1 90.6h0M145.4 85.7h0M141.8 87.7h0M143.3 84.9h0M145.1 82.2h0M147.3 85.3h0M145.3 85.7h0M136.6 85.4h0M135.4 84.1h0M144.5 83.1h0M148.0 84.6h0M132.8 84.9h0M145.7 88.2h0M145.5 87.0h0M136.8 84.4h0M137.3 86.6h0M145.4 83.3h0M133.4 88.1h0M140.0 86.2h0M137.7 85.9h0M134.5 81.8h0M138.7 88.2h0M143.9 87.1h0M137.7 89.2h0M148.3 88.1h0M136.3 79.2h0M141.6 89.3h0M139.6 84.3h0M140.2 89.4h0M137.1 78.9h0M143.1 83.7h0M132.6 78.4h0M141.1 86.8h0M144.0 80.3h0M143.0 79.6h0M139.7 87.2h0M148.4 82.8h0M133.9 87.7h0M141.3 82.0h0M145.9 89.7h0M138.3 87.6h0M143.0 89.4h0M134.7 87.8h0M133.7 85.4h0M136.9 77.5h0M141.6 88.9h0M143.2 80.8h0M136.9 79.3h0M142.4 77.9h0M139.4 90.0h0M140.3 89.7h0M132.8 79.7h0M135.3 82.4h0M137.4 82.1h0M146.8 85.8h0M136.5 78.4h0M144.4 90.7h0M149.4 83.2h0M142.3 87.0h0M136.2 85.6h0M140.0 84.3h0M144.8 90.8h0M137.6 84.1h0M140.7 78.9h0M132.6 81.3h0M135.3 80.2h0M146.9 84.5h0M138.7 85.3h0M142.9 89.2h0M141.4 84.7h0M144.0 91.4h0M137.8 85.0h0M143.1 80.1h0M139.7 88.6h0M144.6 81.6h0M138.4 81.3h0M146.4 87.2h0M136.9 87.3h0M145.7 83.4h0M142.5 89.8h0M146.8 87.0h0M135.7 82.3h0M145.2 80.9h0M144.8 79.4h0M138.9 85.8h0M145.5 84.0h0M134.4 78.8h0M148.6 83.0h0M137.3 84.5h0M134.6 84.2h0M142.6 82.0h0M146.3 87.7h0M134.3 85.4h0M138.2 87.2h0M133.4 88.2h0M137.2 87.8h0M142.7 90.4h0M133.9 82.3h0M134.9 78.5h0M135.6 90.4h0M138.1 91.6h0M134.4 87.4h0M132.2 78.3h0M135.3 78.7h0M136.4 78.5h0M142.6 78.0h0M142.8 83.1h0M133.8 82.2h0M149.3 83.0h0M135.2 86.7h0M138.9 87.5h0M139.8 78.6h0M137.1 81.7h0M139.7 88.8h0M139.5 81.9h0M139.7 80.3h0M148.5 82.6h0M134.9 85.1h0M135.2 81.6h0M147.6 85.0h0M146.8 80.0h0M136.9 81.0h0M142.8 90.5h0M132.4 80.9h0M141.7 84.6h0M144.0 91.1h0M143.7 79.9h0M137.7 80.2h0M144.4 89.3h0M143.0 81.9h0M138.0 89.5h0M136.4 78.3h0M142.2 88.1h0M139.6 81.1h0M139.4 87.5h0M140.9 88.0h0M141.0 78.9h0M142.5 79.1h0M134.4 84.3h0M139.8 80.6h0M137.6 80.4h0M142.5 90.9h0M133.3 78.5h0M97.8 62.8h0M105.7 63.2h0M109.6 58.3h0M101.8 63.5h0M100.5 56.5h0M97.3 58.7h0M97.1 59.7h0" stroke="#00C1A3" stroke-width="0.75" stroke-linecap="square" fill="none"/>
<path d="M82.1 17.4h0M80.4 30.9h0M87.3 23.9h0M89.3 20.6h0M83.2 40.9h0M90.6 21.3h0M89.6 17.4h0M81.2 35.5h0M83.4 27.8h0M85.4 29.6h0M86.4 25.2h0M83.8 24.2h0M100.5 25.9h0M91.6 19.1h0M100.5 27.6h0M80.6 17.2h0M82.9 42.6h0M79.8 30.9h0M102.1 26.0h0M91.7 22.6h0M82.4 37.6h0M82.3 35.5h0M87.5 18.5h0M101.9 28.1h0M94.3 26.1h0M87.2 18.5h0M79.8 22.4h0M96.0 28.1h0M86.2 24.5h0M83.1 43.0h0M86.5 27.7h0M84.0 37.7h0M83.2 28.6h0M101.7 24.8h0M85.2 41.3h0M101.1 25.0h0M80.4 25.3h0M82.9 39.1h0M85.1 40.9h0M84.4 25.1h0M83.5 18.0h0M79.6 23.8h0M99.1 20.8h0M84.5 20.3h0M100.0 24.3h0M77.5 28.8h0M82.8 45.3h0M80.0 20.1h0M104.4 23.0h0M81.7 29.9h0M77.6 31.2h0M92.6 28.5h0M79.6 22.3h0M103.7 29.3h0M81.2 30.3h0M85.0 28.3h0M86.6 43.7h0M93.0 23.7h0M84.5 43.0h0M87.3 20.6h0M78.8 34.5h0M106.9 23.2h0M114.2 27.8h0M110.3 26.4h0M104.1 25.8h0M119.0 28.5h0M123.2 29.8h0M114.9 25.7h0M106.3 29.1h0M106.9 26.1h0M110.0 26.9h0M109.4 29.3h0M112.1 24.3h0M123.8 29.5h0M82.7 46.9h0M72.0 47.2h0M77.5 48.9h0M83.9 48.4h0M75.9 56.7h0M82.4 48.5h0M78.8 50.2h0M79.4 53.4h0M84.5 57.7h0M81.3 49.7h0M79.3 58.6h0M80.4 48.0h0M82.7 59.2h0M78.1 54.4h0M86.2 53.2h0M80.6 50.7h0M85.0 51.5h0M85.2 55.2h0M81.3 44.9h0M79.7 53.2h0M80.8 48.6h0M76.1 58.0h0M85.7 53.5h0M84.8 55.7h0M73.3 47.3h0M76.7 50.6h0M79.6 47.0h0M80.7 50.6h0M85.8 50.2h0M75.4 56.3h0M78.2 56.3h0M78.3 54.3h0M74.8 55.1h0M79.7 47.7h0M74.0 51.8h0M85.0 50.6h0M82.4 50.5h0M122.5 30.9h0M117.8 27.0h0M125.0 29.2h0M123.0 32.5h0M121.9 32.8h0M118.4 28.0h0M126.4 31.0h0M118.9 27.4h0M121.6 31.5h0M124.5 30.0h0M123.6 29.6h0M123.7 28.7h0M118.8 28.3h0M109.5 44.9h0M107.5 44.3h0M110.7 48.0h0M103.1 35.6h0M110.0 48.9h0M103.6 34.1h0M105.3 31.9h0M105.2 49.4h0M104.9 34.2h0M107.4 49.6h0M102.9 54.1h0M104.4 33.8h0M106.0 32.4h0M110.5 56.3h0M108.9 53.3h0M107.7 53.2h0M105.2 49.2h0M112.2 53.6h0M101.8 54.1h0M103.3 34.3h0M102.7 54.3h0M104.9 33.8h0M103.3 33.9h0M102.4 40.2h0M110.9 55.8h0M101.8 46.8h0M105.7 38.5h0M104.5 55.0h0M105.1 47.9h0M107.0 39.3h0M104.6 34.2h0M106.6 37.8h0M105.4 46.7h0M105.9 53.8h0M104.8 34.4h0M103.4 39.8h0M105.3 35.2h0M109.9 53.9h0M108.7 53.4h0M109.1 54.0h0M103.6 37.8h0M102.6 49.1h0M105.2 32.9h0M105.6 49.6h0M112.1 52.2h0M104.9 53.4h0M107.9 43.9h0M102.1 52.2h0M103.1 35.5h0M110.1 52.3h0M110.7 48.5h0M110.4 51.1h0M105.1 30.9h0M105.3 41.9h0M107.7 51.2h0M106.8 54.2h0M109.3 47.8h0M104.4 53.0h0M107.6 46.8h0M107.8 52.5h0M111.3 55.9h0M102.9 46.8h0M106.9 55.0h0M106.4 32.7h0M106.3 42.8h0M103.0 39.9h0M105.9 44.9h0M107.9 41.7h0M102.9 42.6h0M109.6 49.0h0M101.6 46.0h0M109.9 49.2h0M106.2 54.2h0M102.5 43.0h0M107.9 43.2h0M102.5 45.0h0M109.0 43.8h0M103.9 46.1h0M103.5 56.4h0M106.4 31.6h0M107.7 51.7h0M104.4 32.5h0M106.9 50.0h0M104.8 41.7h0M108.0 50.4h0M107.0 57.7h0M103.1 43.6h0M104.7 53.9h0M103.6 38.1h0M101.8 41.8h0M105.2 37.9h0M103.4 43.7h0M106.5 46.5h0M103.8 50.4h0M112.0 55.9h0M101.9 51.5h0M101.9 44.7h0M105.1 33.4h0M108.1 55.0h0M108.8 44.8h0M109.9 45.4h0M102.1 48.5h0M104.0 49.2h0M104.4 45.0h0M104.8 52.0h0M103.7 36.4h0M103.1 40.4h0M108.1 46.8h0M103.0 36.5h0M111.5 51.1h0M108.8 53.8h0M102.7 42.7h0M104.4 47.5h0M104.0 36.4h0M104.6 40.0h0M104.6 40.7h0M108.8 54.9h0M107.4 52.3h0M102.7 55.9h0M107.4 57.0h0M110.5 52.7h0M108.0 46.8h0M107.4 42.2h0M104.1 31.5h0M104.1 32.5h0M101.5 46.0h0M107.0 56.1h0M106.0 56.5h0M104.5 37.8h0M102.4 43.4h0M105.9 52.1h0M101.9 41.4h0M105.0 55.2h0M103.8 47.9h0M105.2 41.2h0M104.5 36.2h0M102.6 43.4h0M102.0 47.1h0M109.2 49.2h0M109.2 56.4h0M105.5 47.4h0M102.9 42.5h0M103.7 36.0h0M108.1 45.9h0M106.2 57.1h0M102.8 49.5h0M104.9 54.8h0M107.2 42.2h0M106.9 39.6h0M104.8 36.0h0M108.2 47.1h0M103.0 54.0h0M107.9 53.7h0M104.3 51.6h0M110.2 46.1h0M104.3 33.4h0M105.4 49.1h0M104.1 56.1h0M111.3 55.7h0M102.1 54.4h0M102.0 44.9h0M104.8 49.9h0M102.4 47.1h0M109.2 53.9h0M108.2 50.5h0M107.7 51.9h0M105.4 48.9h0M108.5 51.1h0M108.2 55.0h0M110.5 51.2h0M112.3 56.8h0M110.5 57.2h0M108.5 51.3h0M109.3 56.2h0M103.3 38.2h0M106.4 42.3h0M105.9 37.6h0M103.9 54.2h0M110.8 52.8h0M104.9 32.9h0M101.7 42.9h0M103.0 46.2h0M106.4 49.7h0M104.3 56.9h0M102.5 44.4h0M110.0 51.9h0M105.2 40.6h0M104.9 35.1h0M108.9 48.3h0M103.7 46.9h0M105.2 43.3h0M109.8 50.2h0M107.8 48.0h0M103.5 51.8h0M106.7 44.6h0M105.3 54.8h0M105.2 40.0h0M101.3 45.4h0M103.6 48.0h0M104.0 39.6h0M104.9 38.6h0M103.9 56.0h0M106.2 42.2h0M107.0 43.5h0M108.1 51.6h0M111.2 51.9h0M102.5 45.3h0M107.7 56.4h0M109.2 57.1h0M106.3 45.0h0M102.0 55.4h0M103.2 53.4h0M102.1 48.8h0M109.6 50.7h0M109.1 48.7h0M107.9 46.0h0M106.9 56.8h0M108.4 49.2h0M101.3 50.0h0M106.7 52.6h0M109.6 46.8h0M110.0 53.9h0M112.6 55.5h0M101.7 50.6h0M107.5 51.8h0M112.4 51.4h0M108.9 52.0h0M103.3 50.2h0M106.3 45.6h0M112.5 54.3h0M103.0 47.8h0M111.5 49.0h0M105.9 37.7h0M102.3 49.0h0M106.4 40.4h0M106.3 52.7h0M104.8 44.9h0M105.2 37.8h0M105.7 46.2h0M104.6 43.4h0M112.8 53.1h0M103.4 51.5h0M110.1 56.9h0M105.5 37.1h0M105.9 42.8h0M101.7 50.0h0M102.0 40.8h0M109.0 52.2h0M112.3 52.3h0M105.2 39.5h0M108.1 45.0h0M109.0 49.0h0M104.4 39.1h0M106.2 48.2h0M105.2 37.3h0M102.6 49.5h0M106.2 40.8h0M103.4 50.0h0M103.3 54.2h0M105.2 34.6h0M103.9 45.8h0M106.1 32.3h0M103.6 49.1h0M104.0 39.4h0M112.1 57.0h0M112.0 54.3h0M108.4 47.1h0M106.4 46.2h0M103.0 52.7h0M112.4 53.3h0M108.4 44.3h0M104.6 48.4h0M103.7 44.5h0M101.6 49.9h0M110.5 54.3h0M105.2 38.0h0M107.4 42.4h0M106.4 48.4h0M102.2 45.6h0M103.9 46.3h0M111.4 52.2h0M111.9 54.6h0M105.4 49.1h0M109.2 53.1h0M103.4 35.4h0M106.5 50.0h0M105.6 57.2h0M105.8 52.1h0M105.8 44.8h0M105.4 46.9h0M102.6 53.3h0M112.2 56.8h0M103.2 44.4h0M108.9 48.3h0M104.0 48.8h0M104.5 32.8h0M106.5 46.7h0M104.8 44.2h0M107.0 45.7h0M108.6 48.5h0M104.1 35.3h0M110.3 47.7h0M110.5 52.5h0M108.5 43.0h0M105.1 54.1h0M107.2 40.7h0M107.5 43.7h0M106.4 39.9h0M105.1 32.2h0M110.1 56.9h0M108.6 49.4h0M105.7 31.8h0M104.9 39.0h0M102.5 53.9h0M106.7 51.9h0M105.4 52.6h0M106.1 31.9h0M109.0 47.5h0M110.9 51.5h0M107.9 49.3h0M109.3 44.6h0M104.1 55.0h0M104.0 42.6h0M109.9 50.2h0M101.7 49.8h0M102.4 51.7h0M103.1 51.5h0M109.2 46.0h0M107.6 48.7h0M103.9 44.5h0M102.6 54.4h0M104.8 45.9h0M107.6 41.3h0M102.5 53.9h0M111.3 52.1h0M108.2 57.4h0M106.9 43.3h0M106.3 47.7h0M104.7 49.4h0M104.2 30.8h0M103.1 44.0h0M103.2 55.9h0M111.2 49.0h0M108.7 55.4h0M106.0 35.3h0M105.8 30.9h0M102.1 54.1h0M103.4 42.2h0M110.6 51.2h0M103.4 52.5h0M105.6 39.8h0M104.7 32.3h0M101.8 45.4h0M104.9 55.5h0M107.1 54.1h0M109.4 45.9h0M106.0 54.2h0M110.5 55.8h0M103.3 42.7h0M102.8 48.3h0M104.6 51.2h0M103.5 44.7h0M102.8 44.6h0M105.0 33.5h0M108.3 50.9h0M103.5 52.8h0M103.9 38.4h0M108.7 48.2h0M109.3 53.1h0M107.4 56.1h0M107.0 53.9h0M108.9 48.5h0M110.2 48.0h0M103.4 45.8h0M106.6 52.8h0M104.9 45.0h0M106.4 56.9h0M107.2 48.6h0M106.0 47.7h0M111.0 48.6h0M111.8 54.6h0M104.5 36.1h0M101.5 51.4h0M104.9 36.0h0M110.8 54.5h0M101.5 45.2h0M102.5 39.1h0M108.4 47.8h0M107.2 56.0h0M106.1 34.6h0M104.7 56.2h0M106.1 32.3h0M102.4 54.4h0M101.3 48.8h0M103.6 45.3h0M110.9 52.8h0M105.1 44.3h0M108.1 47.1h0M106.1 53.2h0M107.1 42.7h0M102.9 42.8h0M104.3 44.7h0M106.6 39.5h0M104.6 31.7h0M104.7 40.2h0M106.5 57.2h0M103.3 54.1h0M102.5 47.4h0M107.4 54.0h0M107.3 45.1h0M103.9 33.1h0M105.5 57.2h0M103.8 48.3h0M103.1 56.0h0M109.8 52.5h0M106.9 42.1h0M107.6 49.6h0M108.4 51.6h0M102.5 39.8h0M107.5 44.2h0M103.1 54.6h0M105.7 33.9h0M108.5 50.7h0M110.6 51.0h0M112.1 51.8h0M112.4 53.9h0M102.8 42.1h0M103.6 54.0h0M102.9 48.7h0M106.5 51.7h0M101.3 48.1h0M106.6 54.4h0M104.5 40.6h0M101.8 51.7h0M108.5 43.2h0M101.3 48.7h0M109.9 50.6h0M102.7 47.4h0M102.0 48.9h0M107.9 56.2h0M103.1 45.9h0M106.8 50.9h0M104.2 50.6h0M109.0 56.5h0M103.8 47.3h0M102.9 40.3h0M103.9 44.8h0M105.4 53.6h0M105.3 37.3h0M104.9 35.3h0M110.0 54.3h0M109.3 57.3h0M110.0 53.0h0M102.3 48.4h0M103.2 35.4h0M102.2 48.6h0M106.4 49.6h0M105.7 56.3h0M108.2 50.2h0M101.9 46.1h0M102.3 44.7h0M110.3 46.1h0M102.1 51.6h0M101.4 47.2h0M127.8 44.2h0M123.1 47.2h0M118.9 35.4h0M128.5 47.4h0M125.5 42.1h0M125.4 44.7h0M127.0 42.0h0M130.9 52.1h0M124.1 43.0h0M124.5 37.2h0M130.4 60.6h0M120.3 34.7h0M133.3 55.0h0M122.7 48.1h0M125.8 45.9h0M128.4 44.9h0M128.0 55.1h0M124.5 43.2h0M136.4 62.0h0M127.4 50.8h0M134.5 57.1h0M119.8 37.2h0M130.3 50.8h0M131.8 58.5h0M125.6 53.7h0M135.7 61.6h0M120.7 38.2h0M123.9 34.7h0M122.8 41.8h0M118.9 35.3h0M132.6 55.1h0M133.2 57.9h0M124.9 38.0h0M122.5 42.0h0M121.1 41.1h0M128.4 44.4h0M127.4 57.0h0M120.7 42.0h0M133.4 58.1h0M122.4 34.3h0M123.5 42.2h0M126.1 53.5h0M121.4 40.1h0M121.2 44.2h0M122.0 47.0h0M128.7 58.2h0M135.7 60.3h0M98.6 57.3h0M92.3 45.9h0M89.2 46.8h0M89.4 60.8h0M90.1 53.2h0M99.3 53.2h0M94.5 47.1h0M95.5 57.3h0M98.0 53.3h0M87.0 58.6h0M95.7 53.7h0M97.3 61.1h0M87.4 59.5h0M87.0 47.8h0M93.3 61.8h0M86.6 44.1h0M93.1 54.7h0M93.9 61.1h0M96.3 48.4h0M97.1 51.7h0M86.6 44.5h0M92.6 49.9h0M94.5 50.6h0M97.2 46.2h0M88.8 49.2h0M94.2 58.7h0M99.4 51.5h0M97.2 48.3h0M92.3 53.4h0M97.5 61.0h0M91.3 61.7h0M90.3 60.1h0M95.5 58.7h0M99.7 52.0h0M86.8 55.2h0M89.4 48.8h0M88.0 56.0h0M87.2 57.4h0M89.7 54.0h0M92.5 54.6h0M101.3 51.0h0M66.5 77.3h0M72.4 70.6h0M68.8 80.6h0M65.6 80.1h0M57.0 66.4h0M68.2 96.0h0M63.1 66.8h0M77.3 93.4h0M63.3 93.8h0M63.9 77.4h0M76.3 77.5h0M87.9 77.3h0M74.9 79.1h0M62.0 66.5h0M68.3 60.4h0M79.0 95.3h0M67.5 84.2h0M64.9 95.0h0M87.9 60.5h0M77.7 88.8h0M66.3 62.1h0M89.5 70.1h0M92.1 69.1h0M87.5 60.2h0M63.3 95.0h0M94.7 67.7h0M66.3 83.2h0M80.4 79.6h0M64.6 97.9h0M80.5 70.4h0M68.2 66.4h0M91.6 70.6h0M63.4 67.2h0M60.4 62.6h0M79.5 74.5h0M70.7 74.8h0M68.9 81.3h0M83.9 82.6h0M67.7 100.1h0M70.9 63.2h0M69.6 97.9h0M76.9 79.5h0M75.1 94.7h0M61.9 67.8h0M65.1 56.9h0M87.7 69.2h0M58.4 55.3h0M65.6 97.3h0M81.0 91.3h0M77.7 79.1h0M74.2 71.7h0M70.4 85.4h0M68.5 82.0h0M72.6 85.8h0M94.4 63.9h0M92.4 74.5h0M92.5 64.2h0M93.0 64.9h0M94.9 63.8h0M92.0 71.9h0M95.6 69.5h0M94.7 68.8h0M93.9 73.7h0M93.8 63.3h0M93.6 66.4h0M93.7 68.4h0M92.8 65.4h0M91.6 74.3h0M91.4 69.7h0M91.0 62.3h0M93.8 66.8h0M92.7 67.0h0M90.6 70.6h0M91.1 70.8h0M93.0 74.6h0M92.2 69.0h0M91.5 65.8h0M92.7 69.4h0M93.6 68.4h0M96.0 67.0h0M90.3 74.2h0M90.8 63.2h0M93.2 67.1h0M95.1 69.3h0M92.5 74.2h0M91.4 71.9h0M94.4 72.6h0M91.1 69.7h0M92.5 66.5h0M95.6 70.5h0M91.0 65.4h0M91.9 63.1h0M94.5 71.0h0M93.9 67.8h0M90.8 63.1h0M95.1 68.6h0M92.2 73.9h0M94.0 64.5h0M93.5 65.8h0M93.1 64.4h0M95.8 65.9h0M92.8 71.2h0M94.7 64.5h0M120.0 83.5h0M101.2 91.7h0M108.7 89.4h0M116.3 83.7h0M99.8 91.2h0M106.9 90.4h0M105.4 91.6h0M111.4 83.3h0M114.5 81.4h0M103.5 78.2h0M103.6 85.0h0M114.8 79.4h0M121.1 91.8h0M99.4 79.6h0M107.8 86.9h0M101.0 90.7h0M112.1 84.9h0M104.9 78.2h0M105.1 77.0h0M108.3 92.6h0M109.1 76.9h0M113.6 87.2h0M111.0 83.6h0M104.0 88.2h0M104.0 93.1h0M110.3 77.6h0M111.0 93.2h0M105.4 80.0h0M102.2 82.7h0M107.9 85.6h0M99.7 91.2h0M114.3 79.3h0M124.1 85.4h0M101.8 87.6h0M118.2 88.1h0M95.3 89.2h0M92.4 88.3h0M86.2 83.7h0M92.0 91.3h0M96.5 90.9h0M86.7 83.3h0M96.6 88.7h0M85.9 87.7h0M92.7 88.6h0M83.4 88.5h0M94.4 84.0h0M84.5 88.9h0M85.8 82.7h0M90.7 92.0h0M109.5 70.7h0M105.0 63.9h0M107.3 66.1h0M103.9 63.3h0M111.1 69.5h0M104.1 65.9h0M106.4 64.0h0M109.0 69.9h0M97.9 65.6h0M98.2 66.6h0M101.9 69.2h0M100.5 69.7h0M97.6 71.7h0M118.6 64.7h0M112.0 64.1h0M116.9 65.5h0M114.0 66.2h0M117.5 65.4h0M128.7 67.3h0M130.1 66.7h0M122.2 71.5h0M115.6 61.3h0M113.2 67.0h0M116.3 65.3h0M124.1 73.0h0M126.6 63.3h0M121.7 63.3h0M122.8 69.5h0M123.3 60.0h0M122.0 62.1h0M129.0 68.2h0M124.3 72.1h0M111.4 61.8h0M126.6 71.8h0M127.6 70.4h0M120.1 68.6h0M125.4 67.4h0M117.4 71.5h0M115.3 67.9h0M125.2 60.4h0M117.5 66.8h0M126.4 62.5h0M111.9 62.5h0M118.8 66.2h0M119.0 61.0h0M117.8 68.5h0M129.2 68.1h0M115.9 63.6h0M114.0 67.8h0M121.7 64.1h0M125.1 65.5h0M130.5 67.0h0M115.1 65.8h0M124.4 60.1h0M119.4 71.7h0M112.2 64.1h0M129.9 73.2h0M124.5 72.2h0M120.0 72.4h0M117.4 66.0h0M123.6 67.5h0M126.9 65.1h0M118.3 64.9h0M125.2 72.3h0M123.2 69.0h0M114.1 62.1h0M113.0 61.5h0M120.3 69.6h0M116.7 70.4h0M118.0 70.0h0M124.0 67.5h0M129.8 73.5h0M121.2 64.7h0M121.3 72.8h0M129.9 68.3h0M116.7 67.1h0M119.2 60.7h0M124.3 71.4h0M117.3 63.9h0M127.3 61.9h0M127.0 64.2h0M118.0 65.4h0M123.1 61.6h0M124.4 66.0h0M125.6 67.7h0M127.2 69.8h0M137.9 65.5h0M131.4 56.9h0M130.8 59.9h0M134.8 58.2h0M133.3 60.4h0M130.4 56.7h0M134.0 68.6h0M131.6 58.2h0M130.9 65.7h0M131.0 56.7h0M137.8 62.1h0M129.8 63.6h0M133.0 60.6h0M130.5 57.5h0M131.4 67.3h0M134.1 57.4h0M136.9 62.3h0M133.3 64.7h0M135.0 59.2h0M130.3 62.4h0M133.9 65.4h0M135.3 59.8h0M131.1 60.5h0M132.9 61.8h0M130.6 59.8h0M137.4 65.5h0M132.2 60.3h0M133.5 69.0h0M130.0 64.8h0M133.5 62.6h0M130.6 64.5h0M134.9 62.7h0M132.7 61.6h0M137.7 65.5h0M132.5 57.2h0M129.5 63.1h0M136.8 61.9h0M128.8 57.5h0M128.7 59.7h0M131.5 64.2h0M130.0 56.9h0M130.8 62.8h0M132.0 59.6h0M130.9 61.3h0M132.2 57.0h0M136.4 61.8h0M131.2 56.9h0M134.1 66.1h0M132.7 58.9h0M130.6 61.3h0M134.6 65.8h0M132.5 58.3h0M128.6 56.2h0M134.9 68.6h0M134.4 69.5h0M134.7 59.7h0M135.9 62.0h0M136.1 61.4h0M131.7 60.1h0M132.2 62.0h0M130.2 63.4h0M133.8 66.0h0M133.1 67.4h0M134.0 59.8h0M135.1 60.3h0M130.2 57.6h0M133.7 57.5h0M135.6 64.0h0M129.8 64.8h0M137.3 61.6h0M131.4 57.0h0M136.5 62.5h0M128.1 56.0h0M133.3 62.6h0M134.0 68.3h0M131.7 60.1h0M136.2 60.7h0M135.8 61.3h0M135.5 62.9h0M131.7 64.1h0M133.2 69.0h0M131.8 62.2h0M132.5 67.7h0M135.9 68.4h0M134.6 65.5h0M132.1 59.2h0M136.5 67.8h0M134.0 69.7h0M137.4 62.4h0M131.3 65.5h0M136.9 61.2h0M129.9 62.3h0M132.0 57.0h0M131.7 64.6h0M130.5 57.9h0M135.8 59.9h0M137.8 66.2h0M131.2 57.9h0M133.4 60.0h0M129.8 62.2h0M132.3 58.7h0M132.0 56.7h0M132.7 65.0h0M132.3 58.9h0M118.5 64.8h0M122.1 74.7h0M122.5 73.6h0M126.3 70.6h0M128.1 72.2h0M126.5 73.7h0M125.1 77.2h0M121.6 72.7h0M124.0 72.3h0M116.1 69.9h0M124.2 69.6h0M113.6 67.8h0M123.8 77.0h0M125.9 78.5h0M129.9 76.2h0M122.1 76.0h0M115.6 68.4h0M121.9 73.4h0M119.2 65.2h0M116.0 66.4h0M119.8 72.7h0M121.2 75.3h0M120.3 66.7h0M128.6 71.7h0M115.6 65.4h0M121.2 65.7h0M117.8 68.4h0M120.8 73.8h0M126.4 72.2h0M118.8 69.1h0M114.4 65.4h0M120.5 69.9h0M113.8 67.0h0M125.2 75.0h0M126.6 72.6h0M124.1 71.4h0M124.4 69.6h0M125.9 74.2h0M123.6 71.6h0M125.8 77.3h0M126.9 75.6h0M124.7 74.2h0M124.7 71.9h0M125.4 68.5h0M118.3 69.7h0M116.5 70.3h0M127.1 78.0h0M121.3 69.2h0M126.3 70.3h0M122.6 72.6h0M113.6 65.9h0M116.2 65.3h0M128.5 75.2h0M117.8 65.0h0M125.9 73.1h0M116.4 68.7h0M124.9 78.3h0M121.9 73.1h0M117.1 65.4h0M128.4 74.7h0M123.0 67.6h0M118.2 72.2h0M119.0 72.2h0M124.5 70.4h0M124.3 76.9h0M126.7 76.6h0M124.8 78.4h0M126.5 71.9h0M116.8 67.6h0M119.6 69.9h0M123.6 75.7h0M121.6 70.0h0M123.7 77.6h0M122.5 71.1h0M120.6 67.5h0M127.9 77.4h0M112.8 65.8h0M128.1 71.5h0M125.7 75.8h0M129.1 75.3h0M125.6 71.0h0M122.0 70.3h0M127.9 71.1h0M123.2 69.7h0M124.4 70.3h0M122.3 67.5h0M122.6 76.4h0M125.6 73.9h0M118.5 70.0h0M118.1 65.6h0M128.3 75.8h0M127.4 76.5h0M116.5 65.3h0M127.2 76.2h0M121.5 66.4h0M118.5 68.4h0M125.0 67.8h0M119.8 69.7h0M120.3 65.1h0M121.7 71.8h0M118.8 64.7h0M123.2 79.1h0M132.5 87.8h0M118.7 67.8h0M135.9 88.0h0M134.4 89.8h0M123.3 77.2h0M129.5 81.3h0M117.2 69.3h0M126.2 84.9h0M127.7 81.1h0M127.1 80.5h0M131.6 82.0h0M135.7 89.8h0M126.1 78.9h0M119.3 73.9h0M128.2 77.7h0M132.7 90.9h0M129.1 83.0h0M124.2 77.4h0M129.3 84.3h0M134.0 83.5h0M119.6 68.2h0M134.7 87.0h0M130.6 88.9h0M115.2 68.3h0M134.2 85.5h0M117.9 71.8h0M116.4 69.9h0M136.1 90.0h0M133.4 91.1h0M124.5 71.7h0M124.1 78.6h0M128.1 82.5h0M118.8 74.6h0M122.2 73.6h0M126.6 85.2h0M122.8 73.5h0M133.2 89.8h0M134.4 90.7h0M129.1 87.2h0M136.0 86.8h0M129.5 88.2h0M122.1 79.6h0M133.8 83.8h0M122.3 73.8h0M128.0 75.5h0M136.6 87.3h0M124.7 79.2h0M127.9 79.9h0M134.0 90.5h0M136.4 90.0h0M126.1 84.7h0M130.7 87.2h0M125.3 81.3h0M134.4 87.5h0M123.9 70.6h0M122.2 68.5h0M127.6 81.6h0M123.9 72.5h0M119.3 74.8h0M130.1 77.9h0M121.6 69.6h0M127.1 84.8h0M118.6 69.7h0M123.3 73.5h0M133.0 87.3h0M130.9 79.9h0M121.2 70.3h0M119.6 74.1h0M117.5 70.3h0M130.9 85.0h0M129.3 87.3h0M120.2 74.1h0M127.1 81.2h0M123.6 72.3h0M128.8 87.2h0M132.1 87.2h0M120.8 69.5h0M132.9 91.0h0M133.4 82.5h0M124.7 81.4h0M118.3 70.0h0M119.9 75.0h0M134.9 89.7h0M132.4 90.5h0M127.1 83.9h0M125.1 73.4h0M134.1 88.9h0M118.7 69.7h0M125.0 77.1h0M128.7 84.0h0M123.9 82.0h0M132.1 85.3h0M116.3 70.1h0M125.0 81.6h0M116.0 67.0h0M121.1 70.2h0M134.1 89.6h0M130.7 88.1h0M131.2 82.4h0M132.5 83.6h0M117.8 68.5h0M134.0 88.7h0M131.6 85.0h0M130.0 83.0h0M119.9 70.9h0M128.7 83.9h0M116.9 66.2h0M122.4 71.1h0M119.7 74.5h0M123.5 69.7h0M128.2 83.5h0M126.7 84.0h0M122.9 78.7h0M120.7 75.3h0M118.3 71.6h0M118.3 73.7h0M119.6 70.7h0M126.8 80.3h0M131.8 87.6h0M122.6 70.1h0M119.0 74.8h0M133.4 86.8h0M124.1 77.5h0M128.3 85.0h0M134.2 84.7h0M131.7 83.5h0M122.5 71.0h0M126.9 73.9h0M131.2 79.9h0M131.8 83.8h0M128.3 79.7h0M122.3 69.3h0M116.9 69.0h0M131.2 82.2h0M117.6 71.7h0M128.0 76.0h0M117.2 69.8h0M130.8 79.8h0M135.2 86.7h0M126.5 83.6h0M125.6 83.6h0M129.8 85.2h0M133.4 88.0h0M133.5 85.9h0M124.4 71.1h0M123.0 80.2h0M119.5 68.8h0M135.3 89.9h0M124.8 70.9h0M131.1 89.8h0M118.8 71.4h0M129.4 77.8h0M132.3 84.9h0M131.6 88.5h0M123.0 80.2h0M125.5 82.6h0M130.1 85.5h0M122.4 77.9h0M131.8 82.5h0M126.3 79.9h0M125.6 84.3h0M132.2 85.6h0M126.1 73.2h0M122.1 70.8h0M125.6 80.4h0M119.8 70.1h0M126.2 84.1h0M128.5 83.0h0M124.3 79.1h0M121.5 79.3h0M127.0 74.5h0M133.9 88.3h0M130.5 82.5h0M129.3 81.2h0M131.3 87.2h0M129.9 80.2h0M127.0 76.9h0M120.6 66.8h0M126.2 82.0h0M115.1 67.0h0M126.2 82.1h0M127.1 80.0h0M126.9 73.2h0M128.6 82.7h0M116.0 66.2h0M126.6 77.4h0M128.2 79.7h0M134.1 88.3h0M115.9 67.1h0M131.0 80.8h0M131.6 89.9h0M119.3 72.9h0M117.1 68.3h0M124.1 76.3h0M115.8 68.8h0M126.2 85.2h0M114.6 66.9h0M132.3 85.0h0M130.8 86.6h0M120.7 74.6h0M124.2 70.3h0M123.4 77.6h0M129.6 86.5h0M135.0 89.1h0M125.7 72.3h0M130.8 86.3h0M122.7 80.0h0M121.9 77.3h0M128.7 84.5h0M127.9 84.6h0M117.7 71.1h0M118.6 71.6h0M135.2 89.5h0M124.7 81.5h0M119.7 70.0h0M132.4 88.4h0M115.3 68.1h0M128.7 79.3h0M120.2 72.5h0M123.5 71.0h0M127.2 82.8h0M122.6 69.4h0M129.9 80.9h0M131.6 81.1h0M123.3 78.8h0M116.7 68.4h0M124.4 76.8h0M132.5 82.3h0M124.5 80.2h0M127.2 83.1h0M116.7 66.2h0M126.2 79.2h0M128.5 80.7h0M122.3 76.5h0M125.6 81.1h0M126.3 74.2h0M121.3 72.3h0M121.2 77.9h0M121.0 74.7h0M128.8 84.9h0M119.8 67.7h0M130.1 83.4h0M136.7 88.2h0M130.1 83.0h0M129.2 82.7h0M135.3 85.4h0M127.4 84.9h0M125.9 76.6h0M128.4 84.6h0M135.8 89.8h0M132.0 85.6h0M134.5 90.0h0M129.8 86.5h0M118.0 73.6h0M119.3 75.9h0M131.8 87.3h0M133.6 88.5h0M132.1 85.3h0M120.3 72.0h0M132.2 88.4h0M132.9 87.8h0M119.7 76.4h0M123.6 71.2h0M129.0 80.2h0M118.1 67.3h0M119.8 66.0h0M129.9 88.6h0M131.6 89.4h0M127.6 81.4h0M122.2 78.1h0M134.0 87.8h0M119.0 74.2h0M125.1 84.0h0M127.5 85.2h0M133.9 90.9h0M128.6 76.1h0M134.5 90.2h0M121.3 70.0h0M132.8 88.6h0M125.8 81.5h0M134.0 88.7h0M127.9 85.5h0M135.4 86.8h0M130.7 80.5h0M130.5 88.3h0M128.3 85.4h0M125.8 81.3h0M134.7 89.1h0M122.1 78.9h0M132.7 82.4h0M125.8 83.2h0M120.9 77.9h0M125.4 72.5h0M127.8 87.1h0M128.6 80.1h0M120.9 73.9h0M119.0 72.6h0M130.8 84.0h0M124.5 78.2h0M131.2 86.3h0M129.4 79.7h0M118.6 70.5h0M123.6 75.5h0M130.5 88.4h0M124.6 79.1h0M127.6 75.9h0M121.1 76.3h0M118.7 72.4h0M117.9 69.0h0M126.7 80.5h0M136.2 88.1h0M128.5 80.1h0M129.2 84.1h0M135.0 88.6h0M125.3 79.8h0M127.6 76.0h0M123.5 75.2h0M133.9 87.1h0M135.9 89.7h0M132.8 85.9h0M122.3 70.5h0M122.4 68.6h0M126.4 84.9h0M126.7 83.2h0M134.2 90.7h0M134.7 91.2h0M127.7 79.0h0M124.9 80.8h0M131.5 86.3h0M124.5 78.7h0M121.5 71.5h0M121.3 74.4h0M135.4 85.7h0M126.1 74.9h0M126.2 77.5h0M127.1 85.0h0M129.6 77.4h0M120.1 69.0h0M125.3 81.7h0M126.3 83.8h0M124.4 73.8h0M130.7 88.6h0M121.5 69.6h0M119.4 75.7h0M128.9 88.0h0M126.9 73.7h0M132.2 86.2h0M117.9 66.5h0M124.8 75.3h0M129.0 86.3h0M129.0 79.7h0M122.0 75.2h0M120.3 66.9h0M124.5 75.8h0M132.6 85.0h0M136.2 87.7h0M125.3 81.4h0M145.6 89.7h0M137.7 90.9h0M143.4 79.2h0M136.6 90.6h0M134.8 81.5h0M145.1 81.2h0M144.9 79.2h0M136.5 83.0h0M135.4 81.0h0M134.0 81.7h0M145.4 80.9h0M148.9 87.2h0M141.1 84.2h0M139.9 83.9h0M137.5 78.7h0M140.4 83.1h0M141.0 77.8h0M145.1 81.4h0M138.8 79.9h0M136.8 90.7h0M139.4 85.8h0M138.9 77.6h0M137.4 82.2h0M133.7 78.1h0M135.5 81.2h0M144.7 90.7h0M140.1 85.9h0M143.8 90.0h0M142.7 77.9h0M145.9 89.6h0M141.1 83.4h0M140.1 89.1h0M144.8 88.2h0M140.5 90.5h0M144.1 83.5h0M141.0 90.4h0M136.1 90.4h0M138.6 87.2h0M146.4 89.8h0M134.7 83.2h0M134.8 85.2h0M145.5 89.5h0M132.6 81.0h0M139.1 90.4h0M146.6 82.8h0M137.7 87.2h0M133.4 84.1h0M140.6 79.6h0M141.7 82.1h0M133.6 84.7h0M144.2 82.6h0M134.5 80.3h0M147.8 84.3h0M138.0 78.5h0M146.0 84.5h0M133.9 82.8h0M147.8 84.6h0M144.4 84.0h0M132.7 80.5h0M146.7 81.5h0M140.7 89.9h0M136.2 84.6h0M140.9 91.4h0M134.9 87.0h0M107.8 61.1h0M99.9 58.8h0M97.2 60.2h0M109.4 58.1h0M100.7 59.4h0M105.6 59.5h0M106.9 62.0h0M106.8 62.1h0M102.9 60.1h0M107.8 59.7h0" stroke="#00BFC4" stroke-width="0.75" stroke-linecap="square" fill="none"/>
<path d="M83.1 57.6h0M78.7 53.5h0M81.6 57.3h0M76.6 50.5h0M73.8 45.5h0M82.6 53.3h0M77.1 43.8h0M74.8 55.5h0M79.9 55.3h0M80.8 54.1h0M74.8 48.4h0M84.9 53.2h0M79.5 46.2h0M73.1 47.4h0M83.6 51.0h0M96.0 48.7h0M92.6 49.6h0M94.0 51.5h0M92.5 61.4h0M98.2 55.0h0M99.0 51.0h0M89.1 53.0h0M88.1 60.1h0M93.0 48.4h0M101.1 56.9h0M94.2 45.7h0M94.0 57.5h0M95.8 57.0h0M92.7 47.3h0M94.5 50.8h0M98.7 50.9h0M100.3 59.7h0M91.7 60.6h0M99.4 56.9h0M91.9 60.7h0M89.9 59.7h0M89.7 53.6h0M89.2 54.8h0M89.4 60.4h0M89.7 57.0h0M90.6 57.4h0M90.2 56.2h0M92.2 57.1h0M92.1 60.2h0M90.7 59.3h0M89.4 53.5h0M89.6 56.9h0M91.9 57.9h0M91.7 55.7h0M95.7 70.5h0M95.4 71.2h0M92.1 72.9h0M92.8 67.1h0M91.0 73.5h0M115.5 78.3h0M109.8 85.3h0M112.5 85.1h0M106.9 76.5h0M107.2 79.2h0M115.2 80.2h0M115.8 93.1h0M107.7 90.6h0M103.2 89.9h0M97.7 85.5h0M86.1 86.7h0M87.7 87.8h0M106.6 65.4h0M112.5 67.9h0M110.1 66.7h0M109.1 67.3h0M105.6 68.7h0M105.2 66.5h0" stroke="#9590FF" stroke-width="0.75" stroke-linecap="square" fill="none"/>
<path d="M80.4 58.0h0M78.7 44.5h0M72.2 46.4h0M81.5 46.0h0M77.0 58.8h0M77.4 46.3h0M79.3 54.7h0M82.2 48.0h0M75.7 49.1h0M79.2 47.0h0M79.8 53.9h0M77.5 54.4h0M84.1 46.9h0M83.0 48.3h0M78.4 48.0h0M78.9 59.0h0M62.3 57.2h0M62.4 47.9h0M63.0 47.1h0M62.4 57.2h0M65.0 53.1h0M62.3 51.6h0M60.2 56.7h0M65.1 50.5h0M63.7 50.2h0M57.1 54.5h0M65.5 54.3h0M61.3 54.9h0M58.6 55.3h0M59.7 49.2h0M63.6 52.7h0M64.8 56.7h0M56.8 54.0h0" stroke="#35A2FF" stroke-width="0.75" stroke-linecap="square" fill="none"/>
<path d="M73.3 50.8h0M73.5 52.8h0M80.7 56.0h0M75.3 58.4h0M77.9 51.9h0M82.7 53.9h0M82.2 54.2h0M74.9 52.8h0M81.5 50.0h0M83.4 58.7h0M86.4 51.6h0M75.3 44.8h0M85.3 55.2h0M75.7 47.9h0M58.3 56.9h0M60.2 57.2h0M61.8 47.1h0M64.6 47.3h0M62.2 46.3h0M62.5 48.4h0M65.3 49.0h0M62.9 56.8h0M61.9 56.1h0M57.3 54.7h0M65.7 50.3h0M59.5 55.1h0M60.3 48.1h0M63.2 51.6h0M57.6 51.4h0M63.6 49.8h0M65.1 54.6h0M60.2 56.1h0" stroke="#00B0F6" stroke-width="0.75" stroke-linecap="square" fill="none"/>
<path d="M106.3 37.0h0M110.9 54.6h0M105.4 44.0h0M105.1 50.9h0M110.0 51.5h0M102.8 37.2h0M105.5 53.8h0M106.6 50.8h0M110.7 57.1h0M102.2 49.4h0M109.7 56.2h0M106.2 45.7h0M105.5 55.2h0M102.5 42.0h0M104.5 47.4h0M104.4 33.2h0M103.0 47.3h0M104.2 56.7h0M108.9 50.0h0M108.6 57.3h0M106.6 51.0h0M105.4 31.0h0M103.7 39.4h0M106.6 54.4h0M103.0 46.8h0M104.8 34.7h0M104.3 30.4h0M105.5 31.2h0M105.4 56.8h0M102.1 53.6h0M102.2 55.6h0M105.8 57.1h0M101.6 43.8h0M105.0 52.1h0M105.1 44.6h0M102.0 55.5h0M110.7 55.0h0M106.5 44.2h0M104.6 41.5h0M106.7 56.0h0M103.8 46.5h0M106.0 33.9h0M106.0 40.6h0M112.1 53.4h0M103.0 46.7h0M108.1 48.6h0M104.9 31.8h0M109.4 44.7h0M105.6 53.6h0M112.1 53.9h0M103.3 42.6h0M105.4 44.7h0M106.1 46.5h0M103.5 40.2h0M102.4 55.8h0M112.2 50.0h0M107.1 46.5h0M108.5 48.2h0M108.4 50.0h0M101.6 43.3h0M106.6 31.5h0M102.7 44.2h0M105.8 52.1h0M102.0 42.6h0M104.4 45.3h0M112.7 53.7h0M104.9 33.3h0M109.8 50.3h0M106.0 53.3h0M104.4 32.9h0M106.8 47.2h0M107.4 43.3h0M106.6 55.6h0M111.0 54.5h0M103.1 53.3h0M103.4 43.6h0M106.2 53.6h0M107.5 57.6h0M109.3 46.0h0M107.2 56.3h0M105.7 47.8h0M107.2 49.4h0M109.2 52.5h0M109.2 48.9h0M109.9 56.0h0M106.3 48.2h0M106.7 47.8h0M103.0 45.7h0M108.3 47.4h0M110.0 56.1h0M104.6 51.9h0M103.4 36.7h0" stroke="#00BAE0" stroke-width="0.75" stroke-linecap="square" fill="none"/>
<path d="M88.3 45.5h0M97.0 53.9h0M94.7 60.7h0M86.6 48.4h0M97.6 51.5h0M97.5 57.6h0M88.1 45.6h0M86.9 47.5h0M87.1 59.4h0M98.2 52.6h0M98.2 56.0h0M89.1 54.9h0M89.0 57.2h0M88.9 57.4h0M90.5 57.3h0M90.2 58.2h0M91.8 56.1h0M89.2 57.9h0M89.7 58.1h0M90.2 57.1h0M91.4 54.3h0M91.1 59.0h0M88.7 54.6h0M92.3 57.7h0M89.4 54.0h0M91.4 56.5h0M91.2 53.2h0M91.4 58.2h0M90.3 54.4h0M92.3 58.6h0M91.7 55.7h0M91.1 57.0h0M89.2 56.9h0M90.5 55.1h0M92.1 60.9h0M90.2 57.0h0" stroke="#C77CFF" stroke-width="0.75" stroke-linecap="square" fill="none"/>
<path d="M64.5 186.8h0M75.0 182.8h0M80.0 180.8h0M77.1 182.8h0M51.7 180.3h0M49.3 183.2h0M51.4 186.2h0M63.5 179.8h0M67.7 186.5h0M46.0 185.2h0M67.4 185.3h0M68.1 189.2h0M59.5 192.2h0M47.2 186.0h0M60.3 183.2h0M79.0 187.7h0M50.5 192.2h0M47.5 191.1h0M63.1 184.9h0M66.7 181.4h0M73.7 187.5h0M64.2 184.9h0M68.1 179.5h0M77.2 187.7h0M75.7 179.9h0M44.8 186.3h0M67.5 184.9h0M74.2 180.6h0M54.9 189.2h0M61.3 189.7h0M65.2 183.3h0M75.9 185.4h0M69.3 179.0h0M66.8 186.7h0M51.1 189.8h0M52.3 190.3h0M59.9 187.1h0M70.3 189.4h0M78.9 176.6h0M59.2 190.4h0M47.9 189.7h0M59.7 176.5h0M62.8 181.4h0M80.8 186.4h0M78.1 183.6h0M47.0 190.3h0M50.5 188.3h0M79.7 183.3h0M60.4 183.2h0M66.8 189.8h0M53.7 184.5h0M75.0 177.2h0M52.0 192.4h0M73.6 189.6h0M50.0 190.2h0M73.9 179.3h0M55.1 180.9h0M76.9 176.2h0M48.5 199.6h0M80.0 189.7h0M59.4 204.1h0M66.4 204.5h0M69.2 197.1h0M66.5 193.1h0M66.9 205.1h0M66.8 200.3h0M47.2 204.2h0M56.7 200.4h0M79.0 198.1h0M65.9 203.4h0M52.4 203.6h0M77.3 202.5h0M76.5 206.3h0M74.3 201.1h0M53.5 201.0h0M44.0 203.6h0M74.3 198.8h0M55.3 202.7h0M52.4 206.5h0M59.7 204.9h0M77.2 193.6h0M65.3 205.7h0M47.2 197.4h0M42.0 192.8h0M69.1 192.3h0M45.5 200.4h0M58.8 198.5h0M76.1 199.6h0M42.5 195.1h0M79.8 189.9h0M64.2 193.2h0M71.2 191.6h0M55.9 197.9h0M56.0 199.3h0M61.3 199.7h0M56.1 203.0h0M55.1 195.5h0M50.5 204.6h0M64.6 195.0h0M51.5 194.7h0M64.3 199.9h0M66.7 197.6h0M68.8 191.7h0M56.7 201.2h0M48.9 196.8h0M44.1 199.1h0M56.6 203.7h0M74.1 200.7h0M78.8 190.0h0M51.3 195.3h0M53.6 198.4h0M60.8 203.8h0M77.4 195.1h0M77.3 194.2h0M74.3 196.4h0M73.3 199.6h0M70.5 203.0h0M59.8 194.9h0M59.9 198.9h0M42.5 191.8h0M72.3 206.2h0M52.3 203.9h0M66.6 202.0h0M71.0 192.1h0M67.9 206.2h0M68.7 202.9h0M70.3 206.3h0M45.4 204.6h0M65.6 192.1h0M68.4 192.9h0M60.2 200.7h0M67.5 193.6h0M50.6 201.9h0M51.8 203.1h0M54.8 200.2h0M79.2 193.2h0M51.0 204.7h0M53.8 200.2h0M74.6 196.7h0M50.7 200.8h0M78.1 200.7h0M68.5 197.9h0M46.7 195.3h0M67.4 191.5h0M48.3 205.7h0M49.9 206.6h0M75.2 206.6h0M75.4 199.8h0M70.1 196.0h0M48.0 203.6h0M48.4 200.1h0M63.3 204.6h0M77.1 199.5h0M44.3 205.7h0M58.4 197.6h0M58.0 195.2h0M53.3 199.3h0M63.4 202.2h0M44.3 196.4h0M52.0 205.0h0M43.8 195.2h0M80.6 203.5h0M67.0 206.5h0M61.5 201.0h0M43.3 203.9h0M62.9 201.4h0M44.0 206.3h0M56.4 196.0h0M73.4 190.5h0M62.4 197.1h0M53.4 199.2h0M69.6 199.1h0M59.7 204.9h0M47.7 200.2h0M46.2 195.1h0M54.0 194.8h0M69.2 203.1h0M45.5 204.2h0M68.8 203.3h0M61.6 193.3h0M49.1 196.0h0M77.6 197.5h0M65.4 203.2h0M65.4 203.3h0M72.5 202.4h0M73.5 201.9h0M67.3 204.9h0M70.5 197.5h0M43.8 200.3h0M45.1 198.0h0M63.2 205.4h0M69.9 195.0h0M55.2 200.3h0M48.5 197.6h0M54.1 198.9h0M44.5 193.9h0M69.7 197.3h0M50.6 197.9h0M64.4 199.1h0M70.1 191.3h0M61.4 199.1h0M52.1 202.7h0M44.2 203.6h0M67.0 201.8h0M75.6 200.0h0M45.2 205.3h0M67.5 201.2h0M73.8 202.2h0M77.3 204.9h0M54.0 200.7h0M46.7 206.8h0M73.2 195.0h0M60.7 193.9h0M65.1 195.0h0M44.0 193.8h0M76.2 199.5h0M58.5 200.7h0M76.8 195.3h0M96.4 158.3h0M101.0 155.9h0M104.3 155.3h0M104.0 151.3h0M103.0 150.6h0M94.0 160.5h0M106.2 157.9h0M102.5 148.1h0M97.0 149.4h0M98.4 152.1h0M105.5 148.8h0M100.3 158.3h0M104.1 153.1h0M109.5 150.0h0M108.5 153.5h0M105.5 152.2h0M110.5 154.0h0M103.7 148.5h0M99.6 154.2h0M102.2 150.9h0M102.7 158.2h0M100.4 150.8h0M94.8 172.0h0M95.6 164.4h0M94.3 159.2h0M95.9 176.6h0M95.0 165.4h0M94.8 170.3h0M96.1 159.7h0M96.1 161.9h0M97.3 168.4h0M95.0 165.9h0M96.2 167.1h0M111.2 162.0h0M114.7 168.0h0M116.3 174.3h0M111.6 166.7h0M116.2 179.5h0M114.0 163.4h0M114.1 179.1h0M109.2 158.6h0M117.0 180.9h0M114.5 166.1h0M113.6 173.9h0M115.2 166.0h0M116.4 166.6h0M111.2 160.0h0M117.4 173.6h0M100.5 174.3h0M107.7 167.5h0M109.3 164.8h0M99.2 174.2h0M108.0 159.9h0M112.2 178.7h0M107.9 171.8h0M102.9 165.7h0M99.6 166.6h0M103.7 170.3h0M111.9 178.3h0M102.7 167.5h0M110.4 172.7h0M108.1 168.4h0M105.5 169.0h0M106.7 174.6h0M108.0 176.1h0M107.5 158.4h0M125.0 168.5h0M129.2 176.2h0M119.2 165.3h0M129.9 171.3h0M119.8 160.1h0M125.8 169.8h0M127.7 165.8h0M121.4 166.8h0M127.2 162.2h0M129.2 172.8h0M120.7 172.2h0M124.0 168.3h0M128.7 176.1h0M130.5 178.6h0M130.2 178.4h0M123.7 161.1h0M121.0 180.0h0M122.2 171.9h0M124.9 182.9h0M141.1 180.0h0M148.0 176.7h0M137.9 175.8h0M138.7 182.8h0M130.5 175.9h0M149.7 177.1h0M146.5 177.2h0M138.4 181.9h0M131.3 172.5h0M135.5 181.6h0M148.9 178.4h0M147.2 173.1h0M135.6 174.0h0M138.0 173.3h0M148.2 175.7h0M133.7 172.8h0M144.7 173.1h0M147.8 174.6h0M148.4 177.1h0M133.7 174.2h0M130.5 180.9h0M133.8 182.4h0M147.4 174.1h0M140.9 172.5h0M134.4 176.7h0M134.5 178.8h0M143.3 182.1h0M145.5 174.2h0M131.2 174.1h0M147.2 174.8h0M138.1 177.3h0M141.0 175.4h0M148.4 179.5h0M151.4 176.5h0M136.0 178.4h0M145.9 179.2h0M137.1 177.0h0M135.0 181.8h0M147.6 175.8h0M133.0 181.6h0M137.1 176.3h0M133.9 175.6h0M148.6 174.9h0M131.1 176.7h0M134.4 175.8h0M141.6 181.8h0M141.2 177.0h0M137.8 181.1h0M136.0 173.4h0M144.9 176.3h0M143.2 177.4h0M147.0 181.4h0M145.0 177.8h0M139.9 174.6h0M142.8 179.5h0M131.5 181.5h0M134.9 180.3h0M142.1 174.4h0M144.3 178.5h0M148.4 174.9h0M131.8 175.3h0M138.9 174.8h0M130.5 179.8h0M147.2 179.6h0M137.1 174.7h0M152.7 176.2h0M130.6 178.8h0M137.1 172.4h0M145.5 172.0h0M144.3 177.2h0M138.8 181.2h0M148.7 178.2h0M146.6 177.7h0M142.2 175.3h0M150.2 173.0h0M130.5 178.9h0M142.9 175.2h0M150.0 175.7h0M141.6 173.3h0M148.4 174.6h0M144.2 172.1h0M145.7 173.7h0M145.6 180.4h0M142.4 181.1h0M143.1 179.1h0M150.9 179.1h0M137.8 181.6h0M136.9 180.4h0M144.5 173.4h0M131.5 177.9h0M139.7 175.0h0M135.6 173.7h0M150.8 176.4h0M107.3 219.0h0M110.0 208.1h0M104.0 204.9h0M114.8 217.8h0M113.0 208.7h0M100.1 186.2h0M133.9 222.5h0M128.2 225.4h0M130.4 190.9h0M108.0 221.3h0M122.2 185.3h0M106.0 187.8h0M128.8 196.1h0M116.4 195.4h0M102.5 189.2h0M96.9 185.9h0M114.2 220.7h0M101.2 188.7h0M118.5 201.1h0M125.8 190.5h0M119.9 184.8h0M109.9 198.9h0M141.0 218.9h0M132.1 218.5h0M135.1 228.6h0M111.4 204.1h0M132.8 200.2h0M121.3 223.2h0M111.0 183.1h0M100.3 197.5h0M118.4 215.8h0M117.6 193.0h0M120.4 207.2h0M127.7 211.3h0M103.0 200.7h0M106.4 203.8h0M120.6 226.6h0M107.8 185.5h0M105.6 213.4h0M102.9 186.6h0M100.4 184.5h0M115.5 213.9h0M100.7 191.8h0M113.1 214.5h0M120.7 193.3h0M97.5 184.9h0M105.1 205.3h0M145.8 223.0h0M131.9 231.6h0M112.7 218.0h0M109.2 206.4h0M112.6 223.3h0M105.8 182.9h0M112.2 196.6h0M126.9 188.2h0M128.9 225.0h0M136.1 232.6h0M134.5 226.9h0M117.0 200.5h0M125.1 194.8h0M143.1 214.4h0M99.4 211.8h0M145.1 228.4h0M106.9 182.7h0M139.8 224.5h0M117.4 189.0h0M143.0 215.4h0M117.1 210.2h0M113.7 189.7h0M107.2 211.1h0M111.0 189.2h0M121.0 195.0h0M113.3 209.8h0M122.8 225.3h0M99.3 209.0h0M124.2 230.6h0M127.6 202.7h0M142.9 224.4h0M98.6 193.1h0M98.8 208.4h0M106.0 200.9h0M134.7 199.3h0M140.0 228.5h0M138.6 209.8h0M132.0 225.6h0M135.3 228.7h0M142.0 226.3h0M99.8 210.9h0M141.5 219.8h0M109.6 190.6h0M110.2 194.5h0M129.2 217.5h0M142.2 226.3h0M104.3 183.1h0M121.2 230.8h0M101.0 201.5h0M129.0 219.7h0M100.3 204.0h0M107.7 201.8h0M146.3 228.6h0M109.4 211.0h0M117.9 190.8h0M104.1 201.3h0M101.9 209.6h0M129.8 223.7h0M127.2 197.8h0M140.9 216.6h0M139.0 222.5h0M139.7 218.2h0M100.4 213.9h0M131.2 219.9h0M130.8 188.5h0M143.0 230.6h0M133.3 221.8h0M110.6 193.7h0M145.7 222.2h0M100.4 211.7h0M137.2 207.7h0M125.1 192.7h0M100.8 205.3h0M129.7 188.9h0M117.5 188.0h0M113.5 213.7h0M105.4 190.2h0M124.1 229.6h0M117.7 191.0h0M115.4 203.9h0M131.0 191.4h0M111.4 182.9h0M137.5 204.6h0M127.9 221.3h0M135.5 218.8h0M124.5 214.0h0M126.1 197.5h0M130.4 195.3h0M138.6 227.4h0M112.2 221.4h0M123.3 184.6h0M146.8 220.8h0M122.6 227.1h0M103.0 207.8h0M103.1 204.8h0M119.0 188.3h0M140.0 217.3h0M112.1 211.4h0M107.7 210.3h0M120.3 229.1h0M110.5 189.7h0M140.1 230.6h0M99.0 200.9h0M139.3 231.6h0M101.6 184.9h0M124.2 208.3h0M144.3 222.3h0M147.3 220.9h0M108.4 206.3h0M107.6 197.5h0M119.2 204.6h0M109.8 215.7h0M140.4 222.5h0M128.6 223.5h0M107.0 213.4h0M132.0 225.3h0M135.3 217.9h0M108.4 223.4h0M108.5 195.9h0M139.8 211.9h0M112.4 222.4h0M101.7 200.8h0M128.7 188.5h0M146.5 220.6h0M138.7 221.4h0M111.4 214.2h0M116.2 211.9h0M125.9 197.0h0M139.6 226.7h0M130.2 231.7h0M134.2 224.2h0M106.7 207.5h0M107.4 190.7h0M134.1 223.1h0M124.3 185.3h0M102.0 214.6h0M98.9 207.2h0M136.8 207.2h0M104.7 207.2h0M126.6 207.7h0M104.3 217.1h0M124.5 188.1h0M122.8 188.0h0M133.1 195.7h0M142.0 222.3h0M113.1 213.1h0M125.0 217.1h0M103.4 203.6h0M102.0 184.0h0M118.9 207.7h0M103.1 190.3h0M116.1 214.0h0M131.6 224.2h0M137.6 230.9h0M132.0 221.9h0M117.1 189.4h0M113.0 185.4h0M129.3 225.3h0M106.0 211.7h0M140.3 219.1h0M110.6 200.0h0M146.9 218.5h0M106.3 192.4h0M99.8 191.8h0M122.3 205.3h0M109.2 187.4h0M120.1 218.7h0M107.1 198.5h0M139.7 219.0h0M120.0 208.3h0M109.7 221.8h0M138.2 220.5h0M140.3 208.9h0M135.6 211.8h0M98.6 210.3h0M144.6 221.3h0M141.6 216.5h0M142.8 220.2h0M124.1 219.3h0M116.9 183.3h0M102.9 195.0h0M107.4 185.0h0M132.7 209.8h0M108.4 222.5h0M133.5 229.5h0M125.1 192.9h0M112.4 204.1h0M111.5 215.6h0M102.2 187.5h0M126.2 193.8h0M99.6 201.2h0M98.8 183.9h0M111.7 201.7h0M119.5 226.0h0M142.0 216.8h0M137.1 219.8h0M131.7 194.0h0M124.5 187.6h0M130.9 224.5h0M141.6 214.5h0M140.2 229.4h0M118.9 221.0h0M110.7 213.2h0M128.0 189.6h0M100.7 191.9h0M127.7 224.0h0M113.5 189.2h0M128.1 232.3h0M118.7 227.4h0M112.5 184.0h0M105.8 184.8h0M102.1 215.3h0M128.4 220.6h0M112.3 217.0h0M115.8 189.1h0M139.4 227.2h0M136.7 231.5h0M128.3 225.0h0M139.7 217.3h0M114.0 226.2h0M131.6 213.6h0M137.6 232.1h0M103.9 198.3h0M139.9 225.5h0M126.1 220.2h0M136.0 221.6h0M98.9 202.9h0M125.4 225.5h0M99.4 210.3h0M113.7 192.8h0M102.6 211.0h0M109.4 214.7h0M131.3 201.5h0M115.3 212.1h0M108.6 212.1h0M119.1 226.3h0M111.6 183.7h0M140.9 230.7h0M106.1 193.4h0M101.0 185.7h0M110.7 204.1h0M99.8 210.5h0M110.3 198.2h0M115.3 195.2h0M119.8 192.4h0M103.4 216.7h0M97.8 197.3h0M112.0 219.5h0M110.6 215.3h0M131.8 215.0h0M108.1 194.8h0M126.6 206.8h0M136.0 214.5h0M124.8 187.7h0M113.3 221.2h0M101.7 196.6h0M114.5 183.6h0M144.9 225.7h0M116.4 193.8h0M139.7 224.7h0M117.8 196.4h0M113.3 225.4h0M103.8 191.2h0M130.1 207.0h0M119.2 205.1h0M110.4 217.5h0M106.9 216.6h0M114.5 223.0h0M113.2 213.5h0M103.2 207.0h0M128.2 185.4h0M122.7 193.3h0M120.0 230.7h0M117.7 192.4h0M138.3 225.5h0M127.4 227.6h0M144.3 221.9h0M103.0 200.4h0M145.1 227.2h0M127.4 197.0h0M121.7 185.6h0M115.8 220.7h0M112.5 188.5h0M116.1 213.8h0M122.1 184.5h0M146.3 218.3h0M116.3 183.5h0M109.2 197.0h0M102.4 188.7h0M133.3 198.6h0M131.7 221.2h0M114.7 194.3h0M108.0 192.7h0M109.8 194.3h0M132.6 202.2h0M112.0 225.0h0M111.6 186.8h0M138.7 229.4h0M125.2 208.5h0M134.1 200.8h0M105.1 196.1h0M123.4 210.9h0M116.7 196.0h0M132.9 206.4h0M119.3 222.3h0M110.5 197.1h0M109.6 205.9h0M131.9 230.2h0M131.2 194.7h0M105.0 217.7h0M123.1 201.1h0M133.7 206.4h0M146.0 220.5h0M131.3 204.8h0M102.9 190.0h0M111.3 207.6h0M138.8 218.6h0M142.9 220.1h0M123.2 199.4h0M133.8 203.7h0M139.9 217.0h0M111.3 191.6h0M130.0 226.2h0M118.8 196.0h0M113.3 219.0h0M110.4 201.9h0M112.7 208.0h0M124.7 209.1h0M105.8 201.2h0M113.8 191.4h0M120.0 198.6h0M138.7 221.7h0M129.7 217.1h0M122.0 228.5h0M145.7 229.8h0M139.6 213.1h0M114.0 217.2h0M108.4 189.5h0M115.0 217.1h0M119.0 183.0h0M118.3 194.5h0M109.0 216.3h0M102.3 198.3h0M143.0 214.1h0M127.9 208.5h0M98.3 202.8h0M117.1 197.8h0M125.3 198.5h0M97.9 187.5h0M114.4 205.6h0M121.7 231.7h0M127.6 227.4h0M118.9 229.6h0M140.2 213.6h0M111.2 200.8h0M107.1 193.9h0M124.4 224.9h0M121.7 217.5h0M143.1 224.0h0M115.0 208.2h0M129.0 206.4h0M109.5 218.4h0M103.1 183.7h0M129.5 191.7h0M137.5 223.8h0M130.1 228.8h0M128.0 223.3h0M116.7 195.2h0M98.6 192.8h0M123.3 191.6h0M131.5 199.9h0M111.9 218.1h0M117.6 191.3h0M129.9 222.5h0M123.2 184.2h0M142.8 230.5h0M98.9 202.7h0M144.9 218.1h0M112.1 218.4h0M110.6 192.5h0M125.2 190.3h0M108.1 198.8h0M116.0 227.4h0M99.6 192.2h0M102.8 186.0h0M104.6 187.3h0M122.4 182.5h0M112.4 183.4h0M107.0 190.5h0M110.5 184.8h0M114.7 183.7h0M114.6 185.1h0M124.9 186.6h0M124.1 187.4h0M100.1 186.1h0M111.8 189.3h0M126.4 184.9h0M101.9 191.1h0M109.2 185.9h0M115.4 185.9h0M121.3 187.9h0M116.4 182.2h0M97.9 187.3h0M103.2 184.4h0M119.3 185.2h0M119.9 188.4h0M115.5 186.8h0M98.0 184.6h0M103.9 186.9h0M99.0 185.3h0M105.6 185.4h0M109.2 187.7h0M106.6 181.9h0M108.7 188.9h0M107.1 187.3h0M105.0 189.0h0M116.9 189.3h0M119.7 187.7h0M114.4 190.1h0M109.1 185.4h0M118.9 184.9h0M104.6 187.7h0M122.0 184.3h0M100.2 200.2h0M99.5 201.6h0M100.1 200.9h0M98.1 199.8h0M97.5 192.1h0M101.1 199.1h0M98.7 195.3h0M101.0 202.5h0M97.9 203.1h0M98.6 202.6h0M99.6 208.1h0M97.1 198.9h0M100.9 198.3h0M100.1 193.2h0M97.8 195.3h0M98.5 208.3h0M98.4 196.8h0M100.2 209.6h0M101.5 200.8h0M98.5 201.2h0M101.9 203.8h0M100.8 201.5h0M141.1 225.7h0M141.3 216.5h0M139.9 210.4h0M133.9 225.5h0M139.6 216.6h0M133.7 224.7h0M137.3 227.5h0M139.0 230.3h0M146.6 225.8h0M128.5 231.8h0M140.7 228.0h0M141.8 222.4h0M141.4 222.2h0M145.8 228.9h0M138.7 208.3h0M137.3 223.2h0M143.1 216.2h0M136.7 224.4h0M146.1 226.6h0M136.6 231.4h0M143.6 228.8h0M137.9 232.0h0M126.9 230.8h0M138.8 210.1h0M133.3 232.3h0M137.6 229.6h0M145.1 218.4h0M141.4 215.7h0M139.2 214.0h0M141.7 225.8h0M138.5 214.0h0M140.2 217.4h0M131.9 228.5h0M138.9 228.0h0M137.0 224.9h0M141.9 220.8h0M139.6 209.6h0M143.0 212.6h0M136.1 223.8h0M141.0 216.4h0M139.2 227.0h0M140.5 213.4h0M142.7 216.6h0M144.8 217.3h0M137.9 208.9h0M126.6 231.0h0M141.5 212.2h0M141.7 218.4h0M141.0 223.1h0M137.2 208.6h0M147.0 226.6h0M139.6 227.0h0M135.6 229.2h0M145.2 228.0h0M135.0 231.6h0M145.4 216.9h0M139.2 209.8h0M141.1 218.2h0M141.8 216.7h0M140.9 211.0h0M145.0 225.8h0M126.3 231.8h0M145.8 218.6h0M142.3 224.9h0M139.0 226.6h0M143.3 222.4h0M127.9 232.1h0M132.2 228.2h0M132.8 225.1h0M134.6 232.1h0M137.9 212.9h0M130.2 226.5h0M135.4 228.7h0M142.8 228.9h0M131.1 231.7h0M139.4 218.8h0M147.6 221.5h0M142.5 217.9h0M127.6 230.3h0M135.3 224.6h0M143.0 223.4h0M147.6 221.8h0M128.7 230.5h0M147.9 223.7h0M143.4 221.6h0M139.6 210.4h0M138.0 232.0h0M128.7 229.3h0M141.7 213.7h0M140.7 230.2h0M135.1 224.5h0M136.4 206.7h0M132.5 225.3h0M138.6 213.0h0M139.4 214.3h0M130.4 230.0h0M141.0 213.0h0M142.1 217.4h0M136.8 228.7h0M137.8 223.9h0M143.1 214.9h0M135.8 230.0h0M140.0 218.7h0M137.5 230.5h0M145.3 219.1h0M141.3 223.4h0M133.6 232.3h0M144.4 223.6h0M140.8 223.0h0M132.8 227.9h0M141.7 218.4h0M136.0 227.0h0M132.8 226.6h0M139.2 217.3h0M144.8 216.5h0M86.4 202.4h0M90.1 205.6h0M85.5 203.0h0M90.6 206.7h0M92.7 205.1h0M90.5 205.7h0M87.8 205.9h0M84.5 204.4h0M88.7 203.6h0M85.9 206.2h0M86.6 206.6h0M88.0 205.3h0M84.1 203.1h0M93.4 204.0h0" stroke="#F8766D" stroke-width="0.85" stroke-linecap="square" fill="none"/>
<path d="M52.7 187.1h0M62.8 183.1h0M79.8 175.7h0M79.3 182.4h0M52.9 188.7h0M47.0 184.6h0M53.7 190.6h0M58.3 180.5h0M70.3 189.0h0M58.7 192.4h0M46.8 193.8h0M64.9 187.8h0M67.8 174.8h0M55.7 189.8h0M80.0 181.7h0M52.1 183.5h0M61.5 179.5h0M58.3 187.1h0M81.0 179.4h0M69.7 182.9h0M67.5 176.1h0M58.2 182.6h0M45.0 186.2h0M69.6 179.3h0M56.0 189.0h0M45.3 191.5h0M47.4 194.0h0M71.6 175.8h0M54.8 184.1h0M65.3 190.6h0M54.8 191.2h0M59.3 187.7h0M66.8 174.8h0M54.9 190.3h0M57.3 181.7h0M72.2 176.7h0M77.8 176.7h0M73.1 175.6h0M63.1 175.7h0M60.5 184.3h0M70.0 206.7h0M81.0 204.0h0M54.4 198.5h0M60.8 195.8h0M70.5 205.0h0M44.0 193.8h0M79.4 202.1h0M66.8 196.9h0M63.8 195.3h0M42.1 194.4h0M73.2 195.6h0M52.3 206.2h0M51.7 206.3h0M84.0 204.9h0M61.6 200.6h0M44.5 196.3h0M68.9 192.0h0M69.8 198.7h0M71.8 196.6h0M55.9 204.4h0M62.1 201.0h0M67.6 206.7h0M61.2 194.8h0M51.1 203.5h0M66.8 199.2h0M52.1 206.1h0M50.3 201.2h0M60.7 198.7h0M75.5 204.2h0M71.0 205.9h0M54.5 195.7h0M77.7 200.4h0M57.6 194.5h0M65.2 201.8h0M48.9 195.9h0M76.1 199.4h0M78.0 198.7h0M43.1 199.0h0M65.7 205.6h0M51.0 206.9h0M66.1 199.2h0M68.3 192.8h0M59.7 204.7h0M63.6 195.0h0M75.0 198.5h0M71.5 195.5h0M56.3 197.5h0M44.0 197.1h0M78.3 198.4h0M57.5 197.7h0M49.2 194.5h0M60.2 195.0h0M42.9 201.7h0M75.3 199.2h0M57.4 197.5h0M79.6 190.4h0M78.1 198.7h0M76.7 202.4h0M77.4 191.1h0M69.0 194.1h0M48.6 195.2h0M45.5 202.2h0M59.5 203.1h0M74.6 205.6h0M78.1 203.4h0M74.2 203.4h0M53.1 203.2h0M46.8 208.9h0M42.4 192.8h0M80.3 205.5h0M67.2 200.6h0M53.8 196.6h0M69.0 201.0h0M60.0 196.3h0M46.3 198.4h0M72.0 206.2h0M78.6 191.7h0M75.2 204.1h0M67.5 195.8h0M49.1 198.6h0M77.1 195.7h0M66.6 203.0h0M51.0 204.4h0M54.5 194.2h0M51.3 194.6h0M44.5 193.8h0M57.9 197.2h0M43.6 192.8h0M43.1 201.3h0M72.4 192.5h0M62.6 202.6h0M59.4 197.4h0M77.8 191.4h0M77.5 196.4h0M54.3 199.7h0M44.1 207.0h0M69.1 201.5h0M45.5 207.5h0M43.1 196.6h0M58.4 194.4h0M71.0 207.0h0M76.7 190.8h0M68.8 198.9h0M78.7 203.7h0M69.9 191.9h0M53.8 202.3h0M85.0 205.2h0M49.4 207.9h0M51.2 197.5h0M71.6 204.4h0M64.6 202.0h0M56.8 200.6h0M70.7 205.5h0M64.6 205.5h0M54.5 201.1h0M46.6 203.1h0M54.9 194.3h0M54.6 199.2h0M78.5 205.6h0M79.7 195.9h0M67.8 204.2h0M60.0 203.5h0M64.7 196.4h0M73.9 195.3h0M60.1 195.2h0M48.7 203.6h0M67.8 196.6h0M69.3 199.5h0M48.5 207.1h0M69.6 192.6h0M55.9 202.6h0M58.3 204.0h0M50.2 195.8h0M83.7 205.5h0M44.2 206.0h0M43.3 194.1h0M76.4 204.1h0M48.2 197.4h0M60.4 193.8h0M74.9 195.4h0M42.8 195.6h0M70.2 203.6h0M77.8 203.3h0M54.4 203.0h0M68.1 201.7h0M47.5 196.5h0M59.9 202.1h0M71.7 203.2h0M71.4 197.6h0M73.2 195.6h0M79.1 193.9h0M70.9 201.4h0M60.5 194.6h0M73.6 190.4h0M46.9 208.5h0M52.7 203.6h0M70.8 197.1h0M57.7 204.5h0M69.1 196.9h0M75.5 190.5h0M73.2 205.2h0M61.9 197.6h0M51.3 197.9h0M53.1 200.6h0M73.2 204.2h0M80.5 206.6h0M58.4 202.3h0M78.2 189.8h0M67.6 204.1h0M78.5 201.4h0M96.3 161.3h0M97.2 161.5h0M95.7 163.4h0M94.1 163.6h0M94.4 170.7h0M98.6 172.3h0M97.5 168.4h0M96.7 169.4h0M96.4 168.1h0M96.0 175.4h0M97.4 164.1h0M96.5 165.0h0M97.8 166.6h0M95.2 166.3h0M97.4 162.4h0M117.7 178.0h0M115.7 175.4h0M109.1 157.0h0M110.9 158.1h0M110.9 166.5h0M113.6 174.5h0M111.4 170.2h0M110.0 157.3h0M113.0 175.5h0M111.1 159.5h0M112.4 158.9h0M109.3 161.2h0M112.1 174.5h0M115.6 164.8h0M113.2 173.3h0M115.7 178.9h0M116.8 175.5h0M118.0 170.9h0M116.1 169.0h0M113.5 175.1h0M113.7 173.3h0M112.4 171.8h0M113.2 170.5h0M102.8 164.6h0M103.8 161.9h0M110.1 170.1h0M103.0 173.8h0M103.7 163.9h0M102.9 168.7h0M106.3 170.3h0M109.2 167.7h0M107.7 163.5h0M111.4 171.2h0M108.7 171.5h0M103.0 164.1h0M108.5 168.7h0M102.0 170.9h0M109.6 171.2h0M104.2 160.0h0M141.2 179.6h0M141.0 177.1h0M153.2 173.9h0M136.4 177.0h0M130.4 179.1h0M151.9 177.3h0M137.8 174.8h0M131.3 181.3h0M149.1 176.8h0M131.5 176.6h0M131.8 178.5h0M136.4 180.8h0M142.2 172.3h0M146.6 177.7h0M133.3 178.7h0M149.5 175.0h0M133.5 178.9h0M132.4 177.2h0M134.1 176.7h0M131.5 178.1h0M146.3 178.2h0M139.9 175.4h0M131.1 173.7h0M135.1 181.1h0M133.0 178.5h0M135.7 182.3h0M134.9 176.9h0M130.3 177.7h0M136.5 173.6h0M142.9 178.8h0M139.0 173.3h0M153.2 173.3h0M143.1 181.9h0M146.7 176.4h0M143.4 181.6h0M140.6 176.9h0M134.4 176.0h0M152.9 178.4h0M149.4 179.2h0M132.8 178.4h0M102.5 196.7h0M104.6 187.6h0M103.2 214.6h0M103.6 213.6h0M147.8 223.1h0M141.0 227.0h0M107.9 220.0h0M139.7 227.4h0M114.7 208.9h0M118.5 196.5h0M125.9 185.1h0M125.8 226.8h0M139.7 209.1h0M97.4 186.1h0M143.1 227.2h0M128.6 189.7h0M116.8 190.5h0M142.8 227.4h0M108.3 206.1h0M129.0 205.9h0M127.5 226.5h0M113.9 188.6h0M97.8 190.1h0M108.5 195.9h0M118.5 193.2h0M104.4 206.7h0M101.4 209.8h0M98.2 208.3h0M106.4 210.7h0M112.5 213.6h0M117.4 221.2h0M125.1 226.3h0M109.3 197.2h0M121.0 183.4h0M126.6 192.9h0M113.4 188.8h0M98.3 185.1h0M131.6 231.0h0M120.2 199.5h0M111.8 188.8h0M102.3 207.2h0M137.0 227.4h0M136.8 223.2h0M108.5 192.5h0M109.2 218.2h0M107.3 218.7h0M128.0 230.1h0M119.8 213.0h0M101.2 199.0h0M111.7 215.2h0M118.7 195.4h0M98.9 209.6h0M109.7 197.1h0M120.7 187.7h0M114.6 190.3h0M107.4 207.4h0M131.7 195.9h0M135.1 217.1h0M123.0 224.2h0M119.4 219.7h0M137.9 223.7h0M112.4 195.1h0M123.8 222.1h0M99.1 212.5h0M104.3 215.5h0M102.3 200.9h0M96.9 201.7h0M109.4 208.3h0M113.4 208.7h0M127.9 224.0h0M104.2 200.4h0M125.9 199.3h0M118.4 193.7h0M130.2 191.7h0M107.1 201.7h0M129.6 193.2h0M124.6 211.4h0M118.1 184.4h0M99.1 207.7h0M100.2 198.8h0M128.6 226.6h0M116.6 186.3h0M129.3 193.4h0M124.7 197.1h0M104.2 205.6h0M103.8 195.2h0M114.1 192.7h0M132.6 196.2h0M119.7 188.5h0M116.6 224.8h0M142.1 224.6h0M106.7 199.7h0M97.7 204.9h0M111.6 191.1h0M131.3 230.0h0M128.7 189.3h0M113.7 183.2h0M141.3 230.2h0M115.0 197.1h0M112.1 216.6h0M135.5 210.4h0M103.6 201.5h0M110.9 220.9h0M100.5 206.2h0M114.1 185.3h0M119.8 202.9h0M108.5 191.1h0M107.5 214.2h0M101.7 194.6h0M107.8 223.0h0M129.2 217.8h0M99.6 192.9h0M99.8 205.4h0M110.0 200.5h0M103.1 185.3h0M121.9 193.9h0M97.7 187.7h0M131.8 228.5h0M114.3 226.5h0M119.4 225.8h0M123.9 221.7h0M133.9 202.1h0M111.4 196.6h0M133.6 221.5h0M104.9 203.5h0M115.7 192.6h0M116.5 210.3h0M106.5 203.9h0M126.1 185.2h0M111.3 199.7h0M117.4 224.0h0M122.8 190.6h0M97.5 191.9h0M106.1 185.7h0M131.9 212.1h0M110.1 201.0h0M108.6 197.1h0M112.3 210.7h0M123.4 224.3h0M126.9 220.0h0M122.3 224.8h0M103.0 212.3h0M101.5 206.1h0M137.2 221.5h0M100.9 200.1h0M139.4 231.6h0M113.6 222.0h0M98.1 194.3h0M118.9 206.8h0M134.9 203.7h0M136.9 208.0h0M125.9 191.8h0M123.0 219.3h0M116.4 195.8h0M114.0 190.2h0M110.2 190.5h0M106.2 190.8h0M145.3 216.1h0M133.0 227.9h0M119.6 198.7h0M112.8 194.4h0M108.2 216.4h0M127.6 232.1h0M124.4 196.0h0M116.7 197.0h0M123.7 201.2h0M130.8 226.3h0M124.0 212.5h0M120.3 223.0h0M114.7 191.6h0M103.9 183.3h0M106.3 221.4h0M100.5 200.8h0M135.1 231.1h0M145.2 227.6h0M104.7 217.7h0M130.0 229.6h0M122.8 212.1h0M122.6 198.4h0M140.2 213.7h0M98.9 202.9h0M126.5 194.7h0M124.4 185.7h0M124.4 226.1h0M111.2 202.2h0M108.2 197.2h0M107.1 200.5h0M120.1 229.1h0M128.3 194.5h0M107.9 189.9h0M101.5 195.4h0M129.9 225.9h0M102.2 205.1h0M143.4 229.6h0M110.4 195.7h0M145.8 222.0h0M122.0 183.5h0M118.4 185.3h0M101.5 190.6h0M115.5 184.9h0M107.3 219.7h0M130.5 224.2h0M139.6 225.8h0M103.5 196.9h0M104.3 196.9h0M99.4 203.0h0M106.2 205.5h0M119.2 194.5h0M125.0 185.2h0M112.2 183.4h0M125.3 224.3h0M142.5 221.2h0M128.5 200.8h0M126.2 191.9h0M105.0 205.4h0M122.8 222.7h0M126.4 196.5h0M121.5 192.4h0M99.6 213.4h0M125.9 229.4h0M136.7 212.0h0M128.1 200.5h0M102.4 207.4h0M126.7 224.6h0M109.5 188.9h0M116.3 192.3h0M99.9 210.1h0M115.8 209.3h0M126.1 215.3h0M107.0 217.2h0M142.6 224.2h0M112.7 190.4h0M100.7 191.1h0M110.8 187.5h0M126.9 186.5h0M103.7 199.6h0M124.5 226.3h0M114.4 201.9h0M126.7 229.5h0M118.9 215.4h0M115.8 209.7h0M126.9 224.4h0M133.4 224.4h0M114.9 212.3h0M113.3 215.5h0M105.0 212.9h0M101.7 190.4h0M139.0 209.5h0M107.5 213.1h0M123.5 228.9h0M126.1 217.8h0M142.5 219.3h0M138.3 212.8h0M137.2 231.8h0M131.7 229.3h0M109.1 195.5h0M112.8 200.0h0M141.2 211.4h0M110.7 211.1h0M97.4 195.2h0M98.3 200.2h0M99.4 197.4h0M123.2 189.1h0M128.9 210.7h0M120.2 213.1h0M103.9 214.8h0M126.0 225.1h0M114.4 183.8h0M121.1 230.5h0M117.1 227.3h0M102.3 214.8h0M139.4 209.2h0M121.8 185.1h0M121.8 228.5h0M127.5 186.5h0M99.7 190.5h0M109.4 187.9h0M141.1 230.3h0M113.1 200.1h0M101.4 186.9h0M143.0 215.1h0M138.6 224.6h0M108.5 203.9h0M136.6 213.0h0M138.5 216.4h0M103.5 193.7h0M114.9 190.2h0M130.2 186.2h0M115.4 205.2h0M119.7 188.0h0M109.0 217.0h0M130.3 208.5h0M124.3 223.1h0M136.8 205.9h0M120.5 222.4h0M103.2 212.2h0M133.9 224.2h0M113.3 198.0h0M123.2 220.5h0M104.8 219.3h0M119.2 199.1h0M127.4 227.2h0M105.5 214.7h0M140.4 213.6h0M142.7 221.9h0M125.8 198.3h0M99.5 211.0h0M136.8 218.7h0M138.6 222.1h0M107.0 183.0h0M112.1 183.3h0M99.8 212.4h0M133.9 197.0h0M148.5 221.0h0M110.0 211.4h0M146.5 223.6h0M139.1 213.8h0M112.2 207.3h0M113.8 220.3h0M117.1 183.8h0M128.4 204.8h0M118.0 184.5h0M133.0 205.7h0M97.5 202.0h0M134.8 228.6h0M134.9 203.4h0M141.1 228.6h0M121.8 232.0h0M139.1 208.2h0M102.5 203.9h0M110.7 196.8h0M106.4 211.8h0M117.1 191.2h0M131.1 217.0h0M116.8 194.7h0M104.1 189.7h0M141.0 217.0h0M111.6 194.6h0M103.8 196.2h0M97.3 196.1h0M104.7 184.6h0M114.9 199.4h0M112.6 214.9h0M135.9 225.3h0M140.1 210.1h0M116.0 209.6h0M133.6 199.4h0M110.9 185.8h0M110.9 211.3h0M109.4 210.8h0M120.9 187.4h0M105.3 186.9h0M106.9 203.4h0M122.8 197.2h0M99.4 208.6h0M111.2 192.4h0M122.2 201.6h0M100.9 203.3h0M109.3 187.5h0M103.7 190.0h0M116.4 183.4h0M128.0 193.8h0M112.1 187.6h0M101.9 211.3h0M144.6 223.1h0M122.8 184.0h0M106.5 203.5h0M121.5 204.2h0M121.9 187.8h0M117.0 184.6h0M134.1 232.9h0M111.3 193.4h0M103.7 208.3h0M102.8 206.4h0M105.6 191.2h0M119.1 215.7h0M114.4 205.3h0M111.6 216.9h0M136.9 222.0h0M97.1 201.8h0M99.3 199.4h0M131.7 225.7h0M114.2 199.4h0M105.5 213.8h0M106.8 205.2h0M114.9 212.2h0M108.8 192.4h0M130.2 228.9h0M103.8 210.9h0M134.1 224.2h0M143.1 216.1h0M110.6 212.7h0M108.2 189.7h0M113.8 197.7h0M113.4 190.0h0M113.5 213.8h0M135.5 223.4h0M107.3 186.0h0M109.6 189.7h0M114.9 215.6h0M99.4 213.7h0M102.3 190.6h0M104.2 184.2h0M126.8 223.5h0M137.6 216.8h0M116.7 221.4h0M146.9 225.0h0M144.6 229.5h0M136.5 231.0h0M143.7 217.6h0M107.0 197.7h0M104.3 201.5h0M126.7 230.4h0M137.0 208.7h0M142.1 219.8h0M123.5 188.4h0M118.4 216.5h0M144.5 229.7h0M105.6 204.2h0M108.4 223.3h0M128.4 228.1h0M126.3 210.9h0M136.4 227.6h0M113.8 202.0h0M111.6 197.3h0M121.8 188.7h0M126.2 191.6h0M146.3 224.1h0M117.0 185.9h0M110.9 194.6h0M114.4 188.9h0M125.8 231.5h0M111.9 189.6h0M117.3 183.9h0M111.1 217.6h0M109.1 205.0h0M111.0 202.2h0M109.2 190.2h0M103.2 191.5h0M97.6 189.3h0M106.6 184.7h0M130.5 232.0h0M131.6 194.0h0M103.9 193.4h0M107.3 220.0h0M104.8 186.6h0M119.3 228.1h0M139.1 230.2h0M127.8 232.2h0M116.8 215.6h0M121.5 213.8h0M143.3 222.1h0M126.2 223.3h0M105.7 209.8h0M107.8 187.9h0M137.7 228.3h0M113.6 204.8h0M114.7 198.9h0M117.1 223.5h0M131.5 209.3h0M138.6 213.4h0M118.3 183.8h0M129.9 199.2h0M97.4 184.7h0M107.9 216.6h0M108.5 211.1h0M120.1 219.5h0M113.1 218.1h0M132.1 224.1h0M116.8 188.5h0M134.0 232.9h0M122.9 219.0h0M135.8 208.4h0M108.3 215.4h0M107.9 184.9h0M100.5 205.4h0M109.8 219.7h0M102.8 210.3h0M107.3 202.6h0M132.4 203.6h0M100.4 206.8h0M111.0 193.8h0M103.7 218.0h0M116.2 184.0h0M97.9 187.6h0M97.2 184.0h0M103.2 191.1h0M110.3 183.2h0M121.7 185.1h0M119.9 188.7h0M103.7 192.8h0M114.9 185.7h0M99.1 184.5h0M111.4 188.4h0M115.4 184.0h0M107.9 188.7h0M108.3 182.5h0M100.9 184.2h0M109.2 187.5h0M115.7 184.0h0M104.4 186.2h0M110.9 182.8h0M106.9 187.6h0M100.4 183.9h0M115.4 182.9h0M114.4 190.4h0M105.2 189.3h0M111.0 186.2h0M123.4 183.4h0M121.4 182.3h0M112.7 189.9h0M111.6 185.3h0M102.0 182.8h0M112.5 181.8h0M97.4 200.5h0M100.3 203.7h0M99.8 197.3h0M97.3 193.0h0M97.7 203.2h0M101.3 196.9h0M98.5 202.6h0M101.5 204.6h0M97.1 204.1h0M99.2 198.6h0M98.3 209.3h0M100.8 205.4h0M99.7 208.2h0M99.8 208.9h0M99.2 205.9h0M97.4 197.9h0M99.2 190.0h0M98.4 202.6h0M97.9 203.5h0M99.4 191.7h0M100.4 198.2h0M99.1 208.3h0M98.1 189.9h0M98.5 202.6h0M98.6 197.6h0M97.8 198.6h0M97.1 193.1h0M139.9 214.2h0M131.8 226.7h0M139.9 219.9h0M139.5 223.8h0M140.8 222.8h0M138.0 232.1h0M139.5 229.6h0M145.4 228.9h0M136.1 228.9h0M129.0 232.5h0M133.7 226.1h0M142.1 225.1h0M130.4 228.1h0M141.7 212.9h0M145.2 222.1h0M138.5 213.1h0M145.2 222.8h0M140.8 222.0h0M146.8 224.9h0M142.7 220.5h0M127.9 231.5h0M142.2 220.8h0M128.0 229.2h0M128.3 228.8h0M136.7 231.9h0M144.7 229.7h0M144.9 215.4h0M140.6 215.0h0M130.4 230.2h0M144.0 216.9h0M136.5 225.5h0M140.6 212.8h0M133.6 227.0h0M148.6 221.5h0M128.1 232.0h0M133.3 225.9h0M131.2 230.5h0M137.2 206.7h0M128.3 229.8h0M134.7 226.7h0M138.6 224.0h0M139.1 211.3h0M143.1 213.4h0M146.2 226.5h0M140.2 225.8h0M141.5 214.5h0M136.5 226.1h0M132.9 232.1h0M146.5 224.4h0M143.0 228.1h0M135.4 226.8h0M136.2 224.0h0M138.6 208.7h0M144.1 219.7h0M137.0 231.1h0M134.8 227.3h0M144.0 227.7h0M137.3 227.5h0M131.5 226.4h0M147.7 222.6h0M142.3 217.0h0M142.5 220.9h0M143.0 213.6h0M136.9 223.5h0M142.5 223.8h0M141.7 225.4h0M143.8 228.5h0M139.2 213.3h0M135.6 224.1h0M134.1 230.1h0M145.4 228.7h0M127.8 231.9h0M138.5 210.3h0M132.1 226.7h0M131.9 229.1h0M143.6 213.8h0M136.8 226.0h0M143.8 218.0h0M145.3 218.9h0M145.3 229.5h0M141.2 226.1h0M144.3 229.6h0M135.6 228.9h0M143.6 221.7h0M142.9 229.8h0M132.6 225.7h0M127.2 231.4h0M140.3 231.2h0M143.4 213.0h0M136.7 206.1h0M144.5 215.5h0M134.9 226.6h0M147.1 221.4h0M143.1 221.7h0M145.4 229.2h0M139.3 218.8h0M139.0 210.8h0M144.1 228.4h0M144.4 229.6h0M131.5 230.6h0M141.0 230.5h0M141.1 229.7h0M129.2 230.4h0M133.4 232.2h0M142.4 223.2h0M134.8 231.4h0M142.7 218.1h0M146.4 219.3h0M137.1 207.5h0M139.8 225.5h0M143.2 213.2h0M135.5 224.8h0M140.9 225.2h0M148.0 222.7h0M136.7 224.5h0M138.4 226.3h0M141.6 217.9h0M137.2 226.4h0M133.9 231.8h0M145.1 216.9h0M133.5 231.2h0M140.4 222.5h0M145.6 224.8h0M144.0 214.9h0M141.5 222.7h0M137.2 224.0h0M139.6 228.9h0M147.3 223.7h0M142.8 215.0h0M142.6 218.0h0M140.9 216.5h0M143.9 217.9h0M128.8 231.0h0M133.6 229.0h0M132.1 228.7h0M88.5 205.7h0M91.1 204.4h0M92.8 206.5h0M89.6 206.6h0M89.4 204.2h0M92.4 206.2h0M90.6 205.9h0M87.4 203.7h0" stroke="#CD9600" stroke-width="0.85" stroke-linecap="square" fill="none"/>
<path d="M78.1 178.0h0M66.0 188.8h0M76.7 189.0h0M67.8 183.3h0M55.9 184.9h0M60.9 181.8h0M45.0 186.2h0M60.1 182.6h0M71.7 185.9h0M75.8 186.6h0M52.4 185.8h0M42.3 189.7h0M56.3 190.0h0M55.2 184.1h0M46.7 190.1h0M46.2 193.4h0M73.5 184.5h0M66.8 178.9h0M77.7 184.8h0M54.7 187.1h0M58.9 184.4h0M63.7 188.8h0M53.5 180.7h0M63.0 178.2h0M79.4 177.7h0M72.3 185.1h0M66.9 187.1h0M66.5 191.6h0M56.8 190.1h0M55.9 178.4h0M49.9 185.1h0M61.4 187.8h0M49.6 181.2h0M58.1 189.7h0M74.4 185.3h0M57.3 179.3h0M62.9 177.7h0M57.5 189.7h0M74.2 189.6h0M81.3 181.8h0M55.2 181.7h0M61.1 191.7h0M77.3 179.7h0M80.9 176.9h0M73.1 185.8h0M54.8 183.2h0M47.0 191.3h0M72.7 183.5h0M59.3 182.5h0M56.3 184.1h0M68.7 175.7h0M56.5 193.2h0M57.0 185.4h0M52.1 190.8h0M48.3 189.9h0M78.4 176.9h0M72.1 186.7h0M58.9 180.9h0M72.9 182.4h0M56.2 182.0h0M80.7 178.3h0M51.1 190.6h0M66.8 190.0h0M54.0 180.2h0M73.9 177.7h0M76.1 178.9h0M80.5 179.9h0M68.7 190.5h0M49.2 183.4h0M80.2 188.2h0M74.8 180.9h0M43.8 191.6h0M53.7 179.4h0M45.6 190.6h0M60.2 185.9h0M53.7 187.1h0M68.2 185.6h0M51.8 192.5h0M62.3 187.7h0M55.1 179.2h0M63.1 176.8h0M56.6 185.0h0M76.1 185.6h0M64.0 184.5h0M57.4 185.7h0M47.7 189.1h0M64.9 184.4h0M56.0 179.4h0M50.6 182.8h0M66.8 180.6h0M48.9 184.5h0M59.2 191.5h0M48.8 184.5h0M46.5 191.3h0M77.9 178.1h0M69.6 186.2h0M70.1 189.2h0M78.7 178.2h0M78.9 188.0h0M56.4 179.1h0M79.9 176.2h0M59.6 190.0h0M59.8 180.8h0M54.8 182.0h0M70.0 186.9h0M65.2 185.6h0M53.3 193.7h0M52.5 187.8h0M80.6 187.5h0M53.2 183.4h0M52.3 182.8h0M60.0 193.0h0M67.2 189.4h0M76.0 183.1h0M61.8 184.7h0M55.4 186.7h0M58.1 180.0h0M49.1 188.0h0M59.7 188.8h0M53.1 187.9h0M66.7 177.5h0M56.8 187.1h0M66.5 174.6h0M68.1 175.0h0M59.7 191.5h0M45.4 192.0h0M60.5 181.9h0M53.5 184.2h0M49.7 181.6h0M66.4 180.9h0M67.0 190.6h0M62.7 190.7h0M46.3 192.4h0M67.1 184.2h0M76.0 186.6h0M48.2 191.7h0M61.7 179.2h0M72.2 179.6h0M44.7 190.4h0M62.9 182.2h0M76.7 181.8h0M46.4 189.6h0M81.6 179.2h0M56.5 178.7h0M78.1 185.5h0M54.8 183.7h0M49.5 183.8h0M50.0 184.1h0M64.6 190.2h0M73.1 178.2h0M74.4 183.3h0M42.1 189.5h0M64.5 189.0h0M65.2 181.5h0M75.8 179.0h0M68.0 184.6h0M59.0 188.0h0M55.1 186.8h0M56.2 182.9h0M54.7 181.8h0M67.9 181.5h0M53.1 183.4h0M70.7 186.0h0M63.0 186.3h0M49.3 184.4h0M61.0 192.1h0M56.5 192.4h0M72.3 186.8h0M62.3 184.9h0M68.1 190.9h0M58.5 179.0h0M74.5 184.7h0M74.8 176.8h0M55.2 188.1h0M52.5 184.7h0M52.6 181.3h0M45.4 189.9h0M45.9 187.7h0M75.6 180.9h0M53.1 189.8h0M58.1 181.0h0M58.8 192.1h0M79.2 175.4h0M74.4 180.5h0M42.8 188.9h0M51.0 180.7h0M73.8 179.2h0M49.0 191.1h0M63.2 187.1h0M59.1 187.4h0M80.8 185.9h0M76.0 182.1h0M61.3 182.5h0M61.4 176.9h0M76.0 180.4h0M53.6 187.2h0M52.1 193.7h0M59.0 182.3h0M60.8 176.0h0M57.8 178.6h0M61.2 178.8h0M81.1 184.3h0M62.8 175.6h0M65.6 182.6h0M65.2 179.8h0M69.9 184.8h0M74.1 185.5h0M72.8 183.3h0M74.2 187.5h0M48.9 187.8h0M62.4 189.0h0M54.7 184.3h0M52.5 189.2h0M49.2 182.0h0M73.5 182.9h0M76.8 175.5h0M67.9 187.5h0M52.3 180.8h0M80.7 176.8h0M68.3 190.1h0M78.7 179.4h0M50.9 190.5h0M50.5 191.5h0M49.0 184.3h0M66.5 187.3h0M56.2 188.2h0M52.7 193.1h0M55.6 180.3h0M71.3 184.0h0M66.7 185.5h0M67.2 183.3h0M50.5 192.7h0M76.9 196.6h0M66.5 200.3h0M59.7 194.5h0M66.4 196.9h0M53.9 197.4h0M76.7 199.6h0M80.8 203.0h0M56.5 194.8h0M65.1 205.4h0M49.9 207.5h0M57.8 196.2h0M54.5 196.4h0M63.8 205.6h0M70.3 195.7h0M55.9 196.1h0M63.8 204.9h0M41.7 192.6h0M47.3 195.7h0M69.6 202.8h0M56.5 200.1h0M64.5 198.0h0M74.5 193.0h0M65.6 201.6h0M71.7 203.9h0M52.8 200.3h0M77.4 198.4h0M64.5 201.5h0M57.4 199.8h0M67.2 204.4h0M47.4 195.2h0M74.0 196.4h0M69.5 194.0h0M52.3 204.2h0M100.1 153.7h0M96.9 158.2h0M94.8 164.3h0M97.3 149.5h0M96.4 153.7h0M99.7 156.1h0M98.4 156.4h0M101.2 153.1h0M110.3 153.5h0M101.1 152.4h0M101.2 154.8h0M99.9 153.7h0M99.6 156.9h0M105.5 153.4h0M97.6 159.1h0M96.1 161.9h0M98.5 161.1h0M108.3 157.0h0M94.5 158.4h0M104.2 153.4h0M95.7 153.1h0M108.3 149.7h0M104.3 157.8h0M104.4 153.9h0M95.6 152.9h0M96.3 157.6h0M100.4 152.3h0M97.3 155.9h0M105.3 151.3h0M108.7 154.5h0M93.8 157.7h0M95.0 162.1h0M105.8 157.0h0M102.5 146.8h0M105.4 158.4h0M109.1 153.2h0M96.2 154.3h0M111.1 155.5h0M99.3 156.5h0M98.6 150.5h0M95.1 154.4h0M106.6 156.5h0M97.2 162.7h0M100.8 157.3h0M96.8 159.0h0M100.4 155.1h0M103.7 150.1h0M107.9 150.0h0M105.5 152.7h0M106.9 151.8h0M96.1 156.9h0M107.0 156.9h0M95.0 155.6h0M105.5 154.3h0M98.2 159.9h0M100.6 156.9h0M105.6 154.1h0M102.2 151.9h0M101.7 151.4h0M103.0 152.5h0M100.9 148.7h0M104.8 149.2h0M105.0 150.0h0M107.2 149.4h0M96.2 163.0h0M95.7 152.5h0M100.7 160.0h0M101.1 148.9h0M108.4 151.6h0M97.1 158.5h0M104.2 152.3h0M97.1 149.7h0M99.7 158.9h0M99.8 149.8h0M98.5 160.4h0M98.0 161.9h0M96.9 155.2h0M104.5 157.8h0M104.5 148.0h0M110.0 152.2h0M95.2 158.9h0M105.9 152.1h0M106.9 151.1h0M108.5 154.7h0M97.7 154.3h0M96.5 160.9h0M100.7 159.2h0M97.5 159.6h0M104.9 152.0h0M97.4 152.7h0M93.5 158.1h0M106.9 155.3h0M99.4 148.7h0M97.1 149.4h0M101.5 156.6h0M102.6 147.1h0M105.4 157.2h0M97.0 148.8h0M98.8 150.8h0M103.5 157.1h0M104.7 153.1h0M96.9 162.2h0M101.7 148.9h0M104.3 158.0h0M94.2 162.5h0M106.1 150.9h0M104.6 149.1h0M98.5 153.4h0M99.4 155.7h0M99.0 153.2h0M102.6 155.9h0M106.8 157.7h0M108.7 154.3h0M110.3 155.9h0M101.4 149.2h0M109.0 152.3h0M101.6 157.8h0M108.7 152.2h0M97.6 156.8h0M109.6 153.7h0M109.4 154.8h0M109.7 151.4h0M109.7 150.6h0M94.6 157.9h0M98.8 150.4h0M108.8 156.4h0M100.4 155.2h0M97.8 153.4h0M94.8 159.9h0M105.4 153.4h0M95.1 158.6h0M101.3 151.5h0M110.5 154.5h0M106.7 148.9h0M99.0 157.1h0M96.4 159.3h0M103.7 148.7h0M94.5 159.4h0M107.3 153.8h0M94.2 159.3h0M101.5 147.7h0M103.9 150.4h0M107.7 152.9h0M101.2 158.8h0M111.0 155.6h0M95.2 159.1h0M100.0 158.9h0M105.1 156.0h0M101.7 158.6h0M105.0 154.6h0M94.9 157.2h0M108.3 152.2h0M107.6 154.4h0M95.2 166.6h0M99.6 155.6h0M107.9 156.5h0M99.3 148.5h0M100.0 151.5h0M96.3 153.2h0M95.3 165.1h0M103.6 156.7h0M96.5 150.5h0M103.1 151.5h0M98.7 159.7h0M97.3 159.4h0M99.3 160.4h0M104.5 149.6h0M105.7 153.8h0M107.4 149.7h0M108.4 153.1h0M96.8 157.1h0M96.6 162.5h0M110.9 155.9h0M102.0 147.7h0M94.8 172.5h0M96.6 166.2h0M94.6 167.7h0M93.8 160.5h0M98.6 168.7h0M96.3 167.6h0M97.0 171.2h0M95.6 172.0h0M97.5 173.5h0M94.9 160.3h0M95.4 171.7h0M96.3 164.4h0M98.6 172.1h0M95.1 174.0h0M98.7 170.5h0M96.5 170.5h0M95.2 169.4h0M95.6 174.8h0M95.8 163.0h0M97.5 165.0h0M97.4 164.8h0M94.1 168.2h0M94.2 162.4h0M98.7 167.4h0M93.7 168.8h0M93.8 161.7h0M94.3 163.2h0M95.7 163.5h0M95.1 164.5h0M96.7 176.5h0M97.1 171.5h0M94.8 170.4h0M97.5 166.4h0M94.1 166.6h0M93.5 159.5h0M96.7 163.0h0M97.2 175.3h0M94.5 167.4h0M98.6 172.0h0M95.9 167.0h0M95.5 159.3h0M94.8 171.7h0M96.9 164.5h0M95.7 169.9h0M96.5 175.0h0M96.3 176.0h0M95.5 174.6h0M94.1 161.4h0M97.6 170.1h0M95.0 162.5h0M98.2 165.1h0M96.1 173.8h0M96.6 168.4h0M93.6 165.0h0M94.7 166.5h0M96.0 161.7h0M95.0 167.7h0M94.0 158.5h0M93.9 166.8h0M97.7 166.9h0M95.6 175.8h0M95.7 171.7h0M94.9 172.7h0M93.8 162.2h0M94.9 165.2h0M98.5 167.5h0M97.0 164.3h0M96.6 167.7h0M95.8 163.7h0M97.6 162.7h0M113.9 173.8h0M116.5 168.1h0M117.1 173.1h0M109.4 159.4h0M109.0 158.8h0M117.1 170.3h0M110.8 169.1h0M115.8 177.7h0M114.0 167.2h0M113.6 163.1h0M110.4 166.3h0M115.8 172.7h0M109.9 160.6h0M110.0 155.7h0M117.8 169.6h0M112.5 160.6h0M110.4 166.6h0M115.1 178.5h0M113.7 171.8h0M118.6 176.3h0M110.4 157.5h0M113.8 169.4h0M113.6 168.0h0M114.2 177.2h0M112.2 163.1h0M112.0 166.3h0M113.4 160.1h0M117.9 176.1h0M109.6 161.9h0M117.0 169.8h0M113.7 169.8h0M116.0 165.9h0M112.5 169.7h0M111.8 160.0h0M116.1 174.5h0M117.5 172.3h0M115.4 166.1h0M112.5 167.9h0M118.1 179.7h0M111.4 165.9h0M112.2 169.3h0M114.7 169.5h0M109.4 160.8h0M116.4 173.2h0M110.5 165.9h0M111.2 163.1h0M114.9 171.4h0M116.6 174.6h0M117.1 175.3h0M118.3 175.5h0M115.3 167.3h0M111.2 157.6h0M116.3 170.5h0M108.9 156.7h0M112.5 158.2h0M114.7 178.0h0M113.7 161.8h0M116.4 174.5h0M114.1 169.2h0M118.6 179.3h0M113.7 163.2h0M112.0 160.7h0M117.3 171.5h0M116.2 179.0h0M114.2 162.6h0M110.2 162.7h0M117.9 169.9h0M111.7 162.9h0M118.5 176.3h0M118.5 175.1h0M114.7 163.5h0M112.9 174.9h0M114.4 169.7h0M116.1 170.2h0M111.6 156.0h0M114.4 176.1h0M117.2 179.6h0M115.0 167.4h0M116.7 171.1h0M114.6 172.6h0M115.0 171.0h0M108.5 156.6h0M113.1 177.4h0M108.5 155.5h0M113.2 175.1h0M114.7 180.1h0M109.2 159.3h0M114.7 173.0h0M110.8 158.2h0M114.1 174.0h0M105.0 160.8h0M99.1 166.4h0M111.8 179.2h0M99.0 172.8h0M101.8 162.2h0M106.2 173.1h0M102.2 165.8h0M111.7 172.5h0M105.5 166.8h0M105.2 163.4h0M110.3 175.1h0M102.7 164.9h0M103.2 159.7h0M107.8 159.8h0M104.6 167.0h0M99.9 173.3h0M107.3 158.8h0M104.2 165.8h0M100.4 161.0h0M104.7 174.0h0M104.0 170.9h0M108.1 160.8h0M104.1 169.7h0M107.1 161.7h0M108.6 164.8h0M106.0 161.8h0M104.7 170.0h0M100.8 166.7h0M105.4 162.5h0M108.6 169.2h0M104.2 159.4h0M101.2 159.8h0M106.7 163.9h0M106.1 160.2h0M109.9 176.8h0M109.7 172.7h0M102.8 166.8h0M106.9 174.1h0M124.0 159.4h0M126.2 174.0h0M125.7 173.1h0M130.7 169.4h0M119.6 160.1h0M123.5 159.7h0M126.9 174.3h0M122.2 173.8h0M124.0 177.3h0M126.3 160.6h0M121.9 169.7h0M123.4 179.3h0M125.1 162.3h0M128.0 178.9h0M126.7 177.3h0M119.5 166.7h0M121.5 161.8h0M129.7 167.0h0M122.5 174.7h0M126.1 183.1h0M123.2 174.2h0M129.3 164.6h0M126.2 163.3h0M126.0 178.4h0M130.5 174.2h0M127.2 166.3h0M120.9 178.0h0M125.8 164.8h0M124.4 178.3h0M127.1 174.8h0M128.8 163.5h0M125.9 160.9h0M129.5 176.3h0M129.5 168.2h0M130.9 167.8h0M127.7 175.9h0M121.7 171.5h0M129.1 165.7h0M129.9 167.0h0M127.0 165.2h0M125.9 179.0h0M120.1 173.5h0M126.3 166.5h0M125.9 162.7h0M128.6 169.6h0M120.0 163.5h0M123.1 167.6h0M121.2 165.9h0M120.2 173.4h0M125.9 162.4h0M126.5 174.1h0M121.3 173.0h0M122.3 168.5h0M122.8 164.3h0M124.6 165.8h0M127.5 170.9h0M125.1 176.4h0M124.5 175.9h0M120.9 167.7h0M128.7 171.4h0M125.4 159.9h0M128.0 174.7h0M122.2 178.4h0M124.4 168.0h0M119.7 170.6h0M120.4 171.3h0M130.0 180.1h0M130.9 174.3h0M126.2 178.2h0M123.9 174.3h0M122.9 182.3h0M128.4 174.5h0M121.4 165.8h0M122.4 175.8h0M127.1 163.2h0M119.7 172.1h0M120.8 180.6h0M126.2 169.2h0M120.9 161.4h0M129.4 177.8h0M130.0 171.1h0M129.0 178.7h0M121.6 165.6h0M122.0 180.5h0M125.3 166.5h0M121.8 181.9h0M126.2 176.9h0M126.9 170.5h0M120.4 179.0h0M130.2 167.1h0M127.9 176.6h0M129.0 172.5h0M127.5 165.0h0M127.0 180.5h0M129.6 173.3h0M110.7 184.9h0M102.3 190.6h0M99.3 197.4h0M103.2 215.3h0M111.2 205.3h0M134.3 217.0h0M102.4 203.3h0M128.1 226.5h0M137.3 207.8h0M99.8 193.8h0M112.5 186.8h0M107.3 218.1h0M109.0 199.0h0M117.5 217.7h0M106.3 203.9h0M107.3 200.1h0M141.7 214.3h0M130.9 225.6h0M105.2 193.4h0M116.4 195.0h0M100.4 199.0h0M129.6 225.4h0M140.8 231.3h0M133.2 218.7h0M111.4 222.8h0M114.5 207.3h0M99.0 206.2h0M114.7 210.0h0M118.2 194.6h0M102.7 204.0h0M116.2 184.1h0M125.9 196.3h0M139.1 220.6h0M108.3 190.0h0M117.7 218.9h0M114.3 210.4h0M119.2 201.9h0M102.1 200.1h0M119.3 196.9h0M129.6 192.4h0M128.4 204.2h0M115.2 220.2h0M140.2 231.0h0M124.1 195.4h0M143.6 215.0h0M109.3 208.6h0M107.8 209.8h0M130.4 188.5h0M114.2 215.5h0M137.8 220.5h0M99.9 202.6h0M126.6 229.2h0M126.5 220.9h0M104.0 197.3h0M123.9 197.0h0M127.5 201.5h0M108.9 197.2h0M103.0 204.4h0M121.3 205.3h0M138.9 224.5h0M110.8 217.7h0M107.1 198.9h0M142.2 229.4h0M109.0 188.1h0M106.4 182.3h0M116.2 189.0h0M105.8 186.9h0M105.6 186.8h0M107.9 182.0h0M105.3 191.6h0M108.2 182.3h0M119.5 186.3h0M107.0 184.7h0M102.7 185.7h0M106.5 188.5h0M119.2 183.4h0M119.2 188.8h0M118.5 185.1h0M100.7 183.7h0M109.2 182.3h0M103.6 189.8h0M110.6 182.7h0M117.1 187.6h0M100.7 192.9h0M122.5 186.6h0M119.3 186.0h0M108.0 189.0h0M103.5 190.1h0M100.0 184.2h0M105.3 187.4h0M123.2 182.9h0M103.8 184.8h0M120.3 188.2h0M99.2 209.8h0M101.1 205.1h0M97.9 197.2h0M100.1 197.4h0M98.3 195.0h0M99.2 209.1h0M100.1 192.4h0M101.6 204.2h0M97.9 190.0h0M97.0 196.5h0M98.4 200.5h0M100.8 202.6h0M97.0 202.3h0M100.1 193.8h0M99.9 197.7h0M97.0 193.2h0M98.5 199.7h0M100.2 199.9h0M98.4 191.5h0M97.8 206.5h0M99.4 211.3h0M101.3 206.1h0M97.1 203.7h0M99.2 196.8h0M98.1 199.2h0M100.1 200.0h0M100.2 206.8h0M101.3 198.5h0M99.8 200.1h0M100.9 192.4h0M97.2 199.4h0M100.7 198.3h0M99.2 194.3h0M101.1 199.4h0" stroke="#00BE67" stroke-width="0.85" stroke-linecap="square" fill="none"/>
<path d="M66.4 184.2h0M52.0 191.6h0M66.6 189.3h0M72.6 185.6h0M65.2 189.9h0M54.0 187.4h0M70.8 186.2h0M73.5 190.3h0M60.3 185.5h0M54.0 179.1h0M80.2 177.2h0M72.8 181.4h0M77.4 185.6h0M50.0 192.3h0M67.5 185.2h0M53.5 186.3h0M68.6 187.7h0M73.5 178.8h0M57.6 192.5h0M66.1 185.5h0M75.7 188.9h0M70.5 187.9h0M68.4 188.5h0M75.8 189.5h0M76.7 179.1h0M80.0 173.0h0M77.1 173.2h0M76.1 174.7h0M76.6 175.6h0M78.7 174.7h0M76.3 173.5h0M80.1 174.5h0M78.5 174.7h0M77.7 175.9h0M76.2 175.0h0M77.6 175.0h0M122.5 176.7h0M131.2 169.6h0M125.9 167.9h0M124.8 169.4h0M129.3 173.0h0M125.5 174.6h0M121.0 174.6h0M129.6 165.9h0M120.7 164.5h0M120.7 159.3h0M131.8 181.0h0M120.7 180.8h0M123.8 163.8h0M122.3 180.4h0M125.4 163.2h0M129.7 169.6h0M128.1 179.1h0M128.2 169.1h0M121.3 162.7h0M126.0 165.9h0M124.7 167.8h0M127.1 164.8h0M123.3 174.3h0M123.9 163.2h0M124.4 170.6h0M134.3 177.2h0M144.3 174.1h0M140.0 179.5h0M144.1 174.9h0M138.5 179.5h0M140.4 174.8h0M147.8 180.1h0M152.7 179.0h0M132.0 172.7h0M139.2 174.9h0M132.7 177.4h0M152.0 176.2h0M145.7 180.9h0M143.3 174.5h0M137.9 182.0h0M143.8 175.2h0M135.4 178.9h0M134.8 173.7h0M142.8 182.3h0M131.2 178.2h0M149.2 179.6h0M148.4 175.0h0M146.1 176.9h0M148.7 177.3h0M152.1 173.9h0M148.3 176.6h0M150.8 179.1h0M152.7 176.2h0M150.2 175.9h0M151.5 174.8h0M148.9 178.7h0M148.0 177.2h0M150.4 174.8h0M152.0 175.7h0M152.8 176.0h0M150.3 175.8h0M149.4 172.6h0M151.9 176.6h0M148.9 174.7h0M153.1 173.9h0M147.7 176.0h0M148.2 175.7h0M148.7 175.8h0M147.6 179.5h0M147.5 180.0h0M149.6 172.5h0M153.0 175.7h0M149.0 177.4h0M148.8 178.6h0M152.2 175.6h0M149.4 172.5h0M153.1 172.9h0M152.4 173.9h0M151.4 175.2h0M148.7 173.3h0M146.9 177.6h0M147.5 172.3h0M147.6 174.7h0M151.2 178.7h0M147.1 176.3h0M150.4 173.8h0M148.6 175.7h0M147.8 172.3h0M152.3 176.3h0M150.3 179.1h0M153.1 174.0h0M123.1 186.5h0M99.2 210.8h0M115.8 192.6h0M110.1 216.3h0M115.1 210.6h0M133.2 203.4h0M108.5 199.8h0M141.2 223.4h0M99.5 211.1h0M134.3 218.0h0M107.4 194.5h0M97.4 187.5h0M110.8 205.0h0M129.5 195.5h0M129.3 188.3h0M100.0 185.4h0M105.6 216.7h0M104.0 211.4h0M144.5 222.8h0M101.5 191.8h0M101.2 207.1h0M135.3 215.8h0M98.8 204.4h0M116.9 220.6h0M111.8 221.7h0M121.0 194.1h0M109.0 209.0h0M141.1 215.6h0M135.1 206.5h0M122.8 226.7h0M104.2 197.7h0M128.7 186.4h0M111.6 192.5h0M115.5 186.6h0M116.4 195.5h0M123.0 188.5h0M137.6 222.4h0M123.8 222.9h0M106.8 211.2h0M117.0 216.3h0M105.9 205.8h0M130.4 198.5h0M111.3 224.0h0M144.0 222.9h0M108.8 202.7h0M134.7 228.4h0M100.3 196.1h0M99.6 190.8h0M100.0 185.2h0M106.3 184.0h0M105.4 184.2h0M106.8 186.0h0M108.4 181.5h0M101.6 183.9h0M100.8 189.1h0M117.8 189.3h0M117.9 189.5h0M122.1 182.6h0M118.0 188.7h0M104.0 188.8h0M125.7 184.8h0M107.4 189.3h0M109.3 185.3h0M107.1 186.5h0M109.8 185.2h0M101.5 183.2h0M115.2 189.1h0M123.2 186.3h0M104.8 183.4h0M103.1 184.3h0M100.0 187.4h0M102.5 192.4h0M110.8 185.4h0M123.9 185.1h0M104.2 189.7h0M99.1 191.6h0M120.7 185.1h0M115.5 186.4h0M105.2 182.4h0M101.4 188.8h0M103.4 187.0h0M102.2 189.8h0M98.2 201.6h0M98.1 203.6h0M100.5 204.2h0M99.6 203.5h0M97.3 201.5h0M100.5 192.2h0M100.1 196.1h0" stroke="#00BFC4" stroke-width="0.85" stroke-linecap="square" fill="none"/>
<path d="M67.1 180.2h0M63.9 187.7h0M77.6 189.1h0M54.5 179.1h0M53.8 182.1h0M46.0 191.5h0M63.4 183.0h0M77.3 188.1h0M61.4 186.4h0M57.5 190.1h0M70.2 186.6h0M74.3 177.0h0M76.3 186.5h0M60.0 186.9h0M55.1 181.4h0M53.8 190.7h0M59.6 181.8h0M70.7 178.7h0M47.9 193.6h0M57.1 191.6h0M66.6 178.0h0M59.4 182.2h0M72.5 177.4h0M57.0 183.7h0M58.6 189.2h0M78.5 185.5h0M61.4 184.3h0M63.3 185.0h0M60.0 192.3h0M79.1 181.2h0M42.8 188.4h0M51.9 193.8h0M58.9 180.9h0M74.1 181.6h0M54.1 186.0h0M63.1 185.8h0M68.0 182.4h0M66.7 180.0h0M67.0 178.1h0M54.2 189.2h0M69.4 184.1h0M78.2 178.4h0M51.5 189.9h0M56.7 184.6h0M77.2 178.7h0M56.4 178.4h0M67.8 180.4h0M50.5 187.8h0M65.0 178.7h0M74.1 182.2h0M75.2 175.7h0M72.7 183.0h0M72.7 189.1h0M74.1 188.6h0M79.2 177.6h0M78.4 179.8h0M79.2 176.6h0M69.5 180.9h0M72.7 181.8h0M72.0 188.8h0M57.8 179.9h0M51.3 186.0h0M72.7 185.8h0M62.7 188.4h0M67.2 191.0h0M77.5 181.8h0M53.1 192.3h0M45.0 193.3h0M53.7 189.5h0M52.2 180.8h0M64.6 185.9h0M73.5 176.4h0M79.8 186.4h0M67.4 182.2h0M50.3 185.0h0M42.6 190.8h0M62.1 186.8h0M74.8 183.3h0M77.7 186.0h0M55.4 181.1h0M70.6 178.8h0M55.0 180.3h0M60.5 185.7h0M60.7 186.7h0M55.5 183.6h0M66.1 179.0h0M70.7 177.3h0M55.7 190.0h0M50.3 184.3h0M55.3 180.7h0M57.3 182.4h0M66.8 187.9h0M55.7 191.2h0M56.3 180.9h0M52.6 187.4h0M70.9 187.6h0M69.4 190.6h0M75.4 187.2h0M61.2 184.7h0M43.1 189.0h0M66.6 181.6h0M46.8 191.5h0M47.6 191.6h0M70.6 178.8h0M58.4 177.6h0M57.7 193.5h0M61.5 185.8h0M74.1 190.0h0M80.0 180.3h0M61.8 191.2h0M51.6 181.1h0M51.6 183.0h0M52.0 182.1h0M71.8 182.8h0M48.1 186.0h0M55.7 178.5h0M70.7 180.9h0M78.4 183.1h0M71.1 186.2h0M72.1 189.8h0M53.1 184.8h0M52.5 193.8h0M56.9 183.8h0M81.2 182.3h0M49.2 192.4h0M52.1 192.7h0M56.8 191.8h0M65.9 179.0h0M75.8 183.3h0M69.1 177.6h0M72.2 177.8h0M76.6 181.9h0M68.3 188.4h0M47.7 187.1h0M60.0 178.1h0M76.5 185.4h0M80.4 175.5h0M66.9 181.3h0M67.8 189.5h0M57.6 183.1h0M68.0 186.7h0M77.5 179.6h0M81.1 179.3h0M66.9 184.2h0M52.3 183.0h0M80.8 175.8h0M80.4 185.7h0M77.0 179.0h0M63.0 178.2h0M68.2 179.7h0M64.5 183.7h0M79.8 175.6h0M60.9 179.6h0M75.6 180.6h0M48.0 190.7h0M62.3 191.0h0M65.2 182.4h0M64.5 185.6h0M73.2 187.3h0M57.8 178.6h0M63.7 188.1h0M62.7 188.5h0M54.2 178.9h0M52.0 181.3h0M54.5 179.7h0M72.2 189.9h0M71.9 177.3h0M71.0 181.3h0M58.2 191.0h0M62.0 189.8h0M67.8 174.8h0M69.4 181.5h0M50.8 189.5h0M44.1 190.5h0M65.9 178.4h0M75.4 181.7h0M80.3 183.2h0M80.0 180.2h0M72.2 184.0h0M68.7 179.9h0M54.2 190.3h0M65.5 188.6h0M64.0 190.1h0M53.3 179.5h0M55.0 179.3h0M52.6 192.8h0M55.8 183.1h0M56.7 187.4h0M73.9 183.4h0M57.4 185.8h0M76.3 178.1h0M53.6 180.9h0M58.3 180.7h0M69.6 188.7h0M69.2 185.6h0M58.4 184.5h0M66.1 180.9h0M58.2 183.4h0M72.9 189.6h0M50.8 183.6h0M53.1 188.0h0M42.9 188.1h0M78.1 182.1h0M69.8 190.9h0M63.3 178.6h0M66.3 192.5h0M47.8 195.9h0M55.7 197.9h0M66.0 201.6h0M76.5 204.0h0M44.2 203.0h0M73.0 205.5h0M55.1 197.8h0M54.4 196.7h0M47.8 200.7h0M77.8 203.0h0M68.8 206.2h0M71.3 195.1h0M72.7 190.5h0M43.7 199.7h0M78.4 189.4h0M62.1 196.5h0M95.3 164.2h0M101.6 156.9h0M106.1 150.5h0M103.0 152.8h0M96.6 152.2h0M100.1 157.4h0M99.1 154.0h0M104.3 151.4h0M110.0 155.7h0M108.6 150.9h0M105.1 154.8h0M94.3 161.3h0M101.5 151.8h0M96.5 157.5h0M110.5 154.6h0M108.0 157.9h0M109.1 149.4h0M107.0 157.0h0M108.1 155.3h0M96.5 164.0h0M104.1 158.6h0M102.2 147.8h0M106.4 149.9h0M96.6 152.4h0M94.6 163.9h0M99.6 160.1h0M107.7 149.1h0M102.4 151.0h0M99.7 150.7h0M103.1 153.4h0M103.7 150.6h0M105.1 156.0h0M97.6 150.4h0M94.0 160.2h0M103.4 149.0h0M107.8 156.3h0M96.0 163.2h0M99.1 155.6h0M100.3 158.0h0M103.3 154.9h0M95.1 165.7h0M96.0 160.9h0M99.8 148.4h0M107.2 150.4h0M107.6 151.8h0M94.5 161.4h0M95.4 155.9h0M95.3 160.7h0M97.1 162.5h0M94.7 164.7h0M104.2 150.7h0M97.2 150.4h0M106.2 150.6h0M100.4 148.3h0M105.3 155.3h0M107.1 155.9h0M97.1 162.6h0M103.9 146.6h0M94.4 162.6h0M96.4 157.0h0M103.6 158.0h0M99.5 157.8h0M105.9 155.5h0M98.4 159.6h0M101.3 149.7h0M108.7 153.9h0M98.1 150.4h0M102.0 147.9h0M98.9 158.0h0M100.9 158.6h0M100.7 149.3h0M98.9 150.2h0M94.3 161.2h0M102.0 148.4h0M96.0 158.2h0M109.6 151.2h0M98.8 160.4h0M105.4 147.9h0M107.1 148.7h0M102.6 157.5h0M109.8 151.2h0M108.7 152.6h0M97.2 161.8h0M107.1 157.7h0M94.3 158.1h0M98.0 159.8h0M96.1 161.4h0M98.0 158.2h0M100.2 158.1h0M95.5 162.9h0M105.8 156.4h0M107.7 156.8h0M95.4 165.5h0M96.2 163.7h0M98.7 161.1h0M107.8 155.1h0M98.0 150.7h0M106.5 153.1h0M110.4 154.2h0M103.5 152.7h0M100.4 151.2h0M98.0 149.6h0M110.0 154.4h0M101.2 153.9h0M94.4 165.0h0M96.5 176.5h0M94.6 160.1h0M94.9 161.6h0M97.5 171.5h0M97.0 161.1h0M93.7 164.2h0M94.3 164.6h0M95.9 174.7h0M95.3 161.4h0M94.1 158.8h0M98.9 168.6h0M98.2 165.1h0M93.9 168.7h0M95.4 159.2h0M93.9 159.3h0M95.5 163.9h0M98.1 169.7h0M95.7 169.9h0M95.4 172.1h0M97.1 165.4h0M94.4 166.2h0M97.2 172.1h0M95.4 160.1h0M98.2 166.3h0M93.5 161.4h0M98.5 172.1h0M94.4 166.4h0M94.0 167.5h0M97.9 170.1h0M95.3 167.1h0M94.1 166.1h0M94.0 159.7h0M93.7 158.6h0M94.8 168.7h0M98.2 170.2h0M96.1 170.9h0M94.6 171.7h0M94.2 171.7h0M97.6 168.5h0M97.1 165.0h0M94.3 159.6h0M95.5 162.1h0M95.0 160.1h0M111.3 169.1h0M112.6 161.7h0M114.9 178.2h0M114.7 164.6h0M110.2 165.1h0M116.7 177.8h0M111.6 157.1h0M109.4 160.6h0M117.6 176.3h0M113.8 178.2h0M113.9 179.3h0M116.5 174.9h0M114.4 176.0h0M115.1 173.8h0M110.8 166.6h0M110.4 166.9h0M113.3 173.6h0M113.2 169.2h0M117.9 177.6h0M112.7 160.9h0M117.2 179.3h0M115.3 181.3h0M110.4 161.9h0M112.4 169.1h0M117.9 178.9h0M111.1 163.4h0M110.8 159.6h0M112.3 167.9h0M112.9 172.5h0M110.5 158.7h0M118.1 175.3h0M117.1 176.2h0M110.5 163.1h0M115.1 179.0h0M117.2 167.9h0M114.0 177.4h0M113.9 178.9h0M118.6 178.9h0M116.9 177.0h0M111.0 157.7h0M116.7 173.4h0M113.3 169.3h0M110.3 173.3h0M111.2 169.8h0M99.5 173.4h0M107.1 161.2h0M107.2 176.0h0M110.3 176.3h0M100.1 168.8h0M109.5 173.1h0M102.7 173.0h0M102.1 166.4h0M101.5 168.6h0M101.6 162.6h0M103.5 163.5h0M104.4 172.4h0M106.4 173.0h0M100.2 174.3h0M103.4 164.1h0M110.2 171.2h0M120.1 175.5h0M126.0 177.8h0M131.1 175.1h0M124.0 171.8h0M124.6 160.6h0M126.6 173.4h0M121.1 163.5h0M120.6 167.1h0M128.8 175.1h0M125.2 178.3h0M124.4 175.1h0M126.6 167.8h0M128.8 182.1h0M124.9 166.4h0M123.8 171.8h0M126.4 161.2h0M131.1 169.0h0M123.9 174.0h0M122.0 163.9h0M125.6 180.5h0M123.4 171.9h0M124.7 183.2h0M126.7 175.2h0M131.5 180.0h0M128.6 180.2h0M131.5 173.1h0M119.1 163.7h0M124.7 158.7h0M125.6 175.9h0M129.6 164.9h0M125.7 162.8h0M119.2 161.8h0M129.7 173.4h0M129.6 171.0h0M131.0 167.5h0M127.5 164.0h0M122.7 181.9h0M124.0 164.9h0M125.9 168.4h0M125.9 171.8h0M127.1 162.8h0M123.1 179.1h0M125.4 181.3h0M120.4 171.6h0M124.3 169.4h0M121.9 179.7h0M130.1 177.1h0M128.6 170.6h0M123.2 166.2h0M129.5 173.4h0M123.5 178.1h0M120.7 161.9h0M125.1 173.9h0M124.5 164.0h0M129.6 175.3h0M122.4 162.5h0M125.8 175.6h0M127.1 162.6h0M119.2 164.1h0M127.8 176.3h0M120.5 172.8h0M128.6 164.9h0M123.9 181.6h0M126.0 164.3h0M120.9 168.2h0M127.7 178.0h0M128.6 176.7h0M122.5 164.5h0M131.4 174.0h0M125.5 159.8h0M125.0 159.9h0M128.0 176.2h0M123.4 178.0h0M131.9 177.1h0M128.9 173.0h0M123.0 174.2h0M120.7 168.8h0M124.4 163.5h0M127.3 170.2h0M120.2 170.2h0M129.6 170.6h0M104.0 184.0h0M139.2 210.5h0M110.5 183.1h0M141.3 229.3h0M130.8 194.5h0M109.0 200.5h0M104.9 218.7h0M122.3 206.9h0M120.8 195.8h0M97.7 185.8h0M106.3 201.7h0M117.6 222.2h0M129.8 198.2h0M112.8 184.1h0M130.0 211.2h0M132.8 211.9h0M143.9 227.1h0M133.4 219.4h0M125.0 189.8h0M125.1 192.2h0M124.3 192.9h0M111.6 199.4h0M116.2 183.0h0M103.2 209.2h0M126.3 187.2h0M121.4 229.0h0M100.8 187.8h0" stroke="#7CAE00" stroke-width="0.85" stroke-linecap="square" fill="none"/>
<path d="M77.1 174.9h0M78.3 175.1h0M80.2 175.8h0M77.1 175.5h0M79.4 173.2h0M78.8 173.1h0M79.8 174.0h0M79.4 173.9h0M77.6 174.6h0M79.2 174.0h0M141.9 173.0h0M133.8 182.1h0M143.0 175.0h0M131.5 174.7h0M143.9 181.8h0M148.2 175.2h0M143.4 179.3h0M144.6 180.7h0M138.4 173.7h0M146.0 172.9h0M134.5 179.2h0M150.5 179.2h0M151.3 179.2h0M145.6 179.5h0M149.3 178.9h0M149.7 178.4h0M151.0 176.9h0M148.9 173.9h0M147.8 178.0h0M150.1 177.5h0M150.1 179.8h0M149.7 176.3h0M150.6 174.6h0M152.4 175.8h0M153.0 172.9h0M147.9 174.3h0M100.6 182.8h0M97.4 183.7h0M118.9 183.8h0M127.2 184.8h0M102.0 183.5h0M104.6 192.0h0M112.9 189.3h0M114.0 190.1h0M116.2 186.2h0" stroke="#00A9FF" stroke-width="0.85" stroke-linecap="square" fill="none"/>
<path d="M77.0 174.7h0M80.6 173.4h0M78.3 173.6h0M76.1 173.7h0M77.3 173.3h0M79.3 174.9h0M76.0 173.5h0M79.6 175.8h0M80.1 173.0h0M125.0 158.7h0M125.5 153.8h0M126.0 157.7h0M125.2 158.7h0M125.9 159.2h0M125.5 160.1h0M125.3 148.5h0M125.7 148.9h0M122.5 170.8h0M125.1 154.1h0M123.6 165.8h0M120.6 182.2h0M125.2 161.1h0M125.5 148.9h0M125.2 159.6h0M125.7 152.9h0M121.1 175.9h0M126.1 150.8h0M124.5 156.2h0M125.4 159.5h0M122.7 171.9h0M125.1 155.3h0M123.2 166.1h0M125.9 150.9h0M126.5 151.8h0M124.7 150.1h0M126.5 150.2h0M122.7 171.3h0M123.5 164.9h0M124.4 147.8h0M121.7 172.4h0M124.5 158.4h0M121.1 179.7h0M126.7 149.6h0M125.6 151.0h0M123.0 167.2h0M126.2 150.5h0M126.3 154.3h0M124.1 163.1h0M121.3 177.9h0M124.0 161.8h0M121.7 172.3h0M125.5 156.1h0M125.8 153.0h0M122.5 171.0h0M121.7 172.5h0M126.3 148.3h0M123.2 169.1h0M125.3 154.3h0M123.5 163.3h0M122.7 171.3h0M120.2 181.9h0M121.6 177.8h0M121.6 174.6h0M124.3 149.2h0M123.1 169.1h0M123.5 163.4h0M126.6 151.3h0M124.5 152.9h0M124.6 159.6h0M124.6 154.9h0M121.7 176.4h0M124.5 162.0h0M120.1 181.5h0M125.1 149.5h0M124.5 153.7h0M120.6 178.7h0M120.4 181.1h0M124.1 163.0h0M124.6 162.0h0M121.2 178.2h0M125.8 152.2h0M125.8 157.9h0M125.7 151.4h0M123.2 166.2h0M121.6 174.7h0M122.4 170.9h0M125.1 160.7h0M124.7 154.8h0M126.3 155.5h0M126.1 148.5h0M100.0 188.4h0M114.2 185.3h0M98.6 186.0h0M115.0 186.9h0M122.7 187.4h0M114.7 190.0h0M101.7 190.5h0M106.7 190.7h0M99.3 184.5h0M111.2 184.1h0M120.2 182.2h0M114.8 190.4h0M109.6 184.7h0M112.8 186.6h0M103.6 185.9h0" stroke="#C77CFF" stroke-width="0.85" stroke-linecap="square" fill="none"/>
<path d="M124.7 160.8h0M124.6 163.9h0M123.7 163.2h0M126.1 148.8h0M124.6 163.7h0M122.8 170.2h0M126.3 157.0h0M125.6 157.3h0M124.1 160.3h0" stroke="#FF61CC" stroke-width="0.85" stroke-linecap="square" fill="none"/></svg></body></html>
